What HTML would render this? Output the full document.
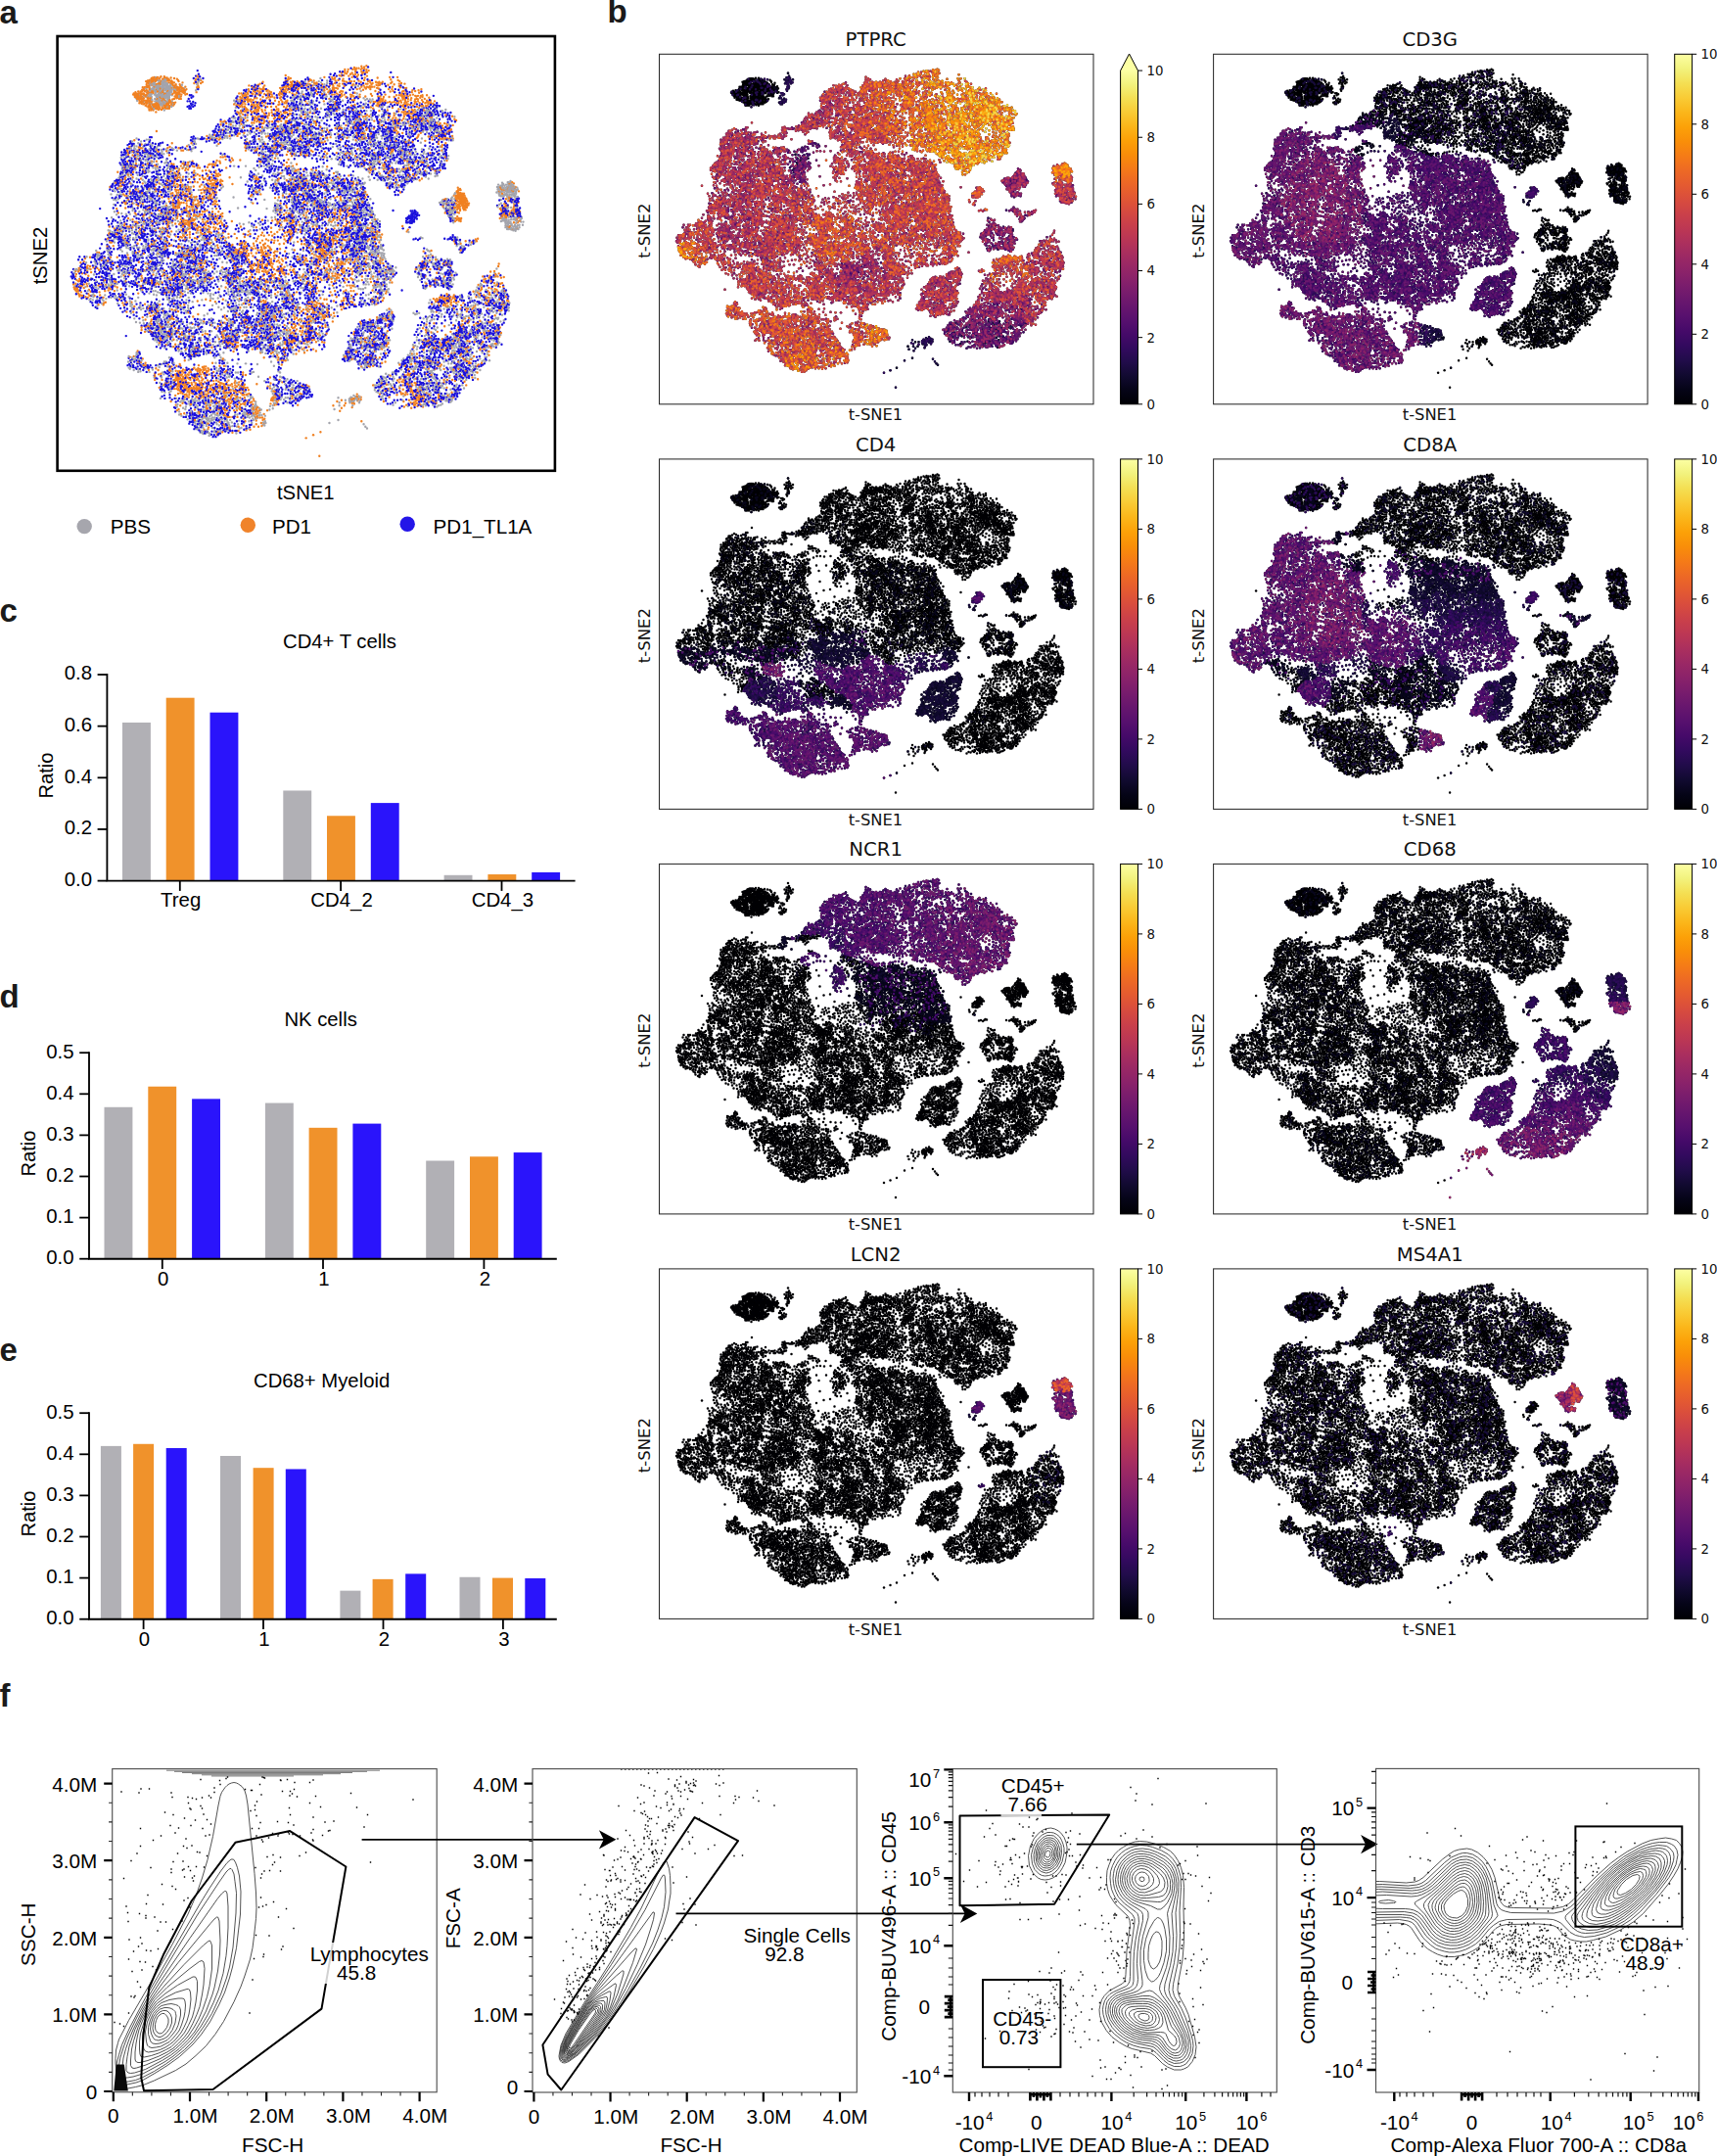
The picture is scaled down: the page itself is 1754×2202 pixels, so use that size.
<!DOCTYPE html><html><head><meta charset="utf-8"><title>Figure</title><style>html,body{margin:0;padding:0;background:#fff}svg{display:block}#all path{vector-effect:non-scaling-stroke}</style></head><body>
<svg width="1754" height="2202" viewBox="0 0 1754 2202" font-family="Liberation Sans,Arial,sans-serif" fill="#000">
<defs><linearGradient id="inf" x1="0" y1="0" x2="0" y2="1"><stop offset="0" stop-color="#fcffa4"/><stop offset="0.04167" stop-color="#f2f27d"/><stop offset="0.08333" stop-color="#f4df53"/><stop offset="0.125" stop-color="#f9cb35"/><stop offset="0.1667" stop-color="#fbb61a"/><stop offset="0.2083" stop-color="#fca108"/><stop offset="0.25" stop-color="#f98e09"/><stop offset="0.2917" stop-color="#f57b17"/><stop offset="0.3333" stop-color="#ed6925"/><stop offset="0.375" stop-color="#e45a31"/><stop offset="0.4167" stop-color="#d84c3e"/><stop offset="0.4583" stop-color="#ca404a"/><stop offset="0.5" stop-color="#bc3754"/><stop offset="0.5417" stop-color="#ab2f5e"/><stop offset="0.5833" stop-color="#9a2865"/><stop offset="0.625" stop-color="#8a226a"/><stop offset="0.6667" stop-color="#781c6d"/><stop offset="0.7083" stop-color="#67166e"/><stop offset="0.75" stop-color="#57106e"/><stop offset="0.7917" stop-color="#450a69"/><stop offset="0.8333" stop-color="#320a5e"/><stop offset="0.875" stop-color="#210c4a"/><stop offset="0.9167" stop-color="#110a30"/><stop offset="0.9583" stop-color="#050417"/><stop offset="1" stop-color="#000004"/></linearGradient><linearGradient id="inf2" x1="0" y1="0" x2="0" y2="1"><stop offset="0" stop-color="#fcffa4"/><stop offset="0.04779" stop-color="#fcffa4"/><stop offset="0.04779" stop-color="#fcffa4"/><stop offset="0.08747" stop-color="#f2f27d"/><stop offset="0.1271" stop-color="#f4df53"/><stop offset="0.1668" stop-color="#f9cb35"/><stop offset="0.2065" stop-color="#fbb61a"/><stop offset="0.2462" stop-color="#fca108"/><stop offset="0.2858" stop-color="#f98e09"/><stop offset="0.3255" stop-color="#f57b17"/><stop offset="0.3652" stop-color="#ed6925"/><stop offset="0.4049" stop-color="#e45a31"/><stop offset="0.4445" stop-color="#d84c3e"/><stop offset="0.4842" stop-color="#ca404a"/><stop offset="0.5239" stop-color="#bc3754"/><stop offset="0.5636" stop-color="#ab2f5e"/><stop offset="0.6032" stop-color="#9a2865"/><stop offset="0.6429" stop-color="#8a226a"/><stop offset="0.6826" stop-color="#781c6d"/><stop offset="0.7223" stop-color="#67166e"/><stop offset="0.7619" stop-color="#57106e"/><stop offset="0.8016" stop-color="#450a69"/><stop offset="0.8413" stop-color="#320a5e"/><stop offset="0.881" stop-color="#210c4a"/><stop offset="0.9206" stop-color="#110a30"/><stop offset="0.9603" stop-color="#050417"/><stop offset="1" stop-color="#000004"/></linearGradient><g id="all">
<path id="a0" d="M209 377h0m0 7h0m4 5h0m-4 7h0m-3-1h0m3 5h0m5-2h0m2 6h0m-1 2h0m0 3h0m-7-1h0m-3 0h0m-6 0h0m2-7h0m-1-6h0m-2-1h0m23 11h0m2-5h0m1-5h0m-2 18h0"/>
<path id="b0" d="M196 386h0m8 4h0m3 2h0m7 1h0m6 0h0m0 4h0m1-9h0m-3 0h0m0-2h0m-15-6h0m-10 19h0m-5 0h0m8 5h0m6 4h0m-1 4h0m-3-1h0m9-1h0m-3-6h0m7-2h0m7 12h0m-6 4h0"/>
<path id="c0" d="M190 393h0m3 2h0m6-3h0m7 9h0m5 7h0m7-1h0m4-5h0m-7-6h0m1-9h0m-4-1h0m-4-5h0m10 2h0m6 7h0m-20 20h0"/>
<path id="d0" d="M193 391h0m3-1h0m8-5h0m4 3h0m5-5h0m-6 21h0m2 1h0m4 0h0m-5 11h0m1 4h0m8-1h0m3-1h0m-22-17h0m-7 7h0"/>
<path id="e0" d="M206 378h0m4 14h0m8 4h0m-2 15h0m-4 10h0m-17-12h0m-6 4h0m-2-7h0m9-12h0"/>
<path id="f0" d="M201 405h0m6 8h0m5 0h0m8-2h0m1-3h0m2-3h0m2-3h0m-6 1h0m-2-3h0m-3 3h0"/>
<path id="a1" d="M155 268h0m6-2h0m1-3h0m7 2h0m3 0h0m4-1h0m4 4h0m2 4h0m5 7h0m-14-2h0m-8 3h0m-2-2h0m-3 2h0m-7 5h0m11 3h0m6 5h0m4 4h0m5-6h0"/>
<path id="b1" d="M149 282h0m19 7h0m6 0h0m4-2h0m6 1h0m2-4h0m-3-2h0m2-5h0m-8-2h0m-7 4h0m4 16h0m-3 2h0m9-33h0"/>
<path id="c1" d="M156 264h0m8-3h0m6 10h0m4-2h0m2-2h0m4 10h0m-4 7h0m5 6h0m-15 1h0m-1-9h0m2-3h0m-15 0h0m-2-3h0"/>
<path id="d1" d="M151 281h0m15 4h0m6 6h0m-4 3h0m-3 0h0m12 4h0m0-16h0m-1-5h0m-2-4h0m-2 1h0m-7-3h0"/>
<path id="e1" d="M165 264h0m3 10h0m0 2h0m-10-2h0m2 14h0m1 4h0m16 1h0m6-15h0m6 3h0m-6-13h0"/>
<path id="f1" d="M151 273h0m5 5h0m1 8h0m6-1h0m9 1h0m8-6h0m-3-10h0m-4 1h0m-4-3h0m-3-1h0m16-1h0m-1-5h0"/>
<path id="a2" d="M447 59h0m6 4h0m9-2h0m4 1h0m5 2h0m-3 3h0m6-7h0m-1-4h0m-7-2h0m-2 3h0m-19 12h0m-1 2h0m-5-2h0m-5 8h0m20 2h0"/>
<path id="b2" d="M433 69h0m2 2h0m4 1h0m-3-5h0m1-2h0m14-3h0m3-4h0m4 3h0m0-7h0m5 12h0m-8 2h0m4 10h0m4-2h0"/>
<path id="c2" d="M451 59h0m6-1h0m6 5h0m3 6h0m4-11h0m-18 16h0m-1 3h0"/>
<path id="d2" d="M443 60h0m4 4h0m8 0h0m-1-4h0m9-6h0m5 10h0m-5 14h0m-27-5h0"/>
<path id="e2" d="M443 57h0m-3 3h0m0 2h0m1 4h0m8 0h0m3-1h0m-4-3h0m12 2h0m2 6h0m6-15h0m-26 21h0"/>
<path id="f2" d="M438 58h0m0 5h0m4 0h0m3-1h0m0 3h0m-4 3h0m3 6h0m2 3h0m5-9h0m7 0h0m2 4h0m-9-15h0m11-6h0"/>
<path id="a3" d="M649 171h0m-3 3h0m-4 7h0m-1 4h0m6-2h0m3 4h0m-5 3h0m0 2h0m11-3h0m1-3h0m6-2h0m2 1h0m3 10h0m-2 2h0m-4 3h0m8 3h0m2-4h0m3-1h0m-1-6h0m3-9h0"/>
<path id="b3" d="M644 171h0m8-4h0m-1 11h0m4 5h0m-4 8h0m2 1h0m-1 2h0m-4-2h0m13 2h0m11-5h0m-1-6h0m-3-9h0"/>
<path id="c3" d="M646 177h0m-4 13h0m15 1h0m3-2h0m6 2h0m4 1h0m7-6h0"/>
<path id="d3" d="M643 174h0m6 5h0m6 0h0m2-5h0m-4-6h0m15 2h0m4 4h0m4 4h0m-2 7h0m-5 3h0m-4 1h0m3-6h0m8 9h0m-23-5h0m-5 2h0m-4-3h0m-3 1h0m1 6h0m5 1h0"/>
<path id="e3" d="M644 180h0m6-6h0m16 5h0m5-2h0m-10 20h0m-2 2h0m-5-2h0"/>
<path id="f3" d="M656 170h0m-4 6h0m8 2h0m-2 5h0m4 8h0m9 5h0m5-6h0m-7-9h0m2-10h0m-24 15h0"/>
<path id="a4" d="M469 424h0m0 6h0m2 1h0m2 2h0m-1 5h0m6 3h0m2-4h0m3 5h0m4 2h0m2 3h0m0 2h0m2 0h0m0 3h0m-10-4h0m-4 2h0m7-18h0m7-1h0m6-3h0m-5-8h0m-7-2h0m-18 14h0m-3-1h0m40 15h0m5-3h0m1 5h0m-3 9h0"/>
<path id="b4" d="M462 418h0m2 2h0m-1 2h0m2 5h0m4 1h0m6 10h0m7 12h0m-1 3h0m-5 0h0m16 2h0m9-6h0m-1-7h0m0-11h0m-7 2h0m-4-2h0"/>
<path id="c4" d="M472 423h0m1 6h0m4 8h0m2 2h0m2 5h0m2 3h0m3 3h0m2-9h0m0-2h0m-2 0h0m0-3h0m3 0h0m1 2h0m5-4h0m3 0h0m7 0h0m-8 10h0m10 7h0m-26-29h0"/>
<path id="d4" d="M471 425h0m5 7h0m-2 10h0m-3 0h0m13 2h0m9 2h0m4-9h0"/>
<path id="e4" d="M461 424h0m1 3h0m4-6h0m8 1h0m4 11h0m-4 2h0m-4-2h0m3 12h0m4 1h0m2 5h0m-7-2h0m9-8h0m3-4h0m-1-2h0m3-7h0m7 13h0m-3 2h0m5 5h0m5-2h0m0-10h0"/>
<path id="f4" d="M464 425h0m11 4h0m3 1h0m1-4h0m-3-2h0m7 3h0m6 0h0m7-7h0m2 19h0m-1 3h0m1 7h0m-5 1h0m-6 4h0m-18-18h0"/>
<path id="a5" d="M335 612h0m9-1h0m4 1h0m0 2h0m3-3h0m2 3h0m0 2h0m2-3h0m6 2h0m0 11h0m-14 0h0m-11 2h0m-2 4h0m5 3h0m8-27h0m-1-5h0"/>
<path id="b5" d="M343 601h0m6 2h0m3 3h0m3-1h0m3 3h0m2-12h0m-21 14h0m-11 6h0m15 11h0m8 4h0m9-9h0m-20 20h0"/>
<path id="c5" d="M341 604h0m-6 12h0m11 3h0m3 4h0m-3 7h0m-9 2h0m0 7h0m14-1h0m7-1h0m0-26h0m-5-1h0"/>
<path id="d5" d="M329 618h0m13-1h0m3-3h0m4 3h0m-6 6h0m4 14h0m10-4h0m0-4h0m3 0h0m-5-20h0m3-4h0m-1-7h0"/>
<path id="e5" d="M350 598h0m10 4h0m1-3h0m0 8h0m-4 10h0m-1 6h0m-2 12h0m-12-1h0m-4-12h0m12-13h0"/>
<path id="f5" d="M353 595h0m-10 11h0m17 4h0m-14 14h0m-12-1h0m17 12h0"/>
<path id="a6" d="M447 275h0m5 1h0m2-3h0m11 4h0m1-7h0m9 9h0m-5 11h0m3 2h0m-1 11h0m-9 3h0m-3 3h0m0-11h0m1-4h0m-1-4h0m-4 3h0m-2 3h0m3-11h0m-11-3h0"/>
<path id="b6" d="M440 281h0m1 3h0m5-7h0m8 1h0m4 11h0m-7 8h0m4 3h0m5 6h0m-3 6h0m15-16h0m4 0h0m0-5h0m-7-15h0"/>
<path id="c6" d="M455 280h0m4 3h0m0-7h0m3-3h0m10 4h0m4 10h0m-12 5h0m-5 1h0m12 6h0"/>
<path id="d6" d="M468 274h0m1 10h0m-6 5h0m3 13h0m-13 0h0m-1-2h0"/>
<path id="e6" d="M456 272h0m-2 4h0m-5 3h0m4 5h0m-1 7h0m8-4h0m3-3h0m-3-4h0m10 8h0m-1 6h0m-5 4h0m-2 3h0m-5 2h0m-1 3h0m17-24h0"/>
<path id="f6" d="M444 288h0m5-2h0m18 2h0m3-8h0m-3 25h0m-15 1h0"/>
<path id="a7" d="M305 121h0m-5 8h0m-3 3h0m-1 4h0m6-3h0m4 5h0m-1 4h0m5 1h0m4-6h0m5-4h0m-5-8h0m-5 6h0m-10 12h0m-6-1h0"/>
<path id="b7" d="M285 146h0"/>
<path id="c7" d="M305 124h0m4 1h0m3-2h0m3 4h0m-10 2h0m4 9h0m-7 2h0"/>
<path id="d7" d="M291 140h0m3-1h0m7-1h0m9-9h0m5 3h0m-1 11h0"/>
<path id="e7" d="M308 127h0m3 6h0m3 7h0m4-2h0m0 5h0m-10 0h0m-5-6h0"/>
<path id="f7" d="M296 141h0m15-1h0"/>
<path id="a8" d="M357 491h0m3 1h0m-2 3h0m1 3h0m2-1h0m3-6h0m-3-3h0m7 6h0m4 2h0m2-2h0m2 2h0m-6 3h0m8 5h0m5-4h0m11 1h0m0 5h0m-4 4h0m-10-24h0m-26 10h0m-3 5h0"/>
<path id="b8" d="M355 506h0m25-2h0m1-2h0m5 0h0m5 0h0m-5 8h0m-3-13h0m-4-2h0m-1-5h0m-4-2h0m4-4h0"/>
<path id="c8" d="M361 479h0m8 3h0m3-1h0m3 4h0m-2 6h0m-2 3h0m0 8h0m-9 1h0m15 6h0m6 8h0"/>
<path id="d8" d="M361 483h0m7 5h0m2-2h0m0 5h0m-4 5h0m1 7h0m7-4h0m3 3h0m9-6h0m4 8h0m-38 4h0"/>
<path id="e8" d="M364 499h0m13 8h0m3 1h0m10-10h0m-8-10h0"/>
<path id="f8" d="M366 483h0m-1 5h0m-1 7h0m3 5h0m9-7h0m4-1h0m-4-10h0m12 23h0m4 2h0m-37-7h0m-1 3h0"/>
<path id="a9" d="M139 518h0m3 4h0m1 3h0m2-5h0m11-2h0m3-7h0m-5 16h0m-3 7h0m2 2h0m6 0h0m6 2h0m4-5h0m4 0h0m1 2h0m2-2h0m-5 8h0m-6-13h0m-18 5h0m-10-3h0"/>
<path id="b9" d="M153 509h0m2 1h0m-2 2h0m-2 7h0m-7 4h0m-1 10h0m-4 1h0m9 4h0m12 2h0m9-5h0m-6-6h0"/>
<path id="c9" d="M141 516h0m7-1h0m7-9h0m9 13h0m-3 6h0m-5-1h0m10 6h0m4 0h0m-1-4h0m6 12h0"/>
<path id="d9" d="M158 508h0m-2 6h0m-3 8h0m5 1h0m0 4h0m-3 5h0m-8-2h0"/>
<path id="e9" d="M139 515h0m6 2h0m3 3h0m3-5h0m6 5h0m5 2h0m-6 15h0m0 4h0m-15-5h0m4-8h0m-7-4h0m38 17h0"/>
<path id="f9" d="M140 528h0m2 3h0m7-7h0m5-8h0m7 2h0m-1 12h0m2 2h0m4 2h0m7-4h0m5 0h0"/>
<path id="a10" d="M335 393h0m5 4h0m0 2h0m5-1h0m1 3h0m4 5h0m0 7h0m2 9h0m5 2h0m1-3h0m-18-8h0m-5 0h0m-5-6h0m-2 2h0m-3 3h0m-1-5h0m4-6h0m5 2h0m2 0h0m12-12h0m5 1h0"/>
<path id="b10" d="M324 403h0m4 2h0m6 3h0m2-2h0m3 2h0m3-3h0m-5-6h0m-1-2h0m3-6h0m6 4h0m3-2h0m-2-8h0m13 8h0m-6 14h0m5 4h0m-8 8h0m-12-5h0m-6 2h0"/>
<path id="c10" d="M329 398h0m8 5h0m7-13h0m7-2h0m-12 31h0m16 3h0"/>
<path id="d10" d="M332 398h0m-1 3h0m2 5h0m9-8h0m14-1h0m-1-6h0m-12 26h0"/>
<path id="e10" d="M319 407h0m7 2h0m3 3h0m7-2h0m7-2h0m1-4h0m-3-2h0m-2-1h0m1-7h0m12 2h0m0 3h0m1 6h0m-3 3h0m-3-1h0m6 5h0m3-3h0m2-4h0m-4 12h0m-6 4h0"/>
<path id="f10" d="M339 406h0m9 5h0m3-8h0m-2-6h0m5-2h0m3 5h0m0-11h0"/>
<path id="a11" d="M75 346h0m3 2h0m0 5h0m2 5h0m2 3h0m6 1h0m7-4h0m3-3h0m2 4h0m5 0h0m2 0h0m2-2h0m-5-3h0m3-8h0m-2-3h0m-3-6h0m1-5h0m-8 9h0m-4 7h0m-5 6h0m-2-1h0"/>
<path id="b11" d="M90 328h0m-3 7h0m2 9h0m4-1h0m2 6h0m-8 2h0m-7 5h0m-7-6h0m6-5h0m24-5h0m5 1h0m-2-6h0m6 1h0m-12-7h0"/>
<path id="c11" d="M82 342h0m3 0h0m10 9h0m-5 4h0m11 1h0m5-6h0m4 10h0m-10-28h0"/>
<path id="d11" d="M83 344h0m10 9h0m11-5h0m-3-8h0m-1-2h0m4 0h0m-27 19h0"/>
<path id="e11" d="M80 339h0m2 8h0m0 3h0m3-3h0m2-1h0m-1 13h0m-7 1h0m19 1h0m0-3h0m9-3h0m-5-10h0"/>
<path id="f11" d="M76 350h0m13-1h0m1 2h0m3 5h0m0 4h0m9-9h0m-2-16h0"/>
<path id="a12" d="M571 96h0m8 1h0m2 8h0m1 3h0m3 1h0m-6 2h0m0 3h0m-4 13h0m20-4h0m1-7h0m3-1h0m2-4h0m-1-3h0m1-3h0m-5-2h0"/>
<path id="b12" d="M563 95h0m9-5h0m9 4h0m4 22h0m3 0h0m-1 4h0m3 5h0m9-13h0m4-4h0"/>
<path id="c12" d="M575 92h0m1 8h0m4 2h0m11 4h0m1 15h0m-1 7h0m-9-5h0m-9-8h0m-4-2h0"/>
<path id="d12" d="M566 88h0m1 6h0m1 12h0m8 0h0m1 11h0m1 4h0m-9-3h0m28 0h0m3-1h0m3-5h0m-5-6h0m-19-19h0"/>
<path id="e12" d="M569 86h0m5 1h0m3 3h0m-12 8h0m11 14h0m14 2h0m6-2h0m-2-12h0m3-1h0m-3 26h0"/>
<path id="f12" d="M568 100h0m4 0h0m8 9h0m3 3h0m5 11h0m1 4h0m-16-6h0"/>
<path id="a13" d="M580 386h0m1 15h0m3 6h0m4-8h0m6 4h0m-1 4h0m4-1h0m-1-8h0m8-3h0m4 8h0m-3 1h0"/>
<path id="b13" d="M582 390h0m2 6h0m5-5h0m6 4h0m0 14h0m-3 1h0m2 2h0m0 4h0m-5-8h0m43-3h0"/>
<path id="c13" d="M576 391h0m4 6h0m3-4h0m5 2h0m0-8h0m11 9h0m5 11h0m-1 3h0m-4 8h0m-2 4h0m-9-12h0m-9-5h0"/>
<path id="d13" d="M592 395h0m-1 2h0m2 3h0m5 12h0m-2 3h0m-4-1h0"/>
<path id="e13" d="M572 395h0m10 3h0m3 2h0m1-6h0m5-8h0m6 5h0m4 4h0m3 4h0m-6 5h0m2 2h0m7 2h0"/>
<path id="f13" d="M586 391h0m8 2h0m6-1h0m1 6h0m0 5h0m-10 2h0m-6-1h0m25 8h0"/>
<path id="a14" d="M285 479h0m-3 7h0m-1 2h0m1 7h0m1 1h0m3 0h0m-5 3h0m-1 6h0m5 0h0m-2 4h0m-9-2h0m0-4h0m0 8h0m2-18h0m15-3h0m0-4h0m4-3h0m3 24h0m-4 4h0m-2 3h0"/>
<path id="b14" d="M276 486h0m9 2h0m10 3h0m2 7h0m6-4h0m-2 16h0m2 3h0m-12-8h0m-13 3h0m-8-4h0"/>
<path id="c14" d="M281 478h0m-2 14h0m6 1h0m4 7h0m-2 9h0m-17-12h0"/>
<path id="d14" d="M276 496h0m18 3h0m1 4h0m9 0h0m-4 9h0m-3 2h0"/>
<path id="e14" d="M268 491h0m9 10h0m7-2h0m7-3h0m11-5h0m2 7h0m-10 19h0m-15-6h0m5-29h0"/>
<path id="f14" d="M276 482h0m3 3h0m-1 13h0m4 8h0m8 3h0m10-12h0"/>
<path id="a15" d="M505 309h0m6 4h0m-4 3h0m0 3h0m-2 2h0m4 1h0m3-1h0m3 2h0m0 3h0m9 1h0m1-7h0m6 2h0m5-1h0m2-6h0m-3-5h0m-4 1h0m-5 1h0m-3 1h0m-5-1h0m-1-6h0m6 1h0m4 0h0m-3-5h0m-25 15h0m1 9h0m6 6h0m17 4h0m3 7h0"/>
<path id="b15" d="M504 313h0m4 0h0m2 5h0m-7 5h0m-1 2h0m-1-4h0m13-11h0m5-5h0m4-1h0m7 4h0m4-2h0m-8 11h0m-3-2h0m0 7h0m-2 7h0m-7 4h0m11 5h0m4 1h0m0-3h0m1-3h0"/>
<path id="c15" d="M502 315h0m8 1h0m3 3h0m7-1h0m1 6h0m4 6h0m0 2h0m4-2h0m3 6h0m-13-4h0m-8 4h0m-12-13h0m19-21h0m15 5h0m3 6h0m0 5h0m-2 2h0"/>
<path id="d15" d="M502 311h0m5-1h0m4-1h0m10 0h0m-2 12h0m-7 7h0m-11 2h0m13 10h0m9 1h0m11-7h0m-1-5h0m4-5h0"/>
<path id="e15" d="M510 302h0m3 13h0m3 1h0m-8 8h0m0 4h0m14 5h0m-5 8h0m11-20h0m10-1h0"/>
<path id="f15" d="M508 305h0m6 1h0m0 2h0m14 1h0m1-5h0m3 1h0m1 10h0m-3 1h0m3 9h0m4 3h0m2-6h0m-7 10h0m-14-6h0m-14 1h0m0 2h0m-1 4h0m-1-15h0"/>
<path id="a16" d="M279 327h0m1 2h0m7 5h0m-10 4h0m-5-1h0m-6 4h0m1 10h0m4 2h0m3 0h0m1-3h0m0-3h0m4 12h0m2 3h0m3 2h0m10 0h0m2-4h0m-3-1h0m8-13h0m-3-22h0"/>
<path id="b16" d="M266 323h0m8 7h0m-1 4h0m5-2h0m4-8h0m10 4h0m6 10h0m4 0h0m-9 4h0m-4-2h0m-1 8h0m3 5h0m-7 4h0m-12-2h0m-2 3h0m-3-2h0m-2-10h0m6 0h0m-3-8h0m32 27h0"/>
<path id="c16" d="M277 328h0m5-2h0m2 2h0m3-2h0m12 4h0m1 4h0m-4 5h0m-16 3h0m-4 1h0m1 13h0m-1 4h0m-5 0h0m-3 0h0m-3 1h0m5-6h0m18 7h0"/>
<path id="d16" d="M268 329h0m-1 2h0m1 3h0m13 5h0m14-8h0m-22 27h0m-10-2h0m1-3h0"/>
<path id="e16" d="M290 325h0m-2 6h0m-3 5h0m9-1h0m5 7h0m-1 5h0m-4 0h0m9 5h0m-23 3h0"/>
<path id="f16" d="M271 330h0m5-4h0m4 9h0m5 4h0m5-3h0m13 7h0m-5 11h0m-10 4h0m-8-8h0m-8-1h0m0-7h0m-7-3h0m-1 10h0m5 14h0m34-38h0"/>
<path id="a17" d="M132 201h0m-3 4h0m7 3h0m1-3h0m9 7h0m-8 8h0m2 4h0m-3 3h0m-5-2h0m-5-1h0m-4 1h0m-1-4h0m-3 1h0m-2-1h0m-3 2h0m3 4h0m-2 8h0m-5 4h0m-5-2h0m4-7h0m14-13h0m3-1h0m2 4h0m5 13h0m13-3h0"/>
<path id="b17" d="M128 201h0m-3 7h0m4 8h0m3-2h0m2 8h0m1 7h0m-4 1h0m0 4h0m-2 3h0m-3 2h0m-8-2h0m3-6h0m-1-4h0m-1-2h0m-2-2h0m0 6h0m-3 2h0m-5 2h0m28 0h0m6-1h0m-1-13h0m2-13h0"/>
<path id="c17" d="M119 208h0m13-4h0m-2-5h0m7 12h0m1 2h0m5 0h0m3 4h0m1-9h0m-14 9h0m-1 3h0m-3 6h0m-5 1h0m2 4h0m-3 1h0m-4 3h0m-4-9h0m10-4h0m17 5h0m-37 6h0"/>
<path id="d17" d="M127 203h0m4 4h0m-10 11h0"/>
<path id="e17" d="M128 198h0m8 4h0m3 8h0m-5 2h0m-6 0h0m-5 2h0m16 2h0m6 5h0m-1 7h0m-3 8h0m-15 0h0m-4 0h0m-8 4h0m-3-3h0m1-11h0"/>
<path id="f17" d="M124 211h0m4-2h0m6 0h0m0-4h0m6 1h0m3 3h0m5 15h0m-14 12h0m-6-7h0m-18-1h0m-3 4h0"/>
<path id="a18" d="M442 566h0m4 1h0m2-2h0m2 1h0m-4 6h0m9 3h0m2 1h0m-2 2h0m5 0h0m0 6h0m4-1h0m2-9h0m-1-4h0m-7-4h0m-9 20h0"/>
<path id="b18" d="M449 569h0m6-4h0m5 9h0"/>
<path id="c18" d="M452 564h0m4 6h0m4-7h0m4 2h0m-13 13h0m-3-1h0m2 6h0"/>
<path id="d18" d="M453 567h0m5-4h0m1 8h0m7 8h0m4 0h0m-1 3h0m-14 0h0m-4-1h0"/>
<path id="e18" d="M443 556h0m2 5h0m-1 7h0m4 12h0m16-12h0"/>
<path id="f18" d="M448 560h0m-3 4h0m9-2h0m2 6h0m-1 5h0m7 3h0m1-3h0m-2-6h0m-17 7h0m3 9h0m5 1h0"/>
<path id="a19" d="M690 96h0m-2 3h0m8-2h0m0 11h0m9 5h0m5-4h0m4 4h0m4 4h0m2-8h0"/>
<path id="b19" d="M689 81h0m6 12h0m5 5h0m-8 4h0m-4 4h0m-4-4h0m3 11h0m3 8h0m10-1h0m-2-6h0m-1-3h0m5-4h0m4 9h0m6-1h0m3 5h0"/>
<path id="c19" d="M691 90h0m-3 4h0m-3 15h0m26 4h0m12 2h0"/>
<path id="d19" d="M691 99h0m10 13h0m-6 6h0m3 6h0"/>
<path id="e19" d="M687 109h0m2 2h0m0 3h0m5-11h0m11 3h0m6-2h0m16 12h0"/>
<path id="f19" d="M693 97h0m2 3h0m0 6h0m-4 2h0m-1-4h0m3 8h0m13-2h0m9 0h0m3 4h0"/>
<path id="a20" d="M568 172h0m1 6h0m4 0h0m-1 3h0m7-1h0m0 7h0m-5 1h0m-3 7h0m-3-2h0m-4-2h0m-3-3h0m-3 4h0m3-10h0m17-10h0m10 4h0m-1 3h0m4 1h0m0-3h0m4-1h0m3 3h0m-1 2h0m2-7h0m-9-7h0m-1 16h0m0 3h0m0 7h0m3 2h0m-10 4h0m-3 2h0m1 5h0m-1 2h0m6 5h0m2-3h0m-5 8h0"/>
<path id="b20" d="M562 176h0m3 1h0m2 2h0m2 8h0m7 3h0m8-4h0m0-4h0m5-4h0m6-6h0m3 15h0m3 5h0m2 3h0m-25 17h0m-5-10h0m-12-9h0"/>
<path id="c20" d="M564 181h0m1 8h0m-6 6h0m4 3h0m8 5h0m4 2h0m2-1h0m-2-4h0m-1-8h0m10 11h0m-10 6h0m17-18h0m1-8h0m-10-7h0m21 13h0m-3 6h0m-2 2h0m2 2h0"/>
<path id="d20" d="M566 183h0m7 14h0m6 1h0m3-3h0m4 0h0m2-6h0m-1-5h0m-5 0h0m-1 5h0m12-1h0m-8-11h0m-3-6h0m9 0h0m-11 32h0m-8 13h0m-16-20h0"/>
<path id="e20" d="M571 172h0m5 8h0m1 3h0m3-1h0m5-3h0m7-4h0m0-10h0m-8 25h0m-3 3h0m-3 2h0m-1-3h0m-12 10h0m-8-3h0m3-13h0m12 21h0m9 3h0m9-2h0m6-7h0m0-8h0"/>
<path id="f20" d="M568 175h0m6 0h0m5 2h0m3 3h0m0 6h0m-4-1h0m-2 10h0m-12 1h0m0-2h0m-4 4h0m8 6h0m23-3h0m10-16h0m-7-6h0m-4-5h0m3-6h0m-8 0h0"/>
<path id="a21" d="M439 120h0m3-2h0m6 0h0m1 9h0m-2 4h0m-5-3h0m-2 3h0m-7 0h0m6 7h0m8 7h0m6-2h0m3-1h0m2-6h0m3 1h0m-5-4h0m-3 16h0m1 3h0m4 1h0m-6 6h0m-3-3h0m-2 1h0m-4 1h0"/>
<path id="b21" d="M437 121h0m2 2h0m0 5h0m4 4h0m2 1h0m0 4h0m0 3h0m5 2h0m8-3h0m3-5h0m2 2h0m-3-7h0m-4 0h0m-6-4h0m-5-5h0m-6 15h0m-5-1h0m-5 3h0m-3-1h0m2-3h0m29 16h0m4 0h0m0-5h0"/>
<path id="c21" d="M432 129h0m2 9h0m-1 2h0m0 3h0m10-8h0m9-8h0m2 13h0m6 2h0m2 5h0m-11 7h0m-2-2h0m0-4h0m-4 7h0"/>
<path id="d21" d="M426 127h0m-1 5h0m12-2h0m7 0h0m1-4h0m-3-1h0m-6-8h0m-2 2h0m16 0h0m9 6h0m1 15h0m-7 7h0m-8 1h0m12 10h0"/>
<path id="e21" d="M434 122h0m-3 16h0m-2 2h0m7 6h0m5 6h0m5-2h0m9 7h0m7-5h0m1-10h0m-14-5h0"/>
<path id="f21" d="M429 126h0m3-1h0m5 8h0m-5 2h0m5 7h0m5 0h0m0-4h0m5-10h0m6 4h0m1 4h0m4 9h0m6 0h0m-7-24h0m-3 1h0"/>
<path id="a22" d="M529 37h0m0 6h0m5-2h0m5 4h0m3-2h0m1-6h0m4 0h0m2 1h0m-3 19h0m-2 5h0"/>
<path id="b22" d="M527 47h0m5-3h0m12 2h0m7 3h0m-1-14h0"/>
<path id="c22" d="M520 41h0m4 6h0m13 6h0m11-3h0m2 10h0m-10-25h0"/>
<path id="d22" d="M522 48h0m14 0h0m5 9h0m-9 1h0m16-13h0m5 1h0m1-11h0m-19 2h0"/>
<path id="e22" d="M523 43h0m6-3h0m-3 13h0m12 4h0m4-7h0m6-9h0m-2-7h0"/>
<path id="f22" d="M525 41h0m10 19h0m4 0h0m7-11h0m6 4h0m-1-11h0"/>
<path id="a23" d="M297 555h0m4 8h0m-6 4h0m1 3h0m-3 2h0m-3-1h0m15 13h0m5-8h0m0-8h0m2-6h0m-2-1h0m6-3h0m6 5h0"/>
<path id="b23" d="M295 547h0m2 14h0m-1 4h0m-3 4h0m-2-2h0m9 8h0m8-6h0m0-3h0m4 7h0m3-2h0m5 0h0m-1-4h0m-6-12h0m-5 27h0m-5 3h0m-15-5h0"/>
<path id="c23" d="M289 576h0m6 3h0m2 9h0m14-9h0m6-2h0m-12-4h0m-6-4h0"/>
<path id="d23" d="M292 556h0m1 5h0m8-4h0m3 2h0m-2 8h0m9-3h0m5 4h0m2-5h0m2 12h0m-7 1h0m1 4h0m-4 4h0m-18-9h0m-6 8h0"/>
<path id="e23" d="M299 566h0m5 0h0m-7 7h0m3 5h0m6-1h0m2 9h0m-10-2h0m-5-2h0m-2-3h0m24-18h0"/>
<path id="f23" d="M289 563h0m-1 7h0m10 7h0m4-4h0m2-5h0m0-5h0m3-3h0m6 6h0m0 3h0m-3 4h0m6 2h0m-4 7h0m-17 4h0"/>
<path id="a24" d="M222 219h0m4 0h0m-5 8h0m-1 4h0m3 6h0m6 1h0m-3 5h0m0 3h0m3 1h0m3 4h0m8-1h0m6-1h0m-9-8h0m5-8h0m8 3h0m-21-6h0"/>
<path id="b24" d="M222 221h0m1 12h0m9-3h0m1 3h0m3 4h0m6-1h0m1 4h0m-5 6h0m-5-3h0m-1 3h0m-3 4h0m-5-2h0m10 4h0m20-27h0"/>
<path id="c24" d="M223 231h0m10 8h0m7-1h0m-1-4h0m0-3h0m6-1h0m6 3h0m-1 6h0m-1 3h0m-21 2h0m-2 6h0"/>
<path id="d24" d="M222 224h0m5 9h0m-1 5h0m-8 5h0m18-14h0m-3-4h0m14 15h0m-2 5h0m-3 7h0"/>
<path id="e24" d="M226 223h0m3-1h0m7 0h0m5 7h0m5-4h0m-1 11h0m4 8h0m-5 4h0m-3 0h0m-7 0h0m-2-12h0"/>
<path id="f24" d="M226 228h0m9 4h0m9 5h0m3 0h0m0-4h0m3-8h0m-17-4h0m-9 19h0m5 2h0m7 3h0m5-1h0m-20 3h0"/>
<path id="a25" d="M390 360h0m4 3h0m4 4h0m-5 4h0m-4 7h0m9 3h0m10 4h0m9-8h0m3-1h0m-3-3h0m-3 1h0m-1-3h0m4-2h0m-21-12h0"/>
<path id="b25" d="M388 362h0m-1 3h0m7-7h0m5 3h0m-2 4h0m11 1h0m3-7h0m-2-4h0m-3 2h0m-4-5h0m15 4h0m3 10h0m-9 14h0m-8-2h0m-6 0h0m-3 7h0m8-1h0m-15-9h0m34-35h0"/>
<path id="c25" d="M388 368h0m13-12h0m12 9h0m-3 4h0m1 5h0m8-3h0m-14 14h0"/>
<path id="d25" d="M390 374h0m10 6h0m1-10h0m8 3h0m6-2h0m-1-3h0m6 11h0m-5-26h0m7-1h0"/>
<path id="e25" d="M389 364h0m7-4h0m10 12h0m9-10h0m-5-12h0m1 36h0m-15-1h0"/>
<path id="f25" d="M392 361h0m4 10h0m2 4h0m-6 1h0m3 5h0m-3 1h0m16-11h0m4 6h0m2 5h0m8-34h0m2-4h0m-7 3h0"/>
<path id="a26" d="M43 394h0m5-4h0m2-1h0m8 6h0m5-1h0m1 4h0m-6 3h0m-5 7h0m-5 2h0m0-4h0m-1-2h0m-1-3h0m-3 0h0m-2 2h0m9 12h0m15 2h0m1-6h0m4-4h0m-3-3h0"/>
<path id="b26" d="M53 390h0m-1 4h0m3 2h0m-6 3h0m2 6h0m6 9h0m-3 4h0m9-8h0m9-14h0m5-8h0"/>
<path id="c26" d="M42 398h0m19 1h0m6-5h0m4-9h0m-6 21h0"/>
<path id="d26" d="M39 392h0m8 3h0m7-8h0m8 1h0m1 31h0"/>
<path id="e26" d="M45 388h0m5-2h0m1 12h0m3 0h0m-9 5h0m-2 2h0m2 2h0m4 5h0m3 1h0m3 1h0m6 2h0m7-2h0m0-27h0m-29 8h0m1 5h0"/>
<path id="f26" d="M42 386h0m3 12h0m7 3h0m8 5h0m-3 11h0m-13-6h0m11-19h0m2-3h0m2-3h0m-4-2h0m5 7h0m5-2h0m0-4h0m6 2h0m2-1h0m-4 12h0m3 3h0m2-2h0m-1 5h0"/>
<path id="a27" d="M588 214h0m3 3h0m3 0h0m1 4h0m4-2h0m2 3h0m2-5h0m2-9h0m4-6h0m5-1h0m3 5h0m6-3h0m2 11h0m3 8h0m-5 12h0m3 5h0m-7 2h0m1 5h0m-5-13h0m-4-2h0m1-2h0m-3 3h0m1 3h0m-4-8h0m10-11h0m-9-19h0m28 40h0"/>
<path id="b27" d="M593 219h0m4-3h0m11-3h0m3 1h0m-3 5h0m7 8h0m6-2h0m0-7h0m6-1h0m5 16h0m0 8h0m-7 5h0m-3-8h0m-9-31h0m3-4h0"/>
<path id="c27" d="M599 203h0m5 0h0m6 4h0m-3 3h0m-1 6h0m3 11h0m-3 7h0m12-7h0m4-6h0m-4-7h0m3-5h0m-1-2h0m-1-3h0m-6 0h0m-3-6h0m-18 13h0m34 19h0m3 12h0"/>
<path id="d27" d="M602 202h0m10 8h0m-2 7h0m3 3h0m-2 5h0m0 2h0m-3 2h0m13 2h0m1-3h0m5 5h0m4-9h0m-30-8h0m-5-2h0m-3 0h0"/>
<path id="e27" d="M588 221h0m10 1h0m7-3h0m1 2h0m12 13h0m6-9h0m4-12h0m0-5h0m-1-5h0"/>
<path id="f27" d="M604 199h0m3 1h0m0 4h0m-4 6h0m-3-3h0m9-12h0m7 14h0m7-2h0m-6 14h0m-2 8h0m-11 1h0m0-3h0m26 4h0m2-3h0"/>
<path id="a28" d="M484 279h0m2 0h0m6-4h0m2-2h0m0 10h0m-5 4h0m-10-2h0m21 4h0m2 1h0m0-4h0m9-7h0m1-3h0m-4 0h0"/>
<path id="b28" d="M478 282h0m4 3h0m2 3h0m3-1h0m-8 1h0m5-12h0m4-1h0m7 2h0m5-1h0m0 3h0m-2 4h0m9 0h0m-14 14h0m-5 5h0m8 3h0m-1 2h0m4-3h0"/>
<path id="c28" d="M491 278h0m12 5h0m0 5h0m-3 4h0m-2 4h0m6 0h0m4 2h0m4-1h0m-1-5h0m1-7h0m-24 12h0m-8 0h0m-1-3h0m17 16h0"/>
<path id="d28" d="M480 277h0m2 4h0m6-3h0m0 6h0m1 9h0m6 1h0m-12 4h0m-3-7h0m17-18h0m7 1h0m1 29h0m-2 4h0"/>
<path id="e28" d="M489 281h0m14-5h0m6 9h0m-1 3h0m-3 3h0m-10 11h0m5 6h0m-22-9h0"/>
<path id="f28" d="M492 282h0m5-2h0m9-1h0m4 3h0m-4-11h0m-13 20h0m-10 10h0"/>
<path id="a29" d="M359 132h0m3 4h0m2-1h0m-5 4h0m-6 0h0m9 11h0m-4 7h0m-3 5h0m0 5h0m-4 1h0m-3-8h0m1-5h0m15 3h0m-2 9h0m5 0h0m-2 9h0m4-31h0m1-6h0m0-7h0m9 9h0"/>
<path id="b29" d="M358 144h0m10 4h0m0 6h0m-6 2h0m-5 8h0m-2 1h0m-3 0h0m3 5h0m6 0h0m3 0h0m4 1h0m4-6h0m4-8h0"/>
<path id="c29" d="M347 143h0m12-7h0m10 0h0m4-1h0m3 4h0m-2 14h0m-3 16h0m-4 4h0m-17-1h0m-1-5h0m1-4h0m1-5h0m5 1h0"/>
<path id="d29" d="M342 151h0m7-2h0m2 12h0m6 6h0m8-6h0m2-4h0m4 4h0m-5-10h0m-1-3h0m11-15h0"/>
<path id="e29" d="M362 130h0m-6 11h0m-3 5h0m-7 1h0m6 6h0m14-11h0m13 2h0m0 6h0m1 4h0m-4 1h0"/>
<path id="f29" d="M361 141h0m13 2h0m0 5h0m-9 6h0m-5 7h0m-7-1h0m7 12h0m9 3h0m6-46h0"/>
<path id="a30" d="M539 92h0m5 6h0m-2 7h0m2 3h0m0 3h0m3 2h0m0 3h0m-4 0h0m-5 4h0m-2 4h0m2 3h0m11 1h0m1 3h0m2 1h0m-1 4h0m-3 3h0m6-13h0m-1-1h0m5-4h0m-4-6h0m-1-3h0m-2-2h0m-2-1h0m2 8h0m9-9h0m-2-2h0m0-14h0m-21 15h0m-4-6h0m-1 15h0m4 0h0m25 13h0m2-2h0m3 0h0m3-1h0"/>
<path id="b30" d="M540 101h0m-3 10h0m-7 3h0m1 6h0m9 3h0m4-3h0m3-1h0m2-5h0m7-2h0m0 7h0m4 7h0m-9 0h0m-6 10h0m21-25h0"/>
<path id="c30" d="M541 97h0m6-1h0m-3 8h0m-8-1h0m20 6h0m-1 7h0m7 0h0m4-1h0m1 5h0m-3 10h0m-7 3h0m-4-3h0m-4 5h0m-2-2h0m-1-8h0m3-5h0m8 4h0m5-23h0"/>
<path id="d30" d="M548 106h0m10-5h0m1 12h0m-5 10h0m-9 6h0m-3-1h0m-7-1h0m-3-3h0m2-3h0m6-6h0m29 7h0"/>
<path id="e30" d="M550 102h0m1 5h0m8-9h0m-5 22h0m-3 1h0m-3 2h0m-7 2h0m23-5h0"/>
<path id="f30" d="M544 91h0m8 3h0m1 5h0m3-1h0m-9 2h0m-4 2h0m-4 6h0m-3-8h0m17 7h0m11-1h0m0 18h0m-6 6h0m-2-2h0m-1 3h0m-2 4h0m-6-5h0m-3 3h0"/>
<path id="a31" d="M178 464h0m5 4h0m-4 6h0m-4 0h0m7 5h0m-1 2h0m3 0h0m-1 5h0m7-1h0m1 2h0m3 2h0m-2-7h0m-3-3h0m5-1h0m6 4h0m6-8h0m-8-9h0m-6 5h0m-6-9h0m2-7h0m9 0h0m2 3h0"/>
<path id="b31" d="M191 453h0m2 3h0m2-2h0m-5 3h0m1 3h0m3 7h0m1 3h0m2 1h0m4 0h0m4 0h0m-3 7h0m-6 4h0m-2 2h0m-5 3h0m-3 1h0m0-3h0m0-7h0m0-4h0m0-2h0m3-4h0m-7-3h0m-7 5h0m27-8h0"/>
<path id="c31" d="M180 461h0m-4 5h0m1 6h0m4 3h0m12-2h0m5-6h0m3-1h0m-6-2h0m0-3h0m1 24h0"/>
<path id="d31" d="M184 458h0m0 3h0m1 2h0m-6 5h0m4 8h0m4 0h0m11 5h0m2-12h0m4-1h0m-5-7h0m-2-2h0"/>
<path id="e31" d="M188 457h0m1 7h0m3 0h0m5-2h0m7 3h0m-5 7h0m-1 3h0m1 3h0m-4-4h0m-4 5h0m-4-11h0m-15 5h0m18 18h0"/>
<path id="f31" d="M174 468h0m7 1h0m8 2h0m3-4h0m-2-2h0m2 11h0m-4 6h0m-9-4h0m24-4h0"/>
<path id="a32" d="M553 254h0m3 6h0m-6 2h0m-2-3h0m0 7h0m-1 2h0m3-1h0m5 0h0m4 1h0m1-3h0m4-2h0m2-2h0m-3-2h0m1-7h0m-3-1h0m8 3h0m-1 15h0m3 3h0m4 2h0m5 4h0m-2 5h0m-12 3h0m-5-1h0m-1 3h0m-4-4h0m-3-2h0m-1-6h0m12 4h0m14-12h0"/>
<path id="b32" d="M550 258h0m-3 5h0m-4 7h0m5 1h0m6 2h0m6-1h0m4-3h0m2 2h0m1 5h0m2 0h0m3 2h0m0 3h0m3-1h0m1-3h0m1-5h0m-3-2h0m0-3h0m-4-1h0m1-7h0m4-6h0m-13 3h0m-3 0h0m-4-2h0m-5 25h0m-1 2h0m10 4h0m24-5h0"/>
<path id="c32" d="M550 254h0m7-2h0m4 6h0m-8 4h0m-1 3h0m0 4h0m2 11h0m23 0h0m-11-30h0"/>
<path id="d32" d="M553 257h0m1 2h0m6 3h0m2 3h0m-5 2h0m0 4h0m2 5h0m-3 1h0m3 3h0m-9 4h0m1-13h0m-6-6h0m21-8h0m3 6h0m4 0h0m-2 24h0"/>
<path id="e32" d="M544 262h0m14 1h0m-1 11h0m-4 4h0m0 7h0m9-3h0m4 0h0m-3-6h0m0-3h0m15 3h0m1-2h0"/>
<path id="f32" d="M559 253h0m-4 10h0m-10 5h0m4 7h0m9 7h0m10-3h0m1-8h0m-2-4h0m8 16h0m-7 5h0m3-39h0"/>
<path id="a33" d="M398 289h0m9 1h0m3 2h0m-3 2h0m5-6h0m5 16h0m4 5h0m-2 6h0m4 8h0m-15-1h0m-6-11h0m-4 3h0m-2-6h0m11 0h0m-27 1h0"/>
<path id="b33" d="M396 293h0m8 3h0m6 2h0m9 8h0m-3 6h0m-8 4h0m-6 1h0m21 17h0"/>
<path id="c33" d="M415 291h0m1 9h0m-4 0h0"/>
<path id="d33" d="M411 328h0m8-1h0"/>
<path id="e33" d="M408 287h0m4 7h0m9 7h0m-8 16h0m-24-8h0"/>
<path id="f33" d="M404 287h0m10 9h0m-3 8h0m-15-3h0m-4 12h0m10 9h0m18-2h0m0-31h0"/>
<path id="a34" d="M361 209h0m1 5h0m0 3h0m-2 5h0m9 0h0m3 4h0m2-2h0m1-7h0m-7 13h0m2 2h0m2 2h0m1-2h0m3 3h0m-9 0h0m-8-3h0m-4-1h0m1 9h0m-1 3h0m1 9h0m8-7h0m6-1h0m2 1h0m-4 8h0m3 7h0"/>
<path id="b34" d="M357 211h0m12 3h0m-16 10h0m14 18h0m5-2h0m-9 9h0m-3 9h0m24-4h0"/>
<path id="c34" d="M365 215h0m2 4h0m3 1h0m3 0h0m-3-3h0m-1 10h0m6 11h0m-5 4h0m-2-2h0m-7 6h0m-2 2h0m4 12h0m14-15h0"/>
<path id="d34" d="M359 207h0m0 9h0m8 8h0m13 8h0m-16 7h0m-3 3h0m-4-6h0"/>
<path id="e34" d="M341 217h0m22 3h0m-1 13h0m0 3h0m7 0h0m6 5h0m2-8h0m2-5h0m-6-17h0"/>
<path id="f34" d="M357 214h0m0 6h0m4 10h0m-11-1h0m15-17h0m11 11h0m-1 7h0m6 7h0m-21 17h0"/>
<path id="a35" d="M221 260h0m-2 8h0m3 6h0m5-6h0m4-6h0m-2-6h0m-1-2h0m10 5h0m6 5h0m-1 4h0m-1 2h0m-3 2h0m-4 2h0m-2 8h0m-7 3h0m22-19h0"/>
<path id="b35" d="M221 253h0m-2 6h0m4 6h0m2 7h0m-1 3h0m2 2h0m-6 3h0m14-10h0"/>
<path id="c35" d="M226 261h0m4 3h0m6 8h0m-9 2h0m-4 4h0m1 5h0m13-29h0"/>
<path id="d35" d="M219 255h0m0 9h0m2 2h0m5-1h0m4 2h0m4-8h0m9 13h0m-16 10h0"/>
<path id="e35" d="M222 250h0m2 6h0m2 2h0m-3 2h0m-3 11h0m5 9h0m6-1h0m5-1h0m3-3h0m3 0h0m-3-7h0m2-13h0"/>
<path id="f35" d="M220 262h0m3 6h0m5-3h0m1-2h0m-1-4h0m3 0h0m12 1h0m1-4h0m-16 22h0m-8-2h0"/>
<path id="a36" d="M514 127h0m1 9h0m3 4h0m5-2h0m7 7h0m3 1h0m11-3h0m-1-3h0m-22 10h0m-4-1h0m-6-4h0m-9-6h0m11 17h0m4 1h0m3 1h0"/>
<path id="b36" d="M511 130h0m6 2h0m3 5h0m6 5h0m1 3h0m-2 4h0m0 4h0m7 3h0m3-10h0m4 0h0m3-3h0m-8-2h0m-3-1h0m-2-1h0m4-3h0m-6-9h0m-22 11h0m-4 7h0m7 16h0m7 4h0"/>
<path id="c36" d="M512 135h0m6 0h0m2-2h0m3 2h0m8-5h0m9 4h0m-7 17h0m-8-5h0m-8-1h0m5 9h0m-19-4h0"/>
<path id="d36" d="M516 130h0m7 14h0m4 4h0m4-5h0m13 11h0m-31-3h0m-9-5h0"/>
<path id="e36" d="M503 143h0m12 0h0m-1-11h0m8-1h0m6 4h0m8 4h0m4-2h0m6 9h0m-2 3h0m-8 1h0m-8 0h0m-15 11h0"/>
<path id="f36" d="M518 126h0m0 4h0m17 1h0m6 10h0m-5 16h0m-6 2h0m0 2h0m-11 2h0m-1-11h0m2-5h0"/>
<path id="a37" d="M667 139h0m7 6h0m11 2h0m9 4h0m5-8h0m3-10h0m-9 1h0m-2-2h0m0-3h0m1-4h0m-4 7h0m-11 2h0m-2-2h0"/>
<path id="b37" d="M674 134h0m1 3h0m3 0h0m3 7h0m5-2h0m4-4h0m5 4h0m0-8h0m3-2h0m3-1h0m-7-1h0m-10-2h0m-1 3h0m0 18h0m8 5h0m-9 5h0m1 6h0"/>
<path id="c37" d="M670 139h0m13-5h0m12-8h0m4 3h0m2-2h0m-3 19h0m-2 2h0m-3 0h0m-7 2h0m1 4h0m-7-5h0"/>
<path id="d37" d="M682 127h0m5 1h0m0 7h0m-4 1h0m1 3h0m-3-6h0m-11 8h0m19 7h0m2 2h0m6-10h0m-2-3h0"/>
<path id="e37" d="M671 135h0m1 2h0m5 5h0m3-13h0m10 5h0m3 6h0m-2 1h0m9 0h0m-10-18h0"/>
<path id="f37" d="M669 137h0m17-6h0m-1-6h0m2-1h0m5 12h0m5 0h0m-8 8h0m10 4h0m-1 6h0m-3 4h0m-7 3h0m-6-8h0"/>
<path id="a38" d="M479 374h0m2 8h0m-5 2h0m0 3h0m11 1h0m11-4h0m3 1h0m6 12h0m-25 9h0m-4 4h0m-11 1h0m-3 0h0m5-12h0m3 0h0m-5-3h0m-1-4h0"/>
<path id="b38" d="M469 379h0m6-1h0m2-3h0m4 4h0m2 0h0m-2 7h0m-8 11h0m3 6h0m0 4h0m-3 4h0m1 4h0m-2 3h0m-3-6h0m-4 5h0m-3-3h0m-2-5h0m2-5h0m3 2h0m5-2h0m-12-1h0m-3 2h0m35 2h0m3-7h0m8 2h0m-5-20h0"/>
<path id="c38" d="M464 389h0m2 13h0m7 3h0m2-7h0m3-7h0m0-12h0m5-8h0m6 8h0m3 0h0m1-4h0m5 3h0m-6 10h0m9 8h0m-15 10h0m3 6h0m-21 6h0m-1-2h0"/>
<path id="d38" d="M470 373h0m0 2h0m2 2h0m0 12h0m5 8h0m-5 5h0m-3 13h0m14-2h0m1-22h0m9-9h0m3-3h0m-9-4h0"/>
<path id="e38" d="M476 369h0m-2 5h0m11 11h0m11 2h0m4-6h0m-3-6h0m8 16h0m-27 3h0m1 7h0m-7 6h0m-4 1h0m-4-12h0m-4-2h0"/>
<path id="f38" d="M463 393h0m-2 3h0m0 4h0m-3-1h0m12-6h0m2-9h0m11-7h0m3 2h0m0-7h0m5 12h0m8 3h0m-2 4h0m-22 10h0m-5 7h0m8 10h0"/>
<path id="a39" d="M315 325h0m4 6h0m3-1h0m8 4h0m-6 8h0m-2-1h0m-2-2h0m6 11h0m2 1h0m3-2h0m2 0h0m8-1h0m2 3h0m0 5h0m4-1h0m0 4h0m-4 2h0m-8-2h0m-1 2h0m-11-6h0m-10-3h0m-2-3h0m-6-3h0"/>
<path id="b39" d="M305 332h0m3 7h0m6-12h0m8 10h0m8 2h0m-2 5h0m1 4h0m6 2h0m2 3h0m3-3h0m-2-2h0m-21 3h0"/>
<path id="c39" d="M317 329h0m8 2h0m1-2h0m2 12h0m3 1h0m-10 2h0m-2 4h0m-5-4h0m11 9h0m3 3h0"/>
<path id="d39" d="M311 326h0m0 5h0m-3 4h0m3 6h0m-3 4h0m9 0h0m-1-7h0m8-1h0m4 1h0m-1 9h0m3 6h0m0 7h0m7-5h0m7-1h0m0-5h0m-9-2h0m-14 8h0m-1-28h0"/>
<path id="e39" d="M305 341h0m10 7h0m7 1h0m2-1h0m7-3h0m-6-5h0m1-5h0m-2-1h0m-5 2h0m6 20h0m8 0h0m16 5h0m-33-2h0m-8-1h0"/>
<path id="f39" d="M307 326h0m7 7h0m2-1h0m5 2h0m6-1h0m-2 12h0m-6-2h0m4 15h0m11-5h0m4 6h0m9-11h0"/>
<path id="a40" d="M519 212h0m4 9h0m-1 2h0m-2 2h0m-4 0h0m-1 7h0m-4 1h0m-3-2h0m12 9h0m7-5h0m2 1h0m-4-7h0m3-3h0m6 0h0m1-2h0m-1-3h0m-2-2h0m-6 1h0"/>
<path id="b40" d="M513 208h0m3 0h0m0 4h0m5 3h0m-5 7h0m6 3h0m2 9h0m4 4h0m-12-3h0m-1 2h0m-2-4h0m-5 2h0m2 3h0m-6-1h0m6-9h0m-6-2h0m5-10h0"/>
<path id="c40" d="M509 210h0m7 7h0m3 2h0m9 4h0m1-2h0m7-7h0m-18 16h0m2 6h0m-13 1h0m-2-15h0"/>
<path id="d40" d="M505 202h0m5 19h0m3 5h0m5 1h0m3 0h0m4-1h0m5 7h0m2 2h0m-14 2h0m-12-2h0"/>
<path id="e40" d="M508 224h0m-1 4h0m6-8h0m3 0h0m9 4h0m9 6h0"/>
<path id="f40" d="M507 218h0m6-3h0m3 13h0m7 3h0m4 1h0m2-1h0m-1-17h0"/>
<path id="a41" d="M351 356h0m4-2h0m4 9h0m-2 2h0m2 5h0m3 1h0m0-3h0m10-1h0m1-2h0m7 0h0m3 4h0m3-6h0m-12 12h0m3 11h0m6 0h0m-17-2h0m-14-7h0m17-24h0"/>
<path id="b41" d="M360 366h0m-1 9h0m-3 11h0m14-16h0m4 1h0m9 3h0m-2 7h0m1-21h0m-2-3h0m-8 1h0"/>
<path id="c41" d="M353 358h0m3 4h0m-2 4h0m-4 7h0m11 1h0m2 0h0m4 4h0m-5 5h0m21-4h0m-7-16h0m-5-8h0m-10 2h0m0 3h0"/>
<path id="d41" d="M365 364h0m7-2h0m2 0h0m1-7h0m5 13h0m-22 15h0"/>
<path id="e41" d="M357 358h0m6 5h0m3-2h0m13 1h0m1 11h0m6-1h0m-16 2h0m-9 5h0m-2 8h0m13-1h0m-17-13h0"/>
<path id="f41" d="M367 350h0m10 8h0m6 0h0m2 9h0m-8 0h0m-8-4h0m-4 9h0m-6 0h0m-8 11h0m24 3h0m2-3h0"/>
<path id="a42" d="M400 500h0m-2 2h0m9 0h0m4-3h0m5 5h0m6 0h0m-1 5h0m-3 4h0m2 2h0m5-1h0m3-9h0m-1-3h0m-1-3h0m-2-3h0m1-5h0m-1-3h0m-5 0h0m-4 30h0m-6 19h0m-14-22h0m-2 1h0"/>
<path id="b42" d="M406 498h0m6-1h0m0-4h0m4 3h0m2-3h0m-1-3h0m11 0h0m2 6h0m1 4h0m6 5h0m-13 13h0m2 3h0m-15 0h0m-1-12h0m-4 1h0m0-4h0m-3 0h0m-3 9h0m1 16h0"/>
<path id="c42" d="M409 496h0m-7 7h0m-3 5h0m-3 2h0m11 3h0m2 4h0m-1 4h0m7 1h0m3 0h0m4 0h0m-7 7h0m6-17h0m-2-5h0m0-6h0m5 0h0m-3-7h0m0-3h0m7 2h0m13 18h0"/>
<path id="d42" d="M399 504h0m4 11h0m13-5h0m-4-8h0m13-9h0m2 4h0m3 6h0m0 3h0m2 2h0m-6 3h0m-10 14h0m-3 10h0"/>
<path id="e42" d="M396 506h0m5 6h0m4 5h0m-9 7h0m14 4h0m7-13h0m12-14h0m4 3h0m3 7h0"/>
<path id="f42" d="M396 498h0m13 1h0m5 7h0m4-2h0m1 15h0m-6 0h0m-4 6h0m1 8h0m11-46h0"/>
<path id="a43" d="M339 460h0m-2 4h0m5 0h0m-4 6h0m-2 5h0m-2 1h0m-2-5h0m-3 2h0m-2 0h0m-1 4h0m2 2h0m-2 1h0m5 3h0m4 1h0m3-2h0m9-6h0m5-4h0m3 11h0"/>
<path id="b43" d="M324 482h0m3 3h0m6-4h0m3-3h0m-3-4h0m12-3h0m11 5h0"/>
<path id="c43" d="M327 482h0m7-3h0m10 2h0m5-2h0m3 1h0m-3 6h0m6-13h0"/>
<path id="d43" d="M330 481h0m2 5h0m17 3h0m3 0h0"/>
<path id="e43" d="M332 468h0m8 6h0m4 1h0m1-9h0m-14 12h0m6 7h0m15-1h0m4 3h0"/>
<path id="f43" d="M337 467h0m-2 4h0m5 0h0m9 4h0m4 1h0m-11 13h0m-7-1h0m12 8h0m4 2h0"/>
<path id="a44" d="M539 331h0m4-3h0m1 4h0m5 1h0m0 3h0m4 3h0m2 3h0m1-5h0m1-6h0m3-2h0m4-2h0m-5-3h0m-5 5h0m-3 1h0m-3-7h0m21 11h0m-7 16h0m-22 1h0m0-3h0"/>
<path id="b44" d="M541 322h0m10 5h0m2-2h0m2 0h0m7 0h0m-2 6h0m5 0h0m0 3h0m2 6h0m-11-1h0m0 10h0m-12 0h0m-1 5h0m3-13h0m-1-3h0m-5-2h0"/>
<path id="c44" d="M535 337h0m2 3h0m-4 2h0m14-7h0m7 0h0m5 5h0m4-1h0m2 9h0m-12 2h0m-5 3h0m3-11h0"/>
<path id="d44" d="M546 324h0m2 2h0m8 1h0m2-1h0m-3 7h0m2 1h0m3 3h0m-10 2h0m2 5h0m-4 4h0m-6-3h0m-4 1h0m2-7h0m3-1h0m0-3h0m13 18h0m12-26h0"/>
<path id="e44" d="M551 324h0m2-2h0m11 1h0m3 1h0m3 7h0m-5 11h0m-5 5h0m0 3h0m-6-4h0m-5 4h0m2 3h0m-4-7h0m1-3h0m-1-4h0m-4 3h0m-3 1h0m11-8h0"/>
<path id="f44" d="M536 332h0m10 0h0m0-2h0m-1 13h0m-1 3h0m6 1h0m9-3h0m5-7h0m-3-2h0"/>
<path id="a45" d="M549 287h0m5 10h0m5 4h0m1 2h0m5 9h0m2 1h0m-2 2h0m0 5h0m2 1h0m-5 1h0m-12-2h0m0-3h0m-1-3h0m1-4h0m-4-1h0m-1 2h0m-2-1h0m-4-4h0m4-3h0m-1 15h0m4 2h0m22-27h0m-2-3h0"/>
<path id="b45" d="M543 296h0m2 3h0m8-5h0m1-2h0m4 2h0m-1 5h0m5 2h0m2-4h0m3 2h0m0 4h0m-11 9h0m-2 5h0m5 4h0m-20-8h0m-1-4h0"/>
<path id="c45" d="M548 290h0m-2 2h0m1 3h0m6 5h0m3-8h0m10 14h0m-5 5h0m-5 5h0m-12 0h0m-4-15h0"/>
<path id="d45" d="M542 298h0m9-3h0m0-4h0m14 18h0m-2 4h0m3 4h0m-7 0h0m-6-3h0m-9 4h0m-3-3h0"/>
<path id="e45" d="M549 292h0m-1 6h0m3 4h0m-2 4h0m3 1h0m5 2h0m4-2h0m2 2h0m-2-12h0m-16 9h0m2 7h0m8 6h0m1 2h0"/>
<path id="f45" d="M536 304h0m0 4h0m5 4h0m10 0h0m2-3h0m2-2h0m-2-2h0m4-1h0m2 1h0m-4-4h0m1-5h0m2 0h0m5-2h0m3 1h0m-13-6h0m6 26h0m3 1h0m-1 3h0m-8 0h0"/>
<path id="a46" d="M232 322h0m9 1h0m12-2h0m6 12h0m0 3h0m-6 8h0m-2-1h0m-2-4h0m-3-4h0m-11-1h0m-5 5h0m-1 7h0m1 3h0m4 0h0m4-4h0m3 8h0m6 2h0m4 1h0m5 1h0m2 3h0m3 1h0m-1-4h0m1-6h0m-2-3h0m-10 0h0"/>
<path id="b46" d="M229 328h0m-4 4h0m8 13h0m3 1h0m2 4h0m6-1h0m0 3h0m-5-11h0m1-6h0m3 1h0m9-3h0m4 4h0m2 2h0m-1 3h0m1 3h0m2 9h0m3-26h0m-20-7h0m-6 1h0m-10 27h0"/>
<path id="c46" d="M229 331h0m-1 3h0m4-1h0m6 0h0m8 5h0m-2 3h0m0 5h0m-2 1h0m-3 0h0m-3-4h0m11 5h0m4-3h0m1-4h0m4 5h0m1 4h0m0 2h0m5-14h0m1-3h0"/>
<path id="d46" d="M226 345h0m3-2h0m6-4h0m5 4h0m3 1h0m9 5h0m0-14h0m-3 0h0m9-5h0"/>
<path id="e46" d="M234 328h0m7 9h0m7 5h0m1-9h0m2-7h0m4-2h0m7 1h0m-15-2h0m13 19h0m-6 9h0m0 3h0m-13-4h0m-4 2h0m-5-10h0"/>
<path id="f46" d="M240 330h0m5 1h0m8-2h0m5-5h0m-5 15h0m-6 6h0m1 5h0m5 6h0m-17-20h0"/>
<path id="a47" d="M183 259h0m5 4h0m6-1h0m1 5h0m6 2h0m6 2h0m-2 4h0m0 2h0m11-7h0m-1-12h0m3-11h0m-8-2h0m-3 3h0m-2-2h0m-13 9h0m-5 17h0"/>
<path id="b47" d="M198 246h0m5 3h0m-2 11h0m5 8h0m6 3h0m-2 4h0m5 2h0m3-4h0m-11 9h0m-7-7h0m-2-1h0m-7-3h0m1-3h0m-5-3h0"/>
<path id="c47" d="M194 248h0m5 2h0m12 2h0m1 5h0m6 3h0m-2-10h0m-1-6h0m-8 20h0m6 10h0m0 2h0m-5 0h0m-2 4h0m4 3h0m-13-6h0m-3-5h0m-7-4h0"/>
<path id="d47" d="M186 256h0m0 4h0m3-1h0m2 3h0m-6 4h0m9 14h0m4 0h0m4-1h0m12 0h0m2-16h0m-14-19h0"/>
<path id="e47" d="M199 257h0m7 3h0m-3 5h0m-4 1h0m3 8h0m6-1h0m2-4h0m-1-3h0m4 0h0m-5 13h0m4 3h0m-19-4h0m22-30h0"/>
<path id="f47" d="M189 256h0m6 2h0m-1-6h0m9 5h0m8-8h0m3 11h0m-10 10h0m-6 1h0m3 10h0m10-3h0m4 5h0"/>
<path id="a48" d="M109 251h0m11-10h0m5 7h0m6-8h0m16-2h0m1 4h0m-2 5h0m3 3h0m2-1h0m-8 3h0m1 5h0m0 5h0m-6 4h0m-11-7h0m-3 5h0m-13 4h0m17 14h0m4 2h0m21-26h0"/>
<path id="b48" d="M116 250h0m-2 2h0m8-1h0m5-10h0m10-1h0m9 1h0m5 4h0m-5 8h0m-9-2h0m-2 0h0m1 9h0m3 15h0m10-6h0m-31 4h0"/>
<path id="c48" d="M129 245h0m3 2h0m4 1h0m2 6h0m-4 4h0m-1 3h0m-3-3h0m3 10h0m13-8h0m5-5h0m2 7h0m-8-18h0m-4 0h0m0-4h0m-24 29h0m3 7h0"/>
<path id="d48" d="M123 241h0m3 5h0m-8 0h0m-2 9h0m19 1h0m6 6h0m7-2h0m-7 18h0m-7 0h0m-21-4h0"/>
<path id="e48" d="M107 245h0m5 9h0m0 8h0m8-9h0m3-8h0m15 3h0m6-2h0m2 22h0m0 4h0m-29 7h0"/>
<path id="f48" d="M122 248h0m-3 11h0m-4 4h0m16-7h0m9 1h0m2-8h0m1-6h0m5 1h0m3 9h0m3 1h0m2 7h0m-12 4h0m-2 1h0m-7 15h0m0-37h0"/>
<path id="a49" d="M263 225h0m7 4h0m-1 9h0m1 5h0m12-4h0m3 2h0m3 4h0m-1 3h0m6 0h0m0-4h0m4-2h0m1-9h0m-2-2h0m-7 0h0m-5 4h0m-4 0h0m4 19h0m8 4h0m7 4h0"/>
<path id="b49" d="M281 230h0m2 2h0m5 3h0m4-1h0m2 7h0m-14-3h0m-4 1h0m3 6h0m8 9h0m2 3h0m-2 4h0"/>
<path id="c49" d="M275 230h0m3 11h0m2 7h0m3 1h0m13 4h0m2-2h0m8-16h0m3-3h0m-23 1h0m42 17h0"/>
<path id="d49" d="M267 232h0m6 5h0m3-4h0m-1 9h0m0 10h0m7-1h0m3-4h0m6-5h0m-5-5h0"/>
<path id="e49" d="M273 225h0m6 3h0m2 14h0m4 2h0m6-5h0m5-4h0m7 3h0m-7 8h0m-3 4h0m9 6h0m-20-1h0m-3-4h0"/>
<path id="f49" d="M278 237h0m11 0h0m6 0h0m4-6h0m-9 21h0m-4-1h0m8 5h0m3 1h0m-2 4h0m-4 1h0m-16-14h0"/>
<path id="a50" d="M542 218h0m6 1h0m6 2h0m7 6h0m-3 7h0m7 1h0m-1 7h0m-5 3h0m1 2h0m4 1h0m-10-2h0m-1-3h0m-2 4h0m0-11h0m-2-2h0m-5 3h0m-7 0h0m0-3h0m1-8h0"/>
<path id="b50" d="M544 214h0m1 9h0m9 2h0m-1 4h0m-2 2h0m-6 3h0m-4 1h0m0 3h0m-3 1h0m-3 0h0m-1-6h0m9 8h0m-4 3h0m11 6h0m3-1h0m3-10h0m8 0h0m2 5h0m-3-16h0m11-7h0"/>
<path id="c50" d="M540 223h0m4 2h0m1 3h0m-3 3h0m9-5h0m9 10h0m6 5h0m-4 3h0m7 2h0m-17-6h0m-1 3h0"/>
<path id="d50" d="M540 213h0m1 8h0m1 6h0m-4 2h0m9 13h0m1 6h0m-4 0h0m13 0h0m0-3h0m3-3h0m3 4h0m-1-9h0m0-4h0m-5-10h0"/>
<path id="e50" d="M553 217h0m-3 5h0m8 7h0m1 3h0m6-6h0m-4-7h0m-14 18h0m1 8h0m-6 3h0"/>
<path id="f50" d="M539 233h0m11-4h0m6-2h0"/>
<path id="a51" d="M85 394h0m6 4h0m2 1h0m-12 9h0m-3-4h0m-7 10h0m-1 10h0m9 1h0m1-2h0m6-1h0m-7 11h0"/>
<path id="b51" d="M81 391h0m6 8h0m4 3h0m4 1h0m-3-7h0m-11 9h0m-2 2h0m-6 0h0m2-6h0m7 15h0m1 7h0m-1 3h0m5-1h0m3-8h0m-8 18h0m-8-5h0"/>
<path id="c51" d="M84 397h0m5-2h0m7 11h0m-10 2h0m1 5h0m6 4h0m4 8h0m-3 1h0m-1 3h0m-9 0h0m-7-15h0"/>
<path id="d51" d="M76 398h0m8 4h0m-9 9h0m-2 2h0m-3 6h0m-2 2h0m14 10h0m11-9h0m5-3h0"/>
<path id="e51" d="M80 400h0m-5 16h0m-1 5h0m8-2h0m9 1h0m-1 7h0m6-14h0"/>
<path id="f51" d="M78 393h0m1 3h0m-3 11h0m11 11h0m-14 8h0"/>
<path id="a52" d="M328 362h0m1 10h0m4 0h0m3-1h0m-6 5h0m-3 1h0m-4 0h0m1 3h0m1 4h0m-2 1h0m0 2h0m1 4h0m-5 4h0m9-10h0m4-2h0m5-4h0m4 1h0m-21-1h0m-4 2h0m-6 2h0m9-11h0"/>
<path id="b52" d="M304 373h0m5 2h0m-2 4h0m5 1h0m1 5h0m1 4h0m8 2h0m4-1h0m-1-4h0m6-6h0m8-6h0m7-4h0m-8-8h0m-8 2h0m2 5h0m-11 4h0m-5 0h0m-14 9h0m16 21h0m14-12h0"/>
<path id="c52" d="M308 367h0m7 3h0m3 10h0m-2 4h0m0 9h0m6 1h0m-8 6h0m-9-15h0m21-3h0m4 4h0m5-3h0m1 2h0m0-10h0m-6-5h0m2-4h0m-3-1h0m8 1h0m5-1h0"/>
<path id="d52" d="M304 377h0m17-9h0m6 0h0m5-5h0m3 4h0m4 4h0m3-1h0m1 7h0m-4 4h0m-6-2h0m0 10h0m-7 6h0"/>
<path id="e52" d="M306 372h0m4-3h0m3 6h0m2 3h0m6 2h0m-3 7h0m7 6h0m2 0h0m6-7h0m6 1h0m1-2h0m-1-8h0m3-2h0"/>
<path id="f52" d="M312 370h0m3-2h0m4 8h0m6 1h0m2-2h0m6 1h0m-4 5h0m0 9h0m-9 2h0m-2-2h0m2-3h0m-2-3h0m-5-2h0m-4 6h0m12 11h0m2-2h0m23-21h0m0-3h0m-20-9h0"/>
<path id="a53" d="M239 495h0m1 5h0m-6 2h0m-1 9h0m9-1h0m6 1h0m2 2h0m6-2h0m2 2h0m4 0h0m3 1h0m2-1h0m-2-7h0m-7-3h0m3-5h0m4-2h0m-11 0h0m-1 3h0m-5-2h0m0 7h0m-8 13h0m5-28h0m13-2h0"/>
<path id="b53" d="M249 489h0m5-3h0m6 7h0m-5 5h0m2 2h0m-2 2h0m-2 2h0m-2 1h0m0 4h0m-2 8h0m-2 4h0m-3-7h0m-3-8h0m-7 1h0m29 2h0m3-7h0"/>
<path id="c53" d="M250 487h0m10 14h0m3 0h0m-3 9h0m-7 3h0m-11-10h0"/>
<path id="d53" d="M241 488h0m6-3h0m4 7h0m3 1h0m-12 2h0m4 17h0m5 3h0m0 4h0m6-10h0m-2-2h0m8-4h0m-26 10h0"/>
<path id="e53" d="M244 486h0m5 5h0m-5 10h0m13 5h0m2 9h0m-5 0h0m12-5h0m-36-6h0m-1 2h0"/>
<path id="f53" d="M239 493h0m2 5h0m8 2h0m1-2h0m1-3h0m3-7h0m9 4h0m3 7h0m3 8h0m-7 0h0m-3 0h0m-2 8h0m-9 0h0m0-8h0m-12 3h0"/>
<path id="a54" d="M258 624h0m4-1h0m2-4h0m8 8h0m1 3h0m6-2h0m1-3h0m-3-1h0m4-3h0m-2-2h0m2-1h0m3 1h0m-7-2h0m-12 17h0m-4-3h0m7 11h0m5 2h0m1-4h0m16-6h0"/>
<path id="b54" d="M255 625h0m-1 4h0m4 2h0m1 3h0m-2 2h0m6-8h0m5-1h0m-3-4h0m2-2h0m4-5h0m1-3h0m2 11h0m2 2h0m8 3h0m4 2h0m3-3h0m-3-2h0m1 14h0m-8 1h0m-13-1h0"/>
<path id="c54" d="M258 621h0m13 4h0m4-10h0m7 12h0m1 6h0m-1 3h0m-7 1h0"/>
<path id="d54" d="M275 612h0m-2 6h0m-5 7h0m-1 5h0m3 9h0m1 3h0m14 2h0m-1-21h0m3 0h0m3-2h0"/>
<path id="e54" d="M267 616h0m4 4h0m-2 2h0m2 10h0m2 2h0m6-3h0m1 7h0m3 4h0m1 5h0m-6-4h0m-14-6h0m-3-1h0m-2-9h0m20-10h0m9 2h0"/>
<path id="f54" d="M279 614h0m-9 16h0m-1 3h0m-3 5h0m-4-5h0m4-6h0m11 13h0m-1 3h0m12 2h0"/>
<path id="a55" d="M252 150h0m4-1h0m-1 4h0m-1 4h0m3 4h0m2 6h0m11 7h0m9-17h0"/>
<path id="b55" d="M247 163h0m8 0h0m1 5h0m-3 1h0m-1 4h0m8-12h0m-2-3h0m5-6h0m3 1h0"/>
<path id="c55" d="M244 165h0m3 6h0m5-11h0m28-12h0"/>
<path id="d55" d="M271 150h0m1 3h0m3-1h0"/>
<path id="e55" d="M257 155h0"/>
<path id="f55" d="M251 155h0m8-3h0m10 1h0m-20 13h0m1 4h0"/>
<path id="a56" d="M238 287h0m-3 6h0m1 4h0m3-1h0m1-2h0m2-1h0m4 3h0m2 2h0m-2 5h0m-3 3h0m-3 2h0m-1-4h0m-5 1h0m1 12h0m9-4h0m5-1h0m0-4h0"/>
<path id="b56" d="M225 299h0m8-2h0m4-3h0m-2-4h0m5 9h0m-3 4h0m-6 5h0m-3 8h0m27-5h0"/>
<path id="c56" d="M223 288h0m5 2h0m4 4h0m2 6h0m-5 4h0m-4 3h0m11 3h0m4 1h0m4 7h0m-1-15h0m2-2h0m6-2h0"/>
<path id="d56" d="M223 294h0m9-2h0m5-2h0m1 2h0m-1 7h0m9-6h0m3 9h0m0 15h0m-9 3h0m-1-5h0m-2-2h0m-5 3h0m-2 4h0m-6-5h0"/>
<path id="e56" d="M236 285h0m1 21h0m5 3h0m-1 8h0m-13-6h0m-6 1h0m31-11h0m2 2h0"/>
<path id="f56" d="M233 287h0m8 2h0m1 6h0m-12 0h0"/>
<path id="a57" d="M257 534h0m-2 2h0m8 4h0m4 2h0m5-1h0m2 2h0m1 2h0m2 1h0m2-4h0m0-3h0m3 1h0m2-3h0m-2-2h0m-8-1h0m-1 3h0m-3 13h0m1 5h0m-9-5h0m-4 1h0m34-10h0"/>
<path id="b57" d="M263 538h0m6 7h0m8 3h0m0-12h0m-2-4h0m-3 1h0m-8 20h0m-3 1h0m-5-2h0m30 4h0m6-8h0"/>
<path id="c57" d="M254 547h0m3-2h0m3 0h0m-1 3h0m7 0h0m10-5h0m7 15h0m5-3h0m6-19h0m-1-4h0"/>
<path id="d57" d="M267 539h0m2-1h0m6 0h0m3-6h0m-5 21h0m8 2h0m-19-8h0"/>
<path id="e57" d="M265 530h0m-1 5h0m3 1h0m-7 1h0m6 8h0m18 0h0m6-19h0"/>
<path id="f57" d="M257 529h0m6 15h0m-6 4h0m21 3h0m2-5h0m9 1h0m0-4h0m-1-6h0m2 14h0"/>
<path id="a58" d="M635 207h0m6-2h0m3 0h0m-1-3h0m9 4h0m3-2h0m4-2h0m-2 6h0m-4 6h0m-1 5h0m-7-3h0m1-3h0m-6 2h0m-3 7h0m-2 6h0m2 2h0m-3 1h0m9-7h0m19-7h0m2-7h0m1-3h0"/>
<path id="b58" d="M639 206h0m2 2h0m-3 1h0m1 3h0m5-2h0m6 8h0m-5 5h0m-5 1h0m-2 1h0m0-6h0m-5 0h0m22-8h0m-4-10h0m-3-1h0m22 12h0m2 2h0"/>
<path id="c58" d="M633 203h0m4 0h0m3-1h0m5-1h0m2 3h0m4-6h0m-7-2h0m-1 17h0m4 3h0m5-4h0m3 5h0m3-4h0m6-9h0m10 2h0m-6 13h0m-4 3h0m-24-2h0"/>
<path id="d58" d="M642 217h0m11 4h0m22-5h0"/>
<path id="e58" d="M637 197h0m4 0h0m-5 8h0m-5 1h0m3 7h0m1 6h0m-1 3h0m5-4h0m4 3h0m4-2h0m-5 8h0m-6 6h0m23-13h0m1-9h0m0-4h0m3 1h0m5 1h0m-1 3h0m10-1h0m3 8h0"/>
<path id="f58" d="M635 200h0m-4 16h0m4 1h0m13 4h0m2 3h0m6-5h0m17-8h0m2 2h0m-3-5h0"/>
<path id="a59" d="M196 323h0m2 4h0m-4 2h0m-5 3h0m5 3h0m3 2h0m-2 5h0m3 4h0m1 5h0m5-3h0m0-4h0m-3-3h0m8 3h0m2-2h0m1 3h0m2-2h0m5-2h0m-10-4h0m-8-5h0m5-4h0m18-5h0m-8 31h0m-8 7h0m-20-22h0"/>
<path id="b59" d="M191 326h0m1 7h0m3 1h0m4 2h0m-1 7h0m6-2h0m4-1h0m0-9h0m4-4h0m-4-5h0m-8 3h0m20 6h0m-1 13h0"/>
<path id="c59" d="M191 335h0m0 9h0m12-7h0m3-3h0m-2-3h0m5-6h0m-4-2h0m7 8h0m4-1h0m8 13h0m-14 8h0"/>
<path id="d59" d="M205 320h0m-11 18h0m4 2h0m-4 4h0m3 4h0m0 7h0m5 0h0m-13-10h0"/>
<path id="e59" d="M202 321h0m2 5h0m-2 8h0m-4 0h0m-7 6h0m0 9h0m9 0h0m1-3h0m22 0h0m-2-24h0"/>
<path id="f59" d="M207 319h0m-5 9h0m4 11h0m0 3h0m3 4h0m1 3h0m-9-6h0m-6 6h0m5 6h0m-10-18h0"/>
<path id="a60" d="M552 139h0m3-2h0m5-3h0m7-1h0m7 4h0m0 3h0m3 1h0m4 1h0m1 2h0m-3 2h0m-1 3h0m-2 0h0m1 5h0m-1 8h0m5 3h0m-14 0h0m-1-4h0m-6 2h0m0-5h0m-6-4h0m-3-3h0m-4-1h0m10 0h0m14-5h0m14-3h0m-8-11h0m-12 40h0"/>
<path id="b60" d="M549 148h0m4-3h0m2-2h0m4 3h0m3 0h0m-1-5h0m3 11h0m5 4h0m2 6h0m9-5h0m3-2h0m5 9h0m-15-14h0m-2-2h0m14-8h0m-3-7h0m-8-2h0m-6 0h0m-13 30h0m-3 3h0m-3-3h0m8 7h0"/>
<path id="c60" d="M550 143h0m1 4h0m4 5h0m5-2h0m1 3h0m6-2h0m7 1h0m1 6h0m-1 11h0m2-25h0m5-8h0m-12-1h0m-1 3h0m-3 6h0m-3-1h0m-3 0h0m-1-7h0m-9 19h0"/>
<path id="d60" d="M564 140h0m-2 8h0m9 11h0m4-3h0m5-2h0m7-3h0m-2-4h0m-8-11h0m2 27h0m-19 8h0m-5-2h0m-4-11h0"/>
<path id="e60" d="M558 141h0m7 7h0m1 6h0m-8 0h0m-1 3h0m0 15h0m12-3h0m8-4h0m-4-4h0m9-1h0m3 0h0m-1 3h0m5-6h0m-6-6h0m-9-4h0"/>
<path id="f60" d="M558 138h0m-2 2h0m-3 3h0m1 5h0m6 12h0m3-2h0m0 9h0m2 0h0m7 1h0m9-6h0m9-3h0m-9-9h0m-2 2h0m3-5h0m-10 5h0m0-18h0m-10 2h0m-6 28h0"/>
<path id="a61" d="M459 158h0m7-3h0m1-2h0m4-1h0m6 2h0m1-2h0m3-1h0m1 4h0m3 10h0m-5 6h0m-4-1h0m1 6h0m1 10h0m-8-1h0m12 14h0m9-6h0m-1-6h0m-1-5h0m6-14h0m0-7h0m8-1h0m0 9h0m-30-7h0m-1 3h0"/>
<path id="b61" d="M469 150h0m2 5h0m4 3h0m0-7h0m12 5h0m7-5h0m4 4h0m9 11h0m-12 14h0m2 4h0m-15-3h0m-14-2h0m-5-14h0m26 34h0"/>
<path id="c61" d="M459 163h0m3-1h0m3-1h0m4-6h0m9 8h0m8-4h0m3 0h0m4-2h0m4-6h0m-12 1h0m8 22h0m4 3h0m-5 6h0m5 16h0m-26-25h0m-3-2h0"/>
<path id="d61" d="M462 156h0m7 2h0m-1 6h0m10-4h0m4-1h0m0 5h0m-2 2h0m10-4h0m0-9h0m-17 27h0m-8-3h0m-1-2h0m15 15h0m6-3h0m-8 14h0"/>
<path id="e61" d="M465 168h0m18-11h0m5 11h0m-2 16h0"/>
<path id="f61" d="M460 161h0m4-2h0m2-1h0m8-5h0m6 5h0m4 3h0m7 8h0m-4 4h0m-4 3h0m-7 3h0m15-1h0m9-6h0m-1-3h0m8 8h0m-10 12h0m-25 12h0m-9-30h0"/>
<path id="a62" d="M258 375h0m7 2h0m4 1h0m6-2h0m5 5h0m-2 2h0m3 3h0m3-6h0m-2-2h0m4-1h0m1 4h0m3-7h0m4-5h0m4 14h0m2 4h0m-11 5h0m-3 3h0m1 4h0m5 2h0m-17 0h0m-2-1h0m-4-6h0m4-2h0m-10-5h0m4-16h0m12-5h0"/>
<path id="b62" d="M260 373h0m4-1h0m4 2h0m1-6h0m4 1h0m2 15h0m6 8h0m4-5h0m11 8h0m-16 8h0m-1 3h0m-6-9h0m-2 1h0m-3-1h0m-4 4h0"/>
<path id="c62" d="M261 370h0m6-4h0m4 1h0m2-2h0m5 6h0m-4 2h0m3 7h0m0 6h0m-1 4h0m8-6h0m4 2h0m3-2h0m0-17h0m-27 14h0m-3-3h0m2 12h0m0 3h0"/>
<path id="d62" d="M263 364h0m-3 18h0m8 7h0m-2 2h0m4-4h0m4 1h0m5 1h0m5 2h0m-5 6h0m-4-4h0m6-10h0m-2-7h0m14 1h0"/>
<path id="e62" d="M263 368h0m4 1h0m5 6h0m4-1h0m-1 6h0m-4 4h0m-6 5h0m-5 0h0m5 6h0m0 4h0m6-3h0m0 9h0m12-31h0m15 0h0m3 16h0"/>
<path id="f62" d="M271 371h0m-2 12h0m-2 1h0m3 6h0m-2 10h0m6 6h0m2-2h0m4-4h0m3-4h0m11-7h0"/>
<path id="a63" d="M373 549h0m11 7h0m17-3h0m2 1h0m0 9h0m-5 6h0m-1 4h0m6-2h0m3 4h0m5 2h0m4 6h0m-14-3h0m11-31h0m0-7h0m-3-2h0"/>
<path id="b63" d="M390 553h0m-3 5h0m19 5h0m2 3h0m2 4h0m-1 4h0m-4-1h0m11-3h0m-10-23h0"/>
<path id="c63" d="M394 550h0m1 10h0m-5 5h0m4 3h0m6 5h0m3 1h0m0 5h0m1 4h0m5 5h0m2-8h0m5-22h0m-5-4h0"/>
<path id="d63" d="M391 558h0m9 4h0m10-5h0m-6-6h0m-3-2h0m19 3h0m-6 15h0m7 10h0m-6 3h0m-4 3h0m-1 2h0m-4-6h0"/>
<path id="e63" d="M394 564h0m7 2h0m7 2h0m5 10h0m0 9h0m6 0h0m-20-10h0m14-21h0m2-6h0m6 11h0"/>
<path id="f63" d="M389 568h0m17 3h0m-2 6h0m4 4h0m-1 5h0m2 9h0m9-2h0m-2-15h0m-1-4h0m-6-14h0m-3-6h0m12-4h0m1 7h0"/>
<path id="a64" d="M514 355h0m3 4h0m-2 1h0m0 3h0m7 0h0m3-5h0m6-1h0m5-4h0m-1 15h0m-7 1h0m-3 0h0m-2 3h0m-5 12h0m-3-1h0m-9-6h0m-4-8h0m34 9h0m6 0h0m-2 7h0m3 2h0m1-20h0"/>
<path id="b64" d="M515 351h0m11 3h0m3-1h0m3-4h0m7 12h0m-2 12h0m-1 8h0m-11 5h0m-6 3h0m-6 4h0m3-17h0m7 2h0m1-13h0m-13 4h0m-8 2h0"/>
<path id="c64" d="M500 371h0m2 3h0m6 0h0m6-1h0m4-9h0m-7-1h0m11-10h0m7 3h0m5-1h0m3-4h0m3 6h0m-8-11h0m2 30h0m-4 1h0m-8 15h0m-8-4h0m-3-2h0m-3-2h0m-4-1h0"/>
<path id="d64" d="M509 360h0m-4 6h0m10 2h0m2-1h0m8 7h0m-10 5h0m-4 2h0m-6 5h0m6 4h0m22-3h0m10-13h0m-3-4h0m4-11h0m-5-5h0m-3 5h0m-10 2h0m-4-4h0"/>
<path id="e64" d="M517 355h0m8-4h0m0-3h0m-3 20h0m-4 3h0m-4-5h0m18 6h0m6 7h0m-10 2h0m-1 8h0m9 2h0m-16 6h0m-11-3h0"/>
<path id="f64" d="M518 353h0m2 8h0m3-1h0m6 1h0m3-7h0m-3-10h0m-1 30h0m-2 2h0m-5 4h0m-3-1h0m-6-2h0m-5 4h0m-7-4h0m9-8h0m5 16h0m15 0h0m0 7h0"/>
<path id="a65" d="M253 586h0m3 2h0m3-3h0m7 3h0m-6 8h0m-5-2h0m-5 3h0m-2-3h0m15 8h0m-11 13h0m1 4h0m-8 1h0m-2-7h0"/>
<path id="b65" d="M251 592h0m7 0h0m6 1h0m4-1h0m-1 4h0m-1-11h0m3 22h0m-2 6h0m-4 1h0m-3-1h0m-2 5h0m-3-1h0m0 2h0m0 3h0m-3 2h0m-3 0h0m-1-9h0m6-3h0m-1-5h0m-5-2h0m-4 4h0"/>
<path id="c65" d="M251 595h0m7 9h0m7 3h0m1 3h0m-14-1h0"/>
<path id="d65" d="M251 589h0m8 11h0m6 4h0m4 0h0m-11 6h0m-1 3h0m4 4h0m-12 1h0m-7-2h0m-4 0h0m11-6h0m-1 17h0"/>
<path id="e65" d="M255 590h0m4-1h0m3 0h0m1 9h0m-1 11h0m-11-2h0"/>
<path id="f65" d="M256 596h0m-5 6h0m3 8h0m-4 3h0m15 2h0"/>
<path id="a66" d="M99 285h0m3 5h0m1 6h0m5-2h0m3-7h0m8 5h0m4 11h0m5-3h0m3 1h0m3 0h0m0 5h0m-1 13h0m-4 3h0m-3-2h0m-3 0h0m-1-2h0m-2 2h0m2 4h0m4 2h0m1 4h0m3 0h0m7 0h0m-16 0h0m-11-7h0m-6-1h0m-1-5h0m3 0h0m5-3h0m1-2h0m6-3h0m-4-4h0m8 10h0m8-28h0"/>
<path id="b66" d="M110 290h0m5-1h0m6-6h0m10 8h0m-11 7h0m-2 3h0m2 2h0m-4 1h0m-2 5h0m-1 4h0m0 4h0m3-1h0m4 1h0m0 9h0m2 8h0m7-7h0m5 1h0m-6-21h0m-19 4h0m0 3h0m-8-1h0m9-14h0"/>
<path id="c66" d="M104 299h0m9 3h0m6 3h0m6 1h0m-7 6h0m-2-1h0m-12-2h0m-1 2h0m-2 8h0m4 6h0m3 0h0m3 6h0m17-14h0m3 3h0m3 5h0m2 1h0m-4-12h0m-1-17h0m1-3h0"/>
<path id="d66" d="M108 284h0m16 5h0m3 7h0m-3 3h0m6 5h0m-3 5h0m-5-2h0m12 4h0m-3 13h0m3 7h0m-30-17h0m1-8h0m-3-1h0m-3 18h0"/>
<path id="e66" d="M117 298h0m4 3h0m5 1h0m-3-8h0m-11 15h0m-3-1h0m3 12h0m1 5h0m4-6h0m11 5h0m4 3h0m1-6h0"/>
<path id="f66" d="M106 311h0m2 11h0m-11-2h0m23-10h0m2 0h0m4 2h0m-1 5h0m0 6h0m0 10h0m-6 3h0m7-43h0"/>
<path id="a67" d="M269 410h0m16-5h0m11 4h0m5-1h0m-2-9h0m16 11h0m-7 17h0m-23 11h0"/>
<path id="b67" d="M273 409h0m-2 12h0m16-3h0m4 1h0m-5-5h0m1-3h0m13 7h0m3-5h0m11 9h0m-3 12h0m-5 3h0m-5-4h0m-20 11h0m7 8h0"/>
<path id="c67" d="M263 423h0m15-3h0m8 2h0m9 2h0m14-4h0m-7-17h0"/>
<path id="d67" d="M312 406h0m-23 31h0m4 6h0"/>
<path id="e67" d="M282 410h0m10 2h0m5 15h0m-7 3h0m16-32h0"/>
<path id="f67" d="M266 430h0m36-6h0m3-9h0m6-2h0"/>
<path id="a68" d="M274 587h0m2 3h0m3 0h0m3-5h0m0 11h0m-3 0h0m-3 4h0m0 5h0m5 6h0m10-1h0m4 2h0m8 1h0m3-4h0m-2-5h0m-3-4h0m-5 0h0m-2 2h0m-2-4h0m4-2h0m-12 3h0"/>
<path id="b68" d="M277 584h0m-5 5h0m1 3h0m2 2h0m5 11h0m10 2h0m9-9h0m6 9h0m-1 3h0"/>
<path id="c68" d="M278 593h0m1 5h0m0 4h0m2 0h0m5 2h0m0-8h0m2-5h0m0-3h0m9 5h0m1 10h0m4 0h0m-3 7h0"/>
<path id="d68" d="M283 588h0m0 3h0m-4 17h0m-5 0h0m23-3h0m1-4h0"/>
<path id="e68" d="M281 594h0m4-1h0m5 0h0m2 12h0m2 4h0m4 4h0m2 1h0m-6 3h0m-4 0h0m-2-4h0m-3 2h0m-12-11h0m28 3h0"/>
<path id="f68" d="M278 588h0m-5 11h0m10 7h0m3 2h0m0-7h0m7 6h0m1-15h0m2-2h0m-5-1h0m-13 22h0"/>
<path id="a69" d="M408 213h0m2-2h0m-5 5h0m3 4h0m5-2h0m-1 11h0m5 1h0m0 3h0m6-1h0m3-1h0m4 3h0m3 6h0m-1-14h0m2-6h0m-3-10h0m-3 0h0m-3 1h0m6-5h0m-15-1h0m-16 23h0m1 4h0m-2 3h0m-3-5h0m12 5h0m-2 6h0m-3 3h0m6 1h0m10-3h0"/>
<path id="b69" d="M420 205h0m4-3h0m3 3h0m-11 4h0m3 6h0m1 4h0m9 1h0m1 3h0m6 2h0m0-5h0m-1-4h0m-3 0h0m-2 15h0m1 5h0m-5 1h0m-2-2h0m-1 4h0m0 5h0m-6 0h0m-10-17h0m2-4h0m-15 11h0"/>
<path id="c69" d="M413 210h0m-3 9h0m-3 3h0m-3 6h0m0 10h0m13 9h0m12-2h0m4-10h0m3-7h0m-8 0h0m-4-6h0m7-1h0m-2-8h0"/>
<path id="d69" d="M425 208h0m2 16h0m5 4h0m4 5h0m-14 4h0m-2-1h0m0-8h0m-6 2h0m-4-3h0m0 13h0"/>
<path id="e69" d="M404 222h0m-1 3h0m3 6h0m-4 4h0m11-1h0m11-4h0m9 1h0m-18-16h0"/>
<path id="f69" d="M422 202h0m3 3h0m10 8h0m-15 13h0m-5 1h0m6 6h0m-4 4h0m3 2h0m8-1h0m0-3h0m5 2h0m3 0h0m-5 3h0m-25-3h0m-1-3h0m-6 5h0"/>
<path id="a70" d="M160 371h0m-4 8h0m2 1h0m-6 7h0m-6 7h0m3 2h0m-4 3h0m-3-6h0m18 9h0m5-1h0m-1-4h0m7 10h0m9-5h0m2-6h0m-4-3h0m-1 2h0m6-7h0"/>
<path id="b70" d="M152 377h0m5-1h0m-2 6h0m-5 0h0m-2 8h0m3 3h0m4 4h0m-1 2h0m0 5h0m8-3h0m8 2h0m4 0h0m5 4h0m6-11h0m1-4h0m-3-1h0m-7 1h0m-3 2h0m0-4h0m2-2h0m-1-3h0m-8 4h0m-2-16h0"/>
<path id="c70" d="M162 381h0m1 4h0m-1 4h0m8 3h0m10-3h0m1 4h0m6 2h0m-24 9h0m-2-6h0m-7-5h0m2 17h0"/>
<path id="d70" d="M161 374h0m-5 11h0m9 9h0m12 8h0m6 4h0m-43-8h0"/>
<path id="e70" d="M151 389h0m9-3h0m10 4h0m1-3h0m-3 7h0m-10 3h0m3 8h0m15 5h0m10-11h0"/>
<path id="f70" d="M144 390h0m8 6h0m5-5h0m-4-7h0m7-6h0m9 7h0m-1 3h0m-2 3h0m2 10h0m-4 7h0m3 3h0m14-13h0m3-4h0m-7-10h0"/>
<path id="a71" d="M384 165h0m7 8h0m7 7h0m3-5h0m2 0h0m4 1h0m2 0h0m2-2h0m-4-6h0m-4 23h0m-16-5h0m-2-1h0m-3-1h0m0-6h0m-4-1h0"/>
<path id="b71" d="M383 158h0m6 7h0m4 1h0m8 5h0m2-1h0m1 8h0m1 3h0m-7 2h0m-5 2h0m1-7h0m-13-3h0m-2-2h0m-6 5h0m7 3h0m-1 3h0"/>
<path id="c71" d="M370 172h0m4 8h0m9 2h0m-2-15h0m4-6h0m12 6h0m4 1h0m4-2h0m-3-5h0m-6 11h0m3 5h0m8 1h0m-4 7h0"/>
<path id="d71" d="M377 165h0m9 4h0m7 4h0m-2 10h0m-8 3h0m7-25h0m8 3h0m6-1h0m6 27h0m4 3h0"/>
<path id="e71" d="M380 159h0m0 4h0m6 11h0m4 6h0m-2 3h0m-2-1h0m4 5h0m9 2h0m9-4h0m-10-16h0m3-5h0m-25 14h0"/>
<path id="f71" d="M382 161h0m5 5h0m3 3h0m4 0h0m4 4h0m-3 2h0m-1 6h0m1 6h0m-9-7h0m-5-10h0m-6-1h0m0 7h0m31-4h0m6 8h0"/>
<path id="a72" d="M181 534h0m7-4h0m14-3h0m4-1h0m-1 5h0m4 8h0m3 3h0m-3 2h0m-3-1h0m-9 5h0m-10 3h0m-2-4h0m27-22h0m6 1h0m0-3h0m2 6h0"/>
<path id="b72" d="M182 537h0m9-7h0m7-2h0m8-4h0m-4 21h0m8 4h0m-25 1h0"/>
<path id="c72" d="M188 535h0m4 3h0m1 7h0m4-1h0m-11 0h0m0 4h0m26-10h0m1-3h0m3-3h0m-6-3h0m5 10h0m1 9h0m2 1h0"/>
<path id="d72" d="M187 542h0m3 10h0m29-6h0m-11-20h0"/>
<path id="e72" d="M203 524h0m6 8h0m9 8h0m-3 4h0m-15-2h0m-2 8h0m-4-17h0m18-16h0m8 9h0"/>
<path id="f72" d="M195 528h0m9 13h0m8 6h0m6-11h0m-5-4h0m1-11h0m2-3h0m2 2h0"/>
<path id="a73" d="M246 274h0m-2 7h0m0 8h0m2 1h0m5 1h0m2-2h0m3 0h0m2-2h0m-2-6h0m1-3h0m6 4h0m3-1h0m1-3h0m4 1h0m2 12h0m-8 8h0m-2 3h0m-7-2h0m-7-5h0m5-25h0"/>
<path id="b73" d="M249 273h0m2 5h0m-1 6h0m2 9h0m2 0h0m-1 4h0m0 2h0m4 3h0m2 2h0m3-7h0m0-22h0m-5 0h0m0-3h0"/>
<path id="c73" d="M250 270h0m8-1h0m5 9h0m-3 5h0m2 3h0m6-2h0m1-13h0m-21 8h0m-3-2h0m2 6h0m4 4h0"/>
<path id="d73" d="M252 266h0m-4 10h0m7 11h0m-5 2h0m-2 3h0m11 5h0m13-23h0"/>
<path id="e73" d="M248 287h0m17 4h0m4 3h0m-2-20h0"/>
<path id="f73" d="M254 272h0m7-1h0m-1 9h0m-7 5h0m-4-4h0m7 14h0m3-1h0m2 8h0m11-15h0"/>
<path id="a74" d="M303 526h0m5 1h0m3-1h0m7 6h0m0 5h0m4-1h0m5 2h0m0-6h0m13 1h0m1 12h0m-7 5h0m-13-6h0m-9 8h0m-4-10h0m3-6h0"/>
<path id="b74" d="M296 526h0m10-5h0m11 5h0m-3 5h0m8 8h0m0 8h0m-8-3h0m-6 1h0m24-3h0m4 0h0m-1-15h0"/>
<path id="c74" d="M309 519h0m0 2h0m2 10h0m-8 0h0m9 10h0m3-2h0m-14 8h0m18 8h0m26-9h0m0-4h0"/>
<path id="d74" d="M303 522h0m2 18h0m-1 4h0m8 3h0m-3 4h0m-4 3h0m-8-3h0m44-10h0"/>
<path id="e74" d="M305 517h0m7 4h0m-10 15h0m-1 3h0m-3 0h0m-1-5h0m4 18h0m15-2h0m4-1h0m-2-4h0m12 7h0"/>
<path id="f74" d="M308 523h0m-3 11h0m2 2h0m2 2h0m8 4h0m8 0h0m2 4h0m-2 3h0m12 3h0m7-3h0m-7-29h0m-11 1h0m-21 28h0m-7-6h0"/>
<path id="a75" d="M218 424h0m-1 4h0m-3 3h0m13 0h0m6-4h0m5-2h0m4 1h0m6-4h0m7 11h0m-6 7h0m1 3h0m-5-3h0m-6 3h0m-2-9h0m3-1h0m-5-12h0"/>
<path id="b75" d="M231 417h0m16 0h0m0 8h0m-1 5h0m0 4h0m1 3h0m-5 2h0m-7-6h0m-3 1h0m-6 2h0m-2-3h0m-4 6h0m-7-3h0m41-12h0"/>
<path id="c75" d="M221 427h0m-4 10h0m6 1h0m5 2h0m4-10h0m7-1h0m7 13h0"/>
<path id="d75" d="M222 422h0m5 1h0m1 11h0m-4 7h0m-4-9h0"/>
<path id="e75" d="M212 425h0m14-8h0m3 12h0m9 8h0m5 5h0m0-21h0"/>
<path id="f75" d="M218 421h0m-3 3h0m8 4h0m3-1h0m5-2h0m2 12h0m1 5h0m17-7h0"/>
<path id="a76" d="M705 131h0m-2 7h0m2 5h0m3 1h0m-1 5h0m4 2h0m-1 2h0m5-1h0m4 0h0m5 0h0m-1-4h0m-8-7h0m2-2h0m4-2h0m3-7h0m6-8h0m-17 6h0m-10 25h0m-5 4h0m0 4h0"/>
<path id="b76" d="M703 135h0m8 4h0m2 5h0m4 1h0m1-3h0m1 7h0m2 6h0m-7 8h0m0 4h0m-5-4h0m-4-13h0m-3-5h0m13-20h0"/>
<path id="c76" d="M702 143h0m8 0h0m-3 11h0m-7 0h0m2 11h0m15-10h0m5-4h0m2 4h0m-7-26h0"/>
<path id="d76" d="M719 120h0m-1 14h0m-4 2h0m-5 2h0m-4 2h0m2 7h0m-4 1h0m1 10h0m9-4h0m9-13h0"/>
<path id="e76" d="M709 127h0m5 4h0m-7 4h0m3 10h0m-4 7h0m-6-1h0m5 12h0m6-3h0m8-21h0m8-19h0"/>
<path id="f76" d="M711 133h0m6 2h0m3-4h0m2-8h0m6 1h0m-21 18h0m-2 4h0m5 2h0m1 17h0m-2 4h0"/>
<path id="a77" d="M348 450h0m3 2h0m2-2h0m3-1h0m-1 6h0m-3 6h0m-4-3h0m-1 5h0m13-2h0m2 4h0m8 0h0m5-3h0m0-3h0m4-2h0m-5-4h0m-4-1h0m4 19h0m3 1h0m-5 3h0m-2 2h0m0-46h0"/>
<path id="b77" d="M363 433h0m7 13h0m6 6h0m2-2h0m-1 6h0m-3 1h0m-6 1h0m-3 6h0m-2 3h0m-1 2h0m-8-6h0m-4 5h0m-3-16h0m26 11h0m4 7h0m-5 8h0m12-16h0m-2-3h0"/>
<path id="c77" d="M353 446h0m-4 8h0m-2 2h0m2 4h0m3-5h0m0 11h0m4 2h0m4-2h0m8-1h0m8 0h0m4-1h0m1-1h0m-3-9h0m-6 4h0m3 19h0m-33-17h0"/>
<path id="d77" d="M351 448h0m4 4h0m3 2h0m1-3h0m-2 6h0m3 2h0m5-5h0m4 15h0m-4 1h0m2 3h0m11-5h0m4 1h0m-3-8h0m-25 8h0m-6-2h0m-4-8h0m28-24h0"/>
<path id="e77" d="M371 443h0m-13 20h0m2 12h0"/>
<path id="f77" d="M366 429h0m-2 10h0m-2 9h0m1 10h0m4 4h0m2 0h0m-3 5h0m-4 4h0m2 5h0m-9-17h0m-5-2h0m-6 0h0m26-2h0m3-7h0m2-4h0m9 15h0"/>
<path id="a78" d="M373 315h0m10-1h0m4 6h0m4 2h0m-6 5h0m-6 9h0m-2 2h0m3 1h0m2 3h0m-1 3h0m-2 2h0m1 5h0m1 2h0m9-5h0m0-3h0m-18-8h0m-3 5h0m32-17h0"/>
<path id="b78" d="M371 319h0m7-6h0m2 9h0m2 7h0m-4 4h0m6 2h0m9-2h0m8 9h0m2-2h0m4 0h0m-10-19h0m-10 27h0"/>
<path id="c78" d="M371 330h0m3 12h0m13 2h0m8-2h0m-8 12h0m9-29h0"/>
<path id="d78" d="M376 326h0m7 6h0m3 8h0m-2 6h0m10 0h0m2 7h0m5-5h0"/>
<path id="e78" d="M386 334h0m4-3h0m4 4h0m2 2h0m-2 1h0m-4 5h0m-12-1h0m14 13h0m11-9h0m9-10h0"/>
<path id="f78" d="M372 334h0m10 15h0m2 1h0m0 4h0m6 3h0m2-6h0m-1-12h0m16-3h0m5 7h0m-6 5h0"/>
<path id="a79" d="M441 210h0m2 5h0m-2 2h0m3 1h0m0 4h0m-2 9h0m2 4h0m4-3h0m6-2h0m2 2h0m-3-5h0m1-7h0m2-1h0m3 0h0m5 8h0m-1 4h0"/>
<path id="b79" d="M437 208h0m1 9h0m4 3h0m3-3h0m1-5h0m6 4h0m-1 4h0m-2 3h0m9-7h0m2-7h0m7 0h0m-1 13h0m-4 2h0m5 3h0m-25 7h0"/>
<path id="c79" d="M438 221h0m4 6h0m3 4h0m2 4h0m6-3h0m5 4h0m7 1h0m-4-9h0m-1-6h0m-5 1h0m-6 2h0m-2-6h0m3-4h0m1-3h0m-13 19h0"/>
<path id="d79" d="M448 216h0m-3 12h0m-2 2h0m1 3h0m-5 1h0m23 0h0m3 5h0m4-20h0m-1-5h0"/>
<path id="e79" d="M444 225h0m2-1h0m2 5h0m2-1h0m3-3h0m2-8h0m7-3h0m9-3h0m0-5h0m-5 26h0m2 2h0m-8 5h0m-1-8h0"/>
<path id="f79" d="M438 210h0m11 0h0m6 3h0m-6 5h0m3 5h0m3 4h0m3-1h0m0 4h0m-4 5h0m-3 0h0m-11-6h0m0-6h0m28-12h0m0 27h0"/>
<path id="a80" d="M435 80h0m7 11h0m-1 4h0m2 2h0m-4 3h0m0 2h0m1 4h0m5-1h0m0-3h0m8-6h0m10 0h0m6-7h0m6 7h0m1 4h0m0 4h0m-5-2h0m-9 10h0m-8 0h0m-19-2h0m-3-15h0m1-2h0m20-11h0m3 2h0m3 2h0m2-2h0"/>
<path id="b80" d="M437 83h0m4-3h0m9 3h0m1 6h0m0 3h0m-4 4h0m0 6h0m8 3h0m7 3h0m-2 3h0m6-9h0m0-6h0m-2-6h0m8 0h0m1 15h0m-17-8h0m-18 7h0m-3-4h0m2-9h0m-5-2h0"/>
<path id="c80" d="M438 79h0m20 11h0m3 4h0m5 15h0m-9 3h0m0 5h0m-7-2h0m-8-13h0m-9 3h0"/>
<path id="d80" d="M436 94h0m0 10h0m-2 10h0m17-12h0m3 6h0m2-20h0"/>
<path id="e80" d="M434 84h0m1 5h0m9-3h0m3-3h0m2-2h0m9 1h0m7 1h0m1 10h0m5 1h0m-4 12h0m-9 2h0m-1-6h0m-6 2h0m-3 0h0m2 3h0m1 3h0m-4 3h0m-9-1h0m3-13h0m-9 1h0m18-2h0m-2-7h0m12 24h0m4 0h0"/>
<path id="f80" d="M438 87h0m3-3h0m3-2h0m5 5h0m-1 7h0m-4 6h0m-5-3h0m-3 0h0m6 15h0m20-8h0m-3-8h0m10 3h0m0-7h0m-6-6h0m2-6h0m-4-1h0"/>
<path id="a81" d="M263 305h0m-2 4h0m5 6h0m-4 4h0m-4-1h0m19 1h0m4 0h0m14-1h0m1 3h0m5-12h0m-7-5h0m2-3h0m-10-1h0m-3-2h0m-9 7h0"/>
<path id="b81" d="M272 297h0m1 6h0m-3 1h0m6 5h0m1 5h0m2 3h0m2-3h0m3 6h0m-4 2h0m12-9h0m1-6h0m-12-3h0m-18 12h0m39 5h0"/>
<path id="c81" d="M264 309h0m5 4h0m3 4h0m2-1h0m0 3h0m1 3h0m-5-1h0m15-6h0m3 6h0m9-10h0m4 2h0m0 3h0m-18-14h0m-5 4h0m-2-2h0"/>
<path id="d81" d="M274 300h0m4 2h0m4 6h0m3 0h0m3 1h0m-11 2h0"/>
<path id="e81" d="M275 295h0m-3 11h0m2 7h0m11-2h0m3 3h0m-3 3h0m11-2h0m3 5h0m-1-13h0"/>
<path id="f81" d="M268 300h0m0 5h0m1 4h0m3 2h0m12-7h0m8-4h0m-14-3h0"/>
<path id="a82" d="M656 87h0m5 3h0m3 3h0m6-2h0m7 1h0m7 1h0m0-4h0m-7-9h0m-8 0h0m-4 4h0m-6 15h0"/>
<path id="b82" d="M663 76h0m-2 5h0m-3 1h0m1 4h0m7-5h0m3 2h0m4 3h0m4 3h0m-2 9h0m-5 0h0"/>
<path id="c82" d="M654 69h0m13 5h0m1 21h0m-4 2h0m-15-4h0"/>
<path id="d82" d="M656 73h0m-4 6h0m4 2h0m-1 9h0m0 4h0m13-6h0m6 5h0m4 4h0m2-6h0m-13-21h0"/>
<path id="e82" d="M662 72h0m-1 15h0m-4 4h0m10 7h0m13-4h0m1-10h0"/>
<path id="f82" d="M659 95h0m22 4h0m3-3h0m-2-8h0"/>
<path id="a83" d="M328 415h0m2 7h0m-2 9h0m-3 1h0m-4 2h0m-3-2h0m6 8h0m4-1h0m3 2h0m-3 9h0m5-19h0m17-4h0m10 1h0m-1 5h0m-5 7h0m-2 3h0m-2-1h0"/>
<path id="b83" d="M319 412h0m5 14h0m-7 3h0m8 7h0m7-3h0m0-7h0m7 12h0m4 3h0m2-2h0m0 5h0m2-11h0m2-9h0m-21 19h0m-10-3h0"/>
<path id="c83" d="M320 429h0m13 14h0m4 3h0m-6 3h0m9-15h0m6-7h0m10 2h0"/>
<path id="d83" d="M321 419h0m-3 6h0m9 2h0m7 12h0m-3 7h0m3 9h0m8-8h0"/>
<path id="e83" d="M328 418h0m7 2h0m3 3h0m0 6h0m5 0h0m8 4h0m2-7h0m-19 10h0m-3 1h0m-2-1h0m-6 1h0m19 14h0"/>
<path id="f83" d="M322 415h0m2 7h0m12 12h0m3 10h0m-1 6h0m-5 0h0m-6-4h0m15 8h0m3-4h0m3-5h0m4-6h0m-10-18h0"/>
<path id="a84" d="M136 289h0m6 8h0m2 4h0m-4 6h0m-3 8h0m10 5h0m7 1h0m5-3h0m3-1h0m1-3h0m-2-2h0m3-2h0m3 4h0m-2 2h0m8-5h0m-1-9h0m-6 2h0m-3-2h0m-2 3h0m-10-8h0m1-3h0m-6-3h0m-5 38h0"/>
<path id="b84" d="M139 302h0m2 11h0m-3 6h0m13 6h0m1-13h0m2-2h0m8-2h0m7 4h0m-5 6h0m5-17h0m-7-4h0m-5 4h0m0-9h0"/>
<path id="c84" d="M138 285h0m8 2h0m4 4h0m3 0h0m2 2h0m-3 6h0m-6 1h0m-6-1h0m-4 0h0m21 8h0m2 3h0m0-7h0m5-4h0m2 8h0m-7 14h0"/>
<path id="d84" d="M142 288h0m11 9h0m0 4h0m-1 5h0m-4 5h0m-1 7h0m3 3h0m-9 0h0m0-4h0m-4-15h0"/>
<path id="e84" d="M147 296h0m-2 9h0m-5 0h0m5 5h0m7 7h0m3-4h0m4-6h0m7-6h0m-9-3h0m-18 30h0"/>
<path id="f84" d="M135 295h0m17 9h0m-2 4h0m7 8h0m10-5h0m1-6h0m-29 19h0m-3-2h0"/>
<path id="a85" d="M466 310h0m8-7h0m5 6h0m4-4h0m1 7h0m2 2h0m5 0h0m2-2h0m3 6h0m2 3h0m-3 6h0m0 3h0m-8-2h0m-1 3h0m-5 4h0m-4 1h0m-6-3h0m-6 1h0m-3-5h0m-2 2h0m-6 6h0m-3-9h0m5-6h0m1-3h0m15 6h0m2-5h0m8-1h0m-14 20h0"/>
<path id="b85" d="M464 311h0m-1 5h0m4 2h0m3 0h0m1-3h0m2-3h0m3 1h0m3-1h0m-4-3h0m1-2h0m-1 11h0m5 1h0m-1 4h0m-2 2h0m2 2h0m-8 9h0m-10-2h0m2-12h0m-4-1h0m-10 16h0m42-5h0m7-4h0m0-3h0m-3-2h0m-3-4h0"/>
<path id="c85" d="M466 322h0m1 4h0m2 5h0m-1 5h0m-2 9h0m-12-6h0m5-10h0m17-1h0m6-4h0m3 1h0m5-2h0m-1-3h0m1-2h0m-4-1h0m1-5h0m-5 1h0m13 7h0m-8 14h0"/>
<path id="d85" d="M455 317h0m23 2h0m5 7h0m2 3h0m-3 4h0m10-12h0m1-5h0m-5-1h0m3-4h0m-12-8h0"/>
<path id="e85" d="M456 328h0m23 2h0m2-8h0m4 0h0m4 4h0m2 3h0m-7-13h0m-1-6h0m13 3h0"/>
<path id="f85" d="M465 314h0m6 7h0m4 2h0m6 4h0m2 4h0m2 3h0m-6 0h0m8-10h0m-1-4h0m3-7h0m-2-4h0m7 16h0m-28 3h0m-2 2h0m-1-5h0m-3 0h0m-6 9h0m6 4h0m3 2h0m2 2h0"/>
<path id="a86" d="M431 357h0m-1 5h0m5 1h0m2-2h0m3 4h0m2-8h0m5-1h0m2 1h0m3 5h0m11 0h0m-4-15h0m-7 3h0m-12 26h0m-1 7h0m1 8h0m-2 3h0m6-4h0m4 3h0m6-6h0m4-6h0m-26-6h0m-9-3h0"/>
<path id="b86" d="M428 344h0m12 5h0m8 1h0m2 4h0m0 6h0m7-1h0m8 6h0m0 3h0m2-16h0m-19-7h0m-9 29h0m10 9h0m3 1h0m3-2h0m2 3h0m-4 5h0m1 4h0m-4 7h0"/>
<path id="c86" d="M444 349h0m3 4h0m-3 1h0m10 4h0m3-3h0m2-3h0m2 4h0m-4 6h0m-2-12h0m11 21h0m1 4h0m-8 8h0m-5-4h0m-2 3h0m-6 2h0m3 4h0m12 3h0m-22-13h0m-2-3h0m-2-3h0m2-2h0m-5-4h0m-2 5h0m-3 7h0"/>
<path id="d86" d="M426 350h0m10-8h0m17 5h0m-9 12h0m5 4h0m-2 7h0m-4 5h0m-1 9h0m4 8h0m-2 2h0m1 5h0m4-2h0m2-3h0m10-8h0m2-1h0m-1-15h0m-1-5h0m7 1h0m-2-9h0"/>
<path id="e86" d="M434 350h0m13 10h0m8 10h0m2 5h0m2 2h0m3 1h0m3 3h0m-9 8h0m2 7h0m-4 5h0m-14-12h0m-4 1h0m7-12h0m4 2h0m-22-16h0m43-3h0"/>
<path id="f86" d="M423 359h0m14 6h0m3-12h0m-3-1h0m1-4h0m5-4h0m10 10h0m7 8h0m8 6h0m-7 4h0m2 3h0m-22 5h0m-6 5h0m-2-5h0m7 17h0"/>
<path id="a87" d="M396 99h0m1 6h0m7 1h0m5-3h0m-4-4h0m10 13h0m4-3h0m2-2h0m8 4h0m-5 6h0m0 6h0m1 3h0m-3 0h0m8-5h0m-13-3h0m-4 0h0m-10-1h0m22-19h0m5 4h0m-6-11h0"/>
<path id="b87" d="M410 91h0m1 4h0m-2 1h0m-3 7h0m7 5h0m6-9h0m-3-8h0m15 20h0m-4 3h0m-13 9h0m-5 1h0m-3-1h0m-5-4h0m-4-10h0"/>
<path id="c87" d="M400 94h0m7 15h0m1 5h0m-6 0h0m9 6h0m6-6h0m5-10h0m4 0h0m3-6h0m-2-4h0m1 29h0m-26 3h0"/>
<path id="d87" d="M398 114h0m12 3h0m1-3h0m-2-8h0m15 3h0m-1-16h0"/>
<path id="e87" d="M420 93h0m3 8h0m6 5h0m-8 4h0m1 13h0m-19-12h0m-5 13h0"/>
<path id="f87" d="M401 104h0m-1 8h0m6 1h0m4-2h0m5 4h0m4 4h0m2-3h0m5-4h0m-8-6h0m-2-11h0m-8 24h0m-2 2h0m-3 2h0"/>
<path id="a88" d="M272 206h0m2 14h0m11 8h0m3-1h0m2-6h0m4 1h0m3 2h0m8-3h0m3 2h0m-3 4h0m-5-12h0m-4 0h0m5-4h0m20 6h0"/>
<path id="b88" d="M264 197h0m-1 4h0m4 19h0m10-1h0m4-4h0m4 7h0m6 5h0m3-1h0m-1 4h0m11-6h0m3 5h0m-9-17h0m-9 0h0m-5-6h0m-1-10h0"/>
<path id="c88" d="M261 195h0m0 2h0m11 17h0m7-3h0m6 6h0m-1 2h0m9-1h0m7 8h0m4 4h0m-17-22h0"/>
<path id="d88" d="M278 205h0m4 8h0m6 4h0m-7 5h0m1 5h0m22-14h0"/>
<path id="e88" d="M267 201h0m-4 11h0m4 2h0m5 3h0m15 6h0m3 6h0m9-8h0m-3-11h0m-15-10h0m4-5h0m41 33h0"/>
<path id="f88" d="M276 199h0m17 9h0m-1 6h0m4 5h0m1 9h0m2 0h0"/>
<path id="a89" d="M591 134h0m6 2h0m3 1h0m4 1h0m2-2h0m1-3h0m3 2h0m2 3h0m4-4h0m2 3h0m4-6h0m-15-4h0m-4 0h0m-1-2h0m0 16h0m-3 0h0m-3-1h0m9 5h0m-1 6h0m-2 6h0m-9 1h0m-1 4h0"/>
<path id="b89" d="M592 136h0m4-4h0m3-2h0m10-2h0m3 1h0m0 5h0m-3 5h0m5 1h0m1 1h0m4 1h0m-4 9h0m-3-1h0m3 8h0m-10-1h0m-4-4h0m1-8h0m-13-3h0m36-11h0"/>
<path id="c89" d="M596 130h0m7 3h0m6 8h0m9-2h0m4 0h0m3 3h0m-2 2h0m-3-9h0m0-3h0m-3-4h0m7-1h0m1 7h0m-14 21h0"/>
<path id="d89" d="M601 121h0m-3 3h0m8 15h0m-5 10h0m-5 3h0m-1 8h0m14-7h0m14-5h0m0-15h0m-3-3h0"/>
<path id="e89" d="M591 131h0m1 8h0m-3 0h0m1 6h0m5 3h0m9 0h0m5 2h0m-1-6h0m-2-3h0m9-9h0m1-6h0m3 24h0m-1 3h0m-14 1h0m0 6h0m-4 0h0m-4 4h0"/>
<path id="f89" d="M589 132h0m-1 5h0m10 6h0m0 4h0m8 5h0m1-2h0m2-2h0m3-2h0m-1-2h0m1-3h0m3 5h0m-3 6h0m2 3h0m-3 4h0m-4-4h0m-6 7h0m21-9h0m-2-26h0m-10-1h0"/>
<path id="a90" d="M465 125h0m2 7h0m4 0h0m6 4h0m6-5h0m5 5h0m8-7h0m5 2h0m-4-9h0m-7-4h0m-9-6h0m-15 26h0m1 5h0m3 5h0m3-2h0m25-1h0"/>
<path id="b90" d="M470 119h0m2 3h0m15 0h0m5 13h0m0 5h0m-2 1h0m-4 2h0m-3 4h0m-3-2h0m-4 1h0m-2 2h0m1-6h0m-6-4h0m28-3h0"/>
<path id="c90" d="M479 103h0m-5 7h0m0 14h0m2 0h0m1 3h0m0 3h0m8 3h0m3 6h0m1 9h0m11-6h0m-3-4h0m-29-9h0m0 18h0"/>
<path id="d90" d="M462 119h0m5 2h0m-3 8h0m1 6h0m5 7h0m7 2h0m10 2h0m-13-12h0m5-10h0m4 2h0m0-18h0m-4-1h0"/>
<path id="e90" d="M466 116h0m10 0h0m4 1h0m-1 4h0m-6 6h0m-3 8h0m-5-4h0m6 19h0m6-2h0m5-6h0m3-4h0m-9-31h0"/>
<path id="f90" d="M471 110h0m6-1h0m-7 7h0m-2 9h0m-1 15h0m14-4h0m2 8h0m12 3h0m0-6h0m-3-14h0m-8-10h0"/>
<path id="a91" d="M371 190h0m7 8h0m5-5h0m5-4h0m8 9h0m2 4h0m5 1h0m2-4h0m4 5h0m-14 3h0m-6 1h0m0-3h0m-3-2h0m-3 4h0m1 12h0m14-5h0"/>
<path id="b91" d="M350 198h0m15 4h0m11-7h0m13 0h0m0 4h0m4-1h0m-1-7h0m15 11h0m-7 9h0m-20 3h0m3 8h0"/>
<path id="c91" d="M378 191h0m-3-1h0"/>
<path id="d91" d="M374 186h0m7 5h0m6 5h0m5-2h0m4 10h0m-3 12h0m-6 11h0m-16-30h0m39 3h0m4 0h0"/>
<path id="e91" d="M380 188h0m3 10h0m-9 2h0m-6 5h0m22-14h0m8 4h0m10 14h0m-4 3h0m-6 9h0"/>
<path id="f91" d="M377 187h0m8 3h0m8 11h0m0 4h0m0 4h0m9-3h0m-1-8h0m1 17h0m-16 9h0m0 6h0m-8-13h0"/>
<path id="a92" d="M228 589h0m-7 11h0m23-14h0"/>
<path id="b92" d="M232 591h0m5-3h0m3-1h0m-2 4h0m4 8h0m-1 4h0m-4-2h0m-3 13h0m13-24h0"/>
<path id="c92" d="M215 590h0m9 6h0m8 1h0m4-4h0m-7 10h0m-3 2h0m7 6h0m6-1h0"/>
<path id="d92" d="M217 587h0m13-2h0m11 7h0m2 2h0m-20 7h0m0 6h0"/>
<path id="e92" d="M225 585h0m9 4h0m-7 6h0m-1 4h0m4 8h0m0 5h0"/>
<path id="f92" d="M222 585h0m2 6h0m12-6h0"/>
<path id="a93" d="M470 344h0m4 2h0m-1 5h0m7 6h0m4-3h0m7 0h0m7 3h0m-2 3h0m4 2h0m2-7h0m-1-4h0m3-1h0m-6-5h0m3-3h0m3-1h0m-7-9h0m-7 10h0m0 4h0m-5-4h0m1-3h0m-6 2h0m-3-2h0m-1 23h0m6 3h0m5 5h0m4-5h0m3 7h0"/>
<path id="b93" d="M483 344h0m2 1h0m0 4h0m5 0h0m3 5h0m3 1h0m1-4h0m-5 8h0m0 9h0m-12 0h0m-7-6h0m0-4h0m3-2h0m1-3h0m2 1h0m-1 5h0m18-21h0m4-2h0m-7-2h0m14 12h0m0 10h0"/>
<path id="c93" d="M473 341h0m3 4h0m-2 8h0m-3 8h0m18-8h0m-1-2h0m6 1h0m4 8h0m-1 12h0m11-22h0m-1-9h0m-1-4h0m-4 2h0m-4 4h0m-2-9h0m4-2h0m-17 8h0"/>
<path id="d93" d="M485 336h0m6 3h0m2 1h0m2 2h0m-3 4h0m-14 2h0m0 16h0m18 5h0m4-4h0m10-21h0m0-3h0"/>
<path id="e93" d="M477 341h0m10 6h0m6-4h0m1 1h0m5-5h0m6 5h0m7 0h0m-28 13h0m0 5h0m-6 0h0m-9-11h0"/>
<path id="f93" d="M480 337h0m9 0h0m0-2h0m0 5h0m-1 4h0m-4 4h0m-3 1h0m1 4h0m3-1h0m1 5h0m-5 2h0m-12-3h0m23-6h0m3-3h0m7 0h0m-8-15h0"/>
<path id="a94" d="M416 411h0m4 2h0m5 3h0m4-3h0m5 0h0m1 2h0m2 4h0m-1 3h0m8 3h0m1 9h0m-10 1h0m-5 3h0m-2-3h0m-2-3h0m-4 3h0m-6-6h0m3-2h0m2-1h0m3-1h0m-1-3h0m-7-3h0m-6 1h0m19-19h0m3 3h0m4-1h0m1 6h0m7-6h0m13 10h0m1 5h0m-30 28h0m1 3h0m-6-5h0"/>
<path id="b94" d="M426 404h0m0 4h0m-4 3h0m-3 5h0m-3-1h0m0 8h0m7 6h0m4 0h0m7-2h0m4-4h0m5 6h0m0 3h0m0 3h0m3-7h0m-14 9h0m-14-2h0m12-23h0"/>
<path id="c94" d="M423 407h0m2 3h0m1 4h0m5 1h0m2 5h0m-6 1h0m-8 3h0m16 5h0m5 4h0m-3-21h0m5-4h0"/>
<path id="d94" d="M423 418h0m2 1h0m-2 12h0m1 3h0m-5-3h0m15 0h0m-1 13h0m-7 10h0m27-28h0"/>
<path id="e94" d="M427 406h0m1 3h0m1 7h0m0 3h0m-6-5h0m-3 7h0m17 4h0m13-16h0m-24 34h0"/>
<path id="f94" d="M413 412h0m8 7h0m6 5h0m3 2h0m4-3h0m6 3h0m-3 5h0m-6 2h0m3 7h0m8-20h0m6-2h0m0-7h0m-1-2h0"/>
<path id="a95" d="M464 468h0m-1 2h0m5 1h0m3 2h0m6 3h0m7 4h0m4 11h0m-11 0h0m-3-4h0m-4 1h0m-2-3h0m4 18h0m5 3h0m4-41h0m-5-9h0m18 7h0m0 3h0"/>
<path id="b95" d="M476 459h0m4 0h0m2-1h0m-12 8h0m0 3h0m-4 1h0m-4 5h0m2 4h0m0 3h0m3-2h0m3 4h0m-1 8h0m11-7h0m-6-11h0m13-1h0m9 1h0m2-2h0m2-2h0m-2-7h0m-4 16h0m-3 17h0"/>
<path id="c95" d="M473 458h0m0 13h0m3 0h0m7 0h0m0 5h0m0 6h0m-2 7h0m11-8h0m-3-4h0m10-11h0m-6-7h0m-26 34h0"/>
<path id="d95" d="M465 465h0m3 3h0m-5 5h0m4 5h0m-2 7h0m24-3h0m3 6h0m0 11h0"/>
<path id="e95" d="M467 464h0m-1 9h0m6 8h0m8-3h0m8-13h0m8 12h0m-4 15h0"/>
<path id="f95" d="M465 475h0m4 0h0m6 3h0m2 3h0m-4 3h0m-7 3h0m19-1h0m2 1h0m0-3h0m-4 12h0m5 7h0m1-35h0m-5-1h0m-7 2h0m8-10h0m4 2h0m8-2h0"/>
<path id="a96" d="M289 195h0m1 4h0m5-2h0m1-4h0m2-4h0m5 1h0m1 3h0m5-10h0m4-1h0m1 5h0m9 4h0m4-3h0"/>
<path id="b96" d="M292 195h0m4 11h0m29-21h0"/>
<path id="c96" d="M321 188h0m-22 9h0"/>
<path id="e96" d="M305 183h0"/>
<path id="f96" d="M292 191h0m0 9h0m10 4h0m2 3h0m3-2h0m10-23h0m3 1h0"/>
<path id="a97" d="M391 126h0m-1 6h0m7 6h0m3-2h0m2 7h0m2 4h0m-2 1h0m3 4h0m-1 3h0m-5 2h0m-5-9h0m0-3h0m15 0h0m2 5h0m-2 1h0m8-13h0m-2-2h0m4-2h0m4 1h0m-19-7h0"/>
<path id="b97" d="M380 136h0m5-2h0m4 1h0m3-1h0m4 0h0m-7-6h0m16 3h0m8 2h0m4 0h0m1 3h0m-5 2h0m-3 1h0m0 4h0m0 4h0m-5 2h0m-8 3h0m-4 4h0m10 2h0m11-29h0"/>
<path id="c97" d="M380 133h0m7 16h0m4-1h0m9 2h0m2 3h0m6-6h0m8-5h0m3-3h0m-11-7h0m-4 3h0"/>
<path id="d97" d="M398 129h0m5 3h0m0 8h0m9 5h0m3 0h0m6-12h0m0-3h0m-2 0h0m-22 19h0m-3 4h0m-2-2h0"/>
<path id="e97" d="M383 136h0m-2 5h0m4 3h0m5 0h0m7 2h0m9-1h0m4-9h0m2-5h0m7-3h0m-1 15h0m-18-11h0m-7-3h0"/>
<path id="f97" d="M377 128h0m11 2h0m-5 9h0m16 4h0m1 3h0m4-1h0m2-3h0m3-1h0m4 0h0m-6-5h0m-5-8h0m21 9h0"/>
<path id="a98" d="M577 327h0m4 3h0m5 6h0m7-1h0m0-3h0m3 0h0m0 4h0m3 2h0m-4 8h0m4 1h0m1 3h0m-6 3h0m1 4h0m-5 1h0m-3 0h0m1-3h0m0-6h0m-8-5h0m-3-2h0m-3 0h0m-2 2h0m-4-2h0m8-4h0m-4 15h0m12 7h0m-1 6h0"/>
<path id="b98" d="M575 330h0m4 6h0m3-4h0m3-5h0m4 5h0m-1 3h0m-4 3h0m0 3h0m5 3h0m-8 6h0m-4-1h0m-3-4h0m10 12h0m2 4h0"/>
<path id="c98" d="M584 331h0m2 2h0m3 14h0m4 4h0m4 3h0m-5 2h0m1 4h0m-15-4h0m0-10h0m-9 2h0m-1 5h0"/>
<path id="d98" d="M573 333h0m14 9h0m3-4h0m4 5h0m1 6h0m2 2h0m3-7h0m-14 3h0m-5 9h0m-1 3h0m14-30h0"/>
<path id="e98" d="M572 336h0m8 4h0m4 3h0m-2 3h0m4-7h0m-2-5h0m7 8h0m6 1h0m5 10h0m-17 1h0m-4 8h0m-9-13h0"/>
<path id="f98" d="M579 332h0m19-2h0m-13 21h0m-8 3h0m12 7h0"/>
<path id="a99" d="M472 255h0m3 0h0m5 1h0m4 3h0m1 3h0m-5 1h0m-6 4h0m-1 3h0m0 3h0m17-7h0m0-8h0m6-4h0m4-3h0m-6-2h0m-6-6h0m-4 1h0m-2 3h0"/>
<path id="b99" d="M471 245h0m6 1h0m4 5h0m6 4h0m6 0h0m-4 9h0m1 4h0m2 2h0m0 3h0m3-6h0m-9 2h0m-7 2h0m-3-6h0m-5 1h0m33-3h0"/>
<path id="c99" d="M475 257h0m-1 4h0m8 3h0m0 4h0m7 3h0m4-4h0m6-1h0m-6-15h0"/>
<path id="d99" d="M474 246h0m-3 5h0m3 1h0m6-4h0m8-2h0m0 4h0m10-4h0m5 3h0m-9 16h0m-3-2h0m4 6h0m-1 2h0m-12 1h0m-4 1h0m1-8h0m1-7h0"/>
<path id="e99" d="M472 257h0m-2 3h0m1 3h0m6-1h0m2 6h0m2 6h0m5-2h0m1-10h0m0-3h0m-3-2h0m0-3h0m-6-1h0m14 5h0m7 1h0m3 1h0m-2 4h0m3-11h0m-11-9h0"/>
<path id="f99" d="M469 251h0m0 5h0m-1 7h0m10-4h0m5 3h0m3 2h0m-2 2h0m4 2h0m8-6h0m-1-4h0m6 13h0m1-27h0m-26 7h0"/>
<path id="a100" d="M376 435h0m-1 3h0m5 1h0m4 0h0m9 0h0m2 5h0m10 6h0m2 5h0m3 1h0m1-7h0m1-2h0m1-3h0m-1-4h0m-3-2h0m0-3h0m-3-4h0m-2-4h0m4-2h0m-8 8h0m-8-3h0m-2-4h0m-4 26h0m-3 3h0m-3-3h0m9 3h0m26-5h0"/>
<path id="b100" d="M379 429h0m7 5h0m-2 2h0m3 2h0m6-2h0m3 1h0m5 4h0m4 1h0m1-4h0m0-2h0m-4 10h0m-3 4h0m1 4h0m-6 5h0m-1-13h0m-13-3h0m-1 4h0m-2-9h0m42 7h0m1 5h0"/>
<path id="c100" d="M383 426h0m3 0h0m0-3h0m2 9h0m1 4h0m-1 5h0m-2 0h0m1 3h0m-4 1h0m3 4h0m9 3h0m-1 3h0m8-5h0m1-2h0m-3-1h0m4 5h0m1 3h0m5-14h0m5-2h0m-11-6h0m-25 8h0m44 11h0"/>
<path id="d100" d="M373 428h0m8 4h0m2 2h0m13 5h0m1 3h0m-4 7h0m-2 3h0m-4 2h0m2-7h0m18-2h0m6-11h0"/>
<path id="e100" d="M378 433h0m5 9h0m10 0h0m4 6h0m3-3h0m-1-8h0m-5-10h0m4-3h0m13 7h0m4 11h0m1 5h0m-3 6h0m-11 2h0m-16 1h0"/>
<path id="f100" d="M375 432h0m5 4h0m2-7h0m3 0h0m3-1h0m2 5h0m5 1h0m2-3h0m6 0h0m-1 5h0m1 4h0m-5-1h0m-8 4h0m-3 3h0m-5 2h0m7 4h0m1 7h0m6-2h0m1-4h0m4 4h0m17-1h0"/>
<path id="a101" d="M469 72h0m3 0h0m4-1h0m-3-3h0m5-4h0m3 11h0m-6 1h0m4 9h0m4 7h0m-4 5h0m10-12h0m15-3h0m0-9h0m-8-9h0m6-3h0m1-7h0"/>
<path id="b101" d="M485 52h0m-3 5h0m4 2h0m-2 9h0m7 1h0m-1 4h0m2 3h0m1 8h0m8-6h0m1-8h0m-5-10h0m0-4h0m-23 7h0m-6 12h0"/>
<path id="c101" d="M476 61h0m2-2h0m1 2h0m0 7h0m-2 5h0m2 5h0m9 0h0m7 1h0m4-4h0m2-2h0m-4-3h0m-3-3h0m-2 5h0m-4-5h0m0-5h0m4-12h0m10 14h0m-11 26h0"/>
<path id="d101" d="M469 69h0m12-3h0m1 4h0m4-6h0m14 2h0m3 10h0m-8 10h0m-22-4h0m30-37h0"/>
<path id="e101" d="M467 78h0m4 0h0m-1 3h0m26 1h0m-4-20h0"/>
<path id="f101" d="M488 55h0m-6 7h0m9 4h0m-4 5h0m-2 4h0m-1 5h0m2 4h0m3-3h0m3-2h0m-14 10h0m-5-10h0m29-22h0m-1-7h0"/>
<path id="a102" d="M230 203h0m-2 10h0m-1 4h0m4 0h0m-7-5h0m-2 4h0m19-11h0m1-3h0m-3-5h0m4-1h0m5 4h0m6-2h0m0-8h0m5 24h0m-1 10h0"/>
<path id="b102" d="M221 199h0m0 3h0m5 5h0m4 3h0m13-1h0m10 0h0m3 4h0m-4 3h0m0-21h0m-11-3h0m-1 3h0"/>
<path id="c102" d="M238 191h0m0 9h0m6-1h0m5-8h0m-2 20h0m-2 5h0m-9 3h0m-4-6h0m-11-2h0m7-9h0m31 8h0"/>
<path id="d102" d="M236 194h0m2 0h0m-5 4h0m-5 11h0m18-5h0m10 5h0m0 8h0m-10-25h0"/>
<path id="e102" d="M233 191h0m-7 8h0m-2 15h0m18 2h0m0 5h0m15-1h0m-8-22h0m4-6h0m3 2h0"/>
<path id="f102" d="M224 202h0m5 4h0m-7 3h0m14-7h0m10-6h0m11 3h0m0 7h0m-9 14h0m-11-4h0"/>
<path id="a103" d="M159 164h0m8-8h0m10-1h0m3-5h0m2 10h0m11 11h0m-3 6h0m2 2h0m2 1h0m-14-3h0m-10-2h0m-6 1h0m-1 5h0"/>
<path id="b103" d="M164 173h0m3 2h0m6-1h0m4 2h0m2 3h0m1 5h0m4-11h0m0-2h0m1-3h0m1-2h0m1-5h0m0 13h0m8 3h0m-17-5h0m-10 10h0m32-23h0"/>
<path id="c103" d="M162 162h0m1 6h0m-3 0h0m7 4h0m11 9h0m11 9h0m3-16h0m-3-3h0m0-31h0"/>
<path id="d103" d="M161 157h0m10-3h0m4 0h0m6 10h0m-5 6h0m-4 8h0m2 2h0m1 2h0m8 1h0m4-12h0m2-3h0"/>
<path id="e103" d="M169 161h0m-4 5h0m3 12h0m4 5h0m-8 0h0m17-3h0m7-1h0m1 4h0m2-18h0m4-1h0m-17-2h0"/>
<path id="f103" d="M157 154h0m2 8h0m8 2h0m4-1h0m3-1h0m2-4h0m2 7h0m1 3h0m3 2h0m1 8h0m3 3h0m-1 5h0m8-1h0m-17 0h0m-1-8h0m-3-5h0m-3-1h0m0-2h0m8-19h0m16 11h0m0 2h0m3-3h0"/>
<path id="a104" d="M110 415h0m7 5h0m5-5h0m2 2h0m5-1h0m0-4h0m3-4h0m9 10h0m4 1h0m2-8h0m-14 12h0m3 4h0m-1 2h0m-3-1h0m-1 6h0m1 5h0m-4 2h0m-4-6h0m-3-5h0m5-8h0m16 18h0m-6 8h0"/>
<path id="b104" d="M107 417h0m11 0h0m10 1h0m11-2h0m12 7h0m5-6h0m-11 12h0m-3 2h0m3 3h0"/>
<path id="c104" d="M124 413h0m-2 7h0m6 6h0m2 4h0m5-5h0m9 0h0m5 7h0m-14 9h0"/>
<path id="d104" d="M113 411h0m6 11h0m12-2h0m1-2h0m4 18h0m12 0h0"/>
<path id="e104" d="M115 414h0m-1 4h0m5 9h0m15-15h0m7 11h0m1 4h0m2 10h0"/>
<path id="f104" d="M110 411h0m11 0h0m6-1h0m0 5h0m26 13h0"/>
<path id="a105" d="M335 87h0m5 3h0m-5 5h0m-2 2h0m5 0h0m6 2h0m3 8h0m4 1h0m2 5h0m-4 5h0m-4-6h0m-5 3h0m1 4h0m-1 5h0m-2-13h0"/>
<path id="b105" d="M333 85h0m3 8h0m-2 6h0m10 7h0m3-3h0m2 10h0m-12 4h0m-3-5h0"/>
<path id="c105" d="M329 89h0m2 4h0m6-3h0m-5 11h0m12 2h0m-4 8h0m2 6h0m3 1h0m-6 3h0m11 3h0m3-7h0"/>
<path id="d105" d="M329 95h0m13 2h0m6 2h0m2 2h0m0 4h0m4 0h0m-12 4h0m-5 0h0"/>
<path id="e105" d="M335 82h0m-2 8h0m7 4h0m2-1h0m-5 8h0m-6 5h0m15 15h0m-2 3h0m10-15h0"/>
<path id="f105" d="M344 95h0m-4 4h0m1 7h0m-6 2h0m7 14h0m11 0h0m-1-19h0"/>
<path id="a106" d="M361 394h0m1 3h0m-3 1h0m5-7h0m5 1h0m4 0h0m-2 4h0m2 2h0m-2 11h0m0 3h0m-4-3h0m-7-1h0m14 12h0m1 4h0m6-8h0m3-2h0m2 3h0m6-3h0m-7-7h0m3-4h0m-9 9h0m5-23h0m-4-1h0m9-1h0"/>
<path id="b106" d="M363 400h0m2-2h0m1 6h0m6-1h0m2 5h0m-6 5h0m-5-2h0m14 10h0m9-10h0m6-7h0m-1-4h0m1-2h0m-7 1h0m-8-4h0m1-5h0m-3 0h0"/>
<path id="c106" d="M361 396h0m10 4h0m2 1h0m-5 5h0m-6 11h0m0 4h0m16 3h0m4-2h0m6-15h0m-3-3h0m-4-2h0m4-5h0m1-5h0m1-3h0m3 2h0m3 15h0"/>
<path id="d106" d="M367 400h0m3 2h0m7 0h0m-4 9h0m-7 1h0m-3-3h0m27-12h0"/>
<path id="e106" d="M361 390h0m0 14h0m11 2h0m3 8h0m1 3h0m12 2h0m-6-13h0m-6-8h0m4-5h0m6 2h0"/>
<path id="f106" d="M367 389h0m-2 5h0m8 2h0m5 3h0m5-4h0m9 14h0m-18 8h0m-4-3h0m-5 4h0m7 5h0m-6-16h0m-3-2h0"/>
<path id="a107" d="M288 456h0m3-2h0m-1 5h0m12-3h0m7 3h0m8 1h0m-1 6h0m1 2h0m5 4h0m-8 8h0m0 5h0m-7-3h0m-2-5h0m-1-3h0m-3-1h0m2-2h0m4 18h0m16-35h0m4-1h0m-11-5h0m-7 1h0"/>
<path id="b107" d="M288 459h0m6 0h0m12-3h0m1 10h0m4 12h0m6-3h0m7 0h0m-2 7h0m5-18h0m0-2h0m-5-2h0m1-3h0m-4-1h0"/>
<path id="c107" d="M288 463h0m9 6h0m3-4h0m6-2h0m-1-4h0m7 0h0m4-5h0m-3-3h0m-1-4h0m15 11h0m-7 6h0m4 6h0m-11 2h0m-3 1h0m-3 2h0m1 4h0m1 2h0m2 3h0m-2 1h0m-7 1h0m14-4h0m3-1h0"/>
<path id="d107" d="M304 462h0m-1 6h0m6 2h0m7-7h0m8 0h0m6-7h0m-14 22h0m-11 12h0"/>
<path id="e107" d="M290 464h0m8 16h0m2 3h0m10-7h0m6 8h0m-2-23h0m6-9h0m5 8h0"/>
<path id="f107" d="M300 461h0m-6 6h0m17 1h0m3-1h0m1 3h0m3 0h0m5-3h0m-2 10h0m9-18h0"/>
<path id="a108" d="M291 146h0m7 0h0m7 0h0m-10 7h0m3 4h0m-4 2h0m10 0h0m1 18h0m20-30h0"/>
<path id="b108" d="M286 150h0m2 1h0m3 0h0m1 4h0m7-7h0m3 2h0m2-2h0m4 5h0m4-2h0m1-3h0m4 3h0m5 1h0m0-8h0m-24 20h0"/>
<path id="c108" d="M280 153h0m6 0h0m8-7h0m4 6h0m4 2h0m2-2h0m-3 9h0m20-13h0"/>
<path id="d108" d="M310 146h0m-27 5h0"/>
<path id="e108" d="M289 148h0m5 3h0m22-3h0m13-1h0m-21 32h0"/>
<path id="f108" d="M284 156h0m5-2h0m6 1h0m2-7h0m4-1h0m7 3h0m4 28h0"/>
<path id="a109" d="M542 64h0m7-2h0m7 7h0m0 10h0m-14 1h0m-2 3h0"/>
<path id="b109" d="M541 67h0m3 3h0m4-3h0m-4 9h0m3 9h0m6 0h0m-14 1h0"/>
<path id="c109" d="M547 64h0m6 1h0m5 8h0m-7 4h0m2 5h0m10 3h0"/>
<path id="d109" d="M531 83h0m8-4h0m6 3h0m1 6h0m-4 0h0m5-12h0m4-6h0m5 13h0m10-1h0"/>
<path id="e109" d="M538 71h0m-5 13h0m17-1h0"/>
<path id="f109" d="M562 71h0"/>
<path id="a110" d="M193 206h0m2-1h0m1 7h0m-4 0h0m-3-1h0m0 6h0m-2 0h0m3 8h0m4 8h0m-1 4h0m9-1h0m4 6h0m5-8h0m5 3h0m0-14h0m-5-3h0m-2-2h0m0-3h0m3 1h0m5-1h0m-3-12h0m-11-3h0m0 7h0"/>
<path id="b110" d="M195 200h0m15 10h0m2-2h0m6 2h0m1 8h0m-6 9h0m-3 3h0m-4 0h0m3-5h0m-3-2h0m-9-2h0m-14 1h0m10 18h0m7-2h0m4 1h0m6-3h0"/>
<path id="c110" d="M189 221h0m5 6h0m-6 2h0m8 12h0m7-8h0m6 0h0m-2-6h0m2-5h0m5 1h0m-2-12h0m3-4h0"/>
<path id="d110" d="M219 205h0m-4 7h0m-15 18h0m14 6h0"/>
<path id="e110" d="M192 208h0m-1 7h0m2 3h0m0 4h0m4 6h0m9 7h0m4 5h0m3 0h0m1-7h0m1-2h0m2-12h0m-2-1h0m4-5h0m-3-10h0m-7-1h0m-2 3h0m1 7h0m-6 3h0m4 4h0m-20 5h0"/>
<path id="f110" d="M185 219h0m13-2h0m3 5h0m0 3h0m3 3h0m9 1h0m4-2h0m2-3h0m0-9h0m-10-8h0m-6 4h0m-2-7h0m16 29h0m-16 8h0m-3-3h0"/>
<path id="a111" d="M419 189h0m-2 7h0m21-10h0m2-6h0m4-6h0m5 2h0m6 5h0m5-7h0m1-3h0m-5-5h0m-1-2h0m-3 4h0m-5-3h0m-8 5h0m25 11h0m-15 22h0m6 4h0"/>
<path id="b111" d="M438 166h0m-4 8h0m-2 1h0m6 5h0m3-4h0m10 3h0m4-2h0m-2-5h0m-2-1h0m-1-6h0m1-2h0m-3 0h0m-3-3h0m14 9h0m-27 24h0m5 9h0m2 2h0m-5 2h0m9 2h0"/>
<path id="c111" d="M431 177h0m2 4h0m4-3h0m12 1h0m1-4h0m8 5h0m3 0h0m-15-18h0m-19 25h0m-3 5h0m-5 4h0m5 3h0m4-1h0m7 0h0m7-3h0m3 9h0m-4 1h0m-2 2h0m16-3h0m14 0h0"/>
<path id="d111" d="M435 171h0m10-2h0m3 1h0m0 3h0m1-6h0m9 9h0m-1 7h0m1 19h0"/>
<path id="e111" d="M432 171h0m8-4h0m6 1h0m-3 13h0m18-5h0m-14 32h0m-13-5h0m-2-4h0"/>
<path id="f111" d="M436 168h0m1 5h0m-3 5h0m12 3h0m8-6h0m2-1h0m1-4h0m2-4h0m-16-2h0m-15 38h0m32 2h0"/>
<path id="a112" d="M334 318h0m10 7h0m-1 2h0m5 1h0m2-3h0m2 6h0m1 7h0m2 6h0m-6 2h0m-9-1h0m-4 1h0m3-10h0m21-2h0m3 2h0m2-5h0m-1-4h0m-6-16h0m-3-4h0m-9 4h0m2 5h0"/>
<path id="b112" d="M339 329h0m-7 8h0m1 4h0m5 1h0m8-2h0m0 6h0m6 5h0m3-4h0m13-12h0"/>
<path id="c112" d="M349 312h0m-8 11h0m1 7h0m4 5h0m1 2h0m-1 6h0m4 0h0m-1 7h0m1 3h0m-14-10h0m24-5h0m7-27h0"/>
<path id="d112" d="M340 327h0m6 5h0m2 1h0m2-1h0m-7 10h0m-8-4h0m17 10h0m2-35h0"/>
<path id="e112" d="M334 344h0m7-3h0m3-5h0m5 1h0m2 4h0m9 2h0m3 5h0m6-25h0"/>
<path id="f112" d="M335 328h0m7 6h0m-5 5h0m7 6h0m8-10h0m4-4h0m-2-3h0m-7-5h0m11-8h0m7 3h0"/>
<path id="a113" d="M633 98h0m3 2h0m3 2h0m-1 5h0m-2 4h0m0 4h0m-1 4h0m8 5h0m5-8h0m4 1h0m0-7h0m0-4h0m-2-2h0m5 0h0m-3-7h0m-5-1h0m-6 1h0m4 9h0m1 4h0"/>
<path id="b113" d="M635 104h0m7 4h0m0 6h0m3 2h0m1 3h0m-4 2h0m9 2h0m2-3h0m0-6h0m2-2h0m3 0h0"/>
<path id="c113" d="M639 120h0m20-2h0m-2-12h0"/>
<path id="d113" d="M632 108h0m3 0h0m5 2h0m-1 2h0m4-2h0m6 1h0m1 8h0"/>
<path id="e113" d="M638 98h0m6 2h0m5 0h0m6-1h0m-6 9h0m-5 5h0m13 7h0"/>
<path id="f113" d="M643 95h0m13 13h0m1 8h0"/>
<path id="a114" d="M437 245h0m6 5h0m2 4h0m-1 5h0m-3 5h0m-3-3h0m-2-3h0m0 7h0m11 6h0m3-5h0m6-4h0m3 1h0m0-7h0m5 0h0m3-3h0m-2-3h0m-1-2h0m-2-1h0m-4-4h0m-1-4h0m-3 9h0m15 0h0m-8 22h0"/>
<path id="b114" d="M439 240h0m4 0h0m-3 8h0m3 9h0m6 5h0m3-1h0m1 9h0m-10 4h0m-4-7h0m-4-6h0m26-4h0m4 1h0m1-3h0m-5-4h0m3-6h0m0-3h0"/>
<path id="c114" d="M436 242h0m-2 8h0m7 5h0m2-8h0m6 2h0m5-5h0m5 4h0m-3 9h0m-2 2h0m7 1h0m-6 7h0m-3 0h0m-6-29h0"/>
<path id="d114" d="M440 244h0m-2 8h0m8 5h0m3 2h0m-2 2h0m-5 0h0m3 5h0m6 5h0m1-17h0m-1-8h0m12 4h0"/>
<path id="e114" d="M433 254h0m2-2h0m1 2h0m4 3h0m-7 1h0m15-4h0m10-8h0m-2-4h0m-3-2h0m9 1h0m2 12h0m-2 12h0m-14 3h0"/>
<path id="f114" d="M436 239h0m4-2h0m-7 7h0m-3 4h0m8 1h0m1 6h0m6-6h0m2-4h0m3-7h0m11 6h0m5 1h0m0 3h0m-5 5h0m-5 0h0m-2-2h0m-1 14h0m3 4h0m-14-2h0m-1 3h0"/>
<path id="a115" d="M231 528h0m0 12h0m-2 3h0m5 4h0m-2 4h0m3 4h0m4-2h0m3-5h0m3-3h0m2 1h0m3 8h0m-12-12h0"/>
<path id="b115" d="M225 531h0m7 0h0m-4 9h0m-4 7h0m5 4h0m2 2h0m-5 1h0m-3 2h0m18-10h0m4 4h0m-4-12h0m9 0h0"/>
<path id="c115" d="M222 534h0m4 10h0m1 4h0m3-1h0m2-5h0m9 0h0m0 9h0m8 0h0"/>
<path id="d115" d="M223 545h0m1 5h0m0 2h0m2-2h0m2 6h0m-7-2h0m16-5h0m10 3h0m6-2h0"/>
<path id="e115" d="M240 522h0m-3 15h0m-2 3h0m0 5h0m-3 1h0m5 5h0m-2 2h0m-7 0h0m14 2h0m6-13h0m3-1h0m-27-2h0"/>
<path id="f115" d="M229 532h0m4 2h0m10 0h0m1 4h0m3-2h0m6 1h0m-1 8h0m-24 1h0"/>
<path id="a116" d="M52 359h0m6-2h0m2-5h0m5 12h0m-1 9h0m-3 5h0m-6-1h0m-7-3h0m-5-1h0m1 5h0m-1 4h0m28-7h0"/>
<path id="b116" d="M50 349h0m5 5h0m2 6h0m-5 5h0m0 6h0m1 4h0m-3 2h0m-11 3h0m-4 2h0m2 3h0m-1-10h0m3-5h0m22-2h0m10-10h0m-12-9h0"/>
<path id="c116" d="M41 371h0m3-1h0m2 1h0m5-3h0m12 2h0m4-1h0m-5-10h0m1-10h0m-22 27h0"/>
<path id="d116" d="M48 354h0m12 8h0m-2 6h0m-3-1h0m-17 11h0"/>
<path id="e116" d="M49 368h0m0 4h0m14-6h0m1 2h0m5-3h0m1 5h0m5-3h0m-9 14h0m3-31h0"/>
<path id="f116" d="M54 362h0m6 4h0m0 6h0m-1 4h0m5-1h0m-12 7h0m-12 1h0m-2-1h0m36-18h0"/>
<path id="a117" d="M503 90h0m4 9h0m1 4h0m3 0h0m-1 3h0m-2 0h0m-4 3h0m0 3h0m-3-5h0m1-3h0m-3-5h0m-4 12h0m16 6h0m0 5h0m5-2h0m3 1h0m0-4h0m2-3h0m-2-3h0m-3 3h0m3-12h0m-3-4h0m-4-2h0m5-4h0m4-1h0m-2-4h0m6 11h0m10-9h0"/>
<path id="b117" d="M498 94h0m-2 9h0m-3 1h0m1 11h0m10-13h0m3 0h0m5-1h0m-3-5h0m8-1h0m-3-6h0m16 7h0m0 14h0m-7 4h0"/>
<path id="c117" d="M501 86h0m11 5h0m-1 3h0m4 6h0m-1 6h0m-11-7h0m25 12h0"/>
<path id="d117" d="M486 102h0m11 6h0m1 2h0m3 2h0m2-6h0m2-1h0m3 5h0m2 2h0m8-8h0m8 0h0m-18-20h0"/>
<path id="e117" d="M492 95h0m9-4h0m2-4h0m3 1h0m2 3h0m3 7h0m-2 2h0m15 9h0m4 6h0m-3-26h0m-24 27h0m-5 1h0"/>
<path id="f117" d="M510 86h0m6 0h0m-2 7h0m6 2h0m-2 5h0m-4 3h0m0 8h0m-1 6h0m-9 3h0m-6-7h0m1-9h0m1-2h0m2-6h0m3 0h0m21 12h0m0 4h0m5-7h0m3-13h0"/>
<path id="a118" d="M559 32h0m1 3h0m4-2h0m4-2h0m0 6h0m1 5h0m-3 1h0m3 5h0m-4 3h0m-1 4h0m3 6h0m3 0h0m-1 5h0m-2 3h0m12-9h0m6-2h0m3-7h0m-28-6h0m-1-4h0"/>
<path id="b118" d="M572 39h0m2 17h0m1 3h0m2 3h0m1 4h0m-3 4h0m-10-3h0"/>
<path id="c118" d="M559 47h0m3 13h0m-3 3h0m-4-2h0m23-6h0"/>
<path id="d118" d="M558 37h0m4 5h0m6-2h0m6 25h0m-15 1h0"/>
<path id="e118" d="M564 36h0m7 21h0m1 10h0m3 0h0m-12-3h0m-5-6h0m-4-2h0"/>
<path id="f118" d="M563 39h0m2 6h0m-5 7h0m10 2h0m1-21h0"/>
<path id="a119" d="M508 248h0m4 7h0m0 8h0m-5-1h0m10 5h0m1 2h0m2-4h0m-1-2h0m4 6h0m6-1h0m4 1h0m7-17h0m-8-6h0m-3 1h0m-4 0h0m-4-2h0m-3 1h0m14-8h0"/>
<path id="b119" d="M524 242h0m4 1h0m3-3h0m4 6h0m-1 8h0m3 3h0m5-6h0m-14 4h0m0 3h0m-4 1h0m-5 1h0m-9 1h0m1 7h0m4 1h0m11-2h0m6-4h0m-5-13h0"/>
<path id="c119" d="M511 251h0m4-2h0m6 0h0m0 3h0m1 3h0m7 9h0m8 4h0m2-13h0m-18 15h0m-10 1h0"/>
<path id="d119" d="M515 259h0m11 4h0m4-2h0m3-3h0m4-7h0m-8 0h0m5-9h0"/>
<path id="e119" d="M529 241h0m5 10h0m7 6h0m2 2h0m3-4h0m-4 10h0m-4-1h0m-4 0h0m-2 3h0m-6-11h0m-8 1h0m-9 7h0m-2 4h0"/>
<path id="f119" d="M515 242h0m5 0h0m4-3h0m16 7h0m-9 10h0m-5 4h0m2 2h0m-5 3h0m-6-3h0"/>
<path id="a120" d="M325 290h0m-13 14h0m-3 5h0m-4 9h0m8 4h0m17-11h0"/>
<path id="b120" d="M312 289h0m-1 7h0m6 3h0m-2 3h0m-6 4h0m-2 8h0m25-11h0m5-1h0m0 5h0m-3-10h0"/>
<path id="c120" d="M304 312h0m3-1h0m7 7h0m-7 4h0"/>
<path id="d120" d="M310 316h0m-3-23h0"/>
<path id="e120" d="M321 274h0m-6 19h0m-4 6h0m-6 3h0m-1-4h0m9 9h0m-4 12h0m15-4h0"/>
<path id="f120" d="M301 303h0m7-7h0m7 2h0m4 13h0m0 6h0"/>
<path id="a121" d="M203 482h0m5-2h0m6 6h0m-4 10h0m-11 2h0m-3-7h0m-7 8h0m35 6h0m1-6h0m4-14h0m-4-3h0m-3-4h0m-6-3h0"/>
<path id="b121" d="M208 477h0m2 1h0m-5 5h0m-1 3h0m-3 2h0m8 4h0m0 2h0m3-3h0m5-2h0m1-6h0m-1-2h0m2-3h0m7 10h0m3 8h0m6-2h0m2-6h0m-3-4h0m-17 15h0m-13 2h0"/>
<path id="c121" d="M209 474h0m1 7h0m3 1h0m3-4h0m4 9h0m3 8h0m-3 4h0m8 3h0m4-11h0m-2-9h0m-24 14h0m-9-8h0m-3 5h0"/>
<path id="d121" d="M213 477h0m2 6h0m-7 5h0m-3 2h0m-2 2h0m11 6h0m9 4h0m6-3h0m4-12h0m5-2h0"/>
<path id="e121" d="M205 478h0m2 4h0m2 2h0m-16 12h0"/>
<path id="f121" d="M200 485h0m-1 6h0m0 4h0m5 3h0m3 5h0m-11-2h0m18-7h0m-1-15h0m-3-3h0m22 18h0"/>
<path id="a122" d="M421 142h0m2-2h0m3-1h0m-4 11h0m-1 3h0m-2 2h0m-5 0h0m2-7h0m12 3h0m1 4h0m-4 3h0m-3 8h0m-4 0h0m-3 5h0m-3-5h0m4 14h0m20-20h0m4 0h0"/>
<path id="b122" d="M414 150h0m-3 4h0m10 4h0m2-2h0m7 2h0m-1 4h0m4-13h0m-7-2h0m-2-3h0m-5 2h0m-1 24h0"/>
<path id="c122" d="M408 157h0m6 5h0m3 2h0m-3 4h0m12 6h0m-2 5h0"/>
<path id="d122" d="M406 160h0m6 4h0m9 5h0m8 3h0m10-8h0m-1-10h0m-10-10h0m-2-2h0m-6 8h0m-6 3h0"/>
<path id="e122" d="M416 153h0m1 6h0m-3 0h0m-3 1h0m-1 5h0m4 0h0m6-3h0m4-1h0m3 2h0m2 5h0m3 0h0m-6 2h0m-2-2h0m8-8h0m-7-4h0m0-5h0m5-3h0"/>
<path id="f122" d="M407 163h0m2 0h0m-1 2h0m24-2h0m3 2h0m-2-7h0m1-2h0m4 1h0m-8-5h0m-3-3h0m3-5h0"/>
<path id="a123" d="M315 489h0m3 3h0m0 2h0m-1 2h0m0 4h0m4-9h0m5 3h0m4 8h0m-2 5h0m6-9h0m2-6h0m-15-7h0"/>
<path id="b123" d="M312 489h0m4-2h0m2 2h0m1-4h0m5 1h0m4 4h0m-6 6h0m-3 2h0m-5 3h0m-3-1h0m19-1h0m6 12h0m8-12h0"/>
<path id="c123" d="M308 494h0m4 4h0m9 3h0m7 0h0m-18 8h0"/>
<path id="d123" d="M312 492h0m4 6h0m7 7h0m8-10h0m-6-5h0m-3-2h0m22 8h0"/>
<path id="e123" d="M310 491h0m5 1h0m8 1h0m4 3h0m4-5h0m2 1h0m-3-4h0m6 10h0m-3 2h0m8-4h0"/>
<path id="f123" d="M315 495h0m11 4h0m8 5h0m14-4h0m-16-12h0"/>
<path id="a124" d="M503 408h0m3 5h0m8 3h0m-5 7h0m14 0h0m4 5h0m-5 4h0m1 5h0m11-8h0m9-4h0m4 4h0m-3-10h0m-3-5h0m-1-8h0m5 0h0m-5-5h0m2-4h0m3 1h0m-12-1h0m-6 10h0m0 11h0"/>
<path id="b124" d="M501 414h0m9 23h0m6 11h0m12-13h0m-3-6h0m0-3h0m-4 3h0m11-2h0m5 6h0m6-4h0m-8-14h0m1-4h0m-6-2h0"/>
<path id="c124" d="M509 401h0m17-2h0m0 11h0m9-2h0m2 11h0m3-1h0m-25 13h0m0 11h0"/>
<path id="d124" d="M514 400h0m2 8h0m-12 15h0m27 12h0m6-9h0m-3-6h0m12 1h0m2-9h0"/>
<path id="e124" d="M511 406h0m20-1h0m7-8h0m-7 21h0m2 4h0m-6 0h0m0 11h0m13-9h0"/>
<path id="f124" d="M512 412h0m6 1h0m3-8h0m11 6h0m-1 4h0m3 3h0m1 5h0m5 6h0m6 3h0m-1-16h0m-32 9h0"/>
<path id="a125" d="M379 476h0m7-3h0m1-3h0m2 5h0m3 3h0m-4 3h0m3 5h0m5 1h0m0 2h0m-5 3h0m2 6h0m7-3h0m3-6h0m-2-3h0m4-1h0m-7-4h0m-3 1h0m7-6h0m2-6h0m2-3h0m-6-2h0m-6 2h0m0 2h0m25 8h0m7-17h0"/>
<path id="b125" d="M384 465h0m3 2h0m0-5h0m8 1h0m7-1h0m5 0h0m3 10h0m-2 3h0m3 1h0m2 3h0m-2 2h0m-5-2h0m1 8h0m-8 1h0m-12-1h0m-4-14h0m1-2h0m-4 1h0m18 3h0m19 0h0m5 2h0m2-2h0m2 2h0m1-4h0m-4 7h0m1 4h0m-7-3h0m7-16h0"/>
<path id="c125" d="M392 463h0m5 3h0m1 4h0m-4 2h0m1 7h0m4-1h0m-9 6h0m-7-3h0m11 15h0m3-1h0m16-10h0m6-15h0m5 1h0m-4-8h0"/>
<path id="d125" d="M394 475h0m11 0h0m5-7h0m6-9h0m5 9h0m-2 16h0m-9 2h0"/>
<path id="e125" d="M390 467h0m2-1h0m-1 6h0m1 9h0m7 2h0m4-1h0m-1-2h0m-9 9h0m6 4h0m-14-5h0m-1-4h0m1-5h0m24-14h0m3-2h0m3 10h0m5 0h0m7-5h0"/>
<path id="f125" d="M389 465h0m1 5h0m-1 8h0m-5-2h0m-6 5h0m3 3h0m5 0h0m4 4h0m3-3h0m1 7h0m14-10h0m5-10h0m4-6h0m-16 1h0m-3-5h0"/>
<path id="a126" d="M127 350h0m5-3h0m2 8h0m0 2h0m-3 0h0m-10 2h0m2 7h0m6 3h0m9-1h0m5-1h0m4 1h0m5-5h0m1-8h0m3 0h0m-5-5h0m0-3h0m-4 0h0m2-4h0m-7-6h0m0 14h0m6 5h0m8 15h0m-5 4h0m-5 2h0"/>
<path id="b126" d="M114 359h0m5-1h0m4-3h0m5-1h0m2 6h0m-2 2h0m-3-1h0m-8 6h0m15 3h0m-1 5h0m6 1h0m1 6h0m-5 0h0m7-20h0m3-2h0m-2-2h0m-3 0h0m-2 3h0m9 3h0m3-11h0m1-4h0m-15 1h0m8-16h0"/>
<path id="c126" d="M118 350h0m1 15h0m11 15h0m10-1h0m11-9h0m6-12h0m-18-5h0m-1-2h0m-1-5h0"/>
<path id="d126" d="M135 334h0m4 1h0m-3 8h0m0 11h0m8 2h0m-2 7h0m0 9h0m4 3h0m-11-1h0m-5-2h0m-2 3h0m-1 3h0m-4-6h0m-4 0h0m36-22h0"/>
<path id="e126" d="M124 337h0m3 3h0m19 1h0m0 3h0m-10 22h0m-4-1h0m-5-1h0m-5 6h0m10 7h0m3 0h0"/>
<path id="f126" d="M122 347h0m5 0h0m3 3h0m-5 8h0m-3 5h0m4 9h0m11 0h0m3 4h0m6-4h0m3 1h0m-1-8h0m-7-10h0m-8 6h0m21-8h0"/>
<path id="a127" d="M606 105h0m2 9h0m2 1h0m-3 6h0m7 0h0m7 1h0m2 3h0m2-4h0m-4-3h0m-3-4h0m0-4h0m8-3h0m6 15h0"/>
<path id="b127" d="M612 95h0m-3 4h0m-2 11h0m6 13h0m7 1h0"/>
<path id="c127" d="M606 100h0m15 11h0m7 5h0m2-13h0m-19 18h0"/>
<path id="d127" d="M615 98h0m8 9h0m3 6h0m4 0h0m-22 4h0"/>
<path id="e127" d="M615 101h0m11 2h0m-10 15h0m1 6h0m10 3h0"/>
<path id="f127" d="M610 111h0m9 11h0m7 2h0m2-3h0m1-22h0"/>
<path id="a128" d="M172 433h0m6 4h0m2 5h0m7-3h0m2 3h0m4 1h0m-1 4h0m3 0h0m-1 3h0m-7 1h0m-2-17h0m5-2h0m1-2h0m-3-1h0m-2-3h0m-6-1h0m21-5h0m6 21h0m-3 2h0"/>
<path id="b128" d="M184 412h0m10 11h0m-3 4h0m-7 2h0m-2 2h0m-8-1h0m17 6h0m4 2h0m6 4h0m2 4h0m3 1h0m5-1h0m-21-1h0"/>
<path id="c128" d="M168 428h0m6 7h0m3-3h0m3 6h0m2 2h0m5 4h0m-4 3h0m8-7h0m-3-4h0m7-7h0m6 10h0"/>
<path id="d128" d="M179 429h0m-2 6h0m4 2h0m8-4h0m10 3h0m-1 6h0m6-2h0m-14 10h0m-4-2h0m-2 3h0m0 2h0m5-33h0"/>
<path id="e128" d="M183 433h0m4-1h0m6 1h0m9 2h0m7 9h0m-7 6h0m-17-8h0"/>
<path id="f128" d="M173 424h0m7 10h0m-3 5h0m9-2h0m14-9h0m10 1h0m3 11h0"/>
<path id="a129" d="M597 167h0m11 3h0m3 1h0m3-4h0m2 1h0m3 2h0m2 3h0m5 1h0m3-1h0m1 5h0m-5-1h0m-2 3h0m0 3h0m-4 1h0m-1 4h0m8 3h0m0 2h0m2-7h0m5 3h0m3-3h0m3 1h0m-1-15h0m2 0h0m-4-2h0m3-5h0m-12-4h0m0-2h0m-1 6h0m-2 1h0m-2 1h0m-2-2h0m-1-7h0m-8 24h0m-5-2h0m1 11h0"/>
<path id="b129" d="M598 170h0m4 7h0m6-1h0m-1-8h0m2-3h0m2-2h0m-6 1h0m13-2h0m5-3h0m3-4h0m8 10h0m-1 4h0m6 0h0m-2 6h0m-6 12h0m-1 2h0m-1 2h0m5 2h0m-17-13h0m-6 7h0m0 4h0"/>
<path id="c129" d="M604 169h0m9 1h0m3 1h0m-1 3h0m-2 0h0m-1 3h0m19 6h0m6 6h0m-5-17h0m-11-16h0"/>
<path id="d129" d="M600 166h0m13-2h0m9 1h0m4 6h0m3 10h0m4 5h0m-10 4h0m-9-7h0m29-17h0"/>
<path id="e129" d="M615 163h0m7-1h0m6 5h0m2-1h0m0 4h0m-2 5h0m6 1h0m1-2h0m-2 5h0m2 4h0m5-4h0m0-2h0m1-3h0m-11-15h0m-15 18h0m-2 2h0m-3-5h0m-2 10h0m-4 0h0m-2-3h0m12 12h0m7 0h0"/>
<path id="f129" d="M612 168h0m6-2h0m6-2h0m9-4h0m-2-3h0m-1 18h0m-3 4h0m10 0h0m0 2h0m-7 13h0m-15-8h0m1-2h0m-10-10h0"/>
<path id="a130" d="M519 47h0m9 10h0m-12 7h0m0 5h0m-4 4h0m-2-5h0m-3 0h0m0 3h0m0-9h0m4-2h0m10 23h0"/>
<path id="b130" d="M510 53h0m-2 12h0m5 3h0m-4 3h0m1 8h0m-4 0h0m11 0h0m3-4h0m8 4h0m0-14h0m-3-4h0m0-5h0m-6 9h0"/>
<path id="c130" d="M509 47h0m5 1h0m-9 10h0m1 17h0m8 7h0m3 1h0m3-3h0m6-12h0"/>
<path id="d130" d="M507 53h0m4-2h0m1 5h0m5-1h0m8 19h0m-2 4h0m1 3h0"/>
<path id="e130" d="M506 50h0m13 11h0m3 12h0m-8 4h0m-5-4h0"/>
<path id="f130" d="M511 44h0m8 9h0m-5 6h0m-9 2h0m6 14h0m0 8h0m20-7h0m0-13h0m-3-2h0"/>
<path id="a131" d="M202 170h0m-4 10h0m12 13h0m-2 4h0m6 2h0m3-2h0m2 2h0m-2 2h0m-3-11h0m3-12h0m-3-7h0m10-4h0m8 1h0m4-1h0m5 2h0"/>
<path id="b131" d="M196 184h0m4-1h0m-2 8h0m10-5h0m4-10h0m6-5h0"/>
<path id="c131" d="M209 168h0m4-2h0m4-6h0m12 8h0m5 4h0m3 0h0m-25 8h0m-5-7h0m9 21h0m4 1h0"/>
<path id="d131" d="M198 171h0m4 7h0m7-2h0m2-4h0m-5-2h0m14 0h0m-13 22h0m-3 1h0m7 6h0"/>
<path id="e131" d="M199 174h0m-1 3h0m9 11h0m4 7h0m15-23h0m-9-4h0m27 3h0"/>
<path id="f131" d="M209 163h0m14 23h0"/>
<path id="a132" d="M588 59h0m3-1h0m-1 11h0m0 6h0m-1 7h0m4 0h0m1 4h0m3 2h0m1-2h0m4-7h0m7 4h0m2-9h0m-5 18h0m-9 3h0m-8 0h0m1-4h0m-6 0h0m-8-13h0m34-28h0"/>
<path id="b132" d="M582 66h0m5 2h0m2-4h0m3-1h0m5-5h0m10 5h0m5-3h0m2-2h0m-2-4h0m-13 29h0m3 6h0m-2 2h0m-8 4h0m-6 2h0m-8-16h0m32 10h0"/>
<path id="c132" d="M596 61h0m5 0h0m2 4h0m-15 13h0m2 10h0m-3 1h0m4 9h0m6-5h0m3 3h0"/>
<path id="d132" d="M586 63h0m8-3h0m-10 13h0m-3 18h0m8 7h0m4-7h0m15-21h0"/>
<path id="e132" d="M590 61h0m24 9h0m-18 20h0m-3-1h0m-5 4h0"/>
<path id="f132" d="M612 42h0m4 8h0m-6 17h0m-10 8h0m-5 4h0m-2-3h0m0-5h0m-3 14h0m5 11h0m7-3h0"/>
<path id="a133" d="M308 612h0m4 3h0m4 2h0m0 4h0m1 3h0m0 3h0m3 2h0m2 3h0m4-1h0m-1-6h0m-12 5h0m-1-7h0m-4-4h0m-5-1h0m-5 10h0m4 2h0m3 7h0m-8 5h0m-4-1h0m1-3h0m25 0h0m14 5h0"/>
<path id="b133" d="M306 617h0m-4 4h0m5 3h0m1 6h0m-3 4h0m5 4h0m2-2h0m2-8h0m-1-9h0m8 18h0m5 2h0m8 0h0m-4-8h0m-26 12h0m-7-3h0m-3-6h0"/>
<path id="c133" d="M303 624h0m7 4h0m2 4h0m7 1h0m2 2h0m5 7h0m-18-1h0m-8 0h0m-2 4h0"/>
<path id="d133" d="M300 622h0m6 5h0m2 7h0m-5 2h0m-4 0h0m14 4h0m3-4h0m0-6h0m6 9h0m8-12h0m-18-9h0"/>
<path id="e133" d="M293 620h0m4 5h0m8-5h0m14 6h0m3-5h0m-7 18h0m-10 1h0m-4-2h0"/>
<path id="f133" d="M298 618h0m-1 3h0m-4 4h0m15 1h0m9 8h0m2 8h0m12-3h0m-30 5h0m-1 2h0m-4 3h0m-3-3h0m-2 3h0"/>
<path id="a134" d="M660 109h0m5-2h0m1 5h0m1 2h0m-4 0h0m-2 2h0m-2 5h0m-3 2h0m-2 2h0m10-3h0m2-1h0m2-1h0m4-5h0m4-1h0m3-1h0m3 2h0m-7 4h0m0 4h0m-1 6h0m-5 2h0m-3 0h0m0-2h0m2-2h0m-1 8h0m7-26h0m5-6h0m-3-2h0m-5 0h0"/>
<path id="b134" d="M669 103h0m0 3h0m-5 4h0m-4 3h0m-3 13h0m24-15h0m0-4h0"/>
<path id="c134" d="M663 101h0m9 4h0m11 7h0m3 5h0m-3 1h0m-5 4h0m2 3h0m-8 1h0m-4-3h0m3-2h0m-1-3h0m-5 0h0m-3 3h0m-1 3h0"/>
<path id="d134" d="M661 104h0m13 9h0m4-4h0m0 9h0m8 5h0m-16 2h0m-7 3h0"/>
<path id="e134" d="M669 101h0m6 5h0m2-2h0m2 2h0m3-1h0m-6 7h0m-7 1h0m0 3h0m4 5h0m-1 3h0m0 5h0m-8 2h0m18-8h0m2-3h0m3 0h0"/>
<path id="f134" d="M666 104h0m2 6h0m-6 9h0m2 6h0m-3 4h0m10 3h0m7-5h0m7-13h0m0-3h0m-2-2h0"/>
<path id="a135" d="M413 256h0m6 5h0m-7 3h0m0 7h0m0 4h0m2 5h0m-2 3h0m4 2h0m3-1h0m2 2h0m3-3h0m4-1h0m3-1h0m1-3h0m5 5h0m-1-15h0m-2-4h0m-4 5h0m-10 3h0m-12 7h0m-3-7h0m-1-4h0m16-18h0m8 4h0m0 3h0"/>
<path id="b135" d="M403 260h0m3 1h0m3 1h0m-1 3h0m-2 1h0m-4 1h0m7 2h0m1 3h0m6-4h0m14 4h0m4-2h0m4 3h0m-4 2h0m-8 5h0m1 6h0m-24-3h0m-6 1h0m11-29h0m9-5h0m8 4h0"/>
<path id="c135" d="M403 251h0m7-1h0m3 10h0m10 4h0m1 3h0m-1 9h0m-4 3h0m4 7h0m5-9h0m6 2h0m0 3h0m-20-11h0m-7 0h0m4 7h0m13-28h0"/>
<path id="d135" d="M427 249h0m-6 8h0m3 3h0m12 16h0m-8 4h0m3 4h0m3 1h0"/>
<path id="e135" d="M388 269h0m12 4h0m2-2h0m2 5h0m3-2h0m8 1h0m-1-10h0m11 7h0m7 3h0"/>
<path id="f135" d="M403 264h0m10 4h0m21 5h0"/>
<path id="a136" d="M439 437h0m8 6h0m4-3h0m11-5h0m3 2h0m-5-7h0m2 21h0m3 6h0m0 5h0m-3 0h0m-2 5h0m-6-3h0m2-7h0m-5-1h0m-3-3h0m-3 2h0m-3-4h0m-4-2h0m0 4h0m0 8h0m8 1h0m23-12h0"/>
<path id="b136" d="M444 442h0m-1 5h0m8 0h0m6 5h0m3 3h0m4-2h0m0 6h0m-6 1h0m-9 8h0m-6-8h0m-10 2h0m28-17h0"/>
<path id="c136" d="M437 441h0m2 3h0m-7 5h0m1 8h0m16 1h0m2-5h0m5 12h0m3 6h0m10-12h0m3-4h0m-5-2h0m-1-3h0m-1-9h0m-3-4h0m-3-4h0m-12 4h0"/>
<path id="d136" d="M454 437h0m4 7h0m4 5h0m4-1h0m-5 10h0"/>
<path id="e136" d="M442 438h0m12 5h0m15 2h0m-12-17h0m-3 32h0m6 5h0m-23-7h0m-4-4h0"/>
<path id="f136" d="M448 434h0m11 3h0m3 3h0m10 12h0m-4 4h0m-15 11h0m-3-2h0m-10-1h0m-2 3h0m-2-6h0m-7-2h0m7-13h0"/>
<path id="a137" d="M422 47h0m5 3h0m1 3h0m-6 3h0m4 9h0m5 1h0m1-3h0m3-6h0m-5 13h0m-7 5h0m-2-4h0m-4 5h0m-6 4h0m3 8h0m8 2h0"/>
<path id="b137" d="M431 52h0m2 8h0m2 3h0m-6 0h0m-1 5h0m-5 0h0m0-3h0m-5 2h0m-4 4h0m-4 7h0m4 5h0m4-3h0m7 9h0m0-30h0"/>
<path id="c137" d="M422 61h0m4 1h0m1 8h0m-5 8h0m-7-4h0m2-4h0m3 16h0"/>
<path id="d137" d="M426 54h0m-10 14h0m2 5h0m-5 4h0m16-2h0"/>
<path id="e137" d="M412 68h0m0 7h0m3 3h0m5-4h0m5-3h0m-5-5h0m13-1h0m-2-7h0m-19 27h0"/>
<path id="f137" d="M422 52h0m3 4h0m-3 2h0m-3 1h0m0 4h0m-3 1h0m3 13h0m1 4h0m-2 3h0m7-2h0m6 2h0m2-12h0m-27 8h0m1 4h0"/>
<path id="a138" d="M583 370h0m5-4h0m3 3h0m3 5h0m-1 5h0m-5 4h0m12 6h0m3-5h0m6-1h0m2 1h0m2 1h0m-3 7h0m6-17h0m2-2h0m-2-1h0m-1-2h0m-1-2h0m-4-1h0m-5-7h0m-5 14h0"/>
<path id="b138" d="M592 363h0m1 4h0m-6 2h0m-2 4h0m3 1h0m3 4h0m2-1h0m-5 2h0m9-6h0m6-2h0m3-5h0m6 3h0m3-4h0m7 11h0m-3 3h0"/>
<path id="c138" d="M598 360h0m5 6h0m4 5h0m4 0h0m5 7h0m-5 10h0m3 4h0m-13-6h0m1-10h0m-11-2h0"/>
<path id="d138" d="M595 370h0m2 7h0m5-4h0m3 0h0m4 4h0m-4 8h0m-8 1h0m-13-4h0m37-15h0"/>
<path id="e138" d="M599 369h0m7 7h0m4-3h0m4 0h0m-1 3h0m-1-10h0m-1-2h0m-10 17h0m3 7h0"/>
<path id="f138" d="M589 363h0m-4 4h0m14-3h0m4-7h0m4 4h0m2 8h0m3 9h0m4 4h0m-9 4h0m-2-3h0m-1-4h0m-6 1h0m-4 2h0m5 4h0"/>
<path id="a139" d="M330 559h0m-4 6h0m5 2h0m3-2h0m3-3h0m4 2h0m2-3h0m3 4h0m1 3h0m2-1h0m4 0h0m-5-5h0m-6-6h0m-3 12h0m3 3h0m9 8h0m5-2h0m-4 12h0m6 3h0m3-1h0m-28-7h0m-2-4h0m-3-8h0m-5 3h0m47-14h0"/>
<path id="b139" d="M323 577h0m6-1h0m6-4h0m4-1h0m5-3h0m1 3h0m5 0h0m-6-9h0m1-3h0m3-4h0m11 24h0m-10 9h0m-5-2h0m-7 3h0"/>
<path id="c139" d="M334 559h0m5 6h0m-12 4h0m6 10h0m3 4h0m-1 3h0m-2 2h0m8 1h0m13-8h0m5 1h0m0 3h0m3-2h0m-13-9h0"/>
<path id="d139" d="M325 561h0m6 2h0m7-5h0m6 8h0m-6 8h0m-5 1h0m-2-2h0m-5 6h0m8 3h0m14 2h0m5-6h0m2-7h0m-5-25h0m-9 49h0"/>
<path id="e139" d="M342 553h0m0 15h0m3 8h0m-10 2h0m-3-7h0m15 19h0m7 2h0m2-4h0"/>
<path id="f139" d="M331 556h0m-8 15h0m18 5h0m3 3h0m3 0h0m0-6h0m-7 11h0m-2 8h0m7 2h0m3 1h0m1-3h0"/>
<path id="a140" d="M562 403h0m5 10h0m5-1h0m0 7h0m9-3h0m1-8h0m-4 20h0m5 1h0m-16 1h0m-8-8h0"/>
<path id="b140" d="M561 418h0m-2 10h0m0 4h0m-4-3h0m21-5h0m0-3h0m7 2h0m-1 3h0m12-2h0m-18-15h0"/>
<path id="c140" d="M551 411h0m27 8h0m1 5h0m7 4h0m2-6h0m0-4h0"/>
<path id="d140" d="M558 412h0m-2 13h0m6 3h0m8-1h0m3 2h0m12-13h0m6 2h0"/>
<path id="e140" d="M554 402h0m4 1h0m8-2h0m-2 24h0m2 1h0m17-6h0m3 3h0"/>
<path id="f140" d="M562 409h0m-5 9h0m8 4h0m15-1h0m9 5h0m-40 6h0"/>
<path id="a141" d="M204 454h0m1 4h0m11 4h0m0 6h0m0 2h0m-1 3h0m9 3h0m5-2h0m3 4h0m6-5h0m-2-12h0m-2-7h0m-14-6h0m-1-6h0"/>
<path id="b141" d="M217 446h0m-3 8h0m-2 1h0m-4 4h0m2 4h0m-1 3h0m9 5h0m0 3h0m11 2h0m2-7h0m2-1h0m-1-6h0m5-4h0m2 21h0"/>
<path id="c141" d="M213 452h0m4 0h0m0-3h0m3 4h0m6 4h0m-6 6h0m-4 2h0m7 3h0m5 3h0m-2 5h0m9-1h0m0 4h0m-23-6h0m-2-15h0"/>
<path id="d141" d="M213 449h0m6-4h0m0 15h0m7 0h0m4 5h0m-1 3h0m-16 2h0"/>
<path id="e141" d="M206 453h0m3 2h0m4 6h0m4-2h0m6 4h0m2-8h0m3 0h0m-2-8h0m-12 0h0m-1 19h0m9 7h0m14-4h0m3 13h0"/>
<path id="f141" d="M208 451h0m3-3h0m10 10h0m0 7h0m4 8h0m13 4h0m1-12h0m-6-8h0m-3 0h0m-2-5h0m-3-2h0m-19 12h0"/>
<path id="a142" d="M686 171h0m4 6h0m5-3h0m-5 12h0m3 2h0m2 4h0m-6 2h0m2 3h0m-2 6h0m4 1h0m1 3h0m1 4h0m5-10h0m5-2h0m1 3h0m4 0h0m-4-7h0m1-10h0m-3-1h0m8 1h0m0-3h0m0-3h0m-2-1h0m-25 7h0m-1 20h0m-3 5h0"/>
<path id="b142" d="M679 177h0m5 3h0m-2 7h0m3 11h0m2 2h0m1-3h0m-6 3h0m0 2h0m-3-2h0m17 2h0m3 6h0m2-11h0m1-3h0m-4-7h0m-5-3h0m6-12h0m-3-6h0m-4 4h0m18 3h0m2-2h0m0 5h0"/>
<path id="c142" d="M683 176h0m14 1h0m7-5h0m0-6h0m6 17h0m3 6h0m-12 16h0m-9 1h0m-6-3h0m-7-6h0"/>
<path id="d142" d="M681 169h0m9 13h0m13-1h0m3-6h0m10 6h0m-15 10h0m3 5h0m-12 14h0m0 5h0m4-1h0m-19-6h0"/>
<path id="e142" d="M700 166h0m6 4h0m2 10h0m-8 3h0m9 6h0m6-3h0m-18 19h0m-12-4h0m-8 0h0m1-6h0m6 16h0"/>
<path id="f142" d="M688 167h0m-1 9h0m0 4h0m-7 0h0m7 10h0m-4 2h0m14-13h0m2-1h0m8 0h0m-4 12h0m6 5h0m-1 3h0"/>
<path id="a143" d="M159 225h0m9 6h0m3-1h0m0 3h0m3 0h0m-2 3h0m-7 1h0m-1 3h0m-3 2h0m-2-2h0m-1 2h0m8 3h0m2 1h0m3 1h0m2 2h0m6-4h0m-3-3h0m6-7h0m1-4h0m2-2h0m-4-3h0m2-2h0m-6 1h0m-3-1h0m3 6h0m9 7h0m-10 20h0m-9-3h0m-3 4h0m-5-3h0"/>
<path id="b143" d="M154 225h0m1 7h0m-4 3h0m-1 5h0m7 12h0m7-4h0m4 9h0m4 1h0m9-2h0m1-6h0m-1-3h0m-2 1h0m6-1h0m1 5h0m4-4h0m1-4h0m-1-7h0m-5-5h0m-2-4h0m-4 0h0m-6 0h0m-9 7h0"/>
<path id="c143" d="M152 237h0m4 3h0m7 3h0m13-7h0m11-1h0m1 5h0m-9 12h0m-20 7h0m5-32h0"/>
<path id="d143" d="M156 236h0m11-2h0m2-8h0m16 16h0m-10 6h0m1 3h0m2 3h0m-14 1h0m-3-3h0m-3-5h0"/>
<path id="e143" d="M167 224h0m13-1h0m1 11h0m-3 1h0m-2 4h0m-3 1h0m-3 1h0m2 2h0m-6 4h0m1 3h0m-6-4h0m-6 4h0m5 7h0m21-4h0m1-12h0"/>
<path id="f143" d="M151 232h0m2 10h0m0 3h0m2 3h0m2 1h0m3 0h0m7-6h0m2 1h0m-7-5h0m0-7h0m13-1h0m4 1h0m3 12h0m-10 9h0"/>
<path id="a144" d="M394 392h0m7-1h0m0 5h0m6 1h0m1 4h0m4 1h0m13-1h0m-7-11h0m10-2h0m-5-11h0m-17 10h0"/>
<path id="b144" d="M403 392h0m11-1h0m7 0h0m1-2h0m4 3h0m-7 4h0m-3 3h0m2 3h0m-11 12h0m-3 1h0m-8 2h0m0-4h0m26-30h0"/>
<path id="c144" d="M397 392h0m5 8h0m6 8h0m-5 3h0m12-9h0m-4-9h0m-1-5h0m14 6h0"/>
<path id="d144" d="M405 390h0m7-1h0m5 4h0m4 9h0m6-3h0m-22 18h0m-9-9h0m0-3h0"/>
<path id="e144" d="M393 389h0m6 1h0m4-2h0m6 2h0m3 7h0m3-1h0m5 3h0m2-2h0m5-1h0m-11 12h0m-2 1h0m-1-2h0m-8-7h0"/>
<path id="f144" d="M395 387h0m4 11h0m5 6h0m16 1h0m10-8h0m-14-10h0"/>
<path id="a145" d="M214 360h0m12-3h0m2 1h0m-3-5h0m10 10h0m-3 6h0m-3 7h0m-3 2h0m1 5h0m-3 0h0m-1 2h0m-3-7h0m1-4h0m3-6h0m21 5h0m3 0h0m-2 4h0m6-6h0m-3-6h0m5-5h0"/>
<path id="b145" d="M222 354h0m1 8h0m4 3h0m3-2h0m3-5h0m6 9h0m6-2h0m6 4h0m-1 2h0m4 0h0m-3 4h0m5 2h0m-22-1h0m0-3h0m-3 1h0m-3-1h0m-2-1h0m-4 4h0m11 3h0m2 5h0m-19-18h0"/>
<path id="c145" d="M233 353h0m2 2h0m-4 1h0m1 9h0m4 4h0m-5 8h0m-1 4h0m2 2h0m-9-2h0m1-3h0m3-3h0m-11-3h0m26-15h0m14 5h0m-2 11h0m-6 6h0"/>
<path id="d145" d="M219 361h0m5 4h0m6 2h0m11 4h0m0-8h0m11 3h0m4-1h0m-13 14h0m-4 1h0m-2-2h0m-2 3h0m-21-12h0"/>
<path id="e145" d="M219 357h0m6 3h0m7 0h0m5 1h0m1 3h0m-2 10h0m5 3h0m3-2h0m3-5h0m2-8h0m10 5h0m-3 6h0m-8 10h0m-10-1h0m-13-8h0m-5-7h0m-2-2h0"/>
<path id="f145" d="M211 366h0m6 3h0m3 2h0m-2 3h0m-4 2h0m3 4h0m9 7h0m15-4h0m1-9h0m2-6h0m4-1h0m-3-7h0m2-2h0m4 1h0m7 5h0m-1 6h0m-22-3h0m-14-4h0"/>
<path id="a146" d="M228 388h0m1-1h0m8 4h0m3-2h0m5-4h0m3 8h0m-3 3h0m4 4h0m1 6h0m4-2h0m1 6h0m8-6h0m-28-2h0m0-3h0m-1-4h0m-7 4h0m5 11h0m5 5h0"/>
<path id="b146" d="M231 388h0m-4 8h0m2 3h0m3 1h0m4 6h0m5 7h0m12-5h0m-1-9h0m2-1h0m3-1h0m-2-6h0m-4-7h0m-3 1h0m-2 8h0m-18 19h0"/>
<path id="c146" d="M231 393h0m5-4h0m7 3h0m2-2h0m2-3h0m7-5h0m-3 14h0m-5 7h0m-10 8h0m-3-3h0m0 7h0"/>
<path id="d146" d="M232 390h0m-2 6h0m2 1h0m-1 8h0m0 7h0m11-10h0m9 8h0m2-18h0m1-4h0m2 0h0m-9 3h0m-4-3h0"/>
<path id="e146" d="M237 394h0m2 2h0m4 2h0m2 3h0m-5 6h0m6 2h0m8-7h0m3 1h0m-7-16h0m-16 17h0m-7 5h0m-1 6h0"/>
<path id="f146" d="M226 390h0m2 4h0m0 8h0m3 0h0m-3 3h0m1 3h0m19-12h0m6-1h0m4-2h0m-7-3h0m8 11h0m1 6h0m-3 9h0m-19-30h0"/>
<path id="a147" d="M374 95h0m-4 4h0m1 4h0m2 3h0m-3 3h0m-3-5h0m-6 5h0m14 6h0m3 5h0m2-2h0m3-1h0m0-2h0m0-5h0m2-5h0m4 10h0m-6 6h0m1 3h0m-2 3h0m-10-5h0"/>
<path id="b147" d="M370 95h0m5 6h0m-5 5h0m-4 2h0m-2-1h0m-5-1h0m3 9h0m4 4h0m4 5h0m9 3h0m14-3h0m-1-14h0"/>
<path id="c147" d="M360 103h0m0 9h0m3 6h0m10-7h0m8 4h0m4 2h0m1-17h0m-7-2h0m-2-1h0"/>
<path id="d147" d="M366 98h0m-3 3h0m8-4h0m2 2h0m7 8h0m5 5h0m5 6h0m-1-19h0m-23 23h0m-1 4h0m-4 0h0"/>
<path id="e147" d="M373 103h0m6 1h0m4-7h0m9 16h0m-20 3h0m-2 3h0m-3-3h0m8 9h0"/>
<path id="f147" d="M361 99h0m6 2h0m-1 9h0m4 2h0m8 3h0m-4 5h0m1 1h0m4 1h0m9 1h0m-2-8h0m1-5h0m-25 11h0"/>
<path id="a148" d="M141 450h0m7-4h0m5-4h0m5-8h0m6-4h0m8 6h0m0 9h0m-4 1h0m4 14h0m-10 4h0m-1 12h0"/>
<path id="b148" d="M159 430h0m2 7h0m4-2h0m-11 1h0m-5 16h0m3 6h0m7 1h0m7 1h0m8 2h0m3-2h0"/>
<path id="c148" d="M147 441h0m17 9h0m5 4h0m10 3h0m1-3h0m-2-6h0m-2-5h0m-3 22h0m-4 1h0m-7 1h0m0 4h0m6 3h0"/>
<path id="d148" d="M153 448h0"/>
<path id="e148" d="M143 443h0m17-10h0m14 6h0m-2 10h0m-7 6h0"/>
<path id="f148" d="M160 426h0m9 14h0m-11 12h0m9 12h0m3-1h0m-1 7h0m-35 11h0"/>
<path id="a149" d="M248 449h0m-4 9h0m1 9h0m-3 4h0m1 3h0m10 3h0m5 6h0m5-8h0m6-1h0m-3-13h0m-2-2h0m-4-2h0m-2-4h0m5 0h0m17 5h0m-1 3h0m7 2h0m-2-9h0m-16 34h0"/>
<path id="b149" d="M249 460h0m1 7h0m3 1h0m-1 13h0m-11-1h0m-1-3h0m25 1h0m0 10h0m12-15h0m-1-14h0m-7 0h0m15 0h0"/>
<path id="c149" d="M255 449h0m9-4h0m10 12h0m-10 8h0m-10-4h0m-6 10h0m0 6h0m7 5h0m-14 1h0m31-4h0m5-2h0"/>
<path id="d149" d="M266 485h0m-7-23h0"/>
<path id="e149" d="M244 463h0m1 10h0m0 9h0m11-6h0m1-9h0m8 1h0m6 3h0m1 3h0m-3 10h0m-6-23h0m4-7h0m3 1h0m3 5h0m2-13h0"/>
<path id="f149" d="M244 454h0m8 5h0m12 4h0m5 4h0m2-1h0m-5 4h0m-5 1h0m-2 2h0m1 3h0m-3 2h0m-6-6h0m-3 2h0m0 8h0m-6-14h0m33-15h0"/>
<path id="a150" d="M162 358h0m13 1h0m5 2h0m6 2h0m3 0h0m-1 3h0m0-6h0m-2-2h0m4-3h0m-4-4h0m-6 1h0m-5 16h0m-4 3h0m4 3h0m-2 5h0m7 6h0m1-14h0m14 0h0m2-3h0m1-4h0m3-4h0m6 13h0m-4 3h0m-9 2h0"/>
<path id="b150" d="M165 357h0m0 5h0m-2 3h0m12-1h0m6 2h0m-3 4h0m-1 7h0m3 4h0m7 3h0m4 0h0m-5 4h0m6-14h0m-1-15h0m-7 1h0m-2-2h0m-8-3h0m15-4h0"/>
<path id="c150" d="M169 360h0m4 1h0m5-4h0m-6 11h0m-5 4h0m16 7h0m2-7h0m14 9h0m3-3h0m1-6h0"/>
<path id="d150" d="M182 355h0m-6 8h0m5 5h0m3-2h0m-9 5h0m-6 2h0m28-1h0"/>
<path id="e150" d="M171 359h0m-1 7h0m9 6h0m4 3h0m3-5h0m6 0h0m-2-5h0m4-2h0m2 0h0m3-5h0m1 17h0m-11 2h0m-1 4h0m1 8h0"/>
<path id="f150" d="M161 367h0m3 3h0m14-4h0m5-4h0m5 7h0m12 0h0m-5-10h0m-12-8h0m13 31h0m-12 4h0"/>
<path id="a151" d="M172 316h0m-2 5h0m-8 7h0m2 11h0m-2 11h0m2 1h0m14-6h0m5-2h0m-1-12h0m4 0h0m-7-17h0"/>
<path id="b151" d="M148 335h0m5-5h0m2 13h0m6 3h0m3-3h0m4-1h0m-1-4h0m5-2h0m3 5h0m8 4h0m-6 5h0m-6 1h0m-13 1h0m16-22h0m0-3h0m5 5h0m1-12h0"/>
<path id="c151" d="M155 327h0m3 13h0m-6 2h0m14 2h0m10-10h0m0-3h0m4-3h0m4 0h0m1-4h0m-3-2h0m6 0h0"/>
<path id="d151" d="M145 333h0m4-2h0m4 14h0m4 1h0m8-11h0m5-7h0m4-8h0m9 16h0m1 2h0m2-3h0m-6 3h0"/>
<path id="e151" d="M154 334h0m4 0h0m7-3h0m3 4h0m2-3h0m4-10h0m8 4h0m5 2h0m-6 16h0m-7 4h0m-11 0h0m-3 1h0m17-37h0"/>
<path id="f151" d="M167 320h0m0 3h0m3 1h0m10 0h0m2-5h0m3 3h0m-11 12h0m2 3h0m-3 2h0m7 9h0m-24-11h0m-6 2h0"/>
<path id="a152" d="M635 126h0m4 1h0m-1 5h0m0 3h0m-3 2h0m-6-1h0m-2 9h0m3 3h0m6 10h0m4 3h0m-1 2h0m5-6h0m4-8h0m-2-7h0m-6-1h0m2-6h0m10-5h0m6 3h0m-2 4h0m8 3h0m-8 13h0m-4 9h0m-2 3h0m-3 1h0"/>
<path id="b152" d="M648 124h0m0 5h0m5 4h0m7 6h0m-2 2h0m-2 3h0m-4 4h0m-6 3h0m6 4h0m-8 5h0m-3 4h0m-3-4h0m-5-9h0m-6-1h0m13-5h0"/>
<path id="c152" d="M633 143h0m6 15h0m6-3h0m6 3h0m-7 5h0m15-12h0m2-2h0m1-3h0m4-3h0m-5-7h0m-6 3h0m-4-7h0m-5-1h0m12-1h0"/>
<path id="d152" d="M630 127h0m4 3h0m10-3h0m6 8h0m2 1h0m-7 2h0m1 9h0m-4 10h0"/>
<path id="e152" d="M637 125h0m0 4h0m7 15h0m-10 11h0m32 4h0m2-7h0m-6-18h0m-7-5h0"/>
<path id="f152" d="M630 132h0m10 5h0m7-2h0m3 5h0m0 4h0m4 1h0m-11 4h0m-5 5h0m-4-6h0m14 11h0m6 5h0m7-8h0"/>
<path id="a153" d="M526 165h0m8-2h0m3 2h0m5-3h0m0 6h0m-5 13h0m2 6h0m-3 1h0m8-1h0m1 5h0m3 6h0m3-2h0m4-2h0m-4-11h0m-15 17h0m-9-5h0m0-3h0m-3-2h0m1-6h0m3-5h0m-12 8h0m6 9h0"/>
<path id="b153" d="M521 171h0m5 3h0m5 6h0m2 4h0m-8-2h0m-8-5h0m7 16h0m3 5h0m24-5h0m-1-16h0m7 1h0m-18-9h0m-5 0h0m0 4h0m3 2h0"/>
<path id="c153" d="M514 176h0m7 11h0m9-9h0m4-2h0m5 1h0m-3 7h0m12-3h0m4 7h0m0-18h0m-21-6h0"/>
<path id="d153" d="M521 167h0m-1 12h0m-7 7h0m16-2h0m7-6h0m6-2h0m1 3h0m4 5h0m7-4h0m-8-12h0m-13 30h0"/>
<path id="e153" d="M517 169h0m5 6h0m3 1h0m2 6h0m4-8h0m10-1h0m0-8h0m8 22h0m6-3h0m-9 11h0m-26-4h0m-2 4h0m-3-13h0"/>
<path id="f153" d="M510 179h0m9 5h0m9 3h0m12 2h0m0-5h0m-1 13h0m5 10h0m9-8h0m4-13h0m2-10h0m-11-3h0m-1-10h0m-17 5h0"/>
<path id="a154" d="M349 266h0m9 15h0m3 13h0m9 11h0m10-4h0m3 3h0m-2-9h0m4-2h0m0-4h0m-8 2h0m-3-5h0m-31 18h0"/>
<path id="b154" d="M339 294h0m7 1h0m10-3h0m2 13h0m15-12h0m3 3h0m14-7h0"/>
<path id="c154" d="M341 299h0m28 1h0m11-12h0"/>
<path id="d154" d="M365 305h0m21-5h0m2 3h0m3-4h0"/>
<path id="e154" d="M361 298h0m3 2h0m12 3h0"/>
<path id="f154" d="M347 302h0m18-6h0m3-6h0m18-7h0"/>
<path id="a155" d="M192 282h0m4 0h0m4 2h0m2 0h0m1 3h0m4 3h0m0 4h0m4 4h0m-3 6h0m-3-2h0m-2 8h0m-15-2h0m-4-1h0m-3-2h0m4-7h0m6-12h0m6 2h0m12-3h0m2 2h0m3 0h0m-32 26h0"/>
<path id="b155" d="M188 285h0m4 16h0m8 10h0m-3 6h0m-6 1h0m-9-9h0m-2-1h0m-2-2h0m-1-4h0m29-17h0"/>
<path id="c155" d="M181 297h0m7-4h0m7 9h0m5-1h0m3 2h0m-4 5h0m-5 7h0m3 4h0m12-5h0m3 2h0m-3-7h0m0-3h0m0-6h0m0-3h0m2-3h0m-1-2h0m2-1h0m-4-3h0m-5 3h0m14 1h0m2-6h0m-3 21h0m-29-2h0"/>
<path id="d155" d="M195 293h0m4 10h0m-3 2h0m6 0h0m-5 6h0m-6 3h0m-3-12h0m26 10h0m4-15h0"/>
<path id="e155" d="M189 290h0m3 2h0m2-7h0m6 5h0m13 3h0m2-3h0m-12 17h0m-4 7h0m-13-3h0m-1-8h0m-4-1h0"/>
<path id="f155" d="M185 291h0m-3 3h0m8 2h0m4-1h0m1-6h0m5-2h0m1 7h0m5 13h0m5 2h0m2-7h0m5-13h0m-5-4h0m-18 22h0m-7 7h0m6 5h0m10-2h0"/>
<path id="a156" d="M520 272h0m0 3h0m-2 7h0m-3 6h0m1 9h0m15 1h0m7 0h0m-6-8h0m-1-7h0m4-2h0m-1-6h0m6 2h0m2 2h0m5-1h0"/>
<path id="b156" d="M515 278h0m0 6h0m7 13h0m8 4h0m7 0h0m-3-9h0m-3-6h0m8-3h0m2-1h0m2 9h0m3-17h0m-4-2h0m-2-1h0m-3 1h0m-7 0h0"/>
<path id="c156" d="M521 280h0m4 9h0m-5 6h0m24-9h0"/>
<path id="d156" d="M516 273h0m13 2h0m14 1h0m3 6h0m-6 6h0m1 5h0m-8 8h0m-2 2h0m-10-14h0m-4 4h0"/>
<path id="e156" d="M523 272h0m3 1h0m2-2h0m6 0h0m3 7h0m8 1h0m-8 13h0m-5 3h0m-5 3h0m0-12h0m-8 0h0m2-8h0"/>
<path id="f156" d="M525 271h0m1 9h0m-2 4h0m7-3h0m1-3h0m11 6h0m2 4h0m3-4h0m-24 9h0"/>
<path id="a157" d="M475 209h0m5 5h0m5 0h0m-4 5h0m-4-1h0m-3 0h0m-4-1h0m9 6h0m6-2h0m1 3h0m4-2h0m3 6h0m-2 4h0m1 2h0m4 4h0m1 2h0m0-15h0m4-6h0m-2-2h0m-17-10h0m0 23h0m-1 11h0m-11-13h0"/>
<path id="b157" d="M471 214h0m7-3h0m6 5h0m3-5h0m1-4h0m8-3h0m0 10h0m-2 3h0m7 9h0m-3 9h0m-24 7h0"/>
<path id="c157" d="M477 205h0m-3 7h0m5 4h0m10-3h0m4 13h0m5 3h0m-9 2h0m-3-2h0m-3-2h0m-8 1h0m-2 2h0m-2-5h0m-1 14h0m24-1h0"/>
<path id="d157" d="M473 215h0m-1 6h0m4 9h0m0 3h0m-4 1h0m-1 7h0m13-1h0m2-7h0m3-6h0m-5-4h0m11-3h0m1 2h0m1-4h0m4-12h0m-2 32h0m1 2h0"/>
<path id="e157" d="M481 209h0m2 4h0m-7 2h0m-1 6h0m-1 11h0m-1 5h0m4 1h0m6-3h0m12-6h0m3 3h0m3 0h0m-5 10h0m-4-24h0m0-5h0"/>
<path id="f157" d="M484 209h0m-1 2h0m3 6h0m4-6h0m11 2h0m-6 19h0m1 3h0m-18-4h0m-8 0h0"/>
<path id="a158" d="M548 364h0m6-2h0m4 1h0m1 3h0m-1 2h0m-6 2h0m-2 2h0m5 8h0m-8 7h0m4 3h0m-5 5h0m2 4h0m15-4h0m4-6h0m-1-3h0m2-5h0m9-2h0m0 4h0m-1-9h0m-3-7h0m-2-2h0m10 2h0m-19-12h0"/>
<path id="b158" d="M547 361h0m-2 4h0m1 8h0m3 2h0m1 8h0m7-5h0m3-2h0m6 0h0m7 0h0m-2 5h0m8-13h0m1-3h0m-9-5h0m-6-1h0m-4 3h0m-2-2h0m-6 0h0m2 6h0"/>
<path id="c158" d="M547 357h0m6-2h0m-1 9h0m2 4h0m9 4h0m5 0h0m6-2h0m-10-5h0m4-5h0m-2-3h0m-6 25h0m0 6h0m15-2h0m5-4h0"/>
<path id="d158" d="M551 357h0m-4 10h0m6 8h0m3 0h0m1-2h0m2-2h0m12-8h0m2-2h0m-10-4h0m19 19h0m-12 10h0m0 5h0m-3 4h0m-13-6h0"/>
<path id="e158" d="M555 359h0m2 11h0m-5 7h0m-4 4h0m19-14h0m8-2h0"/>
<path id="f158" d="M564 352h0m-4 5h0m4 4h0m3 1h0m-5 8h0m-10 3h0m-4-4h0m3-2h0m-7 25h0m8 6h0m11-6h0"/>
<path id="a159" d="M368 608h0m4 2h0m4 7h0m4 0h0m1 4h0m3-2h0m-1 8h0m-10 5h0m-4-4h0m27-40h0m2-1h0m2-1h0m1-2h0m4 5h0m2 3h0m-1 3h0"/>
<path id="b159" d="M368 591h0m0 4h0m7 7h0m3 2h0m-13 1h0m1 10h0m33-13h0m5-9h0m-2-5h0m2-2h0"/>
<path id="c159" d="M363 613h0m3-1h0m6 2h0m3-1h0m4 0h0m6 1h0m-3 11h0m-1 4h0m5-3h0m-18-7h0m26-21h0m7-5h0"/>
<path id="d159" d="M364 586h0m-1 9h0m0 8h0m5 1h0m2 0h0m0-3h0m2-1h0m0 7h0m-2 8h0m-1 7h0m-5-12h0m15 21h0m16-37h0m4-5h0m-2-4h0"/>
<path id="e159" d="M365 589h0m-1 11h0m11 5h0m-6 6h0m-1 6h0m4 0h0m6 9h0m-13 6h0m18-21h0m6-6h0m13-9h0m-3-13h0"/>
<path id="f159" d="M366 598h0m2 2h0m2-2h0m-5 5h0m-2 4h0m0 12h0m1 2h0m6-3h0m6-9h0m9 14h0m-1 7h0m9-26h0m6-7h0"/>
<path id="a160" d="M423 563h0m4 8h0m4 2h0m0 4h0m3 0h0m2 2h0m2-7h0m2-4h0m-15 9h0m5 8h0m-1 7h0m3 1h0m3 4h0m8-8h0m-21 1h0"/>
<path id="b160" d="M423 568h0m-1 2h0m9 0h0m1-9h0m-1 20h0m7 2h0m5-4h0m-21 5h0"/>
<path id="c160" d="M434 570h0m0 11h0m0 4h0m6 2h0m4 9h0"/>
<path id="d160" d="M427 559h0m2 5h0m8-8h0m0 33h0m3 4h0m6-4h0"/>
<path id="e160" d="M425 553h0m-3 3h0m5 10h0m7 1h0m2 1h0m0-5h0m-2 12h0m7 7h0m-11 6h0m-4-4h0m-1 8h0"/>
<path id="f160" d="M429 557h0m1 3h0m4-2h0m-2-4h0m8 5h0m0 16h0m0 10h0m4 1h0m-10 5h0m-10-25h0"/>
<path id="a161" d="M313 584h0m4 4h0m2-2h0m3 1h0m1 6h0m-1 5h0m-6 7h0m-3 0h0m-2-2h0m-2-1h0m3-1h0m-10-3h0m8-8h0m14-9h0m15 17h0m1 2h0m-14 16h0m-8 0h0m-3-2h0"/>
<path id="b161" d="M299 592h0m8 2h0m3 0h0m2 5h0m-7 0h0m2 6h0m9 6h0m3-2h0m2-4h0m-2-6h0m11-1h0m5-3h0m-4-3h0m3-2h0m-6 0h0m-2-3h0m2-2h0m-8-5h0m-9 7h0m20 21h0m-1 7h0"/>
<path id="c161" d="M304 589h0m-2 6h0m4 2h0m10-6h0m0-9h0m17 20h0m4-1h0m-6 11h0"/>
<path id="d161" d="M302 591h0m12-2h0m6 6h0m5-5h0m-2-6h0m9 12h0m2 3h0m0 6h0m-5 0h0m10-2h0m-18 13h0"/>
<path id="e161" d="M311 591h0m3 3h0m0 2h0m2 6h0m-8 5h0m2 3h0m8 3h0m8-12h0m2-7h0m-22 7h0m-3 0h0"/>
<path id="f161" d="M320 591h0m1 10h0m-8 8h0m-2 4h0m19-27h0"/>
<path id="a162" d="M221 561h0m4 2h0m0 6h0m-4 0h0m10 3h0m3 2h0m4-4h0m0-3h0m3 1h0m5 4h0m-1 2h0m5-2h0m-2 7h0m-4 2h0m-4 2h0m-9-21h0m3-2h0m0-2h0m4-1h0m14 2h0"/>
<path id="b162" d="M228 561h0m3-2h0m-4 7h0m2 3h0m-1 8h0m8 0h0m4 2h0m3-1h0m-1-7h0m-2-7h0m3-2h0m-3-2h0m13 2h0m-1 5h0"/>
<path id="c162" d="M221 558h0m12 6h0m0 5h0m3 3h0m4-1h0m7-5h0m2-2h0m-4-3h0"/>
<path id="d162" d="M228 559h0m9 3h0m6 3h0m4 4h0m3-1h0m-22 3h0m-5 9h0"/>
<path id="e162" d="M229 564h0m2 1h0m1 11h0m12-8h0m4 7h0m-1 8h0m0-24h0m-2 0h0"/>
<path id="f162" d="M222 563h0m2-2h0m8-4h0m5 2h0m5-1h0m-7 7h0m-2 1h0m5 8h0m-1 8h0"/>
<path id="a163" d="M631 60h0m-2 7h0m6 6h0m2 8h0m-3 1h0m-3-1h0m-4-1h0m-5 8h0m8 9h0m5-1h0m5-4h0m3-2h0m-5-1h0m5-7h0"/>
<path id="b163" d="M615 66h0m1 7h0m6 7h0m-4 3h0m12-4h0m2-2h0m7-4h0m-3-5h0m-9-3h0m11 21h0m-8 3h0m1 3h0m9 3h0m8-7h0m-1-8h0m4-8h0"/>
<path id="c163" d="M620 70h0m6 1h0m2 5h0m7 2h0m6-4h0m5 1h0m-26 11h0m0 2h0m4 8h0"/>
<path id="d163" d="M625 55h0m3 2h0m9 4h0m-4 13h0m5 3h0m-5 7h0m-7 1h0m1 5h0m-1 3h0m-4 0h0m-4-2h0m-4 1h0m35-7h0"/>
<path id="e163" d="M624 50h0m3 11h0m-9 1h0m22 6h0m1 12h0m2 6h0m-7-2h0m-2 3h0m3 5h0m0 2h0m-4-14h0m17-5h0"/>
<path id="f163" d="M630 64h0m4 3h0m5 4h0m3 7h0m-2 6h0m-16 6h0m-5 6h0m0-21h0"/>
<path id="a164" d="M198 561h0m0 7h0m-2 2h0m5 0h0m4-5h0m6-3h0m4-2h0m2 5h0m-7-13h0m-11 30h0m5 3h0"/>
<path id="b164" d="M195 559h0m5 5h0m5-5h0m14 0h0m-4 14h0m-3 2h0m-13-1h0m-3 11h0"/>
<path id="c164" d="M186 554h0m13 0h0m4 8h0m4-3h0m3-1h0m5 7h0m-21 2h0"/>
<path id="d164" d="M189 559h0m17 3h0m3 5h0m-6 5h0m0 8h0m10-1h0m0 5h0m5-17h0m2-2h0m-5-8h0m0-5h0m-8 0h0"/>
<path id="e164" d="M210 556h0m9-1h0m-7 11h0m3 3h0m-11 6h0"/>
<path id="f164" d="M206 555h0m2 2h0m0 7h0m3 6h0m6-1h0m-19 2h0m-1-6h0"/>
<path id="a165" d="M99 392h0m10-1h0m0-4h0m-1-3h0m4 2h0m2 8h0m7-3h0m7 0h0m0 3h0m6-2h0m5-1h0m-30 9h0m-3 13h0"/>
<path id="b165" d="M104 387h0m3 0h0m8 0h0m10 2h0m6 5h0m-2 3h0m4 1h0m1 5h0m-25 0h0m-2-4h0m-8 1h0m4 16h0m18-40h0"/>
<path id="c165" d="M97 396h0m6 5h0m3 2h0m-4 2h0m6-9h0m6 2h0m4 2h0m7 3h0m-12 3h0m3-15h0m-3-1h0m20 0h0"/>
<path id="d165" d="M96 398h0m6 0h0m0-3h0m3 2h0m4-3h0m-4-5h0m13 5h0m13-9h0"/>
<path id="e165" d="M105 385h0m1 7h0m7 4h0m5 9h0m17-10h0m-4-5h0m-6-8h0m-13-4h0"/>
<path id="f165" d="M121 383h0m13 3h0m-24 12h0m-5 11h0"/>
<path id="a166" d="M356 64h0m0 9h0m-3 3h0m-9 4h0m-1 5h0m-3 2h0m17 2h0m2-2h0m4 1h0m3-3h0m2-6h0m-1-4h0m-3-2h0m0-3h0m1 25h0m-2 2h0m-3 0h0"/>
<path id="b166" d="M340 83h0m5 8h0m4 4h0m4-7h0m2-1h0m-1-9h0m7-1h0m7 14h0"/>
<path id="c166" d="M347 72h0m3 2h0m-4 3h0m5 6h0m-3 7h0m13-9h0m6 1h0m-8-7h0m8-4h0m-6-6h0"/>
<path id="d166" d="M338 77h0m9 3h0m2-3h0m2 3h0m2 5h0m-6 2h0m14 8h0m2-17h0"/>
<path id="e166" d="M342 77h0m3 5h0m4-1h0m5 2h0m-4 4h0m4 4h0m6 0h0m-13 1h0m8-22h0m7-3h0"/>
<path id="f166" d="M351 71h0m10-1h0m4-4h0m-7 15h0m-10 4h0m-5 4h0m12 6h0m9-3h0"/>
<path id="a167" d="M321 119h0m-1 5h0m12-1h0m2 4h0m4-1h0m9 7h0m5-2h0m4 0h0m-12 10h0m-3-1h0m-5-1h0m-6 3h0m2 3h0m-8-8h0m8-27h0"/>
<path id="b167" d="M325 117h0m3 1h0m3 0h0m-5 5h0m2 2h0m-6 2h0m4 6h0m-5 2h0m5 6h0m5-3h0m1-7h0m7 0h0m6 0h0m3-1h0m-12-6h0"/>
<path id="c167" d="M323 129h0m19-1h0m3 6h0m-6 10h0m-3 0h0m-1 4h0"/>
<path id="d167" d="M319 122h0m9-7h0m8 5h0m-3 5h0m2 11h0m-3 4h0m-10 1h0m1-7h0m25 5h0"/>
<path id="e167" d="M320 129h0m5-4h0m2 6h0m11 4h0m4 2h0"/>
<path id="f167" d="M323 123h0m6 12h0m3 1h0m2 6h0m9-3h0m3-13h0"/>
<path id="a168" d="M424 289h0m5 4h0m3 1h0m3-2h0m-1-4h0m2 0h0m5 9h0m6-1h0m-7 11h0m-6 3h0m-4 0h0m-5-2h0m4-4h0m-5 10h0m25 6h0"/>
<path id="b168" d="M425 294h0m-2 5h0m5 0h0m4 1h0m1-3h0m5 3h0m-1 3h0m-1 2h0m1 3h0m-3 7h0m-6-3h0m-2-7h0m0 17h0m17-5h0m8-7h0m-10-16h0"/>
<path id="c168" d="M428 289h0m2-1h0m-1 8h0m10-9h0m9 12h0m-5 10h0m-6 16h0m-3 12h0"/>
<path id="d168" d="M431 290h0m3 13h0m-4 13h0m6 14h0m15-7h0"/>
<path id="e168" d="M437 291h0m8 0h0m-4 12h0m-6-4h0m-3 7h0m-4 1h0m3 5h0m2 5h0m-2 2h0m-1 3h0m14 2h0m-6 14h0m11-30h0m0-4h0"/>
<path id="f168" d="M431 298h0m5-1h0m5-6h0m4 13h0m-9 8h0m-8 7h0m-2 6h0m5 2h0"/>
<path id="a169" d="M142 157h0m1 3h0m-3 1h0m-3 2h0m-1 6h0m-5 2h0m0 4h0m2 4h0m-4 0h0m-3 1h0m4 8h0m-1 5h0m3 2h0m2 1h0m3 0h0m2 2h0m5-2h0m3-6h0m-3-1h0m5-7h0m2-3h0m-3-7h0m-4 0h0m0-7h0m4-4h0m11 15h0m0 9h0m-8 12h0m-5 7h0m-16-7h0m5-14h0"/>
<path id="b169" d="M145 161h0m1 2h0m-6 6h0m0 7h0m-2 6h0m-6 4h0m1 5h0m3 3h0m-3 4h0m-5-8h0m-2-3h0m7-14h0m15 2h0m5-1h0m3 0h0m2-3h0m-16 20h0"/>
<path id="c169" d="M149 155h0m-9 11h0m-4 6h0m1 3h0m1 4h0m8 1h0m5 3h0m1 4h0m4-1h0m-1-8h0m0-6h0m2-5h0m-11 7h0m-9 16h0m5 8h0m4 1h0m6-5h0"/>
<path id="d169" d="M143 168h0m6 0h0m0-4h0m7-4h0m-4 17h0m2 8h0m-13-1h0m2-9h0m-16 20h0m11 6h0"/>
<path id="e169" d="M145 157h0m8-5h0m0 13h0m-2 5h0m-11 1h0m-5 9h0m-5 3h0m-5 1h0m11 14h0m4-2h0m7 0h0m0-2h0m5-4h0m3-9h0m3 0h0"/>
<path id="f169" d="M126 175h0m8 1h0m7-2h0m3 11h0m-4 4h0m2 5h0m2 7h0m-2 1h0m8-16h0m8 2h0m2-9h0m-35 17h0m-2-3h0"/>
<path id="a170" d="M252 246h0m-2 3h0m5 9h0m8-3h0m3 3h0m0 5h0m-5-14h0"/>
<path id="b170" d="M252 257h0m1 6h0m7 2h0m2 3h0m7-11h0m0-4h0m3-4h0m6 9h0m-3 5h0m7 2h0"/>
<path id="c170" d="M252 242h0m4 7h0m-3 3h0m2 2h0m6-1h0m2 10h0m6-1h0m4-7h0m-8-17h0m-9 25h0"/>
<path id="d170" d="M248 255h0m7 6h0m0 5h0m5-4h0m3 3h0m1-5h0m8-8h0"/>
<path id="e170" d="M256 238h0m11 10h0m0 4h0m3 13h0m0 3h0m3-1h0m-22-6h0m1-7h0m-3-2h0"/>
<path id="f170" d="M256 232h0m2 18h0m0 5h0m-6-5h0m20 9h0"/>
<path id="a171" d="M78 369h0m9 5h0m-2 3h0m6-1h0m3 0h0m-2-3h0m-3-4h0m9 1h0m0 5h0m3 2h0m3 0h0m4 4h0m-10 0h0m-5 3h0m-4 4h0m12-23h0m6 1h0m0-4h0m4 1h0"/>
<path id="b171" d="M80 383h0m19-5h0m1 3h0m0 5h0m-1 3h0m7-17h0m4-3h0"/>
<path id="c171" d="M82 368h0m3 3h0m3 12h0m6 6h0m2-1h0m8-19h0m3 1h0"/>
<path id="d171" d="M91 365h0m-15 14h0"/>
<path id="e171" d="M78 364h0m16-1h0m2 3h0m4 6h0m3 9h0m-9 11h0m-14-3h0"/>
<path id="f171" d="M80 366h0m-2 8h0m3 4h0m4 5h0m5-1h0m2 6h0m-2 5h0m7-8h0m-1-6h0m0-10h0m-2-2h0m-5-2h0m9-2h0m3 4h0m1 3h0"/>
<path id="a172" d="M582 287h0m2 4h0m-4 0h0m6 4h0m3 2h0m3-7h0m-5 20h0m3 4h0m2-1h0m0 3h0m-4 0h0m-6-1h0m-5 0h0m0-4h0m-7-2h0m0 10h0m7 3h0m15 0h0m2-1h0"/>
<path id="b172" d="M578 294h0m3 4h0m3 2h0m1 8h0m-6 2h0m-5-1h0m-3-5h0m-3 11h0m10 4h0m2 7h0m12-31h0m-6-5h0m30-18h0"/>
<path id="c172" d="M575 293h0m2 6h0m-3 3h0m-4-1h0m7 6h0m5 1h0m5-1h0m4 1h0m-4 4h0m-3 4h0m-2 2h0m-2-2h0m6 3h0m-3 5h0m8 1h0m3-8h0m2-5h0m-16-10h0m4-15h0m-11 33h0m-3 3h0"/>
<path id="d172" d="M582 284h0m3 9h0m-2 3h0m-7 6h0m3 3h0m-10 2h0"/>
<path id="e172" d="M578 288h0m10-1h0m0 14h0m-4 11h0m4 9h0m-8 1h0m-4 2h0m-2-13h0m1-6h0m-4-9h0"/>
<path id="f172" d="M569 305h0m5 9h0m-2 1h0m-2 1h0m9-3h0m3 0h0m1 7h0m1-16h0m7 1h0m1-6h0m-4-6h0m-9 5h0"/>
<path id="a173" d="M257 558h0m5 6h0m-1 2h0m5 0h0m2 3h0m4-3h0m-3-5h0m-2-1h0m14 3h0m5 5h0m-5 5h0m-1 5h0m-5 4h0m-4-2h0m-3-3h0m-2 2h0m3 5h0m-16-15h0"/>
<path id="b173" d="M260 560h0m-4 6h0m4 3h0m3-1h0m0 3h0m7 3h0m7-1h0m-1-15h0m-6 1h0m-4-3h0m-14 20h0m12 8h0"/>
<path id="c173" d="M257 555h0m9 8h0m4 4h0m3-6h0m6-1h0m4 1h0m-3 4h0m0 3h0m-7 7h0m1 3h0m-6 3h0m-7-4h0m5-4h0m-13-1h0"/>
<path id="d173" d="M256 569h0m5 3h0m12 11h0m4-5h0m6-7h0"/>
<path id="e173" d="M259 563h0m-1 5h0m7 1h0m6 0h0m0-6h0m6 4h0m9-3h0m-3 12h0m-3 5h0m-9-5h0m-10 6h0m-6-5h0"/>
<path id="f173" d="M263 562h0m6 10h0m-3 3h0m-6 0h0m-2 3h0m-1-5h0m-3 1h0m0 8h0m25-11h0m7 3h0m-3 7h0"/>
<path id="a174" d="M149 201h0m5-3h0m7-4h0m2 6h0m6-5h0m8-2h0m2 4h0m-4 4h0m-6 5h0m1 3h0m-2 1h0m-6 2h0m8 6h0m14-3h0m0-7h0m5-12h0"/>
<path id="b174" d="M165 186h0m-4 5h0m3 2h0m-5 8h0m-1 8h0m1 4h0m-2 8h0m11-5h0m7 5h0m-4-19h0m4-4h0m0-3h0m7 3h0"/>
<path id="c174" d="M151 200h0m14-3h0m0 7h0m2 4h0m-6 11h0m12-25h0m7-4h0m6 7h0m4 2h0"/>
<path id="d174" d="M157 196h0m10 5h0m7 4h0m2 2h0m12-3h0m-1-3h0m4-6h0m-7-4h0m-4 3h0m-2-4h0m-9-1h0m-14 24h0m9 8h0"/>
<path id="e174" d="M161 188h0m9-1h0m3 4h0m-1 7h0m2 10h0m9-7h0m9 1h0m-13 18h0m-15-5h0m-11 4h0m-2-15h0"/>
<path id="f174" d="M160 197h0m-1 8h0m5 2h0m0 3h0m8 5h0m9 1h0m0-7h0m8-2h0m-15-20h0m-21 22h0"/>
<path id="a175" d="M435 468h0m4 5h0m3-3h0m6 3h0m4 2h0m7-2h0m2 10h0m-3 5h0m3 3h0m3-1h0m0 9h0m-8 2h0m-4 2h0m3-10h0m-5-2h0m-2-1h0m-8-1h0m-3 0h0m-2 2h0m-2 1h0m-2-2h0m2-1h0m3-3h0m1-5h0m0-4h0m-6 0h0m-3 4h0m0 6h0m13 10h0"/>
<path id="b175" d="M429 484h0m2-1h0m2 3h0m-2 8h0m13 5h0m3 2h0m-6 3h0m18-4h0m9 4h0m-14-15h0m-2-7h0m7-1h0m-15 1h0m-4-5h0"/>
<path id="c175" d="M430 474h0m5 6h0m9-2h0m11 0h0m1 8h0m2 8h0m4 1h0m-7 10h0m-5-5h0m-2-7h0m-2-2h0m-3 4h0"/>
<path id="d175" d="M433 481h0m2 3h0m5 2h0m-2 7h0m-5 3h0m29-8h0m1-2h0"/>
<path id="e175" d="M433 466h0m-3 5h0m4 4h0m7 7h0m9-3h0m3-7h0m5 4h0m2 2h0m-2 7h0m3 20h0m-5 4h0m-10-3h0m-11-6h0"/>
<path id="f175" d="M437 472h0m-7 8h0m8 4h0m4 4h0m2 0h0m0-3h0m9 1h0m3 3h0m4-3h0m-9 7h0m6-19h0"/>
<path id="a176" d="M369 64h0m4-1h0m-5 5h0m10 2h0m3 0h0m3 0h0m-2-3h0m-4 9h0m-3 0h0m-5 9h0m4 7h0m19-5h0m4-8h0m-1-4h0m-3-1h0m-3 3h0m13 12h0"/>
<path id="b176" d="M369 72h0m6-3h0m1 5h0m-3 5h0m8 4h0m3-5h0m4 7h0m-2 8h0m11 0h0m-13-29h0"/>
<path id="c176" d="M367 63h0m4 6h0m10 4h0m6-3h0m-2 19h0m-2 2h0m-2-2h0m-2 2h0m-2 2h0m13 1h0m4 0h0m0-5h0"/>
<path id="d176" d="M381 58h0m7 15h0m2 6h0m1 4h0m7-1h0m-18 11h0m-8-20h0"/>
<path id="e176" d="M376 61h0m14 11h0m4 6h0m1 5h0m7 1h0m-25 3h0"/>
<path id="f176" d="M372 65h0m8-5h0m-10 17h0m6 3h0m11 0h0m5 1h0m0-2h0m9-2h0m-30 15h0"/>
<path id="a177" d="M276 274h0m8 5h0m0 4h0m4-3h0m2 1h0m2 1h0m3-4h0m-6 14h0m-10-1h0"/>
<path id="b177" d="M276 270h0m0 9h0m2 3h0m-4 1h0m7 2h0m2 1h0m6-3h0m3 2h0m4-3h0m6 3h0m-8 6h0m-7 3h0m-5-1h0m8-15h0m12-13h0"/>
<path id="c177" d="M290 269h0m-3 8h0m-2 5h0m4 3h0m-13 2h0m30-1h0"/>
<path id="d177" d="M280 272h0m10 2h0m5 12h0m4 3h0m0 6h0m-6 0h0m-7-8h0m-5 3h0m24-11h0m3 3h0"/>
<path id="e177" d="M284 275h0m7 12h0m-5 4h0m10 2h0m8-11h0m0-13h0m-9-4h0"/>
<path id="f177" d="M297 269h0m4 5h0m-1 7h0m-2 4h0m7 5h0m-3 3h0m6-16h0m-31 16h0"/>
<path id="d178" d="M263 39h0"/>
<path id="a179" d="M260 53h0m-1 3h0m-2 4h0m6 0h0m1 4h0m1 3h0m4-7h0m0-5h0m-8 20h0"/>
<path id="b179" d="M256 52h0m4-4h0m5-3h0m8 7h0m-13 6h0"/>
<path id="c179" d="M268 53h0m-2 3h0m-2 2h0m-2 4h0m0 8h0m-2 2h0"/>
<path id="d179" d="M264 70h0m0-16h0"/>
<path id="e179" d="M263 48h0m1 2h0m8 8h0m-10 9h0"/>
<path id="f179" d="M267 49h0"/>
<path id="a180" d="M151 75h0m2 2h0m-1 3h0m-3-1h0m7-1h0m1 2h0m0 6h0m4 5h0m1 3h0m-4-1h0m9 1h0m2-2h0m-5-9h0m2-6h0m5 2h0m1-6h0m-5-6h0m-3 5h0"/>
<path id="b180" d="M147 79h0m7 3h0m2-1h0m1 2h0m-2 2h0m7 4h0m5 0h0m4-8h0m2 1h0m-5-2h0m3-5h0m3-1h0m-11-3h0m-7 3h0"/>
<path id="c180" d="M152 85h0m2 4h0m9-4h0m3-4h0m5 2h0m3-4h0m2 3h0m-6-9h0m0-4h0m-11 10h0m6 12h0"/>
<path id="d180" d="M148 77h0m2 6h0m9 1h0m2-1h0m4 5h0m-8-11h0m3-3h0m6-3h0"/>
<path id="e180" d="M150 78h0m0 3h0m2 2h0m2-4h0m6 2h0m1-2h0m2-1h0m3 1h0m3 3h0m4 3h0m-3 4h0m-6-3h0m-4 0h0m-2 3h0m7 6h0m8-18h0m-5-4h0"/>
<path id="f180" d="M164 67h0m2 3h0m-3 4h0m-3 2h0m2 6h0m0 4h0m4-1h0m-2 6h0m-1 1h0m-9-6h0m17-14h0m-1-6h0"/>
<path id="a181" d="M184 62h0m2 2h0m1-2h0m4 6h0m2 0h0m1 1h0m1 3h0m5-2h0m1-3h0m1-3h0m3-1h0m2-3h0m2 0h0m0 3h0m2 2h0m0 2h0m3 0h0m0 2h0m-2 1h0m-2 1h0m1 5h0m2 0h0m1-1h0m-1 3h0m-1 5h0m-4-7h0m-3 1h0m-3-2h0m0-2h0m-7-7h0m-1-2h0m4-5h0m-1-2h0m3 0h0m1 2h0m14 4h0m0 2h0"/>
<path id="b181" d="M183 65h0m5 0h0m5-5h0m5 2h0m4 0h0m1 6h0m-1 1h0m3 1h0m2 5h0m1 5h0m7-1h0m2 1h0m-1-6h0m-3-1h0"/>
<path id="c181" d="M189 62h0m2 1h0m0-2h0m3 1h0m2-1h0m-1-2h0m1-3h0m7 2h0m1-2h0m3 0h0m0 10h0m-5 5h0m-3 2h0m1 3h0m5 2h0m4-5h0m9 5h0m-22-8h0m0-2h0"/>
<path id="d181" d="M184 60h0m6 4h0m-2 4h0m9 4h0m11-3h0m2 0h0m7 2h0m-1 4h0m-4 5h0m-2 2h0m0-4h0m-3-16h0m-2-3h0m-3-2h0m-2-1h0m-6 0h0m-2 0h0m22 5h0"/>
<path id="e181" d="M193 64h0m-3 3h0m7-1h0m2-2h0m2-1h0m-1 3h0m-1 2h0m4 3h0m4-1h0m-1-2h0m0-1h0m3 0h0m4-3h0m-7-9h0m-7 5h0m9 18h0"/>
<path id="f181" d="M186 58h0m6 8h0m11-1h0m2-1h0m2 0h0m2 1h0m-3 7h0m5 3h0m3-4h0m-4 9h0m-7-20h0m0-5h0m1-1h0"/>
<path id="a182" d="M177 69h0m1 2h0m2 1h0m1-3h0m2 1h0m5 2h0m5 2h0m2-1h0m-8 5h0m-2 1h0m3 2h0m4 1h0m3 3h0m4 2h0m3-1h0m-1-4h0m4 0h0m5 3h0m2 1h0m-3 1h0m-16 8h0m-4-3h0m2-4h0m-5-2h0m-6-8h0m-4-1h0m1 4h0"/>
<path id="b182" d="M178 77h0m2 6h0m0 3h0m1 2h0m8 6h0m7 2h0m2-1h0m-2-7h0m-3-3h0m-1-7h0m4 0h0m0-3h0m2 0h0m-6-3h0m-3 2h0m-2 2h0m16 4h0m3 4h0m-1 5h0m6-1h0"/>
<path id="c182" d="M176 75h0m3 0h0m1-1h0m3-1h0m0 3h0m8-2h0m-2-4h0m-4-3h0m10 10h0m3 1h0m4 0h0m-1 7h0m2 3h0m-1 1h0m-3 0h0m-1 1h0m3 3h0m6-2h0m-10-7h0m-1-2h0m-2 1h0m-4-1h0m0 4h0m-1 2h0m-1 5h0m3 0h0m-13-8h0"/>
<path id="d182" d="M185 72h0m4 11h0m8-4h0m3-1h0m-1 5h0m-1 10h0m-1 1h0m3 0h0"/>
<path id="e182" d="M185 70h0m1 3h0m5-3h0m-1 10h0m3 0h0m3 0h0m2 2h0m5 1h0m2 2h0m4 5h0m-8 0h0m-5 0h0m-2-3h0m-2-4h0m-6 7h0m9 4h0"/>
<path id="f182" d="M177 73h0m0 6h0m2 2h0m10 8h0m1 1h0m3-1h0m1 3h0m9-1h0m2 1h0m-1 2h0m5-10h0m-2-2h0m-2-2h0m-5 0h0m-6-2h0m-1-1h0m-10-9h0"/>
<path id="a183" d="M199 99h0m9-2h0m1-2h0m2-1h0m5 1h0m3 2h0m1-4h0m1-7h0"/>
<path id="b183" d="M202 97h0m4 0h0m1 1h0m-2 2h0m1 2h0m6 0h0m1-4h0m4-2h0m1-3h0m-2-1h0m-3 0h0m-3 0h0m-3 1h0m6-5h0m5-1h0m-20 17h0"/>
<path id="c183" d="M199 97h0m4 8h0m6-5h0m7-1h0m3-4h0m-2-5h0"/>
<path id="d183" d="M204 98h0m3-3h0m14 0h0"/>
<path id="e183" d="M203 95h0m0 6h0m-3 1h0m9 0h0m3-12h0"/>
<path id="f183" d="M214 90h0m-3 7h0m1 2h0m11-7h0"/>
<path id="a184" d="M185 50h0m2 1h0m4 3h0m-7 3h0m-3-1h0m-2 4h0m-1 1h0m-4 5h0m23-17h0m6 0h0m2 2h0m3 2h0"/>
<path id="b184" d="M180 52h0m-1 2h0m3 0h0m-4 4h0m2 5h0m-8 4h0m-1-5h0m32-10h0"/>
<path id="c184" d="M177 56h0m-1 4h0m0 2h0m2 2h0m3-3h0m7-11h0"/>
<path id="d184" d="M182 51h0m5 6h0m13-4h0m8-2h0m-32 16h0m0 3h0"/>
<path id="e184" d="M172 59h0m2 1h0m1-3h0m8 2h0m4-5h0m2 1h0m0-3h0m2-2h0m-8 2h0m-11 13h0"/>
<path id="f184" d="M170 57h0m3-1h0m1 2h0m2-3h0m4 2h0m2 0h0m3-3h0m9-1h0m1-2h0m-20 13h0"/>
<path id="a185" d="M211 53h0m4 4h0m1-1h0m1 12h0m6 0h0m0 5h0m0 2h0m2 2h0m1 1h0m2 1h0m5-6h0m-1-1h0m0-6h0m0-2h0"/>
<path id="b185" d="M212 59h0m6 3h0m1 2h0m2-5h0m5-6h0m2 2h0m3 7h0m5-3h0m5 7h0m2 4h0m1 8h0m-8-3h0m-6-4h0m-2-2h0m-3 0h0m6-1h0m-4 8h0m-3-1h0m-3 1h0m6 4h0m0 1h0m0 3h0"/>
<path id="c185" d="M219 67h0m1 3h0m4 1h0m0-6h0m11-2h0m4 5h0m0 4h0m1 2h0m-6-3h0m-4 10h0m0 2h0"/>
<path id="d185" d="M215 51h0m6 1h0m-5 8h0m6 4h0m-1 3h0m5-1h0m1 6h0m3 4h0m-1 1h0m2 1h0m-7 1h0m14-3h0"/>
<path id="e185" d="M210 56h0m2-1h0m6 3h0m6 4h0m10 5h0m2 1h0m-1 1h0m3 1h0m0 3h0m3-1h0m0 7h0m-7 0h0m-3-5h0m-6 7h0"/>
<path id="f185" d="M210 54h0m19 3h0m-1 10h0m-2 0h0m1 4h0m4-1h0m4 3h0m5 3h0m-7 6h0m0 4h0m-3 0h0m-5-1h0m-1-2h0m-2-1h0m-1-9h0m8 2h0"/>
<path id="a186" d="M178 88h0m3 2h0m-3 4h0m1 1h0m-2 2h0m2 3h0m1 0h0m-2 1h0m2 2h0m2-2h0m1 4h0m1-10h0m10 2h0m0 3h0m1 2h0m-24-4h0"/>
<path id="b186" d="M175 85h0m-1 2h0m0 3h0m-1 3h0m5-2h0m2 2h0m-5 5h0m1 7h0m11-3h0m1-2h0m-1-1h0m1-1h0m2 5h0"/>
<path id="c186" d="M176 93h0m5 2h0m1 4h0m2 2h0m0 2h0"/>
<path id="d186" d="M173 89h0m-2 2h0m5-2h0m0 6h0m-7 2h0m7 6h0m12 5h0m5-4h0m-2-3h0m1-2h0m-2-2h0"/>
<path id="e186" d="M176 91h0m1 8h0m-3 1h0m7 3h0m3-6h0m1 0h0m1-2h0m4 5h0"/>
<path id="f186" d="M171 94h0m11 2h0m2 3h0m4-3h0m4 0h0m-13 9h0"/>
<path id="a187" d="M247 86h0m2 4h0m5 5h0m4 2h0m-10 5h0m7-20h0"/>
<path id="b187" d="M252 97h0m3-6h0"/>
<path id="c187" d="M252 84h0m-1 10h0"/>
<path id="d187" d="M245 90h0m5 10h0"/>
<path id="e187" d="M249 80h0m3 0h0m7 13h0m-4 6h0m-7-1h0"/>
<path id="f187" d="M245 99h0m6 3h0"/>
<path id="c188" d="M674 156h0"/>
<path id="a189" d="M674 164h0"/>
<path id="a190" d="M502 182h0"/>
<path id="e190" d="M505 186h0"/>
<path id="a191" d="M340 188h0m-25 13h0"/>
<path id="c191" d="M329 198h0"/>
<path id="e191" d="M337 199h0m-15-1h0"/>
<path id="a192" d="M804 233h0m5-1h0m1-1h0m3-1h0m0 2h0m-2 2h0m1 7h0m-6-1h0m-3 2h0m13 4h0m3-7h0m4-1h0m4 0h0m-2-7h0m0-3h0m-1 0h0m-4 1h0m8-6h0m8 13h0m3 2h0m1-4h0m-5 12h0m-5 4h0"/>
<path id="b192" d="M823 225h0m4 3h0m1-2h0m2 4h0m-1 3h0m2 5h0m-2 3h0m4 1h0m5-1h0m3-4h0m-16 1h0m-2 2h0m-1-5h0m-3-1h0m-7 2h0m-2 6h0m-2 0h0m9 0h0m3 4h0m-4 2h0m10-1h0"/>
<path id="c192" d="M809 234h0m1 2h0m3 2h0m3 0h0m5 0h0m3-4h0m7 2h0m-1 3h0m1 2h0m2-2h0m1-5h0m-1-2h0m4 1h0m-3-6h0m-3-2h0m-5 2h0m17 13h0m-18 10h0m-12-6h0m-5-4h0"/>
<path id="d192" d="M806 229h0m7-3h0m1 9h0m-9 2h0m2 7h0m1 3h0m6 1h0m8 1h0m1-3h0m10 1h0m2-3h0m-3-7h0m-7-1h0m1-3h0m-1-8h0m16 24h0"/>
<path id="e192" d="M806 233h0m2 4h0m2 3h0m-1 6h0m1 2h0m2 0h0m7-11h0m4 4h0m4-1h0m0 5h0m3 1h0m3-2h0m3-4h0m2 4h0m-1 4h0m-10 2h0m-5-18h0m6-1h0m2-3h0m3 2h0"/>
<path id="f192" d="M806 235h0m8 5h0m2-5h0m1-4h0m-2-3h0m6 11h0m0 4h0m-3 2h0m7-3h0m5 0h0m-2-5h0m-1-3h0m4 0h0m1 1h0m3-2h0m0 5h0m0 9h0m0 2h0"/>
<path id="a193" d="M813 267h0m-2 2h0m1 4h0m2 3h0m4-1h0m2 4h0m2-1h0m-4 4h0m-6-2h0m-2-1h0m6-9h0m1-4h0m3-1h0m3 0h0m7 7h0m0 2h0m2 2h0m-2 2h0m2 2h0m3-3h0m-1-6h0m2-1h0m-3-1h0m1-3h0m11 8h0"/>
<path id="b193" d="M804 264h0m11 4h0m-1 3h0m4-2h0m4 7h0m1 4h0m5 2h0m5-5h0m1-2h0m8-1h0m1-3h0m-3-2h0m5 10h0m-2 2h0m-31 1h0m0-5h0"/>
<path id="c193" d="M808 262h0m-3 4h0m6 2h0m5 9h0m5-2h0m1-6h0m0-1h0m2-1h0m5 0h0m3 7h0m5 1h0m4 1h0m1 3h0m-4-11h0m2-2h0m-10 14h0"/>
<path id="d193" d="M815 274h0m3-1h0m12 3h0m3 5h0m5-7h0m2-2h0m4 3h0m-1 2h0m2-9h0m-8-4h0"/>
<path id="e193" d="M809 269h0m2 2h0m6 0h0m1 6h0m-1 2h0m-3 1h0m6 1h0m6-2h0m1-3h0m8-2h0m3 4h0m2-3h0m-5-12h0m-15 0h0"/>
<path id="f193" d="M813 264h0m6 7h0m1 2h0m0 4h0m4-4h0m-1-10h0m15 8h0m2 7h0m1 3h0m5 1h0m-1-5h0m-5-13h0m-31 14h0"/>
<path id="a194" d="M817 289h0m2 2h0m2-2h0m0 9h0m3 4h0m2-1h0m4 3h0m5 0h0m2 2h0m0-6h0m1-11h0m-3-2h0m2-2h0m-2-1h0m5 1h0m1-2h0"/>
<path id="b194" d="M817 284h0m3 5h0m-1 4h0m4-1h0m0 4h0m6-2h0m7 2h0m3 7h0m5-7h0m3-5h0m1-8h0m-18 0h0m-8 20h0"/>
<path id="c194" d="M809 285h0m4-2h0m6 1h0m2-1h0m13 9h0m7 0h0m1-2h0m3-1h0m-2-5h0m-4 3h0m1 14h0m-8 2h0m-5-3h0m-2 0h0m-2-1h0m4-1h0"/>
<path id="d194" d="M813 286h0m-2 4h0m10-3h0m5 6h0m4 4h0m3 2h0m6 0h0m3 4h0m-4-10h0m-10 10h0m-6-2h0m-3-1h0"/>
<path id="e194" d="M825 283h0m0 5h0m4-1h0m1 8h0m-6-1h0m-4 0h0m-1 3h0m10 4h0m4 1h0m4 1h0m-1-5h0m8 2h0m-4-10h0m-2-6h0m10 1h0m3 6h0"/>
<path id="f194" d="M816 286h0m3 1h0m-5 2h0m10 2h0m4 0h0m5-4h0m4 1h0m9-1h0m4 9h0m-9 1h0m-2 3h0m-6 5h0m-8-2h0m-1-6h0"/>
<path id="a195" d="M820 253h0m4 3h0m2 0h0m-1-2h0m7 2h0m3-1h0m-1 5h0m8-1h0m-25 2h0"/>
<path id="b195" d="M815 252h0m5 8h0m10-2h0m2-4h0m6 0h0m3 1h0m-2 6h0"/>
<path id="c195" d="M811 254h0m0 6h0m13-8h0m10 5h0m1 2h0m1 2h0m1-9h0"/>
<path id="d195" d="M808 255h0m10 2h0m10-1h0m1-3h0m13 4h0m1-5h0"/>
<path id="e195" d="M827 251h0"/>
<path id="f195" d="M840 252h0m-1 6h0m-3-1h0"/>
<path id="a196" d="M734 262h0m1 1h0m-2 4h0m-2-1h0m10-2h0m5-4h0m3 3h0m-10 22h0m-1 2h0m-7 1h0m1-6h0"/>
<path id="b196" d="M741 262h0m6-3h0m3 2h0m3-1h0m-4 5h0m-4 4h0m-2 0h0m-8 16h0m0 4h0m3 1h0m-9-5h0"/>
<path id="c196" d="M737 261h0m3-1h0m4-1h0m0 12h0m-8-2h0m-4 1h0m0 5h0"/>
<path id="d196" d="M740 261h0m3 0h0m2 2h0m2 0h0m-12 4h0"/>
<path id="e196" d="M732 263h0m2 1h0m3 1h0m0 5h0m-2 6h0m-3 10h0m15-19h0m-2-2h0m-3-6h0m10 4h0"/>
<path id="f196" d="M742 264h0m2 2h0m-2 1h0m5-2h0m2 2h0m-2 4h0m-10 1h0m-1 15h0m12-26h0"/>
<path id="a197" d="M711 257h0m2-1h0m0 3h0m-2 2h0m2 2h0m-1 3h0m4-2h0m6 3h0m4 3h0m3 2h0m-6 1h0m1 4h0m3 1h0m-1 7h0m-6-5h0m-4-4h0m-5-3h0m-4-6h0m0-5h0m15-8h0m1-4h0"/>
<path id="b197" d="M709 254h0m0 1h0m6 3h0m1-4h0m9 9h0m-5 5h0m-5 2h0m1 2h0m-2 3h0m7 3h0m-3 5h0m2 4h0m0 3h0m8-15h0m1-20h0m-23 8h0m-4-1h0"/>
<path id="c197" d="M707 254h0m4-1h0m2 8h0m-7 4h0m4 11h0m5-2h0m5-4h0m2-1h0m2-2h0m2 0h0m2 0h0m-1 2h0m0-10h0m-5 0h0m4-12h0m-2 40h0m4 3h0"/>
<path id="d197" d="M705 255h0m2 4h0m-1 2h0m3 8h0m5 0h0m4 0h0m1 2h0m-1 3h0m1 3h0m1 5h0m3 0h0m3 5h0m-1 5h0m-5-26h0m-2-1h0m-3-5h0m2-1h0m5-2h0m3 1h0m3 5h0m0-20h0"/>
<path id="e197" d="M700 259h0m3-1h0m6 2h0m5-7h0m7-1h0m6 1h0m0-8h0m-1 26h0m-1 1h0m-4 0h0m0 4h0m-5 2h0m0 3h0m7 4h0"/>
<path id="f197" d="M707 257h0m8 5h0m2 1h0m5-1h0m5-1h0m-4 7h0m-9 3h0m-1 2h0m1 4h0m5 2h0m1 6h0m4 4h0m-12-20h0m8-13h0"/>
<path id="a198" d="M737 236h0m1 2h0m-2 0h0m-3 3h0m3 5h0m-2 6h0m2 1h0m4 2h0m0 2h0m2 0h0m3-3h0m2 0h0m-9 5h0m-2 0h0m-2-1h0"/>
<path id="b198" d="M731 242h0m2 3h0m0 2h0m2 1h0m0 2h0m-3 1h0m-1 5h0m4-11h0m5 2h0m3 8h0m2 1h0"/>
<path id="c198" d="M731 240h0m10 4h0m4 3h0m1 5h0m-2 0h0m-5 4h0"/>
<path id="d198" d="M734 237h0m3 11h0m2 1h0m1 4h0m7 3h0m2-1h0m1 2h0m-18-2h0m-2 5h0m2-11h0"/>
<path id="e198" d="M733 239h0m2 4h0m1 7h0m1 3h0m0 4h0m-7-4h0m12-5h0m1-2h0m1-2h0"/>
<path id="f198" d="M733 234h0m4 9h0m1 0h0m1 2h0m2 5h0m-2 1h0m3 1h0m2-2h0m2 0h0m2 2h0m-11 3h0m-2 2h0m-6-7h0m1-3h0"/>
<path id="a199" d="M580 260h0"/>
<path id="a200" d="M651 273h0m4 2h0m3 4h0m2 0h0m-5 6h0m-6 0h0m-4-4h0m-2 2h0m0 2h0m7 8h0m4-2h0"/>
<path id="b200" d="M649 279h0m2 3h0m6 1h0m2-2h0m-7 8h0m-5 4h0"/>
<path id="c200" d="M655 272h0m-2 4h0m7 0h0m-1 10h0m-5 2h0m-3-2h0m-2-2h0m3-1h0m-3 5h0m-3 2h0"/>
<path id="d200" d="M648 273h0m5 5h0m-11 9h0m-2 2h0"/>
<path id="e200" d="M640 285h0m5-1h0m9-2h0"/>
<path id="f200" d="M650 276h0m1 3h0m-3 3h0m-1 4h0m2 5h0m2 0h0m-8 1h0m-3 0h0m16-13h0m0-3h0m1-2h0m6 6h0"/>
<path id="e201" d="M126 277h0"/>
<path id="a202" d="M87 269h0"/>
<path id="b203" d="M336 268h0"/>
<path id="b204" d="M646 300h0"/>
<path id="c204" d="M633 298h0m10 6h0m-2 3h0"/>
<path id="d204" d="M644 308h0"/>
<path id="f204" d="M634 302h0"/>
<path id="a205" d="M732 317h0m-1 3h0m4 2h0m-4 9h0m9 5h0m1 2h0m-4 4h0m7-10h0m19-7h0m2-2h0"/>
<path id="b205" d="M715 320h0m6-1h0m3-3h0m0-3h0m4 8h0m3 7h0m7 5h0m0 2h0m-2 2h0m4 5h0m2-2h0m3-3h0m7-7h0m9-3h0m-1-3h0m-23-3h0"/>
<path id="c205" d="M726 323h0m2 4h0m10 0h0m9-4h0m11 2h0m7-5h0m2 3h0m2-4h0m-31 19h0"/>
<path id="d205" d="M709 319h0m14 2h0m6-1h0m0 4h0m14 13h0m3-2h0m2-6h0"/>
<path id="e205" d="M726 319h0m11 5h0m-2 4h0m5 3h0m2 4h0m14-6h0m-2-4h0"/>
<path id="f205" d="M720 317h0m-2 2h0m10-2h0m3 4h0m-1 5h0m24-4h0m7 0h0"/>
<path id="a206" d="M653 320h0m4-1h0"/>
<path id="d206" d="M664 319h0"/>
<path id="e206" d="M666 317h0m3 1h0"/>
<path id="f206" d="M661 321h0"/>
<path id="f207" d="M216 321h0"/>
<path id="a208" d="M678 386h0m-4 6h0m-2 6h0m2 4h0m2-2h0m10-4h0m6-5h0m2-2h0m4 5h0m11-5h0m-2-5h0m9 4h0m1 2h0m4 0h0m0 7h0m-4 2h0m-5 0h0m-2-3h0"/>
<path id="b208" d="M681 389h0m3 3h0m-1 4h0m8-3h0m-1-4h0m7 7h0m7-3h0m3 3h0m0 3h0m7 2h0m3 2h0m2-5h0m3 1h0m-6-2h0m-3-9h0m-11-3h0m-31 16h0"/>
<path id="c208" d="M676 394h0m7 4h0m9-5h0m0-6h0m6 0h0m9 6h0m-12-17h0"/>
<path id="d208" d="M670 397h0m5 1h0m2-1h0m5-4h0m6-3h0m2 6h0m2 3h0m5-14h0m4 2h0m3 3h0m11 5h0"/>
<path id="e208" d="M673 400h0m14-13h0m7 9h0m6 1h0m6-6h0m0-3h0m1-2h0m4 5h0m-1 2h0m2 3h0m1 1h0m6-4h0m5 2h0m-5 8h0"/>
<path id="f208" d="M694 384h0m6-2h0m-5 10h0m9 5h0m9-3h0m2-1h0"/>
<path id="a209" d="M677 337h0m5 3h0m2 5h0m-4 2h0m-6 7h0m-1 2h0m4 0h0m-7-7h0m-2 12h0m3 5h0m-4 2h0m-3 1h0m0 3h0m-1 1h0m-3 4h0m2 2h0m6 1h0m1 4h0m-4 4h0m-6-18h0m20 5h0m9-11h0m2-4h0m4-2h0m-1 7h0m0-15h0"/>
<path id="b209" d="M674 343h0m4 17h0m-1 3h0m-2 3h0m5 0h0m2 9h0m1 5h0m-9 0h0m-6-2h0m-4 0h0m-8-4h0m2-7h0m8-1h0m1-3h0m2-3h0m1 1h0m15-3h0m6 11h0m-23 17h0m0 5h0"/>
<path id="c209" d="M671 340h0m5 8h0m6 7h0m5-7h0m6 6h0m-8-15h0m-11 21h0m-1 2h0m1 1h0m0 5h0m-4 1h0m-7-5h0m-6 6h0m12-13h0m14 13h0m-9 12h0"/>
<path id="d209" d="M672 335h0m1 17h0m-1 6h0m-3 6h0m0 3h0m-2 5h0m5 9h0m17-15h0m4-5h0m-5-11h0"/>
<path id="e209" d="M679 339h0m4 11h0m4 4h0m0 6h0m2 2h0m-9-4h0m-7 7h0m-12 1h0m5 12h0m1 4h0m-6 1h0"/>
<path id="f209" d="M665 360h0m7 4h0m5 7h0m-6 8h0m-1 2h0m2 3h0m-10-8h0m17-25h0"/>
<path id="a210" d="M696 354h0m5 2h0m-3 7h0m1 3h0m-3 1h0m8 3h0m2-4h0m6-2h0m2-4h0m5-3h0m-5-4h0m7 16h0m1 8h0m3 7h0m1 3h0m-10-2h0m-14-8h0"/>
<path id="b210" d="M697 359h0m-1 5h0m1 5h0m-2 1h0m6 1h0m3-4h0m-2-1h0m6-8h0m2-2h0m5 3h0m3 3h0m1 5h0m0 6h0m0 5h0m-4-1h0m-2-2h0m5 9h0m2 1h0m4-11h0m7 5h0m-33-3h0m5-21h0"/>
<path id="c210" d="M706 361h0m4 2h0m2-4h0m3 4h0m5 1h0m-1 11h0m3 5h0m-13 2h0m-10-13h0"/>
<path id="d210" d="M703 353h0m13 3h0m6 2h0m0 3h0m-9 1h0m2 10h0m3 4h0m3-4h0m-9 5h0m2 8h0"/>
<path id="e210" d="M707 355h0m7 2h0m4 2h0m-1 5h0m1 7h0m-2 4h0m3 6h0m-1 5h0m3 1h0m8-11h0m-23 2h0m-6-14h0m19-10h0"/>
<path id="f210" d="M698 357h0m2 4h0m8 2h0m8 3h0m-6 10h0m1 3h0m5 1h0m1-2h0m10 2h0m-8 8h0"/>
<path id="a211" d="M693 570h0m3 2h0m4 9h0m3 1h0m3 1h0m7 0h0m6 4h0m-2 4h0m12-5h0m-6-8h0m-16-18h0m-17 26h0m-7-2h0"/>
<path id="b211" d="M691 572h0m3 1h0m6 3h0m5 4h0m4 1h0m7 2h0m4 2h0m3 1h0m-1 3h0m-2 2h0m-2-13h0m-10-10h0m-3-4h0m-3 0h0m1 3h0m-19 13h0m-1 9h0m5 7h0m7-7h0"/>
<path id="c211" d="M699 565h0m-1 14h0m0 4h0m1 2h0m5 2h0m-10 6h0m-4-2h0m-3-3h0m28-8h0m10 3h0m-12-16h0"/>
<path id="d211" d="M699 559h0m-5 7h0m4 4h0m-1 5h0m-3 1h0m-5 3h0m4 5h0m10 1h0m5-1h0m-5-7h0m14 10h0m-26 12h0"/>
<path id="e211" d="M697 564h0m0 3h0m2 6h0m-9 0h0m13-13h0m10 17h0m6 5h0m-7 4h0m-1 3h0m3 0h0m-9 5h0m-3 2h0m-4 1h0m-3 2h0"/>
<path id="f211" d="M698 561h0m2 6h0m-8 8h0m-4 10h0m5 4h0m-1 5h0m-4-1h0m-3-2h0m14-4h0m3 3h0m5-4h0m3-9h0m2-6h0m10 10h0"/>
<path id="a212" d="M722 469h0m8 7h0m-1 3h0m5-5h0m1-3h0m2-2h0m1 5h0m4 2h0m5 2h0m1 3h0m5-1h0m8-1h0m-1-3h0m4 4h0m1 6h0m-2-17h0m0-2h0m-5 3h0m-9-3h0m-4 0h0m-2-2h0m-7-3h0m-1 2h0m13 8h0m-10 8h0m-1 4h0m15-29h0m9 3h0"/>
<path id="b212" d="M740 461h0m-2 17h0m6 0h0m-12 5h0m-2 3h0m26-15h0m2 2h0m7-6h0m2 12h0m-5 3h0"/>
<path id="c212" d="M725 463h0m9 4h0m5-3h0m3-2h0m-1-6h0m6 1h0m4 2h0m2-2h0m9 6h0m4-3h0m1 11h0m-1 12h0m-3 8h0m-9-1h0m-4-1h0m-6-6h0m-8-3h0m-4-1h0m-3 4h0m4 5h0m2-2h0m-4-14h0m12-3h0m9 8h0"/>
<path id="d212" d="M728 464h0m9 7h0m-1 3h0m-2 3h0m11-3h0m0 7h0m-6 7h0m17-6h0m-1-4h0m9-3h0m5 1h0m-19-19h0"/>
<path id="e212" d="M726 480h0m6 6h0m5 1h0m8-2h0m-3-5h0m1-6h0m2-3h0m9 3h0m3 3h0m-7 3h0m13 7h0m3-10h0m1-14h0m-6-9h0m-5 0h0m-3 10h0"/>
<path id="f212" d="M727 468h0m-1 9h0m5 4h0m2 0h0m8 3h0m6-1h0m2 0h0m-1 3h0m4-1h0m2-2h0m-5-8h0m-2-5h0m-7-1h0m0 3h0m0 3h0m-3-9h0m-3-5h0m12-1h0m13 6h0m2 6h0m7 1h0m-9 18h0"/>
<path id="a213" d="M651 503h0m13 6h0m-5 8h0m0 7h0m-4 0h0m9-1h0m0 6h0m-1 3h0m-2 9h0m-14-8h0m-5-1h0m-1-2h0m-9 0h0m0-3h0m7-6h0m2-1h0m6-2h0"/>
<path id="b213" d="M626 526h0m6-4h0m3-3h0m3 9h0m-3 3h0m12-2h0m2-5h0m1-2h0m-3-1h0m2-2h0m-2-5h0m9 1h0m1 4h0m0 12h0m2 2h0m-4 1h0m1 2h0m-3 1h0m-4-1h0m10-33h0"/>
<path id="c213" d="M653 500h0m-3 11h0m2 7h0m4 9h0m-7 1h0m-5 8h0m-6-5h0m-10-2h0m31-18h0m5 7h0"/>
<path id="d213" d="M645 516h0m9 1h0m8 8h0m3 1h0m-4 11h0m-23-1h0m-7-3h0"/>
<path id="e213" d="M648 506h0m-1 4h0m-4 3h0m8 1h0m3-3h0m-1-5h0m-7 17h0m-1 3h0m15 2h0m3 9h0"/>
<path id="f213" d="M634 524h0m2-2h0m1 4h0m2 0h0m4-1h0m0-3h0m-1-5h0m-7 11h0m5 5h0m11-1h0m4-11h0m9-7h0"/>
<path id="a214" d="M806 365h0m1 12h0m-16 4h0m8 12h0m3 4h0m-2 6h0m5 4h0m4-8h0m4-6h0"/>
<path id="b214" d="M786 381h0m8 2h0m1 8h0m-2 2h0m2 6h0m11-1h0m9-1h0m-5-17h0"/>
<path id="c214" d="M803 369h0m-4 7h0m4 4h0m-5 3h0m-8 4h0m9 10h0m5-5h0m-3 15h0m-2 2h0"/>
<path id="d214" d="M792 374h0m7-1h0m2 9h0m-12 2h0m15 11h0m11 4h0"/>
<path id="e214" d="M792 384h0m2 3h0m3 1h0m1-8h0m-10 9h0m19 5h0m0 15h0"/>
<path id="f214" d="M807 361h0m-6 17h0m4 4h0m6 2h0m5-1h0m-6 11h0m-7 10h0m-4 3h0m-6-17h0"/>
<path id="a215" d="M791 423h0m7 7h0m5 1h0m11-4h0m3-1h0m-1-3h0m6 4h0m-1 3h0m0 3h0m-3 0h0m-1 2h0m8-6h0m-2-10h0m-1-7h0m-5-2h0m-1-4h0m0-4h0m-5 14h0m-3 1h0m-14 22h0"/>
<path id="b215" d="M793 413h0m8 4h0m0 8h0m5 0h0m-4 8h0m-7 1h0m0 3h0m2 4h0m-4-11h0m17 8h0m0 3h0m3 5h0m10-10h0m2-2h0m1-8h0m-6 0h0m-1 2h0m-5-8h0m4-6h0m-4-6h0m-2-2h0"/>
<path id="c215" d="M804 412h0m4 8h0m6 4h0m-2 5h0m4 0h0m-2 5h0m-2 4h0m-5 0h0m-9-12h0m22-10h0m2 6h0m2 1h0m-6-17h0"/>
<path id="d215" d="M796 420h0m2 3h0m-6 2h0m10 3h0m6 4h0m1-6h0m4-5h0m3-4h0m-1-3h0m-4-4h0m9-5h0m-1 36h0m-1 3h0m1 9h0m-10-8h0m-11-10h0"/>
<path id="e215" d="M791 418h0m4-1h0m4-4h0m9 2h0m-3 6h0m-2 4h0m9 1h0m3 5h0m10 8h0m-22 4h0m-2-4h0m-9-2h0m24-24h0m3-4h0m-5-5h0"/>
<path id="f215" d="M793 422h0m2 5h0m5 4h0m5 2h0m3 2h0m2 0h0m1-3h0m-3-4h0m3-9h0m-1-6h0m2-1h0m-10 2h0m22 1h0m-3 23h0m-3 0h0m-14 1h0"/>
<path id="a216" d="M733 416h0m4 4h0m3-7h0m1 21h0m5 3h0m7 4h0m-12 5h0m-10 1h0m0-10h0m-2-5h0m-6 4h0m0 3h0m-5 10h0m3 10h0"/>
<path id="b216" d="M713 433h0m2 1h0m11 5h0m-1 8h0m7 3h0m2-4h0m4-1h0m0 4h0m-8 6h0m2-26h0m13 3h0m-4-13h0"/>
<path id="c216" d="M734 424h0m5 6h0m4-4h0m5 9h0m3 1h0m-2 4h0m4 11h0m-7 1h0m-14-8h0m6-8h0m-12-1h0"/>
<path id="d216" d="M714 438h0m6 4h0m5-11h0m19-9h0m2 7h0m5 1h0m0-4h0m-11 25h0m-5 7h0"/>
<path id="e216" d="M718 433h0m14 8h0m8 0h0m4 9h0m-1 3h0m5-5h0m4 0h0m-2-15h0m-12-15h0m-1-4h0m-20 49h0"/>
<path id="f216" d="M717 437h0m-3 5h0m4 3h0m4 4h0m-2 4h0m7-11h0m13-4h0m0-16h0m1-6h0"/>
<path id="a217" d="M749 526h0m-2 7h0m1 4h0m2 3h0m4-3h0m5 3h0m-1 6h0m2 8h0m5-22h0m-6-5h0m8-11h0m8 12h0m3 1h0"/>
<path id="b217" d="M754 520h0m5-2h0m14 1h0m4 4h0m3-2h0m-7 17h0m-8 3h0m-5 1h0m-4-2h0m2-2h0m2-2h0m5-2h0m-9-2h0m-5 12h0m12 2h0"/>
<path id="c217" d="M749 523h0m4 1h0m0 3h0m3-1h0m1-6h0m5-5h0m8 14h0m-2 2h0m8-5h0m-8 16h0m1 11h0m-10-3h0m-8-3h0m-4-7h0"/>
<path id="d217" d="M754 530h0m-5 12h0m20-21h0m12 6h0"/>
<path id="e217" d="M751 530h0m10 1h0m1 3h0m6 2h0m-3-9h0m17-3h0m-18 27h0m-9-6h0m-3-3h0"/>
<path id="f217" d="M761 523h0m4 0h0m7-8h0m3 16h0m-4 1h0m-7 4h0m-2 2h0m-10-3h0m-3 0h0m4 13h0m0 3h0"/>
<path id="a218" d="M704 551h0m24 2h0m2 1h0m6-6h0m1-3h0m5 14h0m-6 5h0m-2 3h0m-2 3h0m-2 4h0m-3-4h0m0-6h0m11 6h0m-2 6h0m-5 4h0m-5-1h0"/>
<path id="b218" d="M732 547h0m3 6h0m2-1h0m2-1h0m3 2h0m3-3h0m-1 18h0m-12 5h0m-5 1h0m-1-7h0"/>
<path id="c218" d="M708 554h0m0 4h0m6-4h0m4-7h0m5 7h0m5 2h0m1-8h0m12-1h0m4 10h0m3 6h0m-26 12h0"/>
<path id="d218" d="M709 548h0m4 10h0m5 2h0m3-2h0m-3-2h0m21 0h0m7-9h0m3 3h0"/>
<path id="e218" d="M711 551h0m0 5h0m0 5h0m7-10h0m13 11h0m-1 4h0m-10 4h0m21-7h0m7-9h0m0-8h0"/>
<path id="f218" d="M713 549h0m14 0h0m4 1h0m-1-5h0m9 4h0m3 2h0m2-6h0m2-1h0m-23 17h0m1 8h0m5 3h0m-1 5h0m4 0h0m0 5h0m-5-1h0m8-10h0"/>
<path id="a219" d="M603 544h0m5 2h0m-5 5h0m8 10h0m2 3h0m4-3h0m-1-12h0m6-3h0m-7-4h0m16-5h0"/>
<path id="b219" d="M622 538h0m4 2h0m2-5h0m-13 10h0m-5 7h0m12 7h0"/>
<path id="c219" d="M611 547h0m13 8h0"/>
<path id="d219" d="M606 549h0m14-9h0m-1 23h0"/>
<path id="e219" d="M618 542h0m0 10h0m-2 4h0"/>
<path id="f219" d="M623 540h0m-2 4h0m-7 9h0m-6 5h0"/>
<path id="a220" d="M686 425h0m4 6h0m-2 3h0m-3 2h0m-4-2h0m11 1h0m4-4h0m2 3h0m-3 13h0m3 2h0m-2 4h0m8 7h0m5-11h0m-27 11h0"/>
<path id="b220" d="M683 421h0m2 17h0m2 1h0m2 2h0m2 7h0m-5 6h0m-4-6h0m-5 9h0m-6-5h0m25 15h0m8-22h0m-5-2h0m2-7h0m7 0h0m3 6h0"/>
<path id="c220" d="M689 419h0m-3 9h0m8 13h0m-4 19h0m-14 2h0m33 3h0"/>
<path id="d220" d="M665 451h0m3 7h0m4 2h0m3-11h0m11 1h0m8 10h0m4-22h0m-4-4h0"/>
<path id="e220" d="M681 426h0m9 2h0m-5 13h0m-6 9h0m-2 3h0m6 3h0m7-3h0m13-4h0m-21 16h0"/>
<path id="f220" d="M683 432h0m12 6h0m7 1h0m-15 7h0m3 19h0m20-10h0"/>
<path id="a221" d="M668 514h0m2 1h0m-1 8h0m8 6h0m1 4h0m4-2h0m5 2h0m8 2h0m5-9h0m-2-4h0m8-3h0m-11-10h0m-10-2h0m-5 12h0m8 3h0m-6 21h0m-16-9h0"/>
<path id="b221" d="M672 509h0m1 7h0m1 4h0m1 4h0m0 5h0m4 0h0m3 4h0m4 6h0m4-1h0m-2 5h0m3-14h0m3 0h0m1-3h0m-2-7h0m-9-2h0m-1 4h0m-2 3h0m6-14h0m0-4h0m3 1h0m-8 0h0m20 31h0"/>
<path id="c221" d="M672 523h0m6-1h0m3 0h0m4 2h0m4 1h0m8 0h0m0 6h0m4 1h0m2-3h0m-11 7h0m-12 0h0m-8-2h0"/>
<path id="d221" d="M684 511h0m7-1h0m0 3h0m1 13h0m-9 0h0m-3 1h0m-2-3h0m-6 1h0m-6 5h0m0 8h0m7 4h0m5-1h0m12-6h0"/>
<path id="e221" d="M671 518h0m-2 13h0m6 5h0m3 2h0m3 3h0m2-1h0m2 2h0m-2-13h0m3-1h0m1-3h0m7-8h0m6 18h0"/>
<path id="f221" d="M677 512h0m4 3h0m1 4h0m5 1h0m2-3h0m3-1h0m6 1h0m3-1h0m-8 6h0m4 7h0m-6 3h0m-7-1h0m-13-2h0m-2-3h0m0 8h0m8-17h0m14 28h0"/>
<path id="a222" d="M590 554h0m1 3h0m-4 2h0m8 3h0m2-6h0m3 0h0m-5 20h0"/>
<path id="b222" d="M592 553h0m2 5h0m-1 2h0m-3 2h0m-7 1h0m0 4h0m0 4h0m11 3h0m4 2h0m1-6h0m8-8h0m-4-4h0m-5-4h0m-1-5h0"/>
<path id="c222" d="M580 563h0m15 3h0m1-6h0m8 2h0m-2 10h0m-10 6h0"/>
<path id="d222" d="M596 552h0m-7 14h0m0 6h0m13-3h0m2 0h0"/>
<path id="e222" d="M586 563h0m5 7h0m-2 5h0m-3-1h0m14-9h0m-5-9h0m5-6h0m4 4h0"/>
<path id="f222" d="M594 549h0m4 12h0m3-1h0m-7 4h0m-2 2h0m-7 1h0m12 5h0m-6 10h0"/>
<path id="a223" d="M643 538h0m0 5h0m-1 3h0m4 2h0m2-4h0m4 1h0m5 7h0m-2 7h0m3 1h0m-1 3h0m-8-3h0m-5 2h0m-3-1h0m1-2h0m3-6h0m-8-7h0m-7 6h0m-2 1h0m7 5h0m-1 5h0m0 7h0m10-4h0m6 6h0m-8 6h0"/>
<path id="b223" d="M639 541h0m-2 10h0m9 4h0m1-3h0m5-2h0m2-2h0m-8 11h0m3 6h0m-3 4h0m-2 1h0m1 2h0m-4 0h0m1-7h0m-4-2h0m-8 0h0"/>
<path id="c223" d="M636 541h0m-4 7h0m7 4h0m3 0h0m3-2h0m-1 7h0m3 5h0m0 9h0m11-5h0m-4-13h0m-27 12h0m8 16h0"/>
<path id="d223" d="M627 558h0m8-4h0m10-9h0m8-5h0m-5 34h0m-10 5h0m-7-1h0"/>
<path id="e223" d="M628 550h0m6-5h0m2 4h0m3 0h0m-1 6h0m2 2h0m-2 3h0m3 7h0m6-2h0m3-8h0m-1-11h0m2-2h0m4 0h0m0-2h0m4 2h0m-14-4h0m-5-2h0m1 36h0m-13-1h0m26-1h0"/>
<path id="f223" d="M632 557h0m-4 11h0m2 7h0m4 2h0m5-2h0m10-5h0m-1-2h0m3-5h0"/>
<path id="a224" d="M704 472h0m10 10h0m1 4h0m3-1h0m2-2h0m3 4h0m3 6h0m-2 3h0m-5 0h0m-2-2h0m-3 0h0m2 4h0m-2 2h0m-5-5h0m-2 0h0m-1 2h0m1 2h0m-2-7h0m4 0h0m1-3h0m-4-1h0m-8 4h0m-3 0h0m-1 10h0m6 11h0m5 4h0m10-7h0"/>
<path id="b224" d="M701 488h0m-2 7h0m-8 10h0m18 2h0m3 1h0m6 5h0m5-7h0m-6-5h0m5-3h0m-3-7h0m-2 0h0m5-1h0m4-6h0m-3-6h0m-12 5h0m1 12h0m-5 20h0"/>
<path id="c224" d="M711 479h0m-6 7h0m-5 6h0m3 3h0m-1 3h0m1 5h0m3 1h0m6-2h0m0-10h0m3-2h0m1-2h0m9 1h0m-4 7h0m1 5h0m0 9h0m-12 4h0m-14-14h0m-5 2h0m29-28h0"/>
<path id="d224" d="M711 487h0m3 0h0m5 1h0m-8 9h0m-4-6h0m5 14h0m-11 2h0m-4-2h0"/>
<path id="e224" d="M698 502h0m3 3h0m1-5h0m6 1h0m6-4h0m6-4h0m5 5h0m0 7h0m1-19h0"/>
<path id="f224" d="M698 486h0m-2 4h0m-1 7h0m3 2h0m6 2h0m3-8h0m1-6h0m11 11h0m0 4h0m-3 4h0m-2-3h0m-8 8h0m-4-1h0m-9-4h0m29-12h0m6-5h0"/>
<path id="a225" d="M661 463h0m5 0h0m1 10h0m9-6h0m4 12h0m6 2h0m-1 4h0m5 1h0m0-3h0m3-2h0m-3-3h0m4 8h0m-8 6h0m-2-1h0m-2-1h0m3 4h0m1 2h0m-4 1h0m-2 3h0m-6-2h0m-5 3h0m-2-3h0m-2 3h0m3 6h0m1-16h0m-6-3h0m-8 4h0m21-5h0"/>
<path id="b225" d="M672 464h0m7 6h0m2 3h0m-4 0h0m3 9h0m5 6h0m4 4h0m-2 7h0m2 2h0m-4 1h0m-2 3h0m-8-15h0m-12 3h0m-4-5h0m0-5h0m5-6h0m-4 22h0m-6-1h0m-2-2h0"/>
<path id="c225" d="M670 468h0m5 3h0m1 4h0m9 0h0m-1 8h0m-4 5h0m-2 2h0m4 5h0m-5 3h0m-7-4h0m1-6h0m0 16h0m19-5h0m2-9h0m4-16h0"/>
<path id="d225" d="M660 470h0m1 9h0m7 2h0m6 5h0m7-1h0m7 3h0m-1 7h0m3 2h0m-10-4h0m-5 2h0"/>
<path id="e225" d="M664 468h0m9 13h0m3-2h0m12-3h0m5-5h0m-3-2h0m-11 27h0m1 9h0m-14-17h0m-10 9h0"/>
<path id="f225" d="M658 474h0m-3 5h0m17 13h0m0 4h0m0 4h0m5 6h0m11-2h0m5-11h0m-16 0h0m2-17h0m7-8h0"/>
<path id="a226" d="M595 583h0m3 3h0m5-6h0m17 12h0"/>
<path id="b226" d="M603 574h0m3-2h0m6 2h0m3 0h0m-5 5h0m-7 6h0m3 9h0m12-6h0m6 0h0m-1-13h0m-4-9h0m9 35h0"/>
<path id="c226" d="M607 569h0m8-2h0m3 3h0m5 9h0m-14 4h0m-10 7h0"/>
<path id="d226" d="M600 578h0m-6 9h0m21 5h0m15-5h0m-12-11h0"/>
<path id="e226" d="M597 581h0m12-9h0m1-4h0m11 5h0m-5 23h0"/>
<path id="f226" d="M613 569h0m9 1h0m-17 7h0m1 3h0m-3 9h0m8 5h0"/>
<path id="a227" d="M769 458h0m8 5h0m0 5h0m5-14h0m6 1h0m5-5h0m2-2h0m0 4h0m5 14h0m-2 2h0m-3-1h0m-3 4h0m-1 7h0m-2 1h0m-3 1h0m14-4h0m3-2h0m4 1h0m2-1h0m-2 6h0m-5 3h0m4-17h0m1-3h0m6-1h0"/>
<path id="b227" d="M776 458h0m6 2h0m1 8h0m-2 2h0m2 3h0m3-1h0m6-11h0m10-1h0m-3-7h0m7-2h0m4 6h0m-7 12h0m4 3h0m-2 7h0m-3 1h0m-2 1h0m10-2h0m-22-30h0m-14 16h0m0 2h0m-3-1h0m-2 3h0"/>
<path id="c227" d="M773 456h0m-3 5h0m4 15h0m6-1h0m1 3h0m8-5h0m12 0h0m4-2h0m4-4h0m2 9h0m-3 6h0m-15-24h0m3-2h0m-7 2h0m11-11h0"/>
<path id="d227" d="M769 464h0m3-1h0m5 3h0m2 2h0m-8 3h0m14 5h0m7-1h0m3 2h0m2 0h0m-6-13h0m-5-4h0"/>
<path id="e227" d="M779 450h0m6 7h0m2 6h0m8 0h0m8 4h0m-1 10h0m-8 5h0m-4-1h0m-11-9h0m-2-12h0m25-9h0m3 2h0m11 2h0"/>
<path id="f227" d="M774 461h0m8 4h0m5 3h0m2 8h0m8-3h0m3-4h0m7 0h0m-3-6h0m-6-1h0m8 15h0m-2 8h0m-7-6h0m-21-1h0m-4-5h0m44-14h0"/>
<path id="a228" d="M781 481h0m7 5h0m2 4h0m-6 1h0m1 6h0m-4 2h0m-2-1h0m4 7h0m2 0h0m-8 1h0m-6-5h0m3-10h0m19 7h0m9 2h0m3-8h0m-1-5h0m-9-2h0m17 10h0m-28 26h0"/>
<path id="b228" d="M774 496h0m8 7h0m4 4h0m-1 9h0m13-17h0m-2-2h0m0-3h0m-3 1h0m5-6h0m8 1h0m2 2h0m-3 3h0m1-9h0m-18-3h0"/>
<path id="c228" d="M785 484h0m-7 7h0m-2 3h0m-1 7h0m-2 3h0m7-1h0m9 4h0m0 6h0m4-12h0m-2-2h0m-2-1h0m11-4h0m2 0h0"/>
<path id="d228" d="M767 490h0m14-5h0m18 0h0m4 5h0m-22 21h0m2 8h0"/>
<path id="e228" d="M770 480h0m-2 4h0m1 9h0m0 5h0m-2 9h0m10 2h0m5 7h0m4-5h0m2-11h0m-4 0h0m-6-6h0m-1-11h0m17 4h0m8 10h0"/>
<path id="f228" d="M770 489h0m2 4h0m3-5h0m6 8h0m-4 4h0m15-15h0m9 1h0"/>
<path id="a229" d="M660 550h0m0 3h0m4 4h0m3 2h0m-2 2h0m-2 2h0m5 4h0m2-4h0m2-2h0m6 5h0m2 3h0m2 4h0m2-9h0m-3-4h0m5-1h0m4 0h0m6-7h0m-11-4h0m-10 4h0m-4 1h0m-3-5h0m-1-3h0m6 25h0m-1 8h0m-7-6h0"/>
<path id="b229" d="M666 553h0m2-1h0m6-3h0m5 2h0m-5 5h0m1 5h0m1 5h0m1 5h0m-5 1h0m-1-5h0m-8 3h0m-1-3h0m17 9h0m3-9h0m7 2h0m3-3h0m2-3h0m0-7h0m-4-4h0m-3-2h0m4-2h0m-8 11h0"/>
<path id="c229" d="M676 544h0m9 2h0m-4 10h0m14 4h0m-14 19h0m-5-3h0m-9-5h0m-2-5h0"/>
<path id="d229" d="M673 545h0m9 4h0m2 5h0m-7 6h0m-10 1h0m-7 1h0m28 1h0m6-13h0m1-4h0"/>
<path id="e229" d="M662 548h0m5 16h0m-1 5h0m3 5h0m3 2h0m5 3h0m7-3h0m-7-8h0m2-6h0m7-6h0m7-2h0m0 7h0m-5 5h0m12-11h0"/>
<path id="f229" d="M665 543h0m14 3h0m-9 13h0m-10-2h0m10 13h0m4 9h0m5 2h0m8-10h0"/>
<path id="a230" d="M770 396h0m6 4h0m0 3h0m-8 5h0m19-2h0m3 3h0m-1-8h0m5 1h0m-10-10h0m-1-6h0"/>
<path id="b230" d="M781 382h0m3 8h0m2 7h0m-6 1h0m3 9h0m2 1h0m-11 2h0"/>
<path id="c230" d="M774 394h0m2 2h0m-3 2h0m-5 2h0m-2 5h0m-1 2h0m5-1h0m-1 6h0m15-8h0m3 7h0m8-6h0"/>
<path id="d230" d="M778 382h0m2 9h0m-19 16h0"/>
<path id="e230" d="M776 389h0m11 3h0m-16 10h0m25 7h0"/>
<path id="f230" d="M780 387h0m-6 18h0m-3 5h0m2 3h0m7 0h0m10-1h0"/>
<path id="a231" d="M699 420h0m5-3h0m2-2h0m7 2h0m1 3h0m3 1h0m4 0h0m3-3h0m2-5h0m-13-2h0m-2 17h0m9 0h0m10-2h0m-31 4h0"/>
<path id="b231" d="M692 421h0m1 3h0m2-5h0m3 7h0m9 4h0m7-4h0m3-2h0m-2 7h0m7-1h0m4-6h0m1-7h0m-10-1h0m-8 2h0m-1 3h0m-6-5h0"/>
<path id="c231" d="M697 424h0m3 0h0m4 3h0m5-1h0m4-4h0m5-4h0m-1-5h0m12 2h0m2 3h0"/>
<path id="d231" d="M715 418h0m6 7h0m-10 6h0m-3-3h0"/>
<path id="e231" d="M700 417h0m6 2h0m5 0h0m-1 4h0m4-10h0m6 3h0m5 0h0m3 4h0m-32 2h0"/>
<path id="f231" d="M703 413h0m6 1h0m6 2h0m1 7h0m-9 1h0m-3-2h0m-1 2h0m-2-3h0m1 10h0m28-9h0"/>
<path id="a232" d="M635 590h0m5 6h0m-4 3h0m13 2h0m6-4h0m1-2h0m3-2h0m0-5h0m-2 0h0m1-2h0m-2-4h0m1-4h0m3 2h0m2 3h0m0-9h0m-2-4h0m-8 5h0m-1 3h0m1 2h0m1 7h0m11 7h0m2 2h0m4 3h0m1-9h0m1-5h0m8 6h0"/>
<path id="b232" d="M632 598h0m12-4h0m7 0h0m4 6h0m12-2h0m10-5h0m3 4h0m0-11h0m-15-1h0m-7-5h0m-2 5h0m-7-2h0m16-7h0"/>
<path id="c232" d="M633 588h0m10 10h0m6-11h0m1-7h0m13-3h0m14 6h0m1 6h0m-4 5h0m-3 1h0m-2 2h0m6 0h0"/>
<path id="d232" d="M656 574h0m-5 12h0m12 5h0m4-1h0m-1-3h0m9 0h0m3 8h0m-16 1h0"/>
<path id="e232" d="M658 573h0m6 7h0m2 2h0m2 0h0m4-1h0m-3 7h0m-6 0h0m0-3h0m-4-1h0m-3 7h0m-3 1h0m1 4h0m6 2h0m-12-6h0m-3-4h0"/>
<path id="f232" d="M648 578h0m6 5h0m6-7h0m-3-5h0m10 8h0m2 6h0m4 5h0m-28 6h0m-5-9h0"/>
<path id="a233" d="M756 412h0m-3 6h0m10 4h0m8 2h0m0 3h0m10-6h0m1-2h0m2 2h0m2 1h0m-4-6h0m-3 0h0m-12-3h0m17 17h0m3 0h0m3 8h0m-8 8h0m-9-3h0m-3 2h0m1 5h0m0-11h0m-15-2h0m0 9h0m2 2h0"/>
<path id="b233" d="M752 415h0m11-4h0m-1 14h0m3 3h0m4 1h0m2 7h0m-5 0h0m-1 3h0m2 2h0m2 2h0m3 4h0m4-3h0m-9 4h0m0 3h0m-5-5h0m-5-15h0m19-5h0m1-5h0m6 2h0m1-8h0m-4 18h0"/>
<path id="c233" d="M766 416h0m-2 15h0m-3 3h0m-2 2h0m2 6h0m3 2h0m23-8h0m-1-8h0m-3-2h0m5-2h0m1-3h0m-1-4h0m-4 1h0"/>
<path id="d233" d="M759 423h0m9 1h0m6 2h0m2-12h0m13 13h0m-4 12h0m1 3h0m3 2h0m-18-2h0m-13-1h0"/>
<path id="e233" d="M757 418h0m-2 4h0m6 8h0m3 5h0m-10-2h0m16-17h0m3 1h0m18 24h0"/>
<path id="f233" d="M755 408h0m-2 2h0m2 15h0m7 14h0m-3 5h0m2 7h0m8-14h0m5 0h0m0 3h0m5-12h0m11 2h0"/>
<path id="a234" d="M717 520h0m3 0h0m3 4h0m7 5h0m3-2h0m2 3h0m2 0h0m-1 4h0m3 3h0m4-4h0m1-3h0m-1 12h0m-9-1h0m-4-2h0m-1-3h0m-4-2h0m-10 3h0m-2-3h0m-3 7h0m24-19h0m-3-6h0m-3 0h0"/>
<path id="b234" d="M708 524h0m7-1h0m1 4h0m10-4h0m4-4h0m13 3h0m-5 11h0m-6 1h0m-5 5h0m-4 1h0m-2-3h0m5 6h0m5-1h0m4 2h0m5-3h0m4-3h0"/>
<path id="c234" d="M716 515h0m11 3h0m7 6h0m-5 7h0m5 5h0m-9 1h0m-17-1h0"/>
<path id="d234" d="M712 522h0m8-5h0m3-2h0m16 7h0m1 9h0m5 11h0m-18-9h0m-7 8h0"/>
<path id="e234" d="M711 519h0m-3 12h0m6 9h0m-3 5h0m8-11h0m3 0h0m-1-7h0m3-2h0m2-9h0m11 8h0m-1 3h0m-1 5h0m7-2h0m1 6h0"/>
<path id="f234" d="M721 513h0m3 5h0m3-5h0m0 13h0m4 5h0m-2 3h0m8 5h0m5 0h0m-2-11h0m3-2h0m-28 17h0m-8 2h0"/>
<path id="a235" d="M733 491h0m3 7h0m2 4h0m0 6h0m-6-1h0m-4 4h0m19 2h0m2-1h0m2-2h0m8-1h0m-10-9h0m2-2h0m-5 2h0m8-7h0m8 2h0m-20-5h0m5 30h0"/>
<path id="b235" d="M730 494h0m1 6h0m7-6h0m11-1h0m7 6h0m4 2h0m-4 5h0m1 6h0m-2 4h0m-7 1h0m-2 6h0m-6-8h0m4-3h0m2-2h0m2-1h0m-1-3h0m3-2h0"/>
<path id="c235" d="M727 509h0m10 5h0m2-3h0m3 6h0m3 3h0m5-13h0m-3-5h0m5-2h0m-12-1h0"/>
<path id="d235" d="M735 505h0m0 2h0m4-3h0m2 3h0m1 2h0m10 4h0m4-10h0"/>
<path id="e235" d="M729 497h0m-2 4h0m1 5h0m-4 5h0m8 0h0m5 6h0m13 2h0m3-11h0m-11-5h0m1-3h0m-7 1h0m1-5h0m-2-1h0m0-3h0m3-2h0m7 1h0"/>
<path id="f235" d="M740 494h0m0 3h0m4 1h0m2-3h0m-2-2h0m0 13h0m9-1h0m-10 10h0m-8-5h0m-1-7h0"/>
<path id="f236" d="M275 430h0"/>
<path id="a237" d="M562 514h0m4 7h0m2 3h0m-2 2h0m-3 1h0m7 1h0m2-1h0m2-3h0m0-5h0m2-1h0m2-2h0m3 4h0m0 4h0m5 3h0m1 4h0m0-10h0m-17-3h0"/>
<path id="b237" d="M574 506h0m3 3h0m3 1h0m-6 2h0m0 4h0m-4 0h0m-2 0h0m1 4h0m-4-1h0m-4 6h0m8 8h0m-5 4h0m11-10h0m1-6h0m3-2h0m4 10h0m10-2h0m0 5h0"/>
<path id="c237" d="M566 512h0m5 1h0m6 1h0m2 7h0m6-4h0m7 0h0m4 9h0m6-2h0m-22 7h0m-6 1h0m-3-1h0m-1-6h0m-11 7h0m24-25h0"/>
<path id="d237" d="M570 500h0m5 3h0m4 4h0m2 10h0m8 3h0m-6 7h0m7 5h0m-18-11h0m-7 3h0m0 5h0m-4 5h0m0-15h0m7-9h0"/>
<path id="e237" d="M570 505h0m8 19h0m2 3h0m-6 2h0m-5 1h0m-2-2h0m-1 3h0m-1 3h0"/>
<path id="f237" d="M563 522h0m13 7h0m7-10h0m1-5h0m-5-1h0m9 12h0m8-5h0"/>
<path id="a238" d="M560 456h0m2 3h0m3 4h0m-4 6h0m5 3h0m4 2h0m0-4h0m5 3h0m1-5h0m2-3h0m4 0h0m2 2h0m-3 3h0m-1-11h0m0-4h0m-6 4h0m2 22h0"/>
<path id="b238" d="M564 455h0m5 4h0m2 2h0m2 4h0m2-1h0m-6 1h0m1 3h0m3 3h0m10 4h0m3-2h0m-10-17h0m-14 7h0m0 4h0m-6-2h0"/>
<path id="c238" d="M557 458h0m1 3h0m16-7h0m6 8h0m-1 10h0m-4 5h0m14-9h0"/>
<path id="d238" d="M557 468h0m8-1h0m3 2h0m5-1h0m0-5h0m3-1h0m-8 1h0m15 7h0m-4 10h0m6-22h0"/>
<path id="e238" d="M558 464h0m9-7h0m7 4h0m4 8h0m5-8h0m4 4h0m-16 17h0"/>
<path id="f238" d="M554 461h0m11-2h0m6-1h0m5 1h0m2 15h0"/>
<path id="a239" d="M537 495h0m-2 7h0m3 5h0m4 2h0m4 3h0m7 3h0m4 2h0m1-6h0m-3 13h0m3 4h0m-18-10h0m-4-1h0m-2 1h0m0-3h0m-1-2h0m-2-6h0m-3 11h0m-3 2h0m9 2h0"/>
<path id="b239" d="M537 500h0m4 4h0m0 2h0m-4 4h0m-3-4h0m8 6h0m-3 3h0m-3 5h0m-7 3h0m-1-2h0m20-5h0m4 8h0m2 4h0m-2-20h0m3-1h0m-7-2h0"/>
<path id="c239" d="M534 509h0m2-1h0m-6 7h0m-2 0h0m3 2h0m10 3h0m3-1h0m5-11h0m1-2h0"/>
<path id="d239" d="M539 496h0m-2 2h0m3 1h0m0 2h0m-5 3h0m1 9h0m3 8h0m6-4h0m6-13h0m11 4h0"/>
<path id="e239" d="M527 513h0m4 6h0m6 4h0m5-9h0m3-7h0m2-3h0m2 17h0m7 5h0m0 3h0"/>
<path id="f239" d="M531 510h0m3 1h0m4-8h0m6 1h0m6 10h0m3-2h0m-6 7h0m9 3h0m-2 13h0"/>
<path id="a240" d="M591 478h0m3 7h0m-2 2h0m5 0h0m-1 5h0m3 4h0m7 8h0m2 5h0m-6 8h0m-12-14h0m-7 1h0m3-7h0m-2-2h0m-3 0h0m-2-1h0m-5 3h0m-1 2h0m14-5h0"/>
<path id="b240" d="M574 485h0m-2 4h0m0 6h0m7-5h0m4 3h0m2 5h0m-3 1h0m-2 1h0m6 3h0m6-4h0m8-1h0m-1 12h0m2 3h0m-3 3h0m8-2h0m4-8h0m-2-22h0m-9 0h0m-1-4h0m-1-2h0m3-1h0m-4-2h0m-1 6h0m-5 4h0m-4-2h0m-2 2h0m5-10h0"/>
<path id="c240" d="M581 482h0m-3 5h0m4 4h0m-3 6h0m-5-5h0m22 3h0m-1 6h0m1 2h0m8-5h0m0-2h0m3-2h0m0-2h0m-3-7h0m0-4h0m-5-2h0m4 31h0"/>
<path id="d240" d="M571 492h0m22 0h0m1 6h0m-2 5h0m10-15h0"/>
<path id="e240" d="M585 479h0m-1 3h0m5 6h0m-4 2h0m-9 0h0m0 4h0m6 8h0m5-2h0m2 0h0m8 0h0m3 0h0m-3-3h0m5-6h0m2-2h0m3-1h0m3 0h0m-2 12h0m-7 6h0m-7 5h0m-9-4h0m19-31h0"/>
<path id="f240" d="M582 479h0m7 2h0m-8 6h0m8 9h0m4-1h0m7-2h0m3 0h0m-4-3h0m1-8h0m2-3h0m-18 22h0m-8-1h0"/>
<path id="a241" d="M536 481h0m6 8h0m5 2h0m3 5h0m2 6h0m7-3h0m5 6h0m-2-19h0m-1-6h0m-1-3h0m-6-1h0m-3 0h0m1-3h0m-5 7h0m5 7h0"/>
<path id="b241" d="M549 470h0m0 3h0m5-3h0m1 10h0m2 1h0m-2 10h0m3 5h0m-2 5h0m10 2h0m2-3h0m-2-12h0m-19 0h0m0-4h0"/>
<path id="c241" d="M546 474h0m-1 4h0m-1 13h0m13 2h0m2-2h0m6-1h0m3 2h0m-3-7h0m4-1h0m-11 0h0m2 17h0"/>
<path id="d241" d="M538 489h0m6-3h0m6 3h0m1-5h0m10 7h0m0 7h0m1-20h0m1-3h0"/>
<path id="e241" d="M552 466h0m3 20h0m4 1h0m-4 7h0m-4-2h0m-2-6h0m-9-1h0m25 9h0m5 3h0m-7 4h0m8-14h0"/>
<path id="f241" d="M541 476h0m7 0h0m3 4h0m-2 4h0m-5 4h0m0 5h0m0 3h0m8-6h0m12 8h0m4-1h0m1-2h0m-11-23h0m-23 19h0"/>
<path id="a242" d="M600 444h0m-3 4h0m-1 3h0m7-3h0m4 7h0m3 2h0m3 0h0m1 3h0m-3 1h0m0 3h0m-3 3h0m-6-6h0m-6-2h0m-5-2h0m5 12h0m-2 4h0m21-23h0"/>
<path id="b242" d="M592 447h0m4-2h0m7 5h0m2-3h0m1-3h0m3-3h0m7 12h0m-5 2h0m3 7h0m-4 9h0m-14 0h0m-8-11h0m6-3h0m2-3h0"/>
<path id="c242" d="M587 450h0m0 4h0m11-2h0m4 0h0m1 3h0m5-2h0m0-5h0m6-4h0m0-3h0m-5-5h0m-2 26h0m-2 2h0m1 9h0m-14-5h0"/>
<path id="d242" d="M590 451h0m2-2h0m3 0h0m6 0h0m9-5h0m3 3h0m0 5h0m-1-14h0m2 31h0m-20-3h0m-5-2h0"/>
<path id="e242" d="M605 438h0m3 7h0m1 5h0m4 4h0m3 2h0m-16 0h0m0 11h0"/>
<path id="f242" d="M588 456h0m2-1h0m3 0h0m-1-3h0m0 7h0m10 6h0m7-2h0m-3-12h0m10-5h0m2 3h0"/>
<path id="a243" d="M659 440h0"/>
<path id="b243" d="M659 444h0m-6-1h0"/>
<path id="e243" d="M656 445h0m7-2h0"/>
<path id="d244" d="M241 450h0"/>
<path id="a245" d="M285 473h0"/>
<path id="b245" d="M288 473h0"/>
<path id="b246" d="M350 527h0"/>
<path id="b247" d="M790 522h0"/>
<path id="b248" d="M371 528h0"/>
<path id="a249" d="M360 528h0m-2 11h0m0 5h0"/>
<path id="b249" d="M364 541h0m-3 1h0"/>
<path id="d249" d="M361 536h0"/>
<path id="a250" d="M539 585h0m2 3h0m1 3h0m0 2h0m3-1h0m1 2h0m-4 6h0m10-11h0m6-2h0m0-4h0m-7-5h0m-28 23h0m-3 5h0m39 17h0m-76 58h0"/>
<path id="b250" d="M510 603h0m9-6h0m11-9h0m8 2h0m0 2h0m2-2h0m4-2h0m-2-4h0m6-2h0m4 2h0m-2 2h0m1 2h0m3-7h0m12 51h0m3 3h0m-52-14h0"/>
<path id="c250" d="M519 592h0m18-3h0m0-3h0m3-3h0m6 5h0m-2 2h0m11 2h0m1-3h0m0-6h0"/>
<path id="d250" d="M508 597h0m15-9h0m5 9h0m15-11h0m11 0h0m-69 55h0"/>
<path id="e250" d="M515 590h0m15 3h0m16-8h0m5-3h0"/>
<path id="f250" d="M517 584h0m28-4h0m4 5h0m-6 12h0m20 31h0m-62-2h0"/>
<path id="a251" d="M459 651h0"/>
<path id="b251" d="M472 646h0"/>
</g></defs>
<rect width="1754" height="2202" fill="#fff"/>
<g fill="none" stroke-linecap="round">
<g transform="translate(52.95,48.17) scale(.5659,.6132)" stroke-width="2.4"><g stroke="#a3a4ac"><use href="#a5"/><use href="#a13"/><use href="#a44"/><use href="#a54"/><use href="#a63"/><use href="#a65"/><use href="#a68"/><use href="#a98"/><use href="#a133"/><use href="#a138"/><use href="#a140"/><use href="#a158"/><use href="#a172"/><use href="#a181"/><use href="#a182"/><use href="#a192"/><use href="#a194"/><use href="#a197"/><use href="#a205"/><use href="#a208"/><use href="#a209"/><use href="#a210"/><use href="#a219"/><use href="#a226"/></g><g stroke="#f08122"><use href="#a2"/><use href="#a4"/><use href="#a15"/><use href="#a22"/><use href="#a23"/><use href="#a24"/><use href="#a25"/><use href="#a26"/><use href="#a28"/><use href="#a33"/><use href="#a35"/><use href="#a38"/><use href="#a41"/><use href="#a49"/><use href="#a56"/><use href="#a57"/><use href="#a64"/><use href="#a73"/><use href="#a76"/><use href="#a78"/><use href="#a81"/><use href="#a82"/><use href="#a85"/><use href="#a87"/><use href="#a88"/><use href="#a93"/><use href="#a95"/><use href="#a96"/><use href="#a102"/><use href="#a105"/><use href="#a109"/><use href="#a112"/><use href="#a113"/><use href="#a115"/><use href="#a116"/><use href="#a118"/><use href="#a120"/><use href="#a123"/><use href="#a124"/><use href="#a127"/><use href="#a130"/><use href="#a132"/><use href="#a136"/><use href="#a137"/><use href="#a139"/><use href="#a147"/><use href="#a156"/><use href="#a159"/><use href="#a161"/><use href="#a162"/><use href="#a163"/><use href="#a166"/><use href="#a168"/><use href="#a170"/><use href="#a173"/><use href="#a175"/><use href="#a176"/><use href="#a177"/><use href="#a179"/><use href="#a180"/><use href="#a183"/><use href="#a184"/><use href="#a185"/><use href="#a186"/><use href="#a191"/><use href="#a193"/><use href="#a195"/><use href="#a196"/><use href="#a198"/><use href="#a214"/><use href="#a223"/><use href="#a230"/><use href="#a231"/><use href="#a232"/><use href="#a250"/><use href="#a251"/></g><g stroke="#1a10dc"><use href="#a0"/><use href="#a1"/><use href="#a3"/><use href="#a6"/><use href="#a7"/><use href="#a8"/><use href="#a9"/><use href="#a10"/><use href="#a11"/><use href="#a12"/><use href="#a14"/><use href="#a16"/><use href="#a17"/><use href="#a18"/><use href="#a19"/><use href="#a20"/><use href="#a21"/><use href="#a27"/><use href="#a29"/><use href="#a30"/><use href="#a31"/><use href="#a32"/><use href="#a34"/><use href="#a36"/><use href="#a37"/><use href="#a39"/><use href="#a40"/><use href="#a42"/><use href="#a43"/><use href="#a45"/><use href="#a46"/><use href="#a47"/><use href="#a48"/><use href="#a50"/><use href="#a51"/><use href="#a52"/><use href="#a53"/><use href="#a55"/><use href="#a58"/><use href="#a59"/><use href="#a60"/><use href="#a61"/><use href="#a62"/><use href="#a66"/><use href="#a67"/><use href="#a69"/><use href="#a70"/><use href="#a71"/><use href="#a72"/><use href="#a74"/><use href="#a75"/><use href="#a77"/><use href="#a79"/><use href="#a80"/><use href="#a83"/><use href="#a84"/><use href="#a86"/><use href="#a89"/><use href="#a90"/><use href="#a91"/><use href="#a92"/><use href="#a94"/><use href="#a97"/><use href="#a99"/><use href="#a100"/><use href="#a101"/><use href="#a103"/><use href="#a104"/><use href="#a106"/><use href="#a107"/><use href="#a108"/><use href="#a110"/><use href="#a111"/><use href="#a114"/><use href="#a117"/><use href="#a119"/><use href="#a121"/><use href="#a122"/><use href="#a125"/><use href="#a126"/><use href="#a128"/><use href="#a129"/><use href="#a131"/><use href="#a134"/><use href="#a135"/><use href="#a141"/><use href="#a142"/><use href="#a143"/><use href="#a144"/><use href="#a145"/><use href="#a146"/><use href="#a148"/><use href="#a149"/><use href="#a150"/><use href="#a151"/><use href="#a152"/><use href="#a153"/><use href="#a154"/><use href="#a155"/><use href="#a157"/><use href="#a160"/><use href="#a164"/><use href="#a165"/><use href="#a167"/><use href="#a169"/><use href="#a171"/><use href="#a174"/><use href="#a187"/><use href="#a189"/><use href="#a190"/><use href="#a199"/><use href="#a200"/><use href="#a202"/><use href="#a206"/><use href="#a211"/><use href="#a212"/><use href="#a213"/><use href="#a215"/><use href="#a216"/><use href="#a217"/><use href="#a218"/><use href="#a220"/><use href="#a221"/><use href="#a222"/><use href="#a224"/><use href="#a225"/><use href="#a227"/><use href="#a228"/><use href="#a229"/><use href="#a233"/><use href="#a234"/><use href="#a235"/><use href="#a237"/><use href="#a238"/><use href="#a239"/><use href="#a240"/><use href="#a241"/><use href="#a242"/><use href="#a243"/><use href="#a245"/><use href="#a249"/></g><g stroke="#a3a4ac"><use href="#b6"/><use href="#b7"/><use href="#b8"/><use href="#b9"/><use href="#b10"/><use href="#b14"/><use href="#b18"/><use href="#b21"/><use href="#b29"/><use href="#b31"/><use href="#b32"/><use href="#b34"/><use href="#b39"/><use href="#b40"/><use href="#b42"/><use href="#b43"/><use href="#b45"/><use href="#b50"/><use href="#b52"/><use href="#b53"/><use href="#b55"/><use href="#b61"/><use href="#b67"/><use href="#b69"/><use href="#b71"/><use href="#b72"/><use href="#b74"/><use href="#b75"/><use href="#b77"/><use href="#b79"/><use href="#b80"/><use href="#b83"/><use href="#b86"/><use href="#b90"/><use href="#b91"/><use href="#b92"/><use href="#b94"/><use href="#b97"/><use href="#b99"/><use href="#b100"/><use href="#b101"/><use href="#b104"/><use href="#b106"/><use href="#b107"/><use href="#b108"/><use href="#b111"/><use href="#b114"/><use href="#b119"/><use href="#b121"/><use href="#b122"/><use href="#b125"/><use href="#b128"/><use href="#b135"/><use href="#b141"/><use href="#b144"/><use href="#b148"/><use href="#b149"/><use href="#b154"/><use href="#b157"/><use href="#b159"/><use href="#b160"/><use href="#b164"/><use href="#b167"/><use href="#b181"/><use href="#b182"/><use href="#b192"/><use href="#b194"/><use href="#b203"/><use href="#b211"/><use href="#b212"/><use href="#b213"/><use href="#b215"/><use href="#b216"/><use href="#b217"/><use href="#b218"/><use href="#b220"/><use href="#b221"/><use href="#b222"/><use href="#b224"/><use href="#b225"/><use href="#b227"/><use href="#b228"/><use href="#b229"/><use href="#b233"/><use href="#b234"/><use href="#b235"/><use href="#b243"/><use href="#b245"/><use href="#b246"/><use href="#b247"/><use href="#b248"/><use href="#b249"/><use href="#b250"/></g><g stroke="#f08122"><use href="#b22"/><use href="#b25"/><use href="#b41"/><use href="#b57"/><use href="#b78"/><use href="#b82"/><use href="#b87"/><use href="#b88"/><use href="#b96"/><use href="#b112"/><use href="#b115"/><use href="#b118"/><use href="#b130"/><use href="#b132"/><use href="#b137"/><use href="#b147"/><use href="#b162"/><use href="#b163"/><use href="#b166"/><use href="#b173"/><use href="#b176"/><use href="#b180"/><use href="#b183"/><use href="#b184"/><use href="#b185"/><use href="#b186"/><use href="#b196"/><use href="#b198"/><use href="#b231"/><use href="#b251"/></g><g stroke="#1a10dc"><use href="#b0"/><use href="#b1"/><use href="#b2"/><use href="#b3"/><use href="#b4"/><use href="#b5"/><use href="#b11"/><use href="#b12"/><use href="#b13"/><use href="#b15"/><use href="#b16"/><use href="#b17"/><use href="#b19"/><use href="#b20"/><use href="#b23"/><use href="#b24"/><use href="#b26"/><use href="#b27"/><use href="#b28"/><use href="#b30"/><use href="#b33"/><use href="#b35"/><use href="#b36"/><use href="#b37"/><use href="#b38"/><use href="#b44"/><use href="#b46"/><use href="#b47"/><use href="#b48"/><use href="#b49"/><use href="#b51"/><use href="#b54"/><use href="#b56"/><use href="#b58"/><use href="#b59"/><use href="#b60"/><use href="#b62"/><use href="#b63"/><use href="#b64"/><use href="#b65"/><use href="#b66"/><use href="#b68"/><use href="#b70"/><use href="#b73"/><use href="#b76"/><use href="#b81"/><use href="#b84"/><use href="#b85"/><use href="#b89"/><use href="#b93"/><use href="#b95"/><use href="#b98"/><use href="#b102"/><use href="#b103"/><use href="#b105"/><use href="#b109"/><use href="#b110"/><use href="#b113"/><use href="#b116"/><use href="#b117"/><use href="#b120"/><use href="#b123"/><use href="#b124"/><use href="#b126"/><use href="#b127"/><use href="#b129"/><use href="#b131"/><use href="#b133"/><use href="#b134"/><use href="#b136"/><use href="#b138"/><use href="#b139"/><use href="#b140"/><use href="#b142"/><use href="#b143"/><use href="#b145"/><use href="#b146"/><use href="#b150"/><use href="#b151"/><use href="#b152"/><use href="#b153"/><use href="#b155"/><use href="#b156"/><use href="#b158"/><use href="#b161"/><use href="#b165"/><use href="#b168"/><use href="#b169"/><use href="#b170"/><use href="#b171"/><use href="#b172"/><use href="#b174"/><use href="#b175"/><use href="#b177"/><use href="#b179"/><use href="#b187"/><use href="#b193"/><use href="#b195"/><use href="#b197"/><use href="#b200"/><use href="#b204"/><use href="#b205"/><use href="#b208"/><use href="#b209"/><use href="#b210"/><use href="#b214"/><use href="#b219"/><use href="#b223"/><use href="#b226"/><use href="#b230"/><use href="#b232"/><use href="#b237"/><use href="#b238"/><use href="#b239"/><use href="#b240"/><use href="#b241"/><use href="#b242"/></g><g stroke="#a3a4ac"><use href="#c2"/><use href="#c4"/><use href="#c15"/><use href="#c23"/><use href="#c24"/><use href="#c26"/><use href="#c28"/><use href="#c33"/><use href="#c35"/><use href="#c38"/><use href="#c49"/><use href="#c56"/><use href="#c64"/><use href="#c73"/><use href="#c76"/><use href="#c81"/><use href="#c85"/><use href="#c93"/><use href="#c95"/><use href="#c102"/><use href="#c105"/><use href="#c109"/><use href="#c113"/><use href="#c116"/><use href="#c120"/><use href="#c123"/><use href="#c124"/><use href="#c127"/><use href="#c136"/><use href="#c139"/><use href="#c156"/><use href="#c159"/><use href="#c161"/><use href="#c168"/><use href="#c170"/><use href="#c175"/><use href="#c177"/><use href="#c179"/><use href="#c180"/><use href="#c183"/><use href="#c184"/><use href="#c185"/><use href="#c186"/><use href="#c191"/><use href="#c193"/><use href="#c195"/><use href="#c214"/><use href="#c223"/><use href="#c230"/><use href="#c232"/><use href="#c250"/></g><g stroke="#f08122"><use href="#c0"/><use href="#c1"/><use href="#c3"/><use href="#c5"/><use href="#c6"/><use href="#c7"/><use href="#c8"/><use href="#c9"/><use href="#c10"/><use href="#c11"/><use href="#c12"/><use href="#c13"/><use href="#c14"/><use href="#c16"/><use href="#c17"/><use href="#c18"/><use href="#c19"/><use href="#c20"/><use href="#c21"/><use href="#c27"/><use href="#c29"/><use href="#c30"/><use href="#c31"/><use href="#c32"/><use href="#c34"/><use href="#c36"/><use href="#c37"/><use href="#c39"/><use href="#c40"/><use href="#c42"/><use href="#c43"/><use href="#c44"/><use href="#c45"/><use href="#c46"/><use href="#c47"/><use href="#c48"/><use href="#c50"/><use href="#c51"/><use href="#c52"/><use href="#c53"/><use href="#c54"/><use href="#c55"/><use href="#c58"/><use href="#c59"/><use href="#c60"/><use href="#c61"/><use href="#c62"/><use href="#c63"/><use href="#c65"/><use href="#c66"/><use href="#c67"/><use href="#c68"/><use href="#c69"/><use href="#c70"/><use href="#c71"/><use href="#c72"/><use href="#c74"/><use href="#c75"/><use href="#c77"/><use href="#c79"/><use href="#c80"/><use href="#c83"/><use href="#c84"/><use href="#c86"/><use href="#c89"/><use href="#c90"/><use href="#c91"/><use href="#c92"/><use href="#c94"/><use href="#c97"/><use href="#c98"/><use href="#c99"/><use href="#c100"/><use href="#c101"/><use href="#c103"/><use href="#c104"/><use href="#c106"/><use href="#c107"/><use href="#c108"/><use href="#c110"/><use href="#c111"/><use href="#c114"/><use href="#c117"/><use href="#c119"/><use href="#c121"/><use href="#c122"/><use href="#c125"/><use href="#c126"/><use href="#c128"/><use href="#c129"/><use href="#c131"/><use href="#c133"/><use href="#c134"/><use href="#c135"/><use href="#c138"/><use href="#c140"/><use href="#c141"/><use href="#c142"/><use href="#c143"/><use href="#c144"/><use href="#c145"/><use href="#c146"/><use href="#c148"/><use href="#c149"/><use href="#c150"/><use href="#c151"/><use href="#c152"/><use href="#c153"/><use href="#c154"/><use href="#c155"/><use href="#c157"/><use href="#c158"/><use href="#c160"/><use href="#c164"/><use href="#c165"/><use href="#c167"/><use href="#c169"/><use href="#c171"/><use href="#c172"/><use href="#c174"/><use href="#c181"/><use href="#c182"/><use href="#c188"/><use href="#c192"/><use href="#c194"/><use href="#c196"/><use href="#c197"/><use href="#c198"/><use href="#c204"/><use href="#c205"/><use href="#c208"/><use href="#c209"/><use href="#c210"/><use href="#c211"/><use href="#c212"/><use href="#c213"/><use href="#c215"/><use href="#c216"/><use href="#c217"/><use href="#c218"/><use href="#c219"/><use href="#c220"/><use href="#c221"/><use href="#c222"/><use href="#c224"/><use href="#c225"/><use href="#c226"/><use href="#c227"/><use href="#c228"/><use href="#c229"/><use href="#c233"/><use href="#c234"/><use href="#c235"/><use href="#c237"/><use href="#c238"/><use href="#c239"/><use href="#c240"/><use href="#c241"/><use href="#c242"/></g><g stroke="#1a10dc"><use href="#c22"/><use href="#c25"/><use href="#c41"/><use href="#c57"/><use href="#c78"/><use href="#c82"/><use href="#c87"/><use href="#c88"/><use href="#c96"/><use href="#c112"/><use href="#c115"/><use href="#c118"/><use href="#c130"/><use href="#c132"/><use href="#c137"/><use href="#c147"/><use href="#c162"/><use href="#c163"/><use href="#c166"/><use href="#c173"/><use href="#c176"/><use href="#c187"/><use href="#c200"/><use href="#c231"/></g><g stroke="#a3a4ac"><use href="#e0"/><use href="#e1"/><use href="#e3"/><use href="#e5"/><use href="#e6"/><use href="#e7"/><use href="#e8"/><use href="#e9"/><use href="#e10"/><use href="#e11"/><use href="#e12"/><use href="#e13"/><use href="#e14"/><use href="#e16"/><use href="#e17"/><use href="#e18"/><use href="#e19"/><use href="#e20"/><use href="#e21"/><use href="#e27"/><use href="#e29"/><use href="#e30"/><use href="#e31"/><use href="#e32"/><use href="#e34"/><use href="#e36"/><use href="#e37"/><use href="#e39"/><use href="#e40"/><use href="#e42"/><use href="#e43"/><use href="#e44"/><use href="#e45"/><use href="#e46"/><use href="#e47"/><use href="#e48"/><use href="#e50"/><use href="#e51"/><use href="#e52"/><use href="#e53"/><use href="#e54"/><use href="#e55"/><use href="#e58"/><use href="#e59"/><use href="#e60"/><use href="#e61"/><use href="#e62"/><use href="#e63"/><use href="#e65"/><use href="#e66"/><use href="#e67"/><use href="#e68"/><use href="#e69"/><use href="#e70"/><use href="#e71"/><use href="#e72"/><use href="#e74"/><use href="#e75"/><use href="#e77"/><use href="#e79"/><use href="#e80"/><use href="#e83"/><use href="#e84"/><use href="#e86"/><use href="#e89"/><use href="#e90"/><use href="#e91"/><use href="#e92"/><use href="#e94"/><use href="#e97"/><use href="#e98"/><use href="#e99"/><use href="#e100"/><use href="#e101"/><use href="#e103"/><use href="#e104"/><use href="#e106"/><use href="#e107"/><use href="#e108"/><use href="#e110"/><use href="#e111"/><use href="#e114"/><use href="#e117"/><use href="#e119"/><use href="#e121"/><use href="#e122"/><use href="#e125"/><use href="#e126"/><use href="#e128"/><use href="#e129"/><use href="#e131"/><use href="#e133"/><use href="#e134"/><use href="#e135"/><use href="#e138"/><use href="#e140"/><use href="#e141"/><use href="#e142"/><use href="#e143"/><use href="#e144"/><use href="#e145"/><use href="#e146"/><use href="#e148"/><use href="#e149"/><use href="#e150"/><use href="#e151"/><use href="#e152"/><use href="#e153"/><use href="#e154"/><use href="#e155"/><use href="#e157"/><use href="#e158"/><use href="#e160"/><use href="#e164"/><use href="#e165"/><use href="#e167"/><use href="#e169"/><use href="#e171"/><use href="#e172"/><use href="#e174"/><use href="#e181"/><use href="#e182"/><use href="#e190"/><use href="#e192"/><use href="#e194"/><use href="#e197"/><use href="#e201"/><use href="#e205"/><use href="#e206"/><use href="#e208"/><use href="#e209"/><use href="#e210"/><use href="#e211"/><use href="#e212"/><use href="#e213"/><use href="#e215"/><use href="#e216"/><use href="#e217"/><use href="#e218"/><use href="#e219"/><use href="#e220"/><use href="#e221"/><use href="#e222"/><use href="#e224"/><use href="#e225"/><use href="#e226"/><use href="#e227"/><use href="#e228"/><use href="#e229"/><use href="#e233"/><use href="#e234"/><use href="#e235"/><use href="#e237"/><use href="#e238"/><use href="#e239"/><use href="#e240"/><use href="#e241"/><use href="#e242"/><use href="#e243"/></g><g stroke="#f08122"><use href="#e2"/><use href="#e15"/><use href="#e22"/><use href="#e25"/><use href="#e26"/><use href="#e28"/><use href="#e38"/><use href="#e41"/><use href="#e57"/><use href="#e76"/><use href="#e78"/><use href="#e82"/><use href="#e85"/><use href="#e87"/><use href="#e88"/><use href="#e95"/><use href="#e96"/><use href="#e112"/><use href="#e115"/><use href="#e116"/><use href="#e118"/><use href="#e123"/><use href="#e124"/><use href="#e127"/><use href="#e130"/><use href="#e132"/><use href="#e137"/><use href="#e147"/><use href="#e156"/><use href="#e159"/><use href="#e162"/><use href="#e163"/><use href="#e166"/><use href="#e168"/><use href="#e173"/><use href="#e175"/><use href="#e176"/><use href="#e179"/><use href="#e180"/><use href="#e183"/><use href="#e184"/><use href="#e185"/><use href="#e186"/><use href="#e193"/><use href="#e195"/><use href="#e196"/><use href="#e198"/><use href="#e231"/><use href="#e232"/><use href="#e250"/></g><g stroke="#1a10dc"><use href="#e4"/><use href="#e23"/><use href="#e24"/><use href="#e33"/><use href="#e35"/><use href="#e49"/><use href="#e56"/><use href="#e64"/><use href="#e73"/><use href="#e81"/><use href="#e93"/><use href="#e102"/><use href="#e105"/><use href="#e109"/><use href="#e113"/><use href="#e120"/><use href="#e136"/><use href="#e139"/><use href="#e161"/><use href="#e170"/><use href="#e177"/><use href="#e187"/><use href="#e191"/><use href="#e200"/><use href="#e214"/><use href="#e223"/><use href="#e230"/></g><g stroke="#a3a4ac"><use href="#f159"/><use href="#f181"/><use href="#f182"/><use href="#f192"/><use href="#f194"/><use href="#f250"/></g><g stroke="#f08122"><use href="#f4"/><use href="#f23"/><use href="#f24"/><use href="#f33"/><use href="#f35"/><use href="#f49"/><use href="#f56"/><use href="#f64"/><use href="#f73"/><use href="#f81"/><use href="#f93"/><use href="#f102"/><use href="#f105"/><use href="#f109"/><use href="#f113"/><use href="#f120"/><use href="#f136"/><use href="#f139"/><use href="#f161"/><use href="#f170"/><use href="#f177"/><use href="#f180"/><use href="#f183"/><use href="#f184"/><use href="#f185"/><use href="#f186"/><use href="#f196"/><use href="#f198"/><use href="#f214"/><use href="#f223"/><use href="#f230"/></g><g stroke="#1a10dc"><use href="#f0"/><use href="#f1"/><use href="#f2"/><use href="#f3"/><use href="#f5"/><use href="#f6"/><use href="#f7"/><use href="#f8"/><use href="#f9"/><use href="#f10"/><use href="#f11"/><use href="#f12"/><use href="#f13"/><use href="#f14"/><use href="#f15"/><use href="#f16"/><use href="#f17"/><use href="#f18"/><use href="#f19"/><use href="#f20"/><use href="#f21"/><use href="#f22"/><use href="#f25"/><use href="#f26"/><use href="#f27"/><use href="#f28"/><use href="#f29"/><use href="#f30"/><use href="#f31"/><use href="#f32"/><use href="#f34"/><use href="#f36"/><use href="#f37"/><use href="#f38"/><use href="#f39"/><use href="#f40"/><use href="#f41"/><use href="#f42"/><use href="#f43"/><use href="#f44"/><use href="#f45"/><use href="#f46"/><use href="#f47"/><use href="#f48"/><use href="#f50"/><use href="#f51"/><use href="#f52"/><use href="#f53"/><use href="#f54"/><use href="#f55"/><use href="#f57"/><use href="#f58"/><use href="#f59"/><use href="#f60"/><use href="#f61"/><use href="#f62"/><use href="#f63"/><use href="#f65"/><use href="#f66"/><use href="#f67"/><use href="#f68"/><use href="#f69"/><use href="#f70"/><use href="#f71"/><use href="#f72"/><use href="#f74"/><use href="#f75"/><use href="#f76"/><use href="#f77"/><use href="#f78"/><use href="#f79"/><use href="#f80"/><use href="#f82"/><use href="#f83"/><use href="#f84"/><use href="#f85"/><use href="#f86"/><use href="#f87"/><use href="#f88"/><use href="#f89"/><use href="#f90"/><use href="#f91"/><use href="#f92"/><use href="#f94"/><use href="#f95"/><use href="#f96"/><use href="#f97"/><use href="#f98"/><use href="#f99"/><use href="#f100"/><use href="#f101"/><use href="#f103"/><use href="#f104"/><use href="#f106"/><use href="#f107"/><use href="#f108"/><use href="#f110"/><use href="#f111"/><use href="#f112"/><use href="#f114"/><use href="#f115"/><use href="#f116"/><use href="#f117"/><use href="#f118"/><use href="#f119"/><use href="#f121"/><use href="#f122"/><use href="#f123"/><use href="#f124"/><use href="#f125"/><use href="#f126"/><use href="#f127"/><use href="#f128"/><use href="#f129"/><use href="#f130"/><use href="#f131"/><use href="#f132"/><use href="#f133"/><use href="#f134"/><use href="#f135"/><use href="#f137"/><use href="#f138"/><use href="#f140"/><use href="#f141"/><use href="#f142"/><use href="#f143"/><use href="#f144"/><use href="#f145"/><use href="#f146"/><use href="#f147"/><use href="#f148"/><use href="#f149"/><use href="#f150"/><use href="#f151"/><use href="#f152"/><use href="#f153"/><use href="#f154"/><use href="#f155"/><use href="#f156"/><use href="#f157"/><use href="#f158"/><use href="#f160"/><use href="#f162"/><use href="#f163"/><use href="#f164"/><use href="#f165"/><use href="#f166"/><use href="#f167"/><use href="#f168"/><use href="#f169"/><use href="#f171"/><use href="#f172"/><use href="#f173"/><use href="#f174"/><use href="#f175"/><use href="#f176"/><use href="#f179"/><use href="#f187"/><use href="#f193"/><use href="#f195"/><use href="#f197"/><use href="#f200"/><use href="#f204"/><use href="#f205"/><use href="#f206"/><use href="#f207"/><use href="#f208"/><use href="#f209"/><use href="#f210"/><use href="#f211"/><use href="#f212"/><use href="#f213"/><use href="#f215"/><use href="#f216"/><use href="#f217"/><use href="#f218"/><use href="#f219"/><use href="#f220"/><use href="#f221"/><use href="#f222"/><use href="#f224"/><use href="#f225"/><use href="#f226"/><use href="#f227"/><use href="#f228"/><use href="#f229"/><use href="#f231"/><use href="#f232"/><use href="#f233"/><use href="#f234"/><use href="#f235"/><use href="#f236"/><use href="#f237"/><use href="#f238"/><use href="#f239"/><use href="#f240"/><use href="#f241"/><use href="#f242"/></g><g stroke="#a3a4ac"><use href="#d0"/><use href="#d1"/><use href="#d3"/><use href="#d11"/><use href="#d12"/><use href="#d13"/><use href="#d16"/><use href="#d17"/><use href="#d19"/><use href="#d20"/><use href="#d27"/><use href="#d30"/><use href="#d36"/><use href="#d37"/><use href="#d46"/><use href="#d47"/><use href="#d48"/><use href="#d51"/><use href="#d54"/><use href="#d58"/><use href="#d59"/><use href="#d60"/><use href="#d62"/><use href="#d66"/><use href="#d70"/><use href="#d84"/><use href="#d89"/><use href="#d98"/><use href="#d103"/><use href="#d110"/><use href="#d117"/><use href="#d126"/><use href="#d129"/><use href="#d131"/><use href="#d134"/><use href="#d138"/><use href="#d142"/><use href="#d143"/><use href="#d145"/><use href="#d146"/><use href="#d150"/><use href="#d151"/><use href="#d152"/><use href="#d153"/><use href="#d155"/><use href="#d158"/><use href="#d165"/><use href="#d169"/><use href="#d171"/><use href="#d172"/><use href="#d174"/><use href="#d181"/><use href="#d182"/><use href="#d192"/><use href="#d194"/><use href="#d197"/><use href="#d204"/><use href="#d237"/><use href="#d238"/><use href="#d239"/><use href="#d240"/><use href="#d241"/><use href="#d242"/></g><g stroke="#f08122"><use href="#d4"/><use href="#d22"/><use href="#d23"/><use href="#d24"/><use href="#d25"/><use href="#d33"/><use href="#d35"/><use href="#d41"/><use href="#d49"/><use href="#d56"/><use href="#d57"/><use href="#d64"/><use href="#d73"/><use href="#d78"/><use href="#d81"/><use href="#d82"/><use href="#d87"/><use href="#d88"/><use href="#d93"/><use href="#d102"/><use href="#d105"/><use href="#d109"/><use href="#d112"/><use href="#d113"/><use href="#d115"/><use href="#d118"/><use href="#d120"/><use href="#d130"/><use href="#d132"/><use href="#d136"/><use href="#d137"/><use href="#d139"/><use href="#d147"/><use href="#d159"/><use href="#d161"/><use href="#d162"/><use href="#d163"/><use href="#d166"/><use href="#d170"/><use href="#d173"/><use href="#d176"/><use href="#d177"/><use href="#d180"/><use href="#d183"/><use href="#d184"/><use href="#d185"/><use href="#d186"/><use href="#d196"/><use href="#d198"/><use href="#d214"/><use href="#d223"/><use href="#d230"/><use href="#d231"/><use href="#d250"/></g><g stroke="#1a10dc"><use href="#d2"/><use href="#d5"/><use href="#d6"/><use href="#d7"/><use href="#d8"/><use href="#d9"/><use href="#d10"/><use href="#d14"/><use href="#d15"/><use href="#d18"/><use href="#d21"/><use href="#d26"/><use href="#d28"/><use href="#d29"/><use href="#d31"/><use href="#d32"/><use href="#d34"/><use href="#d38"/><use href="#d39"/><use href="#d40"/><use href="#d42"/><use href="#d43"/><use href="#d44"/><use href="#d45"/><use href="#d50"/><use href="#d52"/><use href="#d53"/><use href="#d55"/><use href="#d61"/><use href="#d63"/><use href="#d65"/><use href="#d67"/><use href="#d68"/><use href="#d69"/><use href="#d71"/><use href="#d72"/><use href="#d74"/><use href="#d75"/><use href="#d76"/><use href="#d77"/><use href="#d79"/><use href="#d80"/><use href="#d83"/><use href="#d85"/><use href="#d86"/><use href="#d90"/><use href="#d91"/><use href="#d92"/><use href="#d94"/><use href="#d95"/><use href="#d97"/><use href="#d99"/><use href="#d100"/><use href="#d101"/><use href="#d104"/><use href="#d106"/><use href="#d107"/><use href="#d108"/><use href="#d111"/><use href="#d114"/><use href="#d116"/><use href="#d119"/><use href="#d121"/><use href="#d122"/><use href="#d123"/><use href="#d124"/><use href="#d125"/><use href="#d127"/><use href="#d128"/><use href="#d133"/><use href="#d135"/><use href="#d140"/><use href="#d141"/><use href="#d144"/><use href="#d148"/><use href="#d149"/><use href="#d154"/><use href="#d156"/><use href="#d157"/><use href="#d160"/><use href="#d164"/><use href="#d167"/><use href="#d168"/><use href="#d175"/><use href="#d178"/><use href="#d179"/><use href="#d187"/><use href="#d193"/><use href="#d195"/><use href="#d200"/><use href="#d205"/><use href="#d206"/><use href="#d208"/><use href="#d209"/><use href="#d210"/><use href="#d211"/><use href="#d212"/><use href="#d213"/><use href="#d215"/><use href="#d216"/><use href="#d217"/><use href="#d218"/><use href="#d219"/><use href="#d220"/><use href="#d221"/><use href="#d222"/><use href="#d224"/><use href="#d225"/><use href="#d226"/><use href="#d227"/><use href="#d228"/><use href="#d229"/><use href="#d232"/><use href="#d233"/><use href="#d234"/><use href="#d235"/><use href="#d244"/><use href="#d249"/></g></g>
<g transform="translate(673.5,55.3) scale(.5)" stroke-width="2.5"><use href="#all" stroke="#000004"/><g stroke="#07051b"><use href="#e185"/></g><g stroke="#0e092b"><use href="#d178"/><use href="#d179"/><use href="#d187"/><use href="#d250"/></g><g stroke="#160b39"><use href="#d88"/><use href="#b179"/><use href="#f179"/><use href="#b187"/><use href="#f187"/><use href="#d211"/><use href="#d226"/><use href="#d229"/><use href="#d232"/><use href="#b250"/></g><g stroke="#210c4a"><use href="#d49"/><use href="#a179"/><use href="#d180"/><use href="#d181"/><use href="#d182"/><use href="#d183"/><use href="#d184"/><use href="#d186"/><use href="#a187"/><use href="#c187"/><use href="#d218"/><use href="#d219"/><use href="#d222"/><use href="#d223"/><use href="#a250"/><use href="#f250"/><use href="#b251"/></g><g stroke="#2b0b57"><use href="#c179"/><use href="#e179"/><use href="#d185"/><use href="#e187"/><use href="#d208"/><use href="#d210"/><use href="#c250"/><use href="#a251"/></g><g stroke="#360961"><use href="#b96"/><use href="#d196"/><use href="#d197"/><use href="#d198"/><use href="#d209"/><use href="#d221"/><use href="#d234"/><use href="#e250"/></g><g stroke="#420a68"><use href="#b88"/><use href="#f96"/><use href="#d100"/><use href="#d205"/><use href="#b211"/><use href="#d213"/><use href="#b218"/><use href="#b222"/><use href="#b223"/><use href="#b226"/><use href="#b229"/><use href="#b232"/></g><g stroke="#4c0c6b"><use href="#b49"/><use href="#d94"/><use href="#d170"/><use href="#b219"/></g><g stroke="#57106e"><use href="#f88"/><use href="#a96"/><use href="#d194"/><use href="#b208"/><use href="#b209"/><use href="#b210"/><use href="#f211"/><use href="#f218"/><use href="#f222"/><use href="#f223"/><use href="#d224"/><use href="#f226"/><use href="#f229"/><use href="#f232"/><use href="#d235"/></g><g stroke="#61136e"><use href="#d1"/><use href="#d7"/><use href="#d48"/><use href="#f49"/><use href="#d70"/><use href="#d84"/><use href="#b100"/><use href="#d102"/><use href="#d103"/><use href="#d126"/><use href="#d136"/><use href="#d143"/><use href="#d150"/><use href="#d151"/><use href="#d169"/><use href="#d174"/><use href="#d193"/><use href="#b196"/><use href="#b197"/><use href="#b198"/><use href="#a211"/><use href="#d217"/><use href="#f219"/><use href="#b221"/><use href="#d225"/><use href="#a226"/><use href="#a232"/><use href="#b234"/><use href="#d237"/><use href="#d238"/><use href="#d239"/><use href="#d240"/><use href="#d241"/><use href="#d242"/></g><g stroke="#6a176e"><use href="#d0"/><use href="#d17"/><use href="#d24"/><use href="#d35"/><use href="#d46"/><use href="#d47"/><use href="#a49"/><use href="#d55"/><use href="#d56"/><use href="#d59"/><use href="#d66"/><use href="#d77"/><use href="#d83"/><use href="#a88"/><use href="#d95"/><use href="#d105"/><use href="#d110"/><use href="#d125"/><use href="#d131"/><use href="#d145"/><use href="#d146"/><use href="#d155"/><use href="#d165"/><use href="#d166"/><use href="#d167"/><use href="#d175"/><use href="#b205"/><use href="#f208"/><use href="#f209"/><use href="#f210"/><use href="#d212"/><use href="#b213"/><use href="#d214"/><use href="#d215"/><use href="#a218"/><use href="#a222"/><use href="#a223"/><use href="#d227"/><use href="#d228"/><use href="#a229"/><use href="#d230"/><use href="#d233"/><use href="#f234"/></g><g stroke="#751b6e"><use href="#d4"/><use href="#d8"/><use href="#d11"/><use href="#d16"/><use href="#d29"/><use href="#d31"/><use href="#d34"/><use href="#d42"/><use href="#d43"/><use href="#d62"/><use href="#d67"/><use href="#d71"/><use href="#d73"/><use href="#d75"/><use href="#d81"/><use href="#d91"/><use href="#b94"/><use href="#c96"/><use href="#f100"/><use href="#d104"/><use href="#d107"/><use href="#d108"/><use href="#d111"/><use href="#d116"/><use href="#d121"/><use href="#d123"/><use href="#d128"/><use href="#d141"/><use href="#d147"/><use href="#d148"/><use href="#d149"/><use href="#d154"/><use href="#b170"/><use href="#d171"/><use href="#d177"/><use href="#f196"/><use href="#f197"/><use href="#f198"/><use href="#d206"/><use href="#f213"/><use href="#a219"/><use href="#f221"/><use href="#b235"/><use href="#d244"/></g><g stroke="#7f1e6c"><use href="#d6"/><use href="#d13"/><use href="#d14"/><use href="#d15"/><use href="#d28"/><use href="#d32"/><use href="#d33"/><use href="#d38"/><use href="#d40"/><use href="#d44"/><use href="#d45"/><use href="#d50"/><use href="#d53"/><use href="#d64"/><use href="#d69"/><use href="#d79"/><use href="#b84"/><use href="#d85"/><use href="#d86"/><use href="#c88"/><use href="#d93"/><use href="#d97"/><use href="#d98"/><use href="#d99"/><use href="#d114"/><use href="#d119"/><use href="#d120"/><use href="#d122"/><use href="#d124"/><use href="#d135"/><use href="#d138"/><use href="#d140"/><use href="#d144"/><use href="#d156"/><use href="#d157"/><use href="#d158"/><use href="#d168"/><use href="#b169"/><use href="#f170"/><use href="#d172"/><use href="#d176"/><use href="#a191"/><use href="#b193"/><use href="#b194"/><use href="#d204"/><use href="#f205"/><use href="#a208"/><use href="#a209"/><use href="#a210"/><use href="#c211"/><use href="#b217"/><use href="#b224"/><use href="#c226"/><use href="#c232"/><use href="#a234"/></g><g stroke="#8a226a"><use href="#b0"/><use href="#b1"/><use href="#b7"/><use href="#d9"/><use href="#d10"/><use href="#b17"/><use href="#d23"/><use href="#d25"/><use href="#d39"/><use href="#d41"/><use href="#b47"/><use href="#b48"/><use href="#c49"/><use href="#d52"/><use href="#d57"/><use href="#b59"/><use href="#d63"/><use href="#b70"/><use href="#d72"/><use href="#d74"/><use href="#d78"/><use href="#d87"/><use href="#f94"/><use href="#a100"/><use href="#b102"/><use href="#b103"/><use href="#b105"/><use href="#d106"/><use href="#b110"/><use href="#d112"/><use href="#d115"/><use href="#b125"/><use href="#b126"/><use href="#b131"/><use href="#b136"/><use href="#d137"/><use href="#d139"/><use href="#b143"/><use href="#b150"/><use href="#b151"/><use href="#b155"/><use href="#d162"/><use href="#d164"/><use href="#b167"/><use href="#d173"/><use href="#b174"/><use href="#a196"/><use href="#a197"/><use href="#a198"/><use href="#d200"/><use href="#a213"/><use href="#d216"/><use href="#c218"/><use href="#c219"/><use href="#d220"/><use href="#a221"/><use href="#c222"/><use href="#c223"/><use href="#b225"/><use href="#c229"/><use href="#f235"/><use href="#b237"/><use href="#b238"/><use href="#b239"/><use href="#b240"/><use href="#b241"/><use href="#b242"/><use href="#d249"/></g><g stroke="#932667"><use href="#f1"/><use href="#d2"/><use href="#b4"/><use href="#d21"/><use href="#b24"/><use href="#b35"/><use href="#b46"/><use href="#d51"/><use href="#b55"/><use href="#b56"/><use href="#d65"/><use href="#b66"/><use href="#d68"/><use href="#f70"/><use href="#b73"/><use href="#b77"/><use href="#d80"/><use href="#b83"/><use href="#f84"/><use href="#d92"/><use href="#b95"/><use href="#e96"/><use href="#f136"/><use href="#f143"/><use href="#b145"/><use href="#b146"/><use href="#f151"/><use href="#d159"/><use href="#d161"/><use href="#b165"/><use href="#b166"/><use href="#f169"/><use href="#a170"/><use href="#f174"/><use href="#b175"/><use href="#f193"/><use href="#f194"/><use href="#a205"/><use href="#b212"/><use href="#b214"/><use href="#b215"/><use href="#f217"/><use href="#f224"/><use href="#f225"/><use href="#b227"/><use href="#b228"/><use href="#b230"/><use href="#d231"/><use href="#b233"/><use href="#b247"/></g><g stroke="#9d2964"><use href="#f0"/><use href="#d5"/><use href="#f7"/><use href="#b8"/><use href="#b11"/><use href="#b16"/><use href="#f17"/><use href="#f24"/><use href="#b29"/><use href="#b31"/><use href="#b34"/><use href="#b42"/><use href="#b43"/><use href="#f47"/><use href="#f48"/><use href="#f59"/><use href="#d61"/><use href="#b62"/><use href="#b67"/><use href="#b71"/><use href="#b75"/><use href="#f77"/><use href="#b81"/><use href="#e88"/><use href="#d90"/><use href="#b91"/><use href="#a94"/><use href="#f102"/><use href="#f103"/><use href="#b104"/><use href="#f105"/><use href="#b107"/><use href="#b108"/><use href="#f110"/><use href="#b111"/><use href="#b116"/><use href="#b120"/><use href="#b121"/><use href="#b123"/><use href="#f125"/><use href="#f126"/><use href="#b128"/><use href="#f131"/><use href="#b141"/><use href="#b147"/><use href="#b148"/><use href="#b149"/><use href="#f150"/><use href="#b154"/><use href="#f155"/><use href="#f167"/><use href="#b171"/><use href="#b176"/><use href="#b177"/><use href="#c191"/><use href="#c197"/><use href="#c198"/><use href="#b203"/><use href="#f207"/><use href="#c208"/><use href="#c209"/><use href="#c210"/><use href="#e211"/><use href="#e218"/><use href="#c221"/><use href="#e223"/><use href="#a224"/><use href="#e226"/><use href="#e229"/><use href="#e232"/><use href="#c234"/><use href="#a235"/><use href="#f237"/><use href="#f238"/><use href="#f239"/><use href="#f240"/><use href="#f241"/><use href="#f242"/><use href="#b243"/><use href="#b245"/></g><g stroke="#a82e5f"><use href="#a1"/><use href="#f4"/><use href="#b6"/><use href="#a7"/><use href="#f11"/><use href="#b13"/><use href="#b14"/><use href="#b15"/><use href="#b28"/><use href="#b32"/><use href="#b33"/><use href="#f35"/><use href="#b38"/><use href="#b40"/><use href="#b44"/><use href="#b45"/><use href="#f46"/><use href="#e49"/><use href="#b50"/><use href="#b53"/><use href="#d54"/><use href="#f55"/><use href="#f56"/><use href="#b64"/><use href="#f66"/><use href="#b69"/><use href="#a70"/><use href="#f73"/><use href="#f75"/><use href="#b79"/><use href="#f83"/><use href="#a84"/><use href="#b85"/><use href="#b86"/><use href="#b87"/><use href="#b93"/><use href="#f95"/><use href="#b97"/><use href="#b98"/><use href="#b99"/><use href="#c100"/><use href="#d101"/><use href="#a102"/><use href="#f108"/><use href="#b114"/><use href="#b119"/><use href="#b122"/><use href="#b124"/><use href="#a126"/><use href="#d133"/><use href="#b135"/><use href="#a136"/><use href="#b138"/><use href="#b140"/><use href="#a143"/><use href="#b144"/><use href="#f145"/><use href="#f146"/><use href="#a151"/><use href="#b156"/><use href="#b157"/><use href="#b158"/><use href="#f165"/><use href="#f166"/><use href="#b168"/><use href="#a169"/><use href="#b172"/><use href="#a174"/><use href="#f175"/><use href="#a193"/><use href="#a194"/><use href="#d195"/><use href="#c196"/><use href="#b204"/><use href="#f212"/><use href="#c213"/><use href="#f214"/><use href="#f215"/><use href="#a217"/><use href="#e219"/><use href="#b220"/><use href="#e222"/><use href="#a225"/><use href="#f227"/><use href="#f228"/><use href="#f230"/><use href="#f233"/></g><g stroke="#b1325a"><use href="#a0"/><use href="#f8"/><use href="#b9"/><use href="#b10"/><use href="#f14"/><use href="#f16"/><use href="#a17"/><use href="#d18"/><use href="#b23"/><use href="#a24"/><use href="#b25"/><use href="#d26"/><use href="#f29"/><use href="#f31"/><use href="#f33"/><use href="#f34"/><use href="#a35"/><use href="#d36"/><use href="#b39"/><use href="#b41"/><use href="#f42"/><use href="#f43"/><use href="#a47"/><use href="#a48"/><use href="#b52"/><use href="#b57"/><use href="#a59"/><use href="#f62"/><use href="#b63"/><use href="#f67"/><use href="#f71"/><use href="#b72"/><use href="#b74"/><use href="#a77"/><use href="#b78"/><use href="#f81"/><use href="#f86"/><use href="#f91"/><use href="#b92"/><use href="#c94"/><use href="#a95"/><use href="#a103"/><use href="#f104"/><use href="#a105"/><use href="#b106"/><use href="#f107"/><use href="#a110"/><use href="#f111"/><use href="#b112"/><use href="#b115"/><use href="#f116"/><use href="#d117"/><use href="#f120"/><use href="#f121"/><use href="#f123"/><use href="#a125"/><use href="#f128"/><use href="#d130"/><use href="#a131"/><use href="#b137"/><use href="#b139"/><use href="#f141"/><use href="#f147"/><use href="#f148"/><use href="#f149"/><use href="#a150"/><use href="#f154"/><use href="#a155"/><use href="#d160"/><use href="#b161"/><use href="#b162"/><use href="#b164"/><use href="#a167"/><use href="#c170"/><use href="#f171"/><use href="#b173"/><use href="#a175"/><use href="#f176"/><use href="#f177"/><use href="#e191"/><use href="#d192"/><use href="#b200"/><use href="#c205"/><use href="#f206"/><use href="#e208"/><use href="#e210"/><use href="#a212"/><use href="#a214"/><use href="#a215"/><use href="#b216"/><use href="#a227"/><use href="#a228"/><use href="#a230"/><use href="#f236"/><use href="#a237"/><use href="#a238"/><use href="#a239"/><use href="#a240"/><use href="#a241"/><use href="#a242"/><use href="#b246"/><use href="#b248"/><use href="#b249"/></g><g stroke="#bc3754"><use href="#b2"/><use href="#a4"/><use href="#f6"/><use href="#a8"/><use href="#a11"/><use href="#f13"/><use href="#f15"/><use href="#a16"/><use href="#b21"/><use href="#d22"/><use href="#f28"/><use href="#a29"/><use href="#d30"/><use href="#f32"/><use href="#f38"/><use href="#f40"/><use href="#a42"/><use href="#f44"/><use href="#f45"/><use href="#a46"/><use href="#f50"/><use href="#b51"/><use href="#f53"/><use href="#a55"/><use href="#a56"/><use href="#a62"/><use href="#f64"/><use href="#b65"/><use href="#a66"/><use href="#b68"/><use href="#f69"/><use href="#a73"/><use href="#a75"/><use href="#f79"/><use href="#b80"/><use href="#a81"/><use href="#a83"/><use href="#f85"/><use href="#f87"/><use href="#f93"/><use href="#f97"/><use href="#f98"/><use href="#f99"/><use href="#a108"/><use href="#d109"/><use href="#f114"/><use href="#f119"/><use href="#f122"/><use href="#f124"/><use href="#f135"/><use href="#f138"/><use href="#f140"/><use href="#f144"/><use href="#a145"/><use href="#a146"/><use href="#d153"/><use href="#f156"/><use href="#f157"/><use href="#f158"/><use href="#b159"/><use href="#a165"/><use href="#a166"/><use href="#f168"/><use href="#a171"/><use href="#f172"/><use href="#a177"/><use href="#e196"/><use href="#e197"/><use href="#e198"/><use href="#f204"/><use href="#e209"/><use href="#f220"/><use href="#e221"/><use href="#c224"/><use href="#b231"/><use href="#a233"/><use href="#e234"/><use href="#c235"/></g><g stroke="#c43c4e"><use href="#c1"/><use href="#b5"/><use href="#a6"/><use href="#c7"/><use href="#f9"/><use href="#f10"/><use href="#a13"/><use href="#a14"/><use href="#a15"/><use href="#f23"/><use href="#f25"/><use href="#a28"/><use href="#a31"/><use href="#a32"/><use href="#a33"/><use href="#a34"/><use href="#a38"/><use href="#f39"/><use href="#a40"/><use href="#f41"/><use href="#a43"/><use href="#a44"/><use href="#a45"/><use href="#c48"/><use href="#f52"/><use href="#b54"/><use href="#f57"/><use href="#d60"/><use href="#b61"/><use href="#f63"/><use href="#a64"/><use href="#a67"/><use href="#f68"/><use href="#a69"/><use href="#c70"/><use href="#a71"/><use href="#f72"/><use href="#f74"/><use href="#f78"/><use href="#a79"/><use href="#c84"/><use href="#a85"/><use href="#a86"/><use href="#b90"/><use href="#a91"/><use href="#f92"/><use href="#a93"/><use href="#a98"/><use href="#a99"/><use href="#e100"/><use href="#b101"/><use href="#c102"/><use href="#c103"/><use href="#a104"/><use href="#f106"/><use href="#a107"/><use href="#a111"/><use href="#f112"/><use href="#a114"/><use href="#f115"/><use href="#a116"/><use href="#d118"/><use href="#a119"/><use href="#a120"/><use href="#a121"/><use href="#a123"/><use href="#a124"/><use href="#c126"/><use href="#a128"/><use href="#b133"/><use href="#a135"/><use href="#c136"/><use href="#f137"/><use href="#a138"/><use href="#f139"/><use href="#a140"/><use href="#a141"/><use href="#c143"/><use href="#a147"/><use href="#a148"/><use href="#a149"/><use href="#c150"/><use href="#c151"/><use href="#a154"/><use href="#a156"/><use href="#a158"/><use href="#f161"/><use href="#f162"/><use href="#f164"/><use href="#a168"/><use href="#c169"/><use href="#a172"/><use href="#f173"/><use href="#c174"/><use href="#a176"/><use href="#c193"/><use href="#c194"/><use href="#a199"/><use href="#f200"/><use href="#a202"/><use href="#e205"/><use href="#a206"/><use href="#e213"/><use href="#f216"/><use href="#c217"/><use href="#c225"/><use href="#c237"/><use href="#c238"/><use href="#c239"/><use href="#c240"/><use href="#c241"/><use href="#a243"/><use href="#a245"/></g><g stroke="#cc4248"><use href="#c0"/><use href="#f2"/><use href="#a10"/><use href="#d12"/><use href="#c17"/><use href="#d20"/><use href="#f21"/><use href="#c24"/><use href="#a25"/><use href="#c35"/><use href="#c47"/><use href="#a50"/><use href="#f51"/><use href="#a53"/><use href="#c55"/><use href="#c56"/><use href="#c59"/><use href="#f65"/><use href="#c66"/><use href="#c77"/><use href="#f80"/><use href="#c83"/><use href="#a87"/><use href="#e94"/><use href="#c95"/><use href="#a97"/><use href="#c105"/><use href="#a106"/><use href="#c110"/><use href="#b117"/><use href="#a122"/><use href="#c125"/><use href="#c131"/><use href="#d132"/><use href="#a137"/><use href="#a144"/><use href="#c145"/><use href="#c146"/><use href="#c155"/><use href="#a157"/><use href="#f159"/><use href="#b160"/><use href="#c166"/><use href="#c167"/><use href="#e170"/><use href="#c175"/><use href="#b195"/><use href="#c212"/><use href="#c214"/><use href="#c215"/><use href="#a220"/><use href="#c227"/><use href="#c228"/><use href="#c230"/><use href="#f231"/><use href="#c233"/><use href="#c242"/></g><g stroke="#d54a41"><use href="#d3"/><use href="#c4"/><use href="#f5"/><use href="#c8"/><use href="#a9"/><use href="#c11"/><use href="#c16"/><use href="#b18"/><use href="#d19"/><use href="#a21"/><use href="#a23"/><use href="#b26"/><use href="#d27"/><use href="#c29"/><use href="#c31"/><use href="#c34"/><use href="#b36"/><use href="#d37"/><use href="#a39"/><use href="#a41"/><use href="#c42"/><use href="#c43"/><use href="#c46"/><use href="#a52"/><use href="#f54"/><use href="#a57"/><use href="#d58"/><use href="#f61"/><use href="#c62"/><use href="#a63"/><use href="#c67"/><use href="#a68"/><use href="#c71"/><use href="#a72"/><use href="#c73"/><use href="#a74"/><use href="#c75"/><use href="#d76"/><use href="#a78"/><use href="#c81"/><use href="#d82"/><use href="#e84"/><use href="#d89"/><use href="#f90"/><use href="#a92"/><use href="#f101"/><use href="#c104"/><use href="#c107"/><use href="#c108"/><use href="#a112"/><use href="#d113"/><use href="#a115"/><use href="#c116"/><use href="#c121"/><use href="#c123"/><use href="#d127"/><use href="#c128"/><use href="#d129"/><use href="#b130"/><use href="#f133"/><use href="#d134"/><use href="#a139"/><use href="#c141"/><use href="#d142"/><use href="#c147"/><use href="#c148"/><use href="#c149"/><use href="#d152"/><use href="#b153"/><use href="#a161"/><use href="#a162"/><use href="#d163"/><use href="#a164"/><use href="#c165"/><use href="#c171"/><use href="#a173"/><use href="#c177"/><use href="#b192"/><use href="#e194"/><use href="#a200"/><use href="#a216"/><use href="#e224"/><use href="#e235"/><use href="#a249"/></g><g stroke="#dd513a"><use href="#e1"/><use href="#a2"/><use href="#a5"/><use href="#c6"/><use href="#e7"/><use href="#c13"/><use href="#c14"/><use href="#c15"/><use href="#e17"/><use href="#b22"/><use href="#c28"/><use href="#b30"/><use href="#c32"/><use href="#c33"/><use href="#c38"/><use href="#c40"/><use href="#c44"/><use href="#c45"/><use href="#e47"/><use href="#e48"/><use href="#c50"/><use href="#a51"/><use href="#c53"/><use href="#e59"/><use href="#c64"/><use href="#a65"/><use href="#c69"/><use href="#e70"/><use href="#c79"/><use href="#a80"/><use href="#c85"/><use href="#c86"/><use href="#c91"/><use href="#c93"/><use href="#c97"/><use href="#c98"/><use href="#c99"/><use href="#e102"/><use href="#e103"/><use href="#b109"/><use href="#e110"/><use href="#c111"/><use href="#c114"/><use href="#f117"/><use href="#c119"/><use href="#c120"/><use href="#c124"/><use href="#e125"/><use href="#e126"/><use href="#f130"/><use href="#c135"/><use href="#e136"/><use href="#c138"/><use href="#c140"/><use href="#e143"/><use href="#c144"/><use href="#e150"/><use href="#e151"/><use href="#c154"/><use href="#e155"/><use href="#c156"/><use href="#c157"/><use href="#c158"/><use href="#a159"/><use href="#f160"/><use href="#e167"/><use href="#c168"/><use href="#e169"/><use href="#c172"/><use href="#e174"/><use href="#c176"/><use href="#e193"/><use href="#f195"/><use href="#c204"/><use href="#e217"/><use href="#e225"/><use href="#a231"/><use href="#e237"/><use href="#e238"/><use href="#e239"/><use href="#e240"/><use href="#e241"/><use href="#e242"/></g><g stroke="#e45a31"><use href="#e0"/><use href="#c9"/><use href="#c10"/><use href="#b12"/><use href="#f18"/><use href="#b20"/><use href="#f22"/><use href="#c23"/><use href="#e24"/><use href="#c25"/><use href="#f26"/><use href="#e35"/><use href="#f36"/><use href="#c39"/><use href="#c41"/><use href="#e46"/><use href="#c52"/><use href="#a54"/><use href="#e55"/><use href="#e56"/><use href="#c57"/><use href="#b60"/><use href="#a61"/><use href="#c63"/><use href="#e66"/><use href="#c72"/><use href="#c74"/><use href="#e77"/><use href="#c78"/><use href="#e83"/><use href="#c87"/><use href="#a90"/><use href="#e95"/><use href="#a101"/><use href="#e105"/><use href="#c106"/><use href="#c112"/><use href="#c115"/><use href="#b118"/><use href="#c122"/><use href="#e131"/><use href="#a133"/><use href="#c137"/><use href="#c139"/><use href="#e145"/><use href="#e146"/><use href="#f153"/><use href="#c162"/><use href="#c164"/><use href="#e165"/><use href="#e166"/><use href="#c173"/><use href="#e175"/><use href="#f192"/><use href="#a195"/><use href="#c200"/><use href="#e201"/><use href="#e212"/><use href="#e214"/><use href="#e215"/><use href="#c216"/><use href="#c220"/><use href="#e227"/><use href="#e228"/><use href="#e230"/><use href="#e233"/></g><g stroke="#ea632a"><use href="#c2"/><use href="#e4"/><use href="#e8"/><use href="#e11"/><use href="#e16"/><use href="#c21"/><use href="#b27"/><use href="#e29"/><use href="#f30"/><use href="#e31"/><use href="#e34"/><use href="#e42"/><use href="#e43"/><use href="#c51"/><use href="#e62"/><use href="#e67"/><use href="#c68"/><use href="#e71"/><use href="#e73"/><use href="#e75"/><use href="#c80"/><use href="#e81"/><use href="#b89"/><use href="#e91"/><use href="#c92"/><use href="#e104"/><use href="#e107"/><use href="#e108"/><use href="#f109"/><use href="#e111"/><use href="#e116"/><use href="#a117"/><use href="#e120"/><use href="#e121"/><use href="#e123"/><use href="#b127"/><use href="#e128"/><use href="#b129"/><use href="#a130"/><use href="#b132"/><use href="#e141"/><use href="#e147"/><use href="#e148"/><use href="#e149"/><use href="#e154"/><use href="#c159"/><use href="#a160"/><use href="#c161"/><use href="#e171"/><use href="#e176"/><use href="#e177"/><use href="#a190"/><use href="#e206"/><use href="#e243"/></g><g stroke="#ef6c23"><use href="#b3"/><use href="#c5"/><use href="#e6"/><use href="#f12"/><use href="#e13"/><use href="#e14"/><use href="#e15"/><use href="#a18"/><use href="#b19"/><use href="#f20"/><use href="#a22"/><use href="#a26"/><use href="#e28"/><use href="#e32"/><use href="#e33"/><use href="#a36"/><use href="#b37"/><use href="#e38"/><use href="#e40"/><use href="#e44"/><use href="#e45"/><use href="#e50"/><use href="#e53"/><use href="#b58"/><use href="#f60"/><use href="#c61"/><use href="#e64"/><use href="#c65"/><use href="#e69"/><use href="#b76"/><use href="#e79"/><use href="#b82"/><use href="#e85"/><use href="#e86"/><use href="#e93"/><use href="#e97"/><use href="#e98"/><use href="#e99"/><use href="#b113"/><use href="#e114"/><use href="#f118"/><use href="#e119"/><use href="#e122"/><use href="#e124"/><use href="#b134"/><use href="#e135"/><use href="#e138"/><use href="#e140"/><use href="#b142"/><use href="#e144"/><use href="#b152"/><use href="#a153"/><use href="#e156"/><use href="#e157"/><use href="#e158"/><use href="#b163"/><use href="#e168"/><use href="#e172"/><use href="#a192"/><use href="#c231"/></g><g stroke="#f37819"><use href="#f3"/><use href="#e9"/><use href="#e10"/><use href="#f19"/><use href="#e23"/><use href="#e25"/><use href="#f27"/><use href="#a30"/><use href="#f37"/><use href="#e39"/><use href="#e41"/><use href="#e52"/><use href="#c54"/><use href="#e57"/><use href="#f58"/><use href="#a60"/><use href="#e63"/><use href="#e72"/><use href="#e74"/><use href="#f76"/><use href="#e78"/><use href="#f82"/><use href="#e87"/><use href="#f89"/><use href="#c90"/><use href="#e92"/><use href="#c101"/><use href="#e106"/><use href="#a109"/><use href="#e112"/><use href="#f113"/><use href="#e115"/><use href="#a118"/><use href="#f127"/><use href="#f129"/><use href="#f132"/><use href="#c133"/><use href="#f134"/><use href="#e137"/><use href="#e139"/><use href="#f142"/><use href="#f152"/><use href="#e162"/><use href="#f163"/><use href="#e164"/><use href="#e173"/><use href="#c195"/><use href="#e200"/><use href="#e216"/><use href="#e220"/></g><g stroke="#f78212"><use href="#e2"/><use href="#a12"/><use href="#c18"/><use href="#a20"/><use href="#e21"/><use href="#c26"/><use href="#c36"/><use href="#e51"/><use href="#e65"/><use href="#e68"/><use href="#e80"/><use href="#c117"/><use href="#c130"/><use href="#e159"/><use href="#c160"/><use href="#e161"/><use href="#c192"/><use href="#e231"/></g><g stroke="#f98e09"><use href="#a3"/><use href="#e5"/><use href="#a19"/><use href="#c22"/><use href="#a27"/><use href="#c30"/><use href="#a37"/><use href="#a58"/><use href="#e61"/><use href="#a76"/><use href="#a82"/><use href="#a89"/><use href="#e90"/><use href="#c109"/><use href="#a113"/><use href="#a127"/><use href="#a129"/><use href="#a132"/><use href="#a134"/><use href="#a142"/><use href="#a152"/><use href="#c153"/><use href="#a163"/><use href="#a189"/></g><g stroke="#fb9906"><use href="#e54"/><use href="#c60"/><use href="#e101"/><use href="#c118"/><use href="#e133"/><use href="#e160"/><use href="#e190"/><use href="#e195"/></g><g stroke="#fca50a"><use href="#c12"/><use href="#e18"/><use href="#c20"/><use href="#e26"/><use href="#e36"/><use href="#e117"/><use href="#e130"/><use href="#c132"/><use href="#e192"/></g><g stroke="#fcb216"><use href="#c3"/><use href="#c19"/><use href="#e22"/><use href="#c27"/><use href="#e30"/><use href="#c37"/><use href="#c58"/><use href="#c76"/><use href="#c82"/><use href="#c89"/><use href="#e109"/><use href="#c113"/><use href="#c127"/><use href="#c129"/><use href="#c134"/><use href="#c142"/><use href="#c152"/><use href="#e153"/><use href="#c163"/><use href="#c188"/></g><g stroke="#fbbe23"><use href="#e20"/><use href="#e60"/><use href="#e118"/></g><g stroke="#f9cb35"><use href="#e12"/><use href="#e89"/><use href="#e132"/></g><g stroke="#f6d746"><use href="#e3"/><use href="#e19"/><use href="#e27"/><use href="#e37"/><use href="#e58"/><use href="#e76"/><use href="#e82"/><use href="#e113"/><use href="#e127"/><use href="#e129"/><use href="#e134"/><use href="#e142"/><use href="#e152"/><use href="#e163"/></g></g>
<g transform="translate(1239.6,55.3) scale(.5)" stroke-width="2.5"><use href="#all" stroke="#000004"/><g stroke="#07051b"><use href="#e2"/><use href="#d3"/><use href="#a7"/><use href="#b7"/><use href="#c7"/><use href="#f7"/><use href="#e12"/><use href="#d18"/><use href="#d19"/><use href="#e20"/><use href="#e21"/><use href="#e22"/><use href="#e27"/><use href="#d29"/><use href="#e30"/><use href="#e36"/><use href="#d37"/><use href="#d58"/><use href="#e60"/><use href="#e61"/><use href="#a71"/><use href="#c71"/><use href="#e71"/><use href="#d76"/><use href="#e80"/><use href="#d82"/><use href="#e87"/><use href="#e89"/><use href="#e90"/><use href="#a96"/><use href="#b96"/><use href="#f96"/><use href="#e97"/><use href="#e101"/><use href="#e105"/><use href="#e109"/><use href="#c111"/><use href="#e111"/><use href="#d113"/><use href="#e117"/><use href="#e118"/><use href="#e122"/><use href="#e130"/><use href="#e132"/><use href="#d134"/><use href="#e137"/><use href="#d142"/><use href="#e147"/><use href="#d152"/><use href="#e153"/><use href="#e166"/><use href="#a167"/><use href="#c167"/><use href="#e167"/><use href="#f167"/><use href="#e176"/><use href="#e190"/><use href="#d192"/><use href="#d193"/><use href="#d194"/><use href="#d195"/><use href="#d196"/><use href="#d197"/><use href="#d198"/><use href="#d204"/><use href="#d205"/><use href="#d206"/><use href="#d208"/><use href="#d209"/><use href="#d210"/><use href="#d211"/><use href="#d212"/><use href="#d214"/><use href="#d215"/><use href="#d216"/><use href="#d217"/><use href="#d218"/><use href="#d220"/><use href="#d221"/><use href="#d223"/><use href="#d224"/><use href="#d225"/><use href="#d226"/><use href="#d227"/><use href="#d228"/><use href="#d229"/><use href="#d230"/><use href="#d231"/><use href="#d232"/><use href="#d233"/><use href="#d234"/><use href="#d235"/><use href="#d250"/></g><g stroke="#0e092b"><use href="#e7"/><use href="#b18"/><use href="#a29"/><use href="#b29"/><use href="#f29"/><use href="#c96"/><use href="#e96"/><use href="#d160"/><use href="#d163"/><use href="#b204"/><use href="#f204"/><use href="#d213"/><use href="#d219"/></g><g stroke="#160b39"><use href="#a18"/><use href="#f18"/><use href="#c29"/><use href="#e29"/><use href="#d55"/><use href="#d129"/><use href="#b160"/><use href="#d178"/><use href="#d179"/><use href="#d180"/><use href="#d181"/><use href="#d182"/><use href="#d183"/><use href="#d184"/><use href="#d185"/><use href="#d186"/><use href="#d187"/><use href="#a191"/><use href="#d200"/><use href="#c204"/><use href="#d222"/></g><g stroke="#210c4a"><use href="#d2"/><use href="#d12"/><use href="#d13"/><use href="#c18"/><use href="#e18"/><use href="#d20"/><use href="#d21"/><use href="#d22"/><use href="#d27"/><use href="#d30"/><use href="#d36"/><use href="#d40"/><use href="#d50"/><use href="#d60"/><use href="#d61"/><use href="#d69"/><use href="#d79"/><use href="#d80"/><use href="#d87"/><use href="#d89"/><use href="#d90"/><use href="#d91"/><use href="#d97"/><use href="#d101"/><use href="#d105"/><use href="#d108"/><use href="#d109"/><use href="#d117"/><use href="#d118"/><use href="#d122"/><use href="#d127"/><use href="#d130"/><use href="#d132"/><use href="#d137"/><use href="#d147"/><use href="#d153"/><use href="#d157"/><use href="#a160"/><use href="#f160"/><use href="#d166"/><use href="#d176"/><use href="#c191"/><use href="#d237"/><use href="#d238"/><use href="#d239"/><use href="#d240"/><use href="#d241"/><use href="#d242"/></g><g stroke="#2b0b57"><use href="#d4"/><use href="#d6"/><use href="#d8"/><use href="#d10"/><use href="#d11"/><use href="#d14"/><use href="#d15"/><use href="#d17"/><use href="#d25"/><use href="#d26"/><use href="#d28"/><use href="#d31"/><use href="#d32"/><use href="#d33"/><use href="#d34"/><use href="#d38"/><use href="#d39"/><use href="#d41"/><use href="#d42"/><use href="#d43"/><use href="#d44"/><use href="#d45"/><use href="#d51"/><use href="#d52"/><use href="#d53"/><use href="#b55"/><use href="#f55"/><use href="#d64"/><use href="#d66"/><use href="#d67"/><use href="#d70"/><use href="#d75"/><use href="#d77"/><use href="#d78"/><use href="#d83"/><use href="#d85"/><use href="#d86"/><use href="#d88"/><use href="#d93"/><use href="#d94"/><use href="#d95"/><use href="#d98"/><use href="#d99"/><use href="#d100"/><use href="#d103"/><use href="#d104"/><use href="#d106"/><use href="#d107"/><use href="#d111"/><use href="#d112"/><use href="#d114"/><use href="#d116"/><use href="#d119"/><use href="#d120"/><use href="#d121"/><use href="#d123"/><use href="#d124"/><use href="#d125"/><use href="#d128"/><use href="#d131"/><use href="#d135"/><use href="#d136"/><use href="#d138"/><use href="#d140"/><use href="#d141"/><use href="#d144"/><use href="#d148"/><use href="#d149"/><use href="#d154"/><use href="#d156"/><use href="#d158"/><use href="#c160"/><use href="#d165"/><use href="#d168"/><use href="#d169"/><use href="#d171"/><use href="#d172"/><use href="#d174"/><use href="#d175"/><use href="#e191"/><use href="#b200"/><use href="#f200"/><use href="#d244"/></g><g stroke="#360961"><use href="#d0"/><use href="#b4"/><use href="#d5"/><use href="#b6"/><use href="#b8"/><use href="#d9"/><use href="#b10"/><use href="#b13"/><use href="#b15"/><use href="#d16"/><use href="#d23"/><use href="#b25"/><use href="#b28"/><use href="#b31"/><use href="#b32"/><use href="#b33"/><use href="#b34"/><use href="#b38"/><use href="#b39"/><use href="#b40"/><use href="#b41"/><use href="#b43"/><use href="#b44"/><use href="#b45"/><use href="#d48"/><use href="#d49"/><use href="#b50"/><use href="#b52"/><use href="#d54"/><use href="#a55"/><use href="#d57"/><use href="#d62"/><use href="#d63"/><use href="#b64"/><use href="#d65"/><use href="#d68"/><use href="#b69"/><use href="#d71"/><use href="#d72"/><use href="#d74"/><use href="#b77"/><use href="#b78"/><use href="#b79"/><use href="#b83"/><use href="#b85"/><use href="#b86"/><use href="#b91"/><use href="#d92"/><use href="#b93"/><use href="#b94"/><use href="#b95"/><use href="#b98"/><use href="#b99"/><use href="#b100"/><use href="#d102"/><use href="#b104"/><use href="#b106"/><use href="#b107"/><use href="#b108"/><use href="#f108"/><use href="#d110"/><use href="#b112"/><use href="#b114"/><use href="#d115"/><use href="#b119"/><use href="#b121"/><use href="#b123"/><use href="#b124"/><use href="#b125"/><use href="#d126"/><use href="#b128"/><use href="#d133"/><use href="#b135"/><use href="#b136"/><use href="#b138"/><use href="#d139"/><use href="#b140"/><use href="#b141"/><use href="#d143"/><use href="#b144"/><use href="#d146"/><use href="#b148"/><use href="#b149"/><use href="#b154"/><use href="#b156"/><use href="#b157"/><use href="#b158"/><use href="#d159"/><use href="#e160"/><use href="#d161"/><use href="#d162"/><use href="#d164"/><use href="#b168"/><use href="#b172"/><use href="#d173"/><use href="#b175"/><use href="#d177"/><use href="#a200"/><use href="#b203"/><use href="#b237"/><use href="#b238"/><use href="#b239"/><use href="#b240"/><use href="#b241"/><use href="#b242"/><use href="#b245"/><use href="#d249"/></g><g stroke="#420a68"><use href="#d1"/><use href="#f4"/><use href="#f6"/><use href="#f8"/><use href="#f10"/><use href="#f13"/><use href="#b14"/><use href="#f15"/><use href="#d24"/><use href="#f25"/><use href="#f28"/><use href="#f31"/><use href="#f32"/><use href="#f33"/><use href="#f34"/><use href="#d35"/><use href="#f38"/><use href="#f39"/><use href="#f40"/><use href="#f41"/><use href="#b42"/><use href="#f43"/><use href="#f44"/><use href="#f45"/><use href="#d46"/><use href="#d47"/><use href="#f50"/><use href="#f52"/><use href="#b53"/><use href="#c55"/><use href="#d56"/><use href="#d59"/><use href="#f64"/><use href="#b67"/><use href="#f69"/><use href="#d73"/><use href="#b75"/><use href="#f77"/><use href="#f78"/><use href="#a79"/><use href="#f79"/><use href="#d81"/><use href="#f83"/><use href="#d84"/><use href="#f85"/><use href="#f86"/><use href="#b88"/><use href="#f91"/><use href="#f93"/><use href="#f94"/><use href="#f95"/><use href="#f98"/><use href="#f99"/><use href="#f100"/><use href="#f104"/><use href="#f106"/><use href="#f107"/><use href="#a108"/><use href="#f112"/><use href="#f114"/><use href="#f119"/><use href="#b120"/><use href="#f121"/><use href="#f123"/><use href="#f124"/><use href="#f125"/><use href="#f128"/><use href="#f135"/><use href="#f136"/><use href="#f138"/><use href="#f140"/><use href="#f141"/><use href="#f144"/><use href="#d145"/><use href="#f148"/><use href="#f149"/><use href="#d150"/><use href="#d151"/><use href="#f154"/><use href="#d155"/><use href="#f156"/><use href="#f157"/><use href="#f158"/><use href="#d167"/><use href="#f168"/><use href="#d170"/><use href="#f172"/><use href="#f175"/><use href="#c200"/><use href="#f236"/><use href="#a237"/><use href="#f237"/><use href="#a238"/><use href="#f238"/><use href="#a239"/><use href="#f239"/><use href="#a240"/><use href="#f240"/><use href="#a241"/><use href="#f241"/><use href="#a242"/><use href="#f242"/></g><g stroke="#4c0c6b"><use href="#b0"/><use href="#a4"/><use href="#b5"/><use href="#a6"/><use href="#d7"/><use href="#a8"/><use href="#b9"/><use href="#a10"/><use href="#b11"/><use href="#a13"/><use href="#f14"/><use href="#a15"/><use href="#b17"/><use href="#b23"/><use href="#a25"/><use href="#b26"/><use href="#a28"/><use href="#a31"/><use href="#a32"/><use href="#a33"/><use href="#a34"/><use href="#a38"/><use href="#a39"/><use href="#a40"/><use href="#a41"/><use href="#f42"/><use href="#a43"/><use href="#a44"/><use href="#a45"/><use href="#b48"/><use href="#b49"/><use href="#a50"/><use href="#b51"/><use href="#a52"/><use href="#f53"/><use href="#b54"/><use href="#e55"/><use href="#b57"/><use href="#b62"/><use href="#b63"/><use href="#a64"/><use href="#b65"/><use href="#b66"/><use href="#f67"/><use href="#b68"/><use href="#a69"/><use href="#b70"/><use href="#b72"/><use href="#b74"/><use href="#f75"/><use href="#a77"/><use href="#a78"/><use href="#a83"/><use href="#a85"/><use href="#a86"/><use href="#f88"/><use href="#a91"/><use href="#b92"/><use href="#a93"/><use href="#a94"/><use href="#a95"/><use href="#a98"/><use href="#a99"/><use href="#a100"/><use href="#b102"/><use href="#b103"/><use href="#a104"/><use href="#a106"/><use href="#a107"/><use href="#c108"/><use href="#a112"/><use href="#a114"/><use href="#b115"/><use href="#b116"/><use href="#a119"/><use href="#f120"/><use href="#a121"/><use href="#a123"/><use href="#a124"/><use href="#a125"/><use href="#b126"/><use href="#a128"/><use href="#b131"/><use href="#b133"/><use href="#a135"/><use href="#a136"/><use href="#a138"/><use href="#b139"/><use href="#a140"/><use href="#a141"/><use href="#a144"/><use href="#b146"/><use href="#a148"/><use href="#a149"/><use href="#a154"/><use href="#a156"/><use href="#a157"/><use href="#a158"/><use href="#b159"/><use href="#b161"/><use href="#b162"/><use href="#b164"/><use href="#b165"/><use href="#a168"/><use href="#b169"/><use href="#b171"/><use href="#a172"/><use href="#b173"/><use href="#b174"/><use href="#a175"/><use href="#a199"/><use href="#e200"/><use href="#a202"/><use href="#a245"/><use href="#b246"/><use href="#b248"/><use href="#b249"/></g><g stroke="#57106e"><use href="#f0"/><use href="#f5"/><use href="#f9"/><use href="#f11"/><use href="#c13"/><use href="#a14"/><use href="#b16"/><use href="#f17"/><use href="#f23"/><use href="#f26"/><use href="#c40"/><use href="#a42"/><use href="#f48"/><use href="#f49"/><use href="#c50"/><use href="#f51"/><use href="#a53"/><use href="#f54"/><use href="#f57"/><use href="#f62"/><use href="#f63"/><use href="#f65"/><use href="#f66"/><use href="#a67"/><use href="#f68"/><use href="#c69"/><use href="#f70"/><use href="#f72"/><use href="#f74"/><use href="#a75"/><use href="#c79"/><use href="#b81"/><use href="#b84"/><use href="#a88"/><use href="#c91"/><use href="#f92"/><use href="#f102"/><use href="#f103"/><use href="#b110"/><use href="#f115"/><use href="#f116"/><use href="#a120"/><use href="#f126"/><use href="#f131"/><use href="#f133"/><use href="#f139"/><use href="#b143"/><use href="#f146"/><use href="#b150"/><use href="#c157"/><use href="#f159"/><use href="#f161"/><use href="#f162"/><use href="#f164"/><use href="#f165"/><use href="#f169"/><use href="#f171"/><use href="#f173"/><use href="#f174"/><use href="#b177"/><use href="#c237"/><use href="#c238"/><use href="#c239"/><use href="#c240"/><use href="#c241"/><use href="#c242"/></g><g stroke="#61136e"><use href="#a0"/><use href="#b1"/><use href="#c4"/><use href="#c6"/><use href="#c8"/><use href="#c10"/><use href="#a11"/><use href="#c15"/><use href="#f16"/><use href="#a17"/><use href="#b24"/><use href="#c25"/><use href="#a26"/><use href="#c28"/><use href="#c31"/><use href="#c32"/><use href="#c33"/><use href="#c34"/><use href="#b35"/><use href="#c38"/><use href="#c39"/><use href="#c41"/><use href="#c42"/><use href="#c43"/><use href="#c44"/><use href="#c45"/><use href="#b46"/><use href="#b47"/><use href="#a48"/><use href="#a49"/><use href="#a51"/><use href="#c52"/><use href="#b56"/><use href="#b59"/><use href="#a62"/><use href="#a63"/><use href="#c64"/><use href="#a66"/><use href="#c67"/><use href="#a70"/><use href="#b73"/><use href="#c75"/><use href="#c77"/><use href="#c78"/><use href="#e79"/><use href="#c83"/><use href="#f84"/><use href="#c85"/><use href="#c86"/><use href="#e91"/><use href="#c93"/><use href="#c94"/><use href="#c95"/><use href="#c98"/><use href="#c99"/><use href="#c100"/><use href="#a102"/><use href="#a103"/><use href="#c104"/><use href="#c106"/><use href="#c107"/><use href="#e108"/><use href="#f110"/><use href="#c112"/><use href="#c114"/><use href="#a116"/><use href="#c119"/><use href="#c120"/><use href="#c121"/><use href="#c123"/><use href="#c124"/><use href="#c125"/><use href="#a126"/><use href="#c128"/><use href="#a131"/><use href="#c135"/><use href="#c136"/><use href="#c138"/><use href="#c140"/><use href="#c141"/><use href="#f143"/><use href="#c144"/><use href="#b145"/><use href="#a146"/><use href="#c148"/><use href="#c149"/><use href="#b151"/><use href="#c154"/><use href="#b155"/><use href="#c156"/><use href="#e157"/><use href="#c158"/><use href="#a165"/><use href="#c168"/><use href="#a169"/><use href="#b170"/><use href="#a171"/><use href="#c172"/><use href="#a174"/><use href="#c175"/><use href="#f177"/><use href="#e237"/><use href="#e238"/><use href="#e239"/><use href="#e240"/><use href="#e241"/><use href="#e242"/></g><g stroke="#6a176e"><use href="#f1"/><use href="#e4"/><use href="#a5"/><use href="#e6"/><use href="#e8"/><use href="#a9"/><use href="#e10"/><use href="#c11"/><use href="#e13"/><use href="#c14"/><use href="#e15"/><use href="#a16"/><use href="#c17"/><use href="#a23"/><use href="#f24"/><use href="#e25"/><use href="#c26"/><use href="#e28"/><use href="#e31"/><use href="#e32"/><use href="#e33"/><use href="#e34"/><use href="#f35"/><use href="#e38"/><use href="#e39"/><use href="#e40"/><use href="#e41"/><use href="#e43"/><use href="#e44"/><use href="#e45"/><use href="#f46"/><use href="#f47"/><use href="#e50"/><use href="#c51"/><use href="#e52"/><use href="#c53"/><use href="#a54"/><use href="#f56"/><use href="#a57"/><use href="#f59"/><use href="#e64"/><use href="#a65"/><use href="#c66"/><use href="#a68"/><use href="#e69"/><use href="#c70"/><use href="#a72"/><use href="#f73"/><use href="#a74"/><use href="#e77"/><use href="#e78"/><use href="#f81"/><use href="#e83"/><use href="#e85"/><use href="#e86"/><use href="#c88"/><use href="#a92"/><use href="#e93"/><use href="#e94"/><use href="#e95"/><use href="#e98"/><use href="#e99"/><use href="#e100"/><use href="#c103"/><use href="#e104"/><use href="#e106"/><use href="#e107"/><use href="#a110"/><use href="#e112"/><use href="#e114"/><use href="#a115"/><use href="#c116"/><use href="#e119"/><use href="#e121"/><use href="#e123"/><use href="#e124"/><use href="#e125"/><use href="#e128"/><use href="#c131"/><use href="#a133"/><use href="#e135"/><use href="#e136"/><use href="#e138"/><use href="#a139"/><use href="#e140"/><use href="#e141"/><use href="#a143"/><use href="#e144"/><use href="#f145"/><use href="#e148"/><use href="#e149"/><use href="#f150"/><use href="#f151"/><use href="#e154"/><use href="#f155"/><use href="#e156"/><use href="#e158"/><use href="#a159"/><use href="#a161"/><use href="#a162"/><use href="#a164"/><use href="#c165"/><use href="#e168"/><use href="#c169"/><use href="#f170"/><use href="#c171"/><use href="#e172"/><use href="#a173"/><use href="#c174"/><use href="#e175"/><use href="#a177"/><use href="#f207"/><use href="#a249"/></g><g stroke="#751b6e"><use href="#c0"/><use href="#a1"/><use href="#c5"/><use href="#c9"/><use href="#e14"/><use href="#c23"/><use href="#a24"/><use href="#a35"/><use href="#e42"/><use href="#a46"/><use href="#a47"/><use href="#c48"/><use href="#c49"/><use href="#c54"/><use href="#a56"/><use href="#c57"/><use href="#a59"/><use href="#c62"/><use href="#c63"/><use href="#c65"/><use href="#e67"/><use href="#c68"/><use href="#c72"/><use href="#a73"/><use href="#c74"/><use href="#e75"/><use href="#a81"/><use href="#a84"/><use href="#c92"/><use href="#c102"/><use href="#c115"/><use href="#e120"/><use href="#c126"/><use href="#c133"/><use href="#c139"/><use href="#a145"/><use href="#c146"/><use href="#a150"/><use href="#a151"/><use href="#a155"/><use href="#c159"/><use href="#c161"/><use href="#c162"/><use href="#c164"/><use href="#a170"/><use href="#c173"/></g><g stroke="#7f1e6c"><use href="#e11"/><use href="#c16"/><use href="#e17"/><use href="#e26"/><use href="#e48"/><use href="#e51"/><use href="#e53"/><use href="#e62"/><use href="#e66"/><use href="#e70"/><use href="#e88"/><use href="#e102"/><use href="#e103"/><use href="#c110"/><use href="#e116"/><use href="#e126"/><use href="#e131"/><use href="#c143"/><use href="#e146"/><use href="#e165"/><use href="#e169"/><use href="#e171"/><use href="#e174"/><use href="#c177"/><use href="#e201"/></g><g stroke="#8a226a"><use href="#e0"/><use href="#c1"/><use href="#e5"/><use href="#e9"/><use href="#e23"/><use href="#c24"/><use href="#c35"/><use href="#c46"/><use href="#c47"/><use href="#e49"/><use href="#e54"/><use href="#c56"/><use href="#e57"/><use href="#c59"/><use href="#e63"/><use href="#e65"/><use href="#e68"/><use href="#e72"/><use href="#c73"/><use href="#e74"/><use href="#c81"/><use href="#c84"/><use href="#e92"/><use href="#e115"/><use href="#e133"/><use href="#e139"/><use href="#c145"/><use href="#c150"/><use href="#c151"/><use href="#c155"/><use href="#e159"/><use href="#e161"/><use href="#e162"/><use href="#e164"/><use href="#c170"/><use href="#e173"/></g><g stroke="#932667"><use href="#e16"/><use href="#e110"/><use href="#e143"/><use href="#e177"/></g><g stroke="#9d2964"><use href="#e1"/><use href="#e24"/><use href="#e35"/><use href="#e46"/><use href="#e47"/><use href="#e56"/><use href="#e59"/><use href="#e73"/><use href="#e81"/><use href="#e84"/><use href="#e145"/><use href="#e150"/><use href="#e151"/><use href="#e155"/><use href="#e170"/></g></g>
<g transform="translate(673.5,468.9) scale(.5)" stroke-width="2.5"><use href="#all" stroke="#000004"/><g stroke="#07051b"><use href="#a0"/><use href="#b0"/><use href="#f0"/><use href="#d1"/><use href="#d6"/><use href="#d7"/><use href="#b8"/><use href="#d8"/><use href="#d10"/><use href="#d11"/><use href="#b13"/><use href="#d13"/><use href="#d15"/><use href="#d16"/><use href="#d17"/><use href="#d24"/><use href="#b25"/><use href="#f25"/><use href="#a26"/><use href="#b26"/><use href="#c26"/><use href="#f26"/><use href="#d28"/><use href="#d29"/><use href="#d32"/><use href="#d33"/><use href="#d34"/><use href="#d35"/><use href="#d40"/><use href="#b41"/><use href="#d41"/><use href="#c43"/><use href="#e43"/><use href="#d44"/><use href="#d45"/><use href="#d46"/><use href="#d47"/><use href="#d48"/><use href="#d49"/><use href="#d50"/><use href="#a51"/><use href="#b51"/><use href="#f51"/><use href="#b52"/><use href="#d52"/><use href="#d55"/><use href="#d56"/><use href="#d59"/><use href="#c62"/><use href="#e62"/><use href="#d64"/><use href="#d66"/><use href="#d67"/><use href="#d69"/><use href="#a70"/><use href="#b70"/><use href="#f70"/><use href="#d73"/><use href="#d79"/><use href="#d81"/><use href="#d84"/><use href="#d85"/><use href="#d86"/><use href="#d88"/><use href="#d91"/><use href="#d93"/><use href="#d98"/><use href="#d99"/><use href="#d102"/><use href="#d103"/><use href="#c104"/><use href="#e104"/><use href="#d106"/><use href="#a107"/><use href="#c107"/><use href="#e107"/><use href="#d108"/><use href="#d110"/><use href="#d112"/><use href="#d114"/><use href="#d116"/><use href="#d119"/><use href="#d120"/><use href="#d126"/><use href="#a128"/><use href="#b128"/><use href="#f128"/><use href="#d131"/><use href="#d135"/><use href="#d138"/><use href="#d143"/><use href="#b144"/><use href="#d144"/><use href="#d145"/><use href="#a146"/><use href="#b146"/><use href="#f146"/><use href="#d150"/><use href="#d151"/><use href="#d154"/><use href="#d155"/><use href="#d156"/><use href="#d157"/><use href="#d158"/><use href="#a165"/><use href="#b165"/><use href="#f165"/><use href="#d168"/><use href="#d169"/><use href="#d170"/><use href="#d172"/><use href="#d174"/><use href="#d177"/><use href="#d178"/><use href="#d179"/><use href="#d180"/><use href="#d181"/><use href="#d182"/><use href="#d183"/><use href="#d184"/><use href="#d185"/><use href="#d186"/><use href="#d187"/><use href="#d192"/><use href="#d193"/><use href="#d194"/><use href="#d195"/><use href="#d196"/><use href="#d197"/><use href="#d198"/><use href="#d204"/><use href="#d205"/><use href="#d206"/><use href="#d208"/><use href="#d209"/><use href="#d210"/><use href="#d213"/><use href="#d237"/><use href="#d238"/><use href="#d239"/><use href="#d240"/><use href="#d241"/><use href="#d242"/></g><g stroke="#0e092b"><use href="#c0"/><use href="#e0"/><use href="#a8"/><use href="#c8"/><use href="#f8"/><use href="#a10"/><use href="#b10"/><use href="#f10"/><use href="#a13"/><use href="#c13"/><use href="#f13"/><use href="#a25"/><use href="#c25"/><use href="#e26"/><use href="#d31"/><use href="#a41"/><use href="#c41"/><use href="#f41"/><use href="#c51"/><use href="#e51"/><use href="#a52"/><use href="#f52"/><use href="#b67"/><use href="#c70"/><use href="#e70"/><use href="#d78"/><use href="#a106"/><use href="#b106"/><use href="#f106"/><use href="#d121"/><use href="#d124"/><use href="#c128"/><use href="#e128"/><use href="#d141"/><use href="#a144"/><use href="#c144"/><use href="#f144"/><use href="#c146"/><use href="#e146"/><use href="#c165"/><use href="#e165"/><use href="#d171"/><use href="#b204"/><use href="#f204"/><use href="#a237"/><use href="#b237"/><use href="#f237"/><use href="#a238"/><use href="#b238"/><use href="#f238"/><use href="#a239"/><use href="#b239"/><use href="#f239"/><use href="#a240"/><use href="#b240"/><use href="#f240"/><use href="#a241"/><use href="#b241"/><use href="#f241"/><use href="#a242"/><use href="#b242"/><use href="#f242"/><use href="#d250"/></g><g stroke="#160b39"><use href="#d4"/><use href="#e8"/><use href="#c10"/><use href="#e10"/><use href="#e13"/><use href="#d14"/><use href="#e25"/><use href="#b31"/><use href="#d38"/><use href="#d39"/><use href="#e41"/><use href="#c52"/><use href="#e52"/><use href="#d53"/><use href="#a67"/><use href="#f67"/><use href="#c106"/><use href="#e106"/><use href="#b121"/><use href="#d123"/><use href="#b124"/><use href="#d140"/><use href="#a141"/><use href="#b141"/><use href="#f141"/><use href="#e144"/><use href="#d148"/><use href="#d149"/><use href="#c204"/><use href="#f236"/><use href="#c237"/><use href="#e237"/><use href="#c238"/><use href="#e238"/><use href="#c239"/><use href="#e239"/><use href="#c240"/><use href="#e240"/><use href="#c241"/><use href="#e241"/><use href="#c242"/><use href="#e242"/></g><g stroke="#210c4a"><use href="#d9"/><use href="#b14"/><use href="#a31"/><use href="#f31"/><use href="#d42"/><use href="#c67"/><use href="#e67"/><use href="#d72"/><use href="#d77"/><use href="#d83"/><use href="#d94"/><use href="#d100"/><use href="#a121"/><use href="#f121"/><use href="#b123"/><use href="#a124"/><use href="#f124"/><use href="#b140"/><use href="#f140"/><use href="#c141"/><use href="#b149"/><use href="#d164"/><use href="#d200"/><use href="#b245"/></g><g stroke="#2b0b57"><use href="#b4"/><use href="#d5"/><use href="#b9"/><use href="#f14"/><use href="#d18"/><use href="#d23"/><use href="#c31"/><use href="#d43"/><use href="#b53"/><use href="#f53"/><use href="#d54"/><use href="#d57"/><use href="#d62"/><use href="#d63"/><use href="#d65"/><use href="#d68"/><use href="#d74"/><use href="#d92"/><use href="#d95"/><use href="#d104"/><use href="#d115"/><use href="#c121"/><use href="#a123"/><use href="#f123"/><use href="#c124"/><use href="#d125"/><use href="#d133"/><use href="#d136"/><use href="#d139"/><use href="#a140"/><use href="#e141"/><use href="#a149"/><use href="#f149"/><use href="#d159"/><use href="#d160"/><use href="#d161"/><use href="#d162"/><use href="#d173"/><use href="#d175"/><use href="#d249"/></g><g stroke="#360961"><use href="#a4"/><use href="#f4"/><use href="#f9"/><use href="#a14"/><use href="#e31"/><use href="#b42"/><use href="#a53"/><use href="#b72"/><use href="#b74"/><use href="#b77"/><use href="#b83"/><use href="#b94"/><use href="#b95"/><use href="#b100"/><use href="#d107"/><use href="#e121"/><use href="#c123"/><use href="#e124"/><use href="#b125"/><use href="#b136"/><use href="#c140"/><use href="#c149"/><use href="#b164"/><use href="#f164"/><use href="#b175"/><use href="#b200"/><use href="#f200"/><use href="#a245"/></g><g stroke="#420a68"><use href="#b5"/><use href="#a9"/><use href="#c14"/><use href="#b18"/><use href="#b23"/><use href="#f42"/><use href="#c53"/><use href="#b54"/><use href="#b57"/><use href="#b63"/><use href="#b65"/><use href="#b68"/><use href="#a72"/><use href="#f72"/><use href="#f74"/><use href="#d75"/><use href="#f77"/><use href="#f83"/><use href="#b92"/><use href="#f94"/><use href="#f95"/><use href="#f100"/><use href="#b115"/><use href="#f115"/><use href="#e123"/><use href="#f125"/><use href="#b133"/><use href="#f136"/><use href="#b139"/><use href="#e140"/><use href="#e149"/><use href="#b159"/><use href="#b160"/><use href="#b161"/><use href="#b162"/><use href="#a164"/><use href="#b173"/><use href="#f175"/><use href="#a200"/><use href="#b246"/><use href="#b248"/><use href="#b249"/><use href="#b251"/></g><g stroke="#4c0c6b"><use href="#d0"/><use href="#c4"/><use href="#f5"/><use href="#c9"/><use href="#e14"/><use href="#f18"/><use href="#f23"/><use href="#d25"/><use href="#d26"/><use href="#a42"/><use href="#d51"/><use href="#e53"/><use href="#f54"/><use href="#f57"/><use href="#f63"/><use href="#f65"/><use href="#f68"/><use href="#d70"/><use href="#a74"/><use href="#a77"/><use href="#a83"/><use href="#f92"/><use href="#a94"/><use href="#a95"/><use href="#a100"/><use href="#a115"/><use href="#a125"/><use href="#d128"/><use href="#f133"/><use href="#a136"/><use href="#f139"/><use href="#d146"/><use href="#f159"/><use href="#f160"/><use href="#f161"/><use href="#a162"/><use href="#f162"/><use href="#c164"/><use href="#d165"/><use href="#f173"/><use href="#a175"/><use href="#d244"/></g><g stroke="#57106e"><use href="#e4"/><use href="#a5"/><use href="#e9"/><use href="#a18"/><use href="#a23"/><use href="#c42"/><use href="#a54"/><use href="#a57"/><use href="#a63"/><use href="#a65"/><use href="#a68"/><use href="#c72"/><use href="#b75"/><use href="#c77"/><use href="#c83"/><use href="#a92"/><use href="#c94"/><use href="#c100"/><use href="#a133"/><use href="#a139"/><use href="#a159"/><use href="#a160"/><use href="#a161"/><use href="#a173"/><use href="#c200"/><use href="#a249"/><use href="#a251"/></g><g stroke="#61136e"><use href="#c5"/><use href="#c18"/><use href="#c23"/><use href="#c54"/><use href="#c57"/><use href="#c63"/><use href="#c65"/><use href="#c68"/><use href="#e72"/><use href="#c74"/><use href="#f75"/><use href="#e83"/><use href="#c92"/><use href="#e94"/><use href="#c95"/><use href="#c115"/><use href="#c125"/><use href="#c133"/><use href="#c136"/><use href="#c139"/><use href="#c159"/><use href="#c160"/><use href="#c161"/><use href="#c162"/><use href="#e164"/><use href="#c173"/><use href="#c175"/><use href="#e200"/></g><g stroke="#6a176e"><use href="#e5"/><use href="#e18"/><use href="#e23"/><use href="#e42"/><use href="#e54"/><use href="#e57"/><use href="#e63"/><use href="#e65"/><use href="#e68"/><use href="#e74"/><use href="#e77"/><use href="#e92"/><use href="#e95"/><use href="#e100"/><use href="#e115"/><use href="#e125"/><use href="#e133"/><use href="#e136"/><use href="#e139"/><use href="#e159"/><use href="#e160"/><use href="#e161"/><use href="#e162"/><use href="#e173"/><use href="#e175"/></g><g stroke="#751b6e"><use href="#a75"/></g><g stroke="#7f1e6c"><use href="#c75"/></g><g stroke="#932667"><use href="#e75"/></g></g>
<g transform="translate(1239.6,468.9) scale(.5)" stroke-width="2.5"><use href="#all" stroke="#000004"/><g stroke="#07051b"><use href="#d4"/><use href="#d6"/><use href="#d28"/><use href="#d32"/><use href="#d33"/><use href="#b40"/><use href="#f40"/><use href="#c42"/><use href="#e42"/><use href="#b50"/><use href="#f50"/><use href="#a55"/><use href="#b55"/><use href="#f55"/><use href="#b69"/><use href="#f69"/><use href="#a77"/><use href="#c77"/><use href="#e77"/><use href="#b79"/><use href="#f79"/><use href="#a83"/><use href="#b83"/><use href="#c83"/><use href="#f83"/><use href="#a88"/><use href="#b88"/><use href="#c88"/><use href="#f88"/><use href="#c91"/><use href="#e91"/><use href="#a94"/><use href="#c94"/><use href="#e94"/><use href="#a95"/><use href="#c95"/><use href="#e95"/><use href="#e96"/><use href="#b99"/><use href="#d99"/><use href="#a100"/><use href="#c100"/><use href="#e100"/><use href="#a104"/><use href="#b104"/><use href="#c104"/><use href="#f104"/><use href="#e107"/><use href="#b114"/><use href="#d114"/><use href="#b119"/><use href="#d119"/><use href="#a125"/><use href="#c125"/><use href="#e125"/><use href="#d128"/><use href="#d135"/><use href="#a136"/><use href="#c136"/><use href="#e136"/><use href="#c148"/><use href="#e148"/><use href="#a149"/><use href="#c149"/><use href="#e149"/><use href="#f149"/><use href="#a154"/><use href="#c154"/><use href="#e154"/><use href="#d156"/><use href="#b157"/><use href="#f157"/><use href="#a175"/><use href="#c175"/><use href="#e175"/><use href="#c179"/><use href="#e179"/><use href="#c180"/><use href="#e180"/><use href="#c181"/><use href="#e181"/><use href="#c182"/><use href="#e182"/><use href="#c183"/><use href="#e183"/><use href="#c184"/><use href="#e184"/><use href="#c185"/><use href="#e185"/><use href="#c186"/><use href="#e186"/><use href="#c187"/><use href="#e187"/><use href="#d204"/><use href="#b205"/><use href="#f205"/><use href="#d240"/><use href="#d242"/></g><g stroke="#0e092b"><use href="#d2"/><use href="#d3"/><use href="#b4"/><use href="#b6"/><use href="#d7"/><use href="#d12"/><use href="#d15"/><use href="#d19"/><use href="#d20"/><use href="#d21"/><use href="#d22"/><use href="#d27"/><use href="#b28"/><use href="#d29"/><use href="#d30"/><use href="#a32"/><use href="#b32"/><use href="#f32"/><use href="#b33"/><use href="#d36"/><use href="#d37"/><use href="#a40"/><use href="#c40"/><use href="#d45"/><use href="#a50"/><use href="#c50"/><use href="#c55"/><use href="#e55"/><use href="#d58"/><use href="#d60"/><use href="#d61"/><use href="#d67"/><use href="#a69"/><use href="#c69"/><use href="#d71"/><use href="#d76"/><use href="#a79"/><use href="#c79"/><use href="#e79"/><use href="#d80"/><use href="#d82"/><use href="#e83"/><use href="#d85"/><use href="#d87"/><use href="#e88"/><use href="#d89"/><use href="#d90"/><use href="#d97"/><use href="#a99"/><use href="#c99"/><use href="#f99"/><use href="#d101"/><use href="#e104"/><use href="#d105"/><use href="#d109"/><use href="#d111"/><use href="#d113"/><use href="#a114"/><use href="#c114"/><use href="#f114"/><use href="#d117"/><use href="#d118"/><use href="#a119"/><use href="#c119"/><use href="#f119"/><use href="#d120"/><use href="#d122"/><use href="#d127"/><use href="#a128"/><use href="#b128"/><use href="#f128"/><use href="#d129"/><use href="#d130"/><use href="#d132"/><use href="#d134"/><use href="#a135"/><use href="#b135"/><use href="#f135"/><use href="#d137"/><use href="#d142"/><use href="#d147"/><use href="#d152"/><use href="#d153"/><use href="#b156"/><use href="#f156"/><use href="#a157"/><use href="#c157"/><use href="#e157"/><use href="#d163"/><use href="#d166"/><use href="#d167"/><use href="#d168"/><use href="#d172"/><use href="#d176"/><use href="#a199"/><use href="#b204"/><use href="#a205"/><use href="#c205"/><use href="#d237"/><use href="#d238"/><use href="#a240"/><use href="#b240"/><use href="#f240"/><use href="#a242"/><use href="#b242"/><use href="#f242"/></g><g stroke="#160b39"><use href="#a4"/><use href="#f4"/><use href="#d5"/><use href="#a6"/><use href="#f6"/><use href="#d9"/><use href="#d14"/><use href="#b15"/><use href="#d23"/><use href="#a28"/><use href="#f28"/><use href="#c32"/><use href="#e32"/><use href="#a33"/><use href="#f33"/><use href="#e40"/><use href="#d43"/><use href="#d44"/><use href="#b45"/><use href="#f45"/><use href="#e50"/><use href="#d53"/><use href="#d54"/><use href="#d57"/><use href="#d64"/><use href="#d65"/><use href="#b67"/><use href="#d68"/><use href="#e69"/><use href="#d72"/><use href="#d74"/><use href="#d75"/><use href="#b85"/><use href="#d86"/><use href="#d92"/><use href="#d93"/><use href="#d98"/><use href="#e99"/><use href="#d108"/><use href="#e114"/><use href="#d115"/><use href="#e119"/><use href="#b120"/><use href="#d123"/><use href="#c128"/><use href="#e128"/><use href="#d133"/><use href="#c135"/><use href="#e135"/><use href="#d139"/><use href="#d144"/><use href="#a156"/><use href="#c156"/><use href="#d159"/><use href="#d161"/><use href="#d162"/><use href="#d164"/><use href="#b168"/><use href="#f168"/><use href="#b172"/><use href="#f172"/><use href="#d173"/><use href="#d192"/><use href="#d193"/><use href="#d194"/><use href="#d195"/><use href="#d196"/><use href="#d197"/><use href="#d198"/><use href="#d200"/><use href="#f204"/><use href="#e205"/><use href="#d206"/><use href="#d208"/><use href="#d209"/><use href="#d210"/><use href="#d211"/><use href="#d212"/><use href="#d213"/><use href="#d214"/><use href="#d215"/><use href="#d216"/><use href="#d217"/><use href="#d218"/><use href="#d219"/><use href="#d220"/><use href="#d221"/><use href="#d222"/><use href="#d223"/><use href="#d224"/><use href="#d225"/><use href="#d226"/><use href="#d227"/><use href="#d228"/><use href="#d229"/><use href="#d230"/><use href="#d231"/><use href="#d232"/><use href="#d233"/><use href="#d234"/><use href="#d235"/><use href="#b237"/><use href="#f237"/><use href="#b238"/><use href="#c240"/><use href="#e240"/><use href="#c242"/><use href="#e242"/><use href="#d249"/><use href="#d250"/></g><g stroke="#210c4a"><use href="#c4"/><use href="#e4"/><use href="#c6"/><use href="#e6"/><use href="#d8"/><use href="#d13"/><use href="#a15"/><use href="#f15"/><use href="#c28"/><use href="#e28"/><use href="#c33"/><use href="#e33"/><use href="#d34"/><use href="#d38"/><use href="#b44"/><use href="#f44"/><use href="#a45"/><use href="#c45"/><use href="#d63"/><use href="#a67"/><use href="#f67"/><use href="#b75"/><use href="#f75"/><use href="#a85"/><use href="#f85"/><use href="#b86"/><use href="#b93"/><use href="#b98"/><use href="#a120"/><use href="#f120"/><use href="#d121"/><use href="#d124"/><use href="#d138"/><use href="#d140"/><use href="#d141"/><use href="#e156"/><use href="#d158"/><use href="#d165"/><use href="#a168"/><use href="#c168"/><use href="#a172"/><use href="#c172"/><use href="#c204"/><use href="#f236"/><use href="#a237"/><use href="#a238"/><use href="#f238"/><use href="#d241"/></g><g stroke="#2b0b57"><use href="#d0"/><use href="#d1"/><use href="#d10"/><use href="#d11"/><use href="#c15"/><use href="#d17"/><use href="#d25"/><use href="#d26"/><use href="#d31"/><use href="#b34"/><use href="#b38"/><use href="#d39"/><use href="#d41"/><use href="#d42"/><use href="#a44"/><use href="#e45"/><use href="#d48"/><use href="#d49"/><use href="#d51"/><use href="#d52"/><use href="#d62"/><use href="#b64"/><use href="#d66"/><use href="#c67"/><use href="#d70"/><use href="#a75"/><use href="#d78"/><use href="#d84"/><use href="#c85"/><use href="#a86"/><use href="#f86"/><use href="#f93"/><use href="#a98"/><use href="#f98"/><use href="#d102"/><use href="#d103"/><use href="#d106"/><use href="#d107"/><use href="#d110"/><use href="#d112"/><use href="#d116"/><use href="#c120"/><use href="#b124"/><use href="#d126"/><use href="#d131"/><use href="#b138"/><use href="#b141"/><use href="#d143"/><use href="#b144"/><use href="#f144"/><use href="#d146"/><use href="#d150"/><use href="#b158"/><use href="#d160"/><use href="#e168"/><use href="#d169"/><use href="#d171"/><use href="#e172"/><use href="#d174"/><use href="#d178"/><use href="#d179"/><use href="#d180"/><use href="#d181"/><use href="#d182"/><use href="#d183"/><use href="#d184"/><use href="#d185"/><use href="#d186"/><use href="#d187"/><use href="#b200"/><use href="#f200"/><use href="#c237"/><use href="#e237"/><use href="#c238"/><use href="#d239"/></g><g stroke="#360961"><use href="#b13"/><use href="#e15"/><use href="#d16"/><use href="#d24"/><use href="#b31"/><use href="#f34"/><use href="#d35"/><use href="#f38"/><use href="#c44"/><use href="#d46"/><use href="#d47"/><use href="#d56"/><use href="#d59"/><use href="#a64"/><use href="#f64"/><use href="#e67"/><use href="#d73"/><use href="#c75"/><use href="#d77"/><use href="#d81"/><use href="#e85"/><use href="#c86"/><use href="#d91"/><use href="#a93"/><use href="#d94"/><use href="#d95"/><use href="#c98"/><use href="#d100"/><use href="#e120"/><use href="#b121"/><use href="#f124"/><use href="#d125"/><use href="#d136"/><use href="#f138"/><use href="#b140"/><use href="#f141"/><use href="#a144"/><use href="#d145"/><use href="#d148"/><use href="#d151"/><use href="#d154"/><use href="#d155"/><use href="#f158"/><use href="#b165"/><use href="#d170"/><use href="#d175"/><use href="#d177"/><use href="#a200"/><use href="#e238"/><use href="#b239"/><use href="#b241"/></g><g stroke="#420a68"><use href="#b0"/><use href="#b1"/><use href="#b10"/><use href="#f10"/><use href="#b11"/><use href="#a13"/><use href="#f13"/><use href="#b17"/><use href="#d18"/><use href="#b25"/><use href="#b26"/><use href="#f31"/><use href="#a34"/><use href="#a38"/><use href="#b39"/><use href="#b41"/><use href="#e44"/><use href="#b48"/><use href="#b49"/><use href="#b51"/><use href="#b52"/><use href="#b66"/><use href="#b70"/><use href="#e75"/><use href="#b78"/><use href="#b84"/><use href="#e86"/><use href="#c93"/><use href="#e98"/><use href="#b102"/><use href="#b103"/><use href="#b106"/><use href="#b110"/><use href="#b112"/><use href="#b116"/><use href="#f121"/><use href="#a124"/><use href="#b126"/><use href="#b131"/><use href="#a138"/><use href="#a140"/><use href="#f140"/><use href="#a141"/><use href="#b143"/><use href="#c144"/><use href="#b146"/><use href="#d149"/><use href="#a158"/><use href="#f165"/><use href="#b169"/><use href="#b171"/><use href="#b174"/><use href="#c200"/><use href="#f239"/><use href="#f241"/></g><g stroke="#4c0c6b"><use href="#f0"/><use href="#a10"/><use href="#f11"/><use href="#f17"/><use href="#b24"/><use href="#f25"/><use href="#f26"/><use href="#a31"/><use href="#c34"/><use href="#c38"/><use href="#f39"/><use href="#d40"/><use href="#f41"/><use href="#b47"/><use href="#f48"/><use href="#f49"/><use href="#d50"/><use href="#f51"/><use href="#f52"/><use href="#d55"/><use href="#b62"/><use href="#c64"/><use href="#f66"/><use href="#d69"/><use href="#f70"/><use href="#f78"/><use href="#d79"/><use href="#d83"/><use href="#f84"/><use href="#d88"/><use href="#e93"/><use href="#f102"/><use href="#f103"/><use href="#d104"/><use href="#f106"/><use href="#f110"/><use href="#f112"/><use href="#f116"/><use href="#a121"/><use href="#c124"/><use href="#f126"/><use href="#f131"/><use href="#c138"/><use href="#c141"/><use href="#f143"/><use href="#e144"/><use href="#f146"/><use href="#b150"/><use href="#b151"/><use href="#d157"/><use href="#c158"/><use href="#b160"/><use href="#a165"/><use href="#f169"/><use href="#f171"/><use href="#f174"/><use href="#b177"/><use href="#e200"/><use href="#d205"/><use href="#a239"/><use href="#a241"/><use href="#d244"/></g><g stroke="#57106e"><use href="#a0"/><use href="#f1"/><use href="#a11"/><use href="#c13"/><use href="#b16"/><use href="#a17"/><use href="#b18"/><use href="#f24"/><use href="#a25"/><use href="#a26"/><use href="#e34"/><use href="#b35"/><use href="#e38"/><use href="#a39"/><use href="#a41"/><use href="#b46"/><use href="#a48"/><use href="#a49"/><use href="#a51"/><use href="#a52"/><use href="#b56"/><use href="#b59"/><use href="#f62"/><use href="#e64"/><use href="#a66"/><use href="#a70"/><use href="#b73"/><use href="#a78"/><use href="#b81"/><use href="#a84"/><use href="#a102"/><use href="#a103"/><use href="#a106"/><use href="#a110"/><use href="#a112"/><use href="#a116"/><use href="#c121"/><use href="#e124"/><use href="#a126"/><use href="#a131"/><use href="#e138"/><use href="#c140"/><use href="#e141"/><use href="#a143"/><use href="#b145"/><use href="#a146"/><use href="#f150"/><use href="#f151"/><use href="#b155"/><use href="#e158"/><use href="#f160"/><use href="#c165"/><use href="#a169"/><use href="#b170"/><use href="#a171"/><use href="#a174"/><use href="#c241"/></g><g stroke="#61136e"><use href="#a1"/><use href="#c10"/><use href="#e13"/><use href="#f16"/><use href="#a24"/><use href="#c25"/><use href="#c31"/><use href="#f35"/><use href="#f46"/><use href="#f47"/><use href="#c49"/><use href="#c52"/><use href="#f56"/><use href="#f59"/><use href="#a62"/><use href="#c70"/><use href="#f73"/><use href="#c78"/><use href="#f81"/><use href="#c102"/><use href="#c106"/><use href="#c112"/><use href="#e140"/><use href="#f145"/><use href="#a150"/><use href="#a151"/><use href="#f155"/><use href="#a160"/><use href="#e165"/><use href="#f170"/><use href="#f177"/><use href="#f207"/><use href="#c239"/><use href="#e241"/></g><g stroke="#6a176e"><use href="#c0"/><use href="#c1"/><use href="#e10"/><use href="#c11"/><use href="#a16"/><use href="#c17"/><use href="#f18"/><use href="#e25"/><use href="#c26"/><use href="#e31"/><use href="#a35"/><use href="#c39"/><use href="#c41"/><use href="#a46"/><use href="#a47"/><use href="#c48"/><use href="#c51"/><use href="#a56"/><use href="#a59"/><use href="#c62"/><use href="#c66"/><use href="#a73"/><use href="#a81"/><use href="#c84"/><use href="#c103"/><use href="#c110"/><use href="#c116"/><use href="#e121"/><use href="#c126"/><use href="#c131"/><use href="#c143"/><use href="#a145"/><use href="#c146"/><use href="#c150"/><use href="#a155"/><use href="#c160"/><use href="#c169"/><use href="#a170"/><use href="#c171"/><use href="#c174"/><use href="#a177"/><use href="#e239"/></g><g stroke="#751b6e"><use href="#e0"/><use href="#a18"/><use href="#c24"/><use href="#e39"/><use href="#e41"/><use href="#e49"/><use href="#e51"/><use href="#e52"/><use href="#e66"/><use href="#e70"/><use href="#e78"/><use href="#e102"/><use href="#e103"/><use href="#e106"/><use href="#e112"/><use href="#e131"/><use href="#c151"/></g><g stroke="#7f1e6c"><use href="#e1"/><use href="#e11"/><use href="#c16"/><use href="#e17"/><use href="#e24"/><use href="#e26"/><use href="#c35"/><use href="#c46"/><use href="#c47"/><use href="#e48"/><use href="#c56"/><use href="#c59"/><use href="#e62"/><use href="#c73"/><use href="#c81"/><use href="#e84"/><use href="#e110"/><use href="#e116"/><use href="#e126"/><use href="#e143"/><use href="#c145"/><use href="#e146"/><use href="#e150"/><use href="#e151"/><use href="#c155"/><use href="#e160"/><use href="#e169"/><use href="#c170"/><use href="#e171"/><use href="#e174"/><use href="#c177"/><use href="#e201"/></g><g stroke="#8a226a"><use href="#c18"/><use href="#e47"/><use href="#e177"/></g><g stroke="#932667"><use href="#e16"/><use href="#e35"/><use href="#e46"/><use href="#e56"/><use href="#e59"/><use href="#e73"/><use href="#e81"/><use href="#e145"/><use href="#e155"/><use href="#e170"/></g><g stroke="#9d2964"><use href="#e18"/></g></g>
<g transform="translate(673.5,882.4) scale(.5)" stroke-width="2.5"><use href="#all" stroke="#000004"/><g stroke="#07051b"><use href="#a6"/><use href="#c6"/><use href="#e6"/><use href="#f6"/><use href="#c15"/><use href="#e15"/><use href="#a28"/><use href="#c28"/><use href="#e28"/><use href="#f28"/><use href="#a32"/><use href="#c32"/><use href="#e32"/><use href="#f32"/><use href="#e33"/><use href="#a40"/><use href="#c40"/><use href="#e40"/><use href="#f40"/><use href="#d44"/><use href="#a45"/><use href="#c45"/><use href="#e45"/><use href="#f45"/><use href="#a50"/><use href="#b50"/><use href="#c50"/><use href="#f50"/><use href="#b55"/><use href="#f55"/><use href="#a69"/><use href="#b69"/><use href="#c69"/><use href="#e69"/><use href="#f69"/><use href="#a79"/><use href="#b79"/><use href="#f79"/><use href="#e85"/><use href="#d88"/><use href="#e91"/><use href="#a99"/><use href="#c99"/><use href="#e99"/><use href="#f99"/><use href="#e108"/><use href="#a114"/><use href="#c114"/><use href="#e114"/><use href="#f114"/><use href="#a119"/><use href="#c119"/><use href="#e119"/><use href="#f119"/><use href="#a135"/><use href="#c135"/><use href="#e135"/><use href="#f135"/><use href="#a156"/><use href="#c156"/><use href="#e156"/><use href="#f156"/><use href="#a157"/><use href="#b157"/><use href="#c157"/><use href="#f157"/><use href="#a168"/><use href="#c168"/><use href="#e168"/><use href="#a172"/><use href="#c172"/><use href="#e172"/><use href="#a199"/></g><g stroke="#0e092b"><use href="#e50"/><use href="#a55"/><use href="#c55"/><use href="#e55"/><use href="#c79"/><use href="#e79"/><use href="#e157"/><use href="#d204"/></g><g stroke="#160b39"><use href="#d7"/><use href="#d29"/><use href="#d34"/></g><g stroke="#210c4a"><use href="#b29"/><use href="#b34"/><use href="#d71"/><use href="#d87"/><use href="#d91"/><use href="#d97"/><use href="#d105"/><use href="#d108"/><use href="#d111"/><use href="#d122"/><use href="#d137"/><use href="#d147"/><use href="#d166"/><use href="#d167"/><use href="#d176"/></g><g stroke="#2b0b57"><use href="#d2"/><use href="#b7"/><use href="#d12"/><use href="#d15"/><use href="#d20"/><use href="#d21"/><use href="#d22"/><use href="#d27"/><use href="#f29"/><use href="#d30"/><use href="#d33"/><use href="#f34"/><use href="#d36"/><use href="#d60"/><use href="#d61"/><use href="#d80"/><use href="#d85"/><use href="#d89"/><use href="#d90"/><use href="#d101"/><use href="#d109"/><use href="#d117"/><use href="#d118"/><use href="#d127"/><use href="#d129"/><use href="#d130"/><use href="#d132"/><use href="#d153"/><use href="#d163"/><use href="#b167"/><use href="#a191"/></g><g stroke="#360961"><use href="#b2"/><use href="#d3"/><use href="#a7"/><use href="#f7"/><use href="#d19"/><use href="#b21"/><use href="#a29"/><use href="#a34"/><use href="#d37"/><use href="#d58"/><use href="#b71"/><use href="#d76"/><use href="#b80"/><use href="#d82"/><use href="#b87"/><use href="#b96"/><use href="#b97"/><use href="#b105"/><use href="#b111"/><use href="#d113"/><use href="#b122"/><use href="#d134"/><use href="#b137"/><use href="#d142"/><use href="#b147"/><use href="#d152"/><use href="#b166"/><use href="#f167"/><use href="#d168"/><use href="#d172"/><use href="#b176"/><use href="#c191"/></g><g stroke="#420a68"><use href="#f2"/><use href="#d6"/><use href="#b12"/><use href="#b20"/><use href="#f21"/><use href="#b22"/><use href="#b27"/><use href="#d28"/><use href="#c29"/><use href="#e29"/><use href="#b30"/><use href="#d32"/><use href="#c34"/><use href="#b36"/><use href="#d40"/><use href="#d45"/><use href="#b60"/><use href="#b61"/><use href="#a71"/><use href="#f71"/><use href="#f80"/><use href="#f87"/><use href="#b90"/><use href="#a96"/><use href="#f96"/><use href="#f97"/><use href="#d99"/><use href="#b101"/><use href="#a105"/><use href="#f105"/><use href="#b109"/><use href="#f111"/><use href="#d114"/><use href="#b117"/><use href="#b118"/><use href="#d119"/><use href="#f122"/><use href="#b130"/><use href="#b132"/><use href="#d135"/><use href="#f137"/><use href="#f147"/><use href="#b153"/><use href="#d156"/><use href="#f166"/><use href="#a167"/><use href="#f176"/><use href="#e191"/></g><g stroke="#4c0c6b"><use href="#a2"/><use href="#b3"/><use href="#c7"/><use href="#f12"/><use href="#b19"/><use href="#f20"/><use href="#a21"/><use href="#f22"/><use href="#f30"/><use href="#e34"/><use href="#f36"/><use href="#b37"/><use href="#d50"/><use href="#d55"/><use href="#b58"/><use href="#f60"/><use href="#f61"/><use href="#d69"/><use href="#b76"/><use href="#d79"/><use href="#a80"/><use href="#b82"/><use href="#a87"/><use href="#b89"/><use href="#f90"/><use href="#a97"/><use href="#f101"/><use href="#f109"/><use href="#a111"/><use href="#b113"/><use href="#f117"/><use href="#f118"/><use href="#a122"/><use href="#b127"/><use href="#b129"/><use href="#f130"/><use href="#f132"/><use href="#b134"/><use href="#a137"/><use href="#b142"/><use href="#a147"/><use href="#b152"/><use href="#f153"/><use href="#d157"/><use href="#b163"/><use href="#a166"/><use href="#c167"/><use href="#a176"/></g><g stroke="#57106e"><use href="#f3"/><use href="#e7"/><use href="#a12"/><use href="#f19"/><use href="#a20"/><use href="#a22"/><use href="#f27"/><use href="#a30"/><use href="#a36"/><use href="#f37"/><use href="#f58"/><use href="#a60"/><use href="#a61"/><use href="#c71"/><use href="#f76"/><use href="#f82"/><use href="#c87"/><use href="#f89"/><use href="#a90"/><use href="#c96"/><use href="#c97"/><use href="#a101"/><use href="#c105"/><use href="#a109"/><use href="#f113"/><use href="#a117"/><use href="#a118"/><use href="#f127"/><use href="#f129"/><use href="#a130"/><use href="#f134"/><use href="#c137"/><use href="#f142"/><use href="#c147"/><use href="#f152"/><use href="#a153"/><use href="#f163"/><use href="#c166"/><use href="#e167"/><use href="#c176"/><use href="#a190"/></g><g stroke="#61136e"><use href="#c2"/><use href="#a3"/><use href="#a19"/><use href="#c21"/><use href="#a27"/><use href="#c36"/><use href="#a37"/><use href="#a58"/><use href="#c61"/><use href="#e71"/><use href="#a76"/><use href="#c80"/><use href="#a82"/><use href="#a89"/><use href="#c90"/><use href="#e96"/><use href="#c101"/><use href="#e105"/><use href="#c111"/><use href="#a113"/><use href="#c117"/><use href="#c122"/><use href="#a127"/><use href="#a129"/><use href="#c130"/><use href="#a132"/><use href="#a134"/><use href="#a142"/><use href="#e147"/><use href="#a152"/><use href="#a163"/><use href="#e166"/><use href="#e176"/><use href="#a189"/></g><g stroke="#6a176e"><use href="#e2"/><use href="#c12"/><use href="#c20"/><use href="#e21"/><use href="#c22"/><use href="#c27"/><use href="#c30"/><use href="#c60"/><use href="#e61"/><use href="#e80"/><use href="#e87"/><use href="#c89"/><use href="#e90"/><use href="#e97"/><use href="#c109"/><use href="#e111"/><use href="#c118"/><use href="#e122"/><use href="#c127"/><use href="#c129"/><use href="#c132"/><use href="#e137"/><use href="#c153"/><use href="#c163"/></g><g stroke="#751b6e"><use href="#c3"/><use href="#c19"/><use href="#e22"/><use href="#e30"/><use href="#e36"/><use href="#c37"/><use href="#c58"/><use href="#e60"/><use href="#c76"/><use href="#c82"/><use href="#e101"/><use href="#e109"/><use href="#c113"/><use href="#e117"/><use href="#e118"/><use href="#e130"/><use href="#c134"/><use href="#c142"/><use href="#c152"/><use href="#e153"/><use href="#c188"/><use href="#e190"/></g><g stroke="#7f1e6c"><use href="#e3"/><use href="#e12"/><use href="#e20"/><use href="#e27"/><use href="#e58"/><use href="#e82"/><use href="#e89"/><use href="#e113"/><use href="#e127"/><use href="#e129"/><use href="#e132"/><use href="#e134"/><use href="#e152"/><use href="#e163"/></g><g stroke="#8a226a"><use href="#e19"/><use href="#e37"/><use href="#e76"/><use href="#e142"/></g></g>
<g transform="translate(1239.6,882.4) scale(.5)" stroke-width="2.5"><use href="#all" stroke="#000004"/><g stroke="#07051b"><use href="#d0"/><use href="#d1"/><use href="#d2"/><use href="#d3"/><use href="#d4"/><use href="#d5"/><use href="#d6"/><use href="#d7"/><use href="#d8"/><use href="#d9"/><use href="#d10"/><use href="#d11"/><use href="#d12"/><use href="#d13"/><use href="#d14"/><use href="#d15"/><use href="#d16"/><use href="#d17"/><use href="#d18"/><use href="#d19"/><use href="#d20"/><use href="#d21"/><use href="#d22"/><use href="#d23"/><use href="#d24"/><use href="#d25"/><use href="#d26"/><use href="#d27"/><use href="#d28"/><use href="#d29"/><use href="#d30"/><use href="#d31"/><use href="#d32"/><use href="#d33"/><use href="#d34"/><use href="#d35"/><use href="#d36"/><use href="#d37"/><use href="#d38"/><use href="#d39"/><use href="#d40"/><use href="#d41"/><use href="#d42"/><use href="#d43"/><use href="#d44"/><use href="#d45"/><use href="#d46"/><use href="#d47"/><use href="#d48"/><use href="#d49"/><use href="#d50"/><use href="#d51"/><use href="#d52"/><use href="#d53"/><use href="#d54"/><use href="#d55"/><use href="#d56"/><use href="#d57"/><use href="#d58"/><use href="#d59"/><use href="#d60"/><use href="#d61"/><use href="#d62"/><use href="#d63"/><use href="#d64"/><use href="#d65"/><use href="#d66"/><use href="#d67"/><use href="#d68"/><use href="#d69"/><use href="#d70"/><use href="#d71"/><use href="#d72"/><use href="#d73"/><use href="#d74"/><use href="#d75"/><use href="#d76"/><use href="#d77"/><use href="#d78"/><use href="#d79"/><use href="#d80"/><use href="#d81"/><use href="#d82"/><use href="#d83"/><use href="#d84"/><use href="#d85"/><use href="#d86"/><use href="#d87"/><use href="#d88"/><use href="#d89"/><use href="#d90"/><use href="#d91"/><use href="#d92"/><use href="#d93"/><use href="#d94"/><use href="#d95"/><use href="#d97"/><use href="#d98"/><use href="#d99"/><use href="#d100"/><use href="#d101"/><use href="#d102"/><use href="#d103"/><use href="#d104"/><use href="#d105"/><use href="#d106"/><use href="#d107"/><use href="#d108"/><use href="#d109"/><use href="#d110"/><use href="#d111"/><use href="#d112"/><use href="#d113"/><use href="#d114"/><use href="#d115"/><use href="#d116"/><use href="#d117"/><use href="#d118"/><use href="#d119"/><use href="#d120"/><use href="#d121"/><use href="#d122"/><use href="#d123"/><use href="#d124"/><use href="#d125"/><use href="#d126"/><use href="#d127"/><use href="#d128"/><use href="#d129"/><use href="#d130"/><use href="#d131"/><use href="#d132"/><use href="#d133"/><use href="#d134"/><use href="#d135"/><use href="#d136"/><use href="#d137"/><use href="#d138"/><use href="#d139"/><use href="#d140"/><use href="#d141"/><use href="#d142"/><use href="#d143"/><use href="#d144"/><use href="#d145"/><use href="#d146"/><use href="#d147"/><use href="#d148"/><use href="#d149"/><use href="#d150"/><use href="#d151"/><use href="#d152"/><use href="#d153"/><use href="#d154"/><use href="#d155"/><use href="#d156"/><use href="#d157"/><use href="#d158"/><use href="#d159"/><use href="#d160"/><use href="#d161"/><use href="#d162"/><use href="#d163"/><use href="#d164"/><use href="#d165"/><use href="#d166"/><use href="#d167"/><use href="#d168"/><use href="#d169"/><use href="#d170"/><use href="#d171"/><use href="#d172"/><use href="#d173"/><use href="#d174"/><use href="#d175"/><use href="#d176"/><use href="#d177"/><use href="#d178"/><use href="#d179"/><use href="#d180"/><use href="#d181"/><use href="#d182"/><use href="#d183"/><use href="#d184"/><use href="#d185"/><use href="#d186"/><use href="#d187"/><use href="#d196"/><use href="#d197"/><use href="#d198"/><use href="#b204"/><use href="#f204"/><use href="#d205"/><use href="#d206"/><use href="#d214"/><use href="#d215"/><use href="#d244"/><use href="#d249"/></g><g stroke="#0e092b"><use href="#d192"/><use href="#d193"/><use href="#d195"/><use href="#d200"/><use href="#c204"/><use href="#a214"/><use href="#b214"/><use href="#f214"/><use href="#b215"/><use href="#b230"/><use href="#d230"/><use href="#d233"/></g><g stroke="#160b39"><use href="#b192"/><use href="#f192"/><use href="#b193"/><use href="#b195"/><use href="#f195"/><use href="#b200"/><use href="#d208"/><use href="#d209"/><use href="#d210"/><use href="#c214"/><use href="#e214"/><use href="#a215"/><use href="#f215"/><use href="#d216"/><use href="#d220"/><use href="#d227"/><use href="#a230"/><use href="#f230"/><use href="#d231"/><use href="#b233"/><use href="#b243"/></g><g stroke="#210c4a"><use href="#a192"/><use href="#c192"/><use href="#a193"/><use href="#f193"/><use href="#a195"/><use href="#f200"/><use href="#d212"/><use href="#d213"/><use href="#c215"/><use href="#e215"/><use href="#b216"/><use href="#b220"/><use href="#d224"/><use href="#d225"/><use href="#b227"/><use href="#d228"/><use href="#c230"/><use href="#e230"/><use href="#b231"/><use href="#f231"/><use href="#f233"/><use href="#d237"/><use href="#d238"/><use href="#d239"/><use href="#d240"/><use href="#d241"/><use href="#d242"/><use href="#a243"/></g><g stroke="#2b0b57"><use href="#e192"/><use href="#c193"/><use href="#c195"/><use href="#e195"/><use href="#a200"/><use href="#c200"/><use href="#b208"/><use href="#f208"/><use href="#b209"/><use href="#f209"/><use href="#b210"/><use href="#f210"/><use href="#b212"/><use href="#f216"/><use href="#d217"/><use href="#d219"/><use href="#f220"/><use href="#d221"/><use href="#d222"/><use href="#b225"/><use href="#a227"/><use href="#f227"/><use href="#b228"/><use href="#a231"/><use href="#a233"/><use href="#c233"/><use href="#d234"/><use href="#d235"/><use href="#b237"/><use href="#b238"/><use href="#b239"/><use href="#b240"/><use href="#b241"/><use href="#b242"/></g><g stroke="#360961"><use href="#e193"/><use href="#e200"/><use href="#a208"/><use href="#a209"/><use href="#a210"/><use href="#d211"/><use href="#f212"/><use href="#b213"/><use href="#a216"/><use href="#d218"/><use href="#a220"/><use href="#d223"/><use href="#b224"/><use href="#f225"/><use href="#d226"/><use href="#c227"/><use href="#f228"/><use href="#d229"/><use href="#c231"/><use href="#d232"/><use href="#e233"/><use href="#b235"/><use href="#f237"/><use href="#f238"/><use href="#f239"/><use href="#f240"/><use href="#f241"/><use href="#f242"/><use href="#e243"/><use href="#b247"/></g><g stroke="#420a68"><use href="#d194"/><use href="#c208"/><use href="#c209"/><use href="#c210"/><use href="#a212"/><use href="#f213"/><use href="#c216"/><use href="#b217"/><use href="#c220"/><use href="#b221"/><use href="#f224"/><use href="#a225"/><use href="#e227"/><use href="#a228"/><use href="#e231"/><use href="#b234"/><use href="#f235"/><use href="#a237"/><use href="#a238"/><use href="#a239"/><use href="#a240"/><use href="#a241"/><use href="#a242"/></g><g stroke="#4c0c6b"><use href="#d204"/><use href="#e208"/><use href="#e209"/><use href="#e210"/><use href="#b211"/><use href="#c212"/><use href="#a213"/><use href="#e216"/><use href="#f217"/><use href="#b218"/><use href="#b219"/><use href="#e220"/><use href="#f221"/><use href="#b222"/><use href="#b223"/><use href="#a224"/><use href="#c225"/><use href="#b226"/><use href="#c228"/><use href="#b229"/><use href="#b232"/><use href="#f234"/><use href="#a235"/><use href="#c237"/><use href="#c238"/><use href="#c239"/><use href="#c240"/><use href="#c241"/><use href="#c242"/><use href="#d250"/></g><g stroke="#57106e"><use href="#b194"/><use href="#e212"/><use href="#c213"/><use href="#a217"/><use href="#f218"/><use href="#f219"/><use href="#a221"/><use href="#f222"/><use href="#f223"/><use href="#c224"/><use href="#e228"/><use href="#f229"/><use href="#a234"/><use href="#e237"/><use href="#e238"/><use href="#e239"/><use href="#e240"/><use href="#e241"/><use href="#e242"/></g><g stroke="#61136e"><use href="#f194"/><use href="#f211"/><use href="#c217"/><use href="#a218"/><use href="#a219"/><use href="#a222"/><use href="#a223"/><use href="#e225"/><use href="#f226"/><use href="#a229"/><use href="#f232"/><use href="#c235"/></g><g stroke="#6a176e"><use href="#a211"/><use href="#e213"/><use href="#c219"/><use href="#c221"/><use href="#c222"/><use href="#e224"/><use href="#a226"/><use href="#a232"/><use href="#c234"/><use href="#e235"/></g><g stroke="#751b6e"><use href="#a194"/><use href="#e217"/><use href="#c218"/><use href="#e221"/><use href="#c223"/><use href="#c229"/><use href="#e234"/><use href="#b250"/></g><g stroke="#7f1e6c"><use href="#c194"/><use href="#c211"/><use href="#e219"/><use href="#e222"/><use href="#c226"/><use href="#c232"/><use href="#f250"/></g><g stroke="#8a226a"><use href="#e211"/><use href="#e218"/><use href="#e223"/><use href="#e226"/><use href="#e229"/><use href="#e232"/></g><g stroke="#932667"><use href="#e194"/><use href="#a250"/></g><g stroke="#a82e5f"><use href="#c250"/></g><g stroke="#bc3754"><use href="#e250"/></g></g>
<g transform="translate(673.5,1295.9) scale(.5)" stroke-width="2.5"><use href="#all" stroke="#000004"/><g stroke="#07051b"><use href="#d204"/></g><g stroke="#0e092b"><use href="#b204"/><use href="#f204"/><use href="#d227"/></g><g stroke="#160b39"><use href="#c204"/><use href="#d214"/><use href="#d215"/><use href="#d230"/><use href="#d233"/></g><g stroke="#210c4a"><use href="#d200"/><use href="#b243"/></g><g stroke="#2b0b57"><use href="#a243"/></g><g stroke="#360961"><use href="#d193"/><use href="#d194"/><use href="#d195"/><use href="#b200"/></g><g stroke="#420a68"><use href="#f200"/><use href="#e243"/></g><g stroke="#4c0c6b"><use href="#b193"/><use href="#b194"/><use href="#a200"/></g><g stroke="#57106e"><use href="#f193"/><use href="#f194"/><use href="#b195"/><use href="#c200"/></g><g stroke="#61136e"><use href="#a193"/><use href="#a194"/><use href="#f195"/></g><g stroke="#6a176e"><use href="#d192"/><use href="#a195"/><use href="#e200"/></g><g stroke="#751b6e"><use href="#c193"/><use href="#c194"/></g><g stroke="#7f1e6c"><use href="#c195"/></g><g stroke="#8a226a"><use href="#e193"/><use href="#e194"/></g><g stroke="#932667"><use href="#b192"/><use href="#e195"/></g><g stroke="#a82e5f"><use href="#f192"/></g><g stroke="#bc3754"><use href="#a192"/></g><g stroke="#d54a41"><use href="#c192"/></g><g stroke="#ea632a"><use href="#e192"/></g></g>
<g transform="translate(1239.6,1295.9) scale(.5)" stroke-width="2.5"><use href="#all" stroke="#000004"/><g stroke="#07051b"><use href="#a192"/><use href="#b192"/><use href="#f192"/><use href="#a193"/><use href="#b193"/><use href="#f193"/><use href="#a194"/><use href="#b194"/><use href="#f194"/><use href="#a195"/><use href="#b195"/><use href="#f195"/><use href="#b246"/></g><g stroke="#0e092b"><use href="#c192"/><use href="#e192"/><use href="#c193"/><use href="#e193"/><use href="#c194"/><use href="#e194"/><use href="#c195"/><use href="#e195"/></g><g stroke="#160b39"><use href="#d0"/><use href="#d1"/><use href="#d2"/><use href="#d3"/><use href="#d4"/><use href="#d5"/><use href="#d6"/><use href="#d7"/><use href="#d9"/><use href="#d10"/><use href="#d11"/><use href="#d12"/><use href="#d13"/><use href="#d14"/><use href="#d15"/><use href="#d16"/><use href="#d17"/><use href="#d18"/><use href="#d19"/><use href="#d20"/><use href="#d21"/><use href="#d22"/><use href="#d23"/><use href="#d24"/><use href="#d25"/><use href="#d26"/><use href="#d27"/><use href="#d28"/><use href="#d29"/><use href="#d30"/><use href="#d31"/><use href="#d32"/><use href="#d33"/><use href="#d34"/><use href="#d35"/><use href="#d36"/><use href="#d37"/><use href="#d38"/><use href="#d39"/><use href="#d40"/><use href="#d41"/><use href="#d43"/><use href="#d44"/><use href="#d45"/><use href="#d46"/><use href="#d47"/><use href="#d48"/><use href="#d49"/><use href="#d50"/><use href="#d51"/><use href="#d52"/><use href="#d53"/><use href="#d54"/><use href="#d55"/><use href="#d56"/><use href="#d57"/><use href="#d59"/><use href="#d60"/><use href="#d61"/><use href="#d62"/><use href="#d64"/><use href="#d65"/><use href="#d66"/><use href="#d67"/><use href="#d68"/><use href="#d69"/><use href="#d70"/><use href="#d71"/><use href="#d72"/><use href="#d73"/><use href="#d75"/><use href="#d76"/><use href="#d77"/><use href="#d78"/><use href="#d79"/><use href="#d80"/><use href="#d81"/><use href="#d82"/><use href="#d83"/><use href="#d84"/><use href="#d85"/><use href="#d86"/><use href="#d87"/><use href="#d88"/><use href="#d89"/><use href="#d90"/><use href="#d91"/><use href="#d92"/><use href="#d93"/><use href="#d94"/><use href="#d95"/><use href="#d97"/><use href="#d98"/><use href="#d99"/><use href="#d100"/><use href="#d101"/><use href="#d102"/><use href="#d103"/><use href="#d104"/><use href="#d105"/><use href="#d106"/><use href="#d107"/><use href="#d108"/><use href="#d109"/><use href="#d110"/><use href="#d111"/><use href="#d112"/><use href="#d113"/><use href="#d114"/><use href="#d115"/><use href="#d116"/><use href="#d117"/><use href="#d118"/><use href="#d119"/><use href="#d120"/><use href="#d121"/><use href="#d122"/><use href="#d123"/><use href="#d124"/><use href="#d125"/><use href="#d126"/><use href="#d127"/><use href="#d128"/><use href="#d129"/><use href="#d130"/><use href="#d131"/><use href="#d132"/><use href="#d133"/><use href="#d134"/><use href="#d135"/><use href="#d136"/><use href="#d137"/><use href="#d138"/><use href="#d140"/><use href="#d141"/><use href="#d143"/><use href="#d144"/><use href="#d145"/><use href="#d146"/><use href="#d147"/><use href="#d148"/><use href="#d149"/><use href="#d150"/><use href="#d151"/><use href="#d152"/><use href="#d153"/><use href="#d154"/><use href="#d155"/><use href="#d156"/><use href="#d157"/><use href="#d158"/><use href="#d159"/><use href="#d160"/><use href="#d161"/><use href="#d162"/><use href="#d163"/><use href="#d164"/><use href="#d165"/><use href="#d166"/><use href="#d167"/><use href="#d168"/><use href="#d169"/><use href="#d170"/><use href="#d171"/><use href="#d172"/><use href="#d173"/><use href="#d174"/><use href="#d175"/><use href="#d176"/><use href="#d177"/><use href="#d178"/><use href="#d179"/><use href="#d180"/><use href="#d181"/><use href="#d182"/><use href="#d183"/><use href="#d184"/><use href="#d185"/><use href="#d186"/><use href="#d187"/><use href="#d200"/><use href="#d204"/><use href="#d205"/><use href="#d206"/><use href="#d208"/><use href="#d209"/><use href="#d210"/><use href="#d211"/><use href="#d212"/><use href="#d213"/><use href="#d214"/><use href="#d215"/><use href="#d216"/><use href="#d217"/><use href="#d218"/><use href="#d219"/><use href="#d220"/><use href="#d221"/><use href="#d222"/><use href="#d223"/><use href="#d224"/><use href="#d225"/><use href="#d226"/><use href="#d227"/><use href="#d228"/><use href="#d229"/><use href="#d230"/><use href="#d231"/><use href="#d232"/><use href="#d233"/><use href="#d234"/><use href="#d235"/><use href="#d237"/><use href="#d238"/><use href="#d239"/><use href="#d240"/><use href="#d241"/><use href="#d242"/><use href="#d244"/><use href="#d250"/></g><g stroke="#210c4a"><use href="#d8"/><use href="#d42"/><use href="#d58"/><use href="#d63"/><use href="#d74"/><use href="#d139"/><use href="#d142"/><use href="#d249"/></g><g stroke="#2b0b57"><use href="#b249"/></g><g stroke="#360961"><use href="#b248"/></g><g stroke="#420a68"><use href="#a249"/></g><g stroke="#4c0c6b"><use href="#d192"/><use href="#d193"/><use href="#d194"/><use href="#d195"/><use href="#d197"/></g><g stroke="#61136e"><use href="#d196"/><use href="#b197"/><use href="#d198"/></g><g stroke="#751b6e"><use href="#f197"/></g><g stroke="#7f1e6c"><use href="#a197"/></g><g stroke="#8a226a"><use href="#b196"/><use href="#b198"/></g><g stroke="#932667"><use href="#f198"/></g><g stroke="#9d2964"><use href="#f196"/><use href="#c197"/></g><g stroke="#a82e5f"><use href="#a198"/></g><g stroke="#b1325a"><use href="#a196"/><use href="#e197"/></g><g stroke="#c43c4e"><use href="#c198"/></g><g stroke="#cc4248"><use href="#c196"/></g><g stroke="#dd513a"><use href="#e196"/><use href="#e198"/></g></g>
</g>
<text x="-0.5" y="23.8" font-size="33" font-weight="bold" fill="#1a1a1a">a</text><text x="620.5" y="23.3" font-size="33" font-weight="bold" fill="#1a1a1a">b</text><text x="-0.5" y="634.5" font-size="33" font-weight="bold" fill="#1a1a1a">c</text><text x="-0.5" y="1028.5" font-size="33" font-weight="bold" fill="#1a1a1a">d</text><text x="-0.5" y="1389.5" font-size="33" font-weight="bold" fill="#1a1a1a">e</text><text x="-0.5" y="1742.5" font-size="33" font-weight="bold" fill="#1a1a1a">f</text>
<rect x="58.6" y="37" width="508.3" height="443.8" fill="none" stroke="#000" stroke-width="2.6"/><text x="312.3" y="509.6" font-size="20.3" text-anchor="middle">tSNE1</text><text transform="translate(47.6,261) rotate(-90)" font-size="20.3" text-anchor="middle">tSNE2</text><circle cx="86.2" cy="537.6" r="7.7" fill="#a6a6ad"/><text x="112.7" y="544.6" font-size="20.6">PBS</text><circle cx="253.3" cy="536.3" r="7.7" fill="#f0832a"/><text x="278" y="544.6" font-size="20.6">PD1</text><circle cx="416.2" cy="535.3" r="7.7" fill="#2415e8"/><text x="442.6" y="544.6" font-size="20.6">PD1_TL1A</text>
<g font-family="DejaVu Sans,Liberation Sans,sans-serif" fill="#111"><rect x="673.5" y="55.3" width="443.5" height="357.5" fill="none" stroke="#2a2a2a" stroke-width="1.05"/><text x="894.65" y="47.1" font-size="19.7" text-anchor="middle">PTPRC</text><text x="894.45" y="428.9" font-size="16.35" text-anchor="middle">t-SNE1</text><text transform="translate(664,235.55) rotate(-90)" font-size="16.5" text-anchor="middle">t-SNE2</text><path d="M1144.6 412.8L1144.6 72.1L1153.55 55L1162.5 72.1L1162.5 412.8Z" fill="url(#inf2)" stroke="#000" stroke-width="1"/><path d="M1162.5 412.8h4.6" stroke="#000" stroke-width="1"/><text x="1171.5" y="417.7" font-size="13.33">0</text><path d="M1162.5 344.66h4.6" stroke="#000" stroke-width="1"/><text x="1171.5" y="349.56" font-size="13.33">2</text><path d="M1162.5 276.52h4.6" stroke="#000" stroke-width="1"/><text x="1171.5" y="281.42" font-size="13.33">4</text><path d="M1162.5 208.38h4.6" stroke="#000" stroke-width="1"/><text x="1171.5" y="213.28" font-size="13.33">6</text><path d="M1162.5 140.24h4.6" stroke="#000" stroke-width="1"/><text x="1171.5" y="145.14" font-size="13.33">8</text><path d="M1162.5 72.1h4.6" stroke="#000" stroke-width="1"/><text x="1171.5" y="77" font-size="13.33">10</text><rect x="1239.6" y="55.3" width="443.5" height="357.5" fill="none" stroke="#2a2a2a" stroke-width="1.05"/><text x="1460.75" y="47.1" font-size="19.7" text-anchor="middle">CD3G</text><text x="1460.55" y="428.9" font-size="16.35" text-anchor="middle">t-SNE1</text><text transform="translate(1230.1,235.55) rotate(-90)" font-size="16.5" text-anchor="middle">t-SNE2</text><rect x="1710.7" y="55.3" width="17.9" height="357.5" fill="url(#inf)" stroke="#000" stroke-width="1"/><path d="M1728.6 412.8h4.6" stroke="#000" stroke-width="1"/><text x="1737.6" y="417.7" font-size="13.33">0</text><path d="M1728.6 341.3h4.6" stroke="#000" stroke-width="1"/><text x="1737.6" y="346.2" font-size="13.33">2</text><path d="M1728.6 269.8h4.6" stroke="#000" stroke-width="1"/><text x="1737.6" y="274.7" font-size="13.33">4</text><path d="M1728.6 198.3h4.6" stroke="#000" stroke-width="1"/><text x="1737.6" y="203.2" font-size="13.33">6</text><path d="M1728.6 126.8h4.6" stroke="#000" stroke-width="1"/><text x="1737.6" y="131.7" font-size="13.33">8</text><path d="M1728.6 55.3h4.6" stroke="#000" stroke-width="1"/><text x="1737.6" y="60.2" font-size="13.33">10</text><rect x="673.5" y="468.9" width="443.5" height="357.5" fill="none" stroke="#2a2a2a" stroke-width="1.05"/><text x="894.65" y="460.7" font-size="19.7" text-anchor="middle">CD4</text><text x="894.45" y="842.5" font-size="16.35" text-anchor="middle">t-SNE1</text><text transform="translate(664,649.15) rotate(-90)" font-size="16.5" text-anchor="middle">t-SNE2</text><rect x="1144.6" y="468.9" width="17.9" height="357.5" fill="url(#inf)" stroke="#000" stroke-width="1"/><path d="M1162.5 826.4h4.6" stroke="#000" stroke-width="1"/><text x="1171.5" y="831.3" font-size="13.33">0</text><path d="M1162.5 754.9h4.6" stroke="#000" stroke-width="1"/><text x="1171.5" y="759.8" font-size="13.33">2</text><path d="M1162.5 683.4h4.6" stroke="#000" stroke-width="1"/><text x="1171.5" y="688.3" font-size="13.33">4</text><path d="M1162.5 611.9h4.6" stroke="#000" stroke-width="1"/><text x="1171.5" y="616.8" font-size="13.33">6</text><path d="M1162.5 540.4h4.6" stroke="#000" stroke-width="1"/><text x="1171.5" y="545.3" font-size="13.33">8</text><path d="M1162.5 468.9h4.6" stroke="#000" stroke-width="1"/><text x="1171.5" y="473.8" font-size="13.33">10</text><rect x="1239.6" y="468.9" width="443.5" height="357.5" fill="none" stroke="#2a2a2a" stroke-width="1.05"/><text x="1460.75" y="460.7" font-size="19.7" text-anchor="middle">CD8A</text><text x="1460.55" y="842.5" font-size="16.35" text-anchor="middle">t-SNE1</text><text transform="translate(1230.1,649.15) rotate(-90)" font-size="16.5" text-anchor="middle">t-SNE2</text><rect x="1710.7" y="468.9" width="17.9" height="357.5" fill="url(#inf)" stroke="#000" stroke-width="1"/><path d="M1728.6 826.4h4.6" stroke="#000" stroke-width="1"/><text x="1737.6" y="831.3" font-size="13.33">0</text><path d="M1728.6 754.9h4.6" stroke="#000" stroke-width="1"/><text x="1737.6" y="759.8" font-size="13.33">2</text><path d="M1728.6 683.4h4.6" stroke="#000" stroke-width="1"/><text x="1737.6" y="688.3" font-size="13.33">4</text><path d="M1728.6 611.9h4.6" stroke="#000" stroke-width="1"/><text x="1737.6" y="616.8" font-size="13.33">6</text><path d="M1728.6 540.4h4.6" stroke="#000" stroke-width="1"/><text x="1737.6" y="545.3" font-size="13.33">8</text><path d="M1728.6 468.9h4.6" stroke="#000" stroke-width="1"/><text x="1737.6" y="473.8" font-size="13.33">10</text><rect x="673.5" y="882.4" width="443.5" height="357.5" fill="none" stroke="#2a2a2a" stroke-width="1.05"/><text x="894.65" y="874.2" font-size="19.7" text-anchor="middle">NCR1</text><text x="894.45" y="1256" font-size="16.35" text-anchor="middle">t-SNE1</text><text transform="translate(664,1062.65) rotate(-90)" font-size="16.5" text-anchor="middle">t-SNE2</text><rect x="1144.6" y="882.4" width="17.9" height="357.5" fill="url(#inf)" stroke="#000" stroke-width="1"/><path d="M1162.5 1239.9h4.6" stroke="#000" stroke-width="1"/><text x="1171.5" y="1244.8" font-size="13.33">0</text><path d="M1162.5 1168.4h4.6" stroke="#000" stroke-width="1"/><text x="1171.5" y="1173.3" font-size="13.33">2</text><path d="M1162.5 1096.9h4.6" stroke="#000" stroke-width="1"/><text x="1171.5" y="1101.8" font-size="13.33">4</text><path d="M1162.5 1025.4h4.6" stroke="#000" stroke-width="1"/><text x="1171.5" y="1030.3" font-size="13.33">6</text><path d="M1162.5 953.9h4.6" stroke="#000" stroke-width="1"/><text x="1171.5" y="958.8" font-size="13.33">8</text><path d="M1162.5 882.4h4.6" stroke="#000" stroke-width="1"/><text x="1171.5" y="887.3" font-size="13.33">10</text><rect x="1239.6" y="882.4" width="443.5" height="357.5" fill="none" stroke="#2a2a2a" stroke-width="1.05"/><text x="1460.75" y="874.2" font-size="19.7" text-anchor="middle">CD68</text><text x="1460.55" y="1256" font-size="16.35" text-anchor="middle">t-SNE1</text><text transform="translate(1230.1,1062.65) rotate(-90)" font-size="16.5" text-anchor="middle">t-SNE2</text><rect x="1710.7" y="882.4" width="17.9" height="357.5" fill="url(#inf)" stroke="#000" stroke-width="1"/><path d="M1728.6 1239.9h4.6" stroke="#000" stroke-width="1"/><text x="1737.6" y="1244.8" font-size="13.33">0</text><path d="M1728.6 1168.4h4.6" stroke="#000" stroke-width="1"/><text x="1737.6" y="1173.3" font-size="13.33">2</text><path d="M1728.6 1096.9h4.6" stroke="#000" stroke-width="1"/><text x="1737.6" y="1101.8" font-size="13.33">4</text><path d="M1728.6 1025.4h4.6" stroke="#000" stroke-width="1"/><text x="1737.6" y="1030.3" font-size="13.33">6</text><path d="M1728.6 953.9h4.6" stroke="#000" stroke-width="1"/><text x="1737.6" y="958.8" font-size="13.33">8</text><path d="M1728.6 882.4h4.6" stroke="#000" stroke-width="1"/><text x="1737.6" y="887.3" font-size="13.33">10</text><rect x="673.5" y="1295.9" width="443.5" height="357.5" fill="none" stroke="#2a2a2a" stroke-width="1.05"/><text x="894.65" y="1287.7" font-size="19.7" text-anchor="middle">LCN2</text><text x="894.45" y="1669.5" font-size="16.35" text-anchor="middle">t-SNE1</text><text transform="translate(664,1476.15) rotate(-90)" font-size="16.5" text-anchor="middle">t-SNE2</text><rect x="1144.6" y="1295.9" width="17.9" height="357.5" fill="url(#inf)" stroke="#000" stroke-width="1"/><path d="M1162.5 1653.4h4.6" stroke="#000" stroke-width="1"/><text x="1171.5" y="1658.3" font-size="13.33">0</text><path d="M1162.5 1581.9h4.6" stroke="#000" stroke-width="1"/><text x="1171.5" y="1586.8" font-size="13.33">2</text><path d="M1162.5 1510.4h4.6" stroke="#000" stroke-width="1"/><text x="1171.5" y="1515.3" font-size="13.33">4</text><path d="M1162.5 1438.9h4.6" stroke="#000" stroke-width="1"/><text x="1171.5" y="1443.8" font-size="13.33">6</text><path d="M1162.5 1367.4h4.6" stroke="#000" stroke-width="1"/><text x="1171.5" y="1372.3" font-size="13.33">8</text><path d="M1162.5 1295.9h4.6" stroke="#000" stroke-width="1"/><text x="1171.5" y="1300.8" font-size="13.33">10</text><rect x="1239.6" y="1295.9" width="443.5" height="357.5" fill="none" stroke="#2a2a2a" stroke-width="1.05"/><text x="1460.75" y="1287.7" font-size="19.7" text-anchor="middle">MS4A1</text><text x="1460.55" y="1669.5" font-size="16.35" text-anchor="middle">t-SNE1</text><text transform="translate(1230.1,1476.15) rotate(-90)" font-size="16.5" text-anchor="middle">t-SNE2</text><rect x="1710.7" y="1295.9" width="17.9" height="357.5" fill="url(#inf)" stroke="#000" stroke-width="1"/><path d="M1728.6 1653.4h4.6" stroke="#000" stroke-width="1"/><text x="1737.6" y="1658.3" font-size="13.33">0</text><path d="M1728.6 1581.9h4.6" stroke="#000" stroke-width="1"/><text x="1737.6" y="1586.8" font-size="13.33">2</text><path d="M1728.6 1510.4h4.6" stroke="#000" stroke-width="1"/><text x="1737.6" y="1515.3" font-size="13.33">4</text><path d="M1728.6 1438.9h4.6" stroke="#000" stroke-width="1"/><text x="1737.6" y="1443.8" font-size="13.33">6</text><path d="M1728.6 1367.4h4.6" stroke="#000" stroke-width="1"/><text x="1737.6" y="1372.3" font-size="13.33">8</text><path d="M1728.6 1295.9h4.6" stroke="#000" stroke-width="1"/><text x="1737.6" y="1300.8" font-size="13.33">10</text></g>
<text x="347" y="662.3" font-size="20.3" text-anchor="middle">CD4+ T cells</text><rect x="125" y="737.96" width="28.9" height="161.64" fill="#b1b0b5"/><rect x="169.7" y="712.69" width="28.9" height="186.91" fill="#f0922b"/><rect x="214.5" y="727.70" width="28.9" height="171.90" fill="#2a14fb"/><rect x="289.3" y="807.46" width="28.9" height="92.14" fill="#b1b0b5"/><rect x="334" y="833.26" width="28.9" height="66.34" fill="#f0922b"/><rect x="378.8" y="820.10" width="28.9" height="79.50" fill="#2a14fb"/><rect x="453.6" y="893.81" width="28.9" height="5.79" fill="#b1b0b5"/><rect x="498.4" y="893.02" width="28.9" height="6.58" fill="#f0922b"/><rect x="543.2" y="890.91" width="28.9" height="8.69" fill="#2a14fb"/><path d="M109.4 688.1V899.6H587.6" fill="none" stroke="#000" stroke-width="1.85"/><path d="M109.4 899.60h-9.8" stroke="#000" stroke-width="1.8"/><text x="94" y="905" font-size="20.4" text-anchor="end">0.0</text><path d="M109.4 846.95h-9.8" stroke="#000" stroke-width="1.8"/><text x="94" y="852.35" font-size="20.4" text-anchor="end">0.2</text><path d="M109.4 794.30h-9.8" stroke="#000" stroke-width="1.8"/><text x="94" y="799.7" font-size="20.4" text-anchor="end">0.4</text><path d="M109.4 741.65h-9.8" stroke="#000" stroke-width="1.8"/><text x="94" y="747.05" font-size="20.4" text-anchor="end">0.6</text><path d="M109.4 689.00h-9.8" stroke="#000" stroke-width="1.8"/><text x="94" y="694.4" font-size="20.4" text-anchor="end">0.8</text><path d="M183.8 899.6v10.3" stroke="#000" stroke-width="1.8"/><text x="184.7" y="926.1" font-size="20.4" text-anchor="middle">Treg</text><path d="M348.1 899.6v10.3" stroke="#000" stroke-width="1.8"/><text x="349" y="926.1" font-size="20.4" text-anchor="middle">CD4_2</text><path d="M512.5 899.6v10.3" stroke="#000" stroke-width="1.8"/><text x="513.4" y="926.1" font-size="20.4" text-anchor="middle">CD4_3</text><text transform="translate(53.5,792) rotate(-90)" font-size="20.2" text-anchor="middle">Ratio</text><text x="327.6" y="1048.3" font-size="20.3" text-anchor="middle">NK cells</text><rect x="106.5" y="1130.77" width="28.9" height="154.93" fill="#b1b0b5"/><rect x="151.3" y="1109.72" width="28.9" height="175.98" fill="#f0922b"/><rect x="196.1" y="1122.35" width="28.9" height="163.35" fill="#2a14fb"/><rect x="270.9" y="1126.56" width="28.9" height="159.14" fill="#b1b0b5"/><rect x="315.6" y="1151.82" width="28.9" height="133.88" fill="#f0922b"/><rect x="360.4" y="1147.61" width="28.9" height="138.09" fill="#2a14fb"/><rect x="435.2" y="1185.50" width="28.9" height="100.20" fill="#b1b0b5"/><rect x="480" y="1181.29" width="28.9" height="104.41" fill="#f0922b"/><rect x="524.7" y="1177.08" width="28.9" height="108.62" fill="#2a14fb"/><path d="M91 1074.3V1285.7H568.8" fill="none" stroke="#000" stroke-width="1.85"/><path d="M91 1285.70h-9.8" stroke="#000" stroke-width="1.8"/><text x="75.6" y="1291.1" font-size="20.4" text-anchor="end">0.0</text><path d="M91 1243.60h-9.8" stroke="#000" stroke-width="1.8"/><text x="75.6" y="1249" font-size="20.4" text-anchor="end">0.1</text><path d="M91 1201.50h-9.8" stroke="#000" stroke-width="1.8"/><text x="75.6" y="1206.9" font-size="20.4" text-anchor="end">0.2</text><path d="M91 1159.40h-9.8" stroke="#000" stroke-width="1.8"/><text x="75.6" y="1164.8" font-size="20.4" text-anchor="end">0.3</text><path d="M91 1117.30h-9.8" stroke="#000" stroke-width="1.8"/><text x="75.6" y="1122.7" font-size="20.4" text-anchor="end">0.4</text><path d="M91 1075.20h-9.8" stroke="#000" stroke-width="1.8"/><text x="75.6" y="1080.6" font-size="20.4" text-anchor="end">0.5</text><path d="M165.8 1285.7v10.3" stroke="#000" stroke-width="1.8"/><text x="166.7" y="1313.1" font-size="20.4" text-anchor="middle">0</text><path d="M330 1285.7v10.3" stroke="#000" stroke-width="1.8"/><text x="330.9" y="1313.1" font-size="20.4" text-anchor="middle">1</text><path d="M494.4 1285.7v10.3" stroke="#000" stroke-width="1.8"/><text x="495.3" y="1313.1" font-size="20.4" text-anchor="middle">2</text><text transform="translate(35.5,1178) rotate(-90)" font-size="20.2" text-anchor="middle">Ratio</text><text x="328.6" y="1416.8" font-size="20.3" text-anchor="middle">CD68+ Myeloid</text><rect x="102.9" y="1476.88" width="21" height="176.82" fill="#b1b0b5"/><rect x="136.1" y="1474.78" width="21" height="178.92" fill="#f0922b"/><rect x="169.7" y="1478.99" width="21" height="174.72" fill="#2a14fb"/><rect x="225" y="1486.98" width="21" height="166.72" fill="#b1b0b5"/><rect x="258.6" y="1499.19" width="21" height="154.51" fill="#f0922b"/><rect x="291.8" y="1500.46" width="21" height="153.24" fill="#2a14fb"/><rect x="347.4" y="1624.65" width="21" height="29.05" fill="#b1b0b5"/><rect x="380.6" y="1612.86" width="21" height="40.84" fill="#f0922b"/><rect x="414.2" y="1607.39" width="21" height="46.31" fill="#2a14fb"/><rect x="469.5" y="1610.76" width="21" height="42.94" fill="#b1b0b5"/><rect x="503" y="1611.60" width="21" height="42.10" fill="#f0922b"/><rect x="536.3" y="1612.02" width="21" height="41.68" fill="#2a14fb"/><path d="M91 1442.3V1653.7H568.8" fill="none" stroke="#000" stroke-width="1.85"/><path d="M91 1653.70h-9.8" stroke="#000" stroke-width="1.8"/><text x="75.6" y="1659.1" font-size="20.4" text-anchor="end">0.0</text><path d="M91 1611.60h-9.8" stroke="#000" stroke-width="1.8"/><text x="75.6" y="1617" font-size="20.4" text-anchor="end">0.1</text><path d="M91 1569.50h-9.8" stroke="#000" stroke-width="1.8"/><text x="75.6" y="1574.9" font-size="20.4" text-anchor="end">0.2</text><path d="M91 1527.40h-9.8" stroke="#000" stroke-width="1.8"/><text x="75.6" y="1532.8" font-size="20.4" text-anchor="end">0.3</text><path d="M91 1485.30h-9.8" stroke="#000" stroke-width="1.8"/><text x="75.6" y="1490.7" font-size="20.4" text-anchor="end">0.4</text><path d="M91 1443.20h-9.8" stroke="#000" stroke-width="1.8"/><text x="75.6" y="1448.6" font-size="20.4" text-anchor="end">0.5</text><path d="M146.6 1653.7v10.3" stroke="#000" stroke-width="1.8"/><text x="147.5" y="1680.6" font-size="20.4" text-anchor="middle">0</text><path d="M269 1653.7v10.3" stroke="#000" stroke-width="1.8"/><text x="269.9" y="1680.6" font-size="20.4" text-anchor="middle">1</text><path d="M391.5 1653.7v10.3" stroke="#000" stroke-width="1.8"/><text x="392.4" y="1680.6" font-size="20.4" text-anchor="middle">2</text><path d="M513.9 1653.7v10.3" stroke="#000" stroke-width="1.8"/><text x="514.8" y="1680.6" font-size="20.4" text-anchor="middle">3</text><text transform="translate(35.5,1546) rotate(-90)" font-size="20.2" text-anchor="middle">Ratio</text>
<g font-family="Liberation Sans,Arial,sans-serif"><path d="M121.5 2083l10-19.5l26.5-45.5l18.5-33l15.5-30l8-18.5l6.5-18.5l5.5-18.5l5.5-24l5.5-31.5l2-9.5l1.5-4l3.5-5l2-2l2-1.5l2.5-1l2.5-0.5l2.5 0.5l2 1l3.5 2.5l1.5 2l1.5 2.5l1.5 5l1.5 9l7 70.5l1.5 19.5l0.5 15.5l-0.5 11l-2 18l-1.5 12l-2.5 11.5l-5.5 17l-4 11l-7 15.5l-10.5 20l-8.5 13l-9.5 12l-10.5 10l-10 8.5l-10.5 6.5l-22 10.5l-11 4.5l-8 2l-8 1.5l-2.5-0.5l-2-1l-2-2l-1.5-2l-2.5-6.5l-1-4.5l-1-9.5l0-4.5l0.5-8.5l2-7.5zM236 1899l1 0l1.5 0l2 3l2 5.5l2 8.5l1.5 16l-0.5 23l-4 34.5l-4 19.5l-3 11l-5 15l-6 13l-9 17l-9 13l-8.5 10l-13.5 12.5l-12.5 9l-12 7.5l-13 7.5l-7 2.5l-9.5 2l-4.5 0.5l-3-1l-2.5-2.5l-1-4l0-8l1-8l2-7.5l3-10l8.5-18.5l15.5-29.5l56-96.5l9.5-15.5l11.5-17.5l6.5-8.5zM235 1908.5l1 0l1 1l2 4.5l1 7.5l1.5 12l-0.5 20.5l-3 35l-3.5 20l-3 11l-6 17l-9 19.5l-8.5 13.5l-10.5 14.5l-9 9l-10 8l-9 6.5l-12 7.5l-12.5 6.5l-6.5 2.5l-7.5 1.5l-4.5 0.5l-2.5-0.5l-2-2l-1-4.5l0.5-10.5l1.5-8l3.5-11l3-8l10-21l11-20l51-85l22.5-34l7-10l2.5-2.5zM229.5 1931.5l1 0l0.5 0l1 2.5l1 13l0 22l-1 18.5l-1 10l-3 18l-5 17.5l-5 12.5l-6.5 13.5l-6.5 11l-10 13.5l-8.5 8.5l-9.5 8l-9 6l-10 5.5l-12 6.5l-10 3l-6 1l-3 0l-1-1l-1-2l0-8l1-9l2.5-9.5l3.5-10l4-9.5l10-20.5l6.5-11l10.5-16.5l31-45.5l28-40l4.5-5.5zM221.5 1958l1 0l0.5 1l1 3l1 20l-0.5 14l-2 17l-3.5 17l-2 7l-6.5 17l-6 11.5l-5.5 9.5l-7 8.5l-9 9l-8.5 6.5l-9 5.5l-17 9l-11 3.5l-4 0.5l-2.5-0.5l-1-1l-1-1.5l0-6l1-8l2-10.5l6-17.5l10-20.5l7-11l10.5-15l16.5-21.5l33-40l4-4.5zM213 1982.5l1.5-0.5l1 2l1 3l0 6l0 18l-2.5 17.5l-2.5 11l-4.5 13l-4 9.5l-5 9l-6 9l-5.5 6l-7 6.5l-7 5l-8.5 5l-15 6.5l-9.5 3l-2.5 0.5l-2-0.5l-1.5-2.5l0-5.5l1-11l2-8.5l4.5-14l3.5-8.5l5.5-10l6-10l13-15l19-20.5l19.5-19.5zM206 2002.5l1 0.5l1 1l1 6.5l-1 16.5l-1.5 10l-2.5 12.5l-3 8l-4 9l-4.5 8.5l-4 5.5l-6 6.5l-5.5 5l-6.5 4l-8 4l-11.5 4.5l-8 2l-2 0l-1.5-0.5l-1-1l-0.5-2l0-7l1-9l1.5-8l1.5-6l3.5-9l3.5-8l3.5-5l5.5-8.5l13-13l23-19l9.5-7zM197 2019l2 0l1 0.5l1.5 4l0 9.5l-1.5 12l-1.5 7.5l-2 7.5l-4 8.5l-4 7.5l-4.5 5.5l-4.5 4.5l-4.5 4.5l-5.5 3l-7.5 3.5l-7.5 2.5l-7 1.5l-3.5-0.5l-1-2.5l-0.5-5l0-8l1-8l4-13l3-7l3-5l6-8l9.5-8l12.5-8.5zM191 2031.5l1.5 0l1 0.5l1 3l0.5 7l-1 9l-1 6l-2 7l-3 6.5l-3 5.5l-4 5l-3.5 4l-4 3l-4.5 3l-5.5 2.5l-5.5 1.5l-6.5 1l-3-1l-1.5-2l-1-5l-0.5-6l0.5-6.5l3-11.5l2.5-6l3-4.5l6-7.5l8-5.5l11-5.5zM182 2041l4 0l2 0.5l1 2.5l0.5 4l-0.5 6.5l-1 5.5l-2.5 8l-2.5 6l-3.5 4.5l-3 3.5l-3.5 3.5l-4 2l-4.5 2.5l-5 1l-4.5 0.5l-3-1l-1.5-1.5l-1-4l-0.5-5l-0.5-5l2-10l4-9l5-6l5.5-4.5l8-3zM171 2047l4-0.5l4.5 1l2.5 1l1.5 1.5l1 3l0 5l-1 5l-1.5 5.5l-2 4.5l-3 4l-3 3.5l-3 3l-4 2l-4 1.5l-4 0.5l-3-0.5l-1.5-1l-1-2l-2-6.5l0-7l2-7.5l3-6.5l4.5-5l4-3zM168 2050.5l3 0l3 0.5l3 1.5l2 2l0.5 2l0.5 2.5l-1 7l-3 7.5l-2.5 3.5l-2.5 3l-3 2l-3 1l-3 1l-2.5-0.5l-1.5-0.5l-1.5-1.5l-2-4.5l-1-5l1-6l2-6l3.5-5l3.5-3zM166.5 2053.5l2.5 0l2 0.5l3 3l1.5 4l0 5l-2 5.5l-3.5 5l-4 3l-2 1l-2 0l-3-1.5l-2-3l-1-4l0.5-5l1-4.5l2.5-4.5l3-3zM165.5 2056.5l2.5 0l2.5 2.5l1.5 3l0 4l-1.5 4.5l-2.5 3.5l-2.5 2.5l-2.5 0.5l-2-1l-2-2.5l-0.5-2.5l0-3.5l1-4l1.5-3.5l2-2z" fill="none" stroke="#333" stroke-width="0.85"/><path d="M116.3 2135.5l2.5 -27l8 0l4 27z" fill="#0a0a0a"/><path d="M170 1808.2H388M178 1809.35H375M186 1810.5H360M196 1811.65H348M206 1812.8H330M216 1813.95H300" stroke="#444" stroke-width="0.7" fill="none"/><path d="M284.5 1873h0M318 1872h0M149 1959h0M287.5 1991h0M268 1815h0M126.5 1918.5h0M174.5 1983h0M265.5 1822.5h0M294.5 1861.5h0M269.5 1996h0M286.5 1911h0M168.5 1851h0M194.5 1910.5h0M177 1853.5h0M364.5 1846h0M208 1853h0M378.5 1902h0M131 1962.5h0M278.5 1872.5h0M143.5 1979h0M262 1875h0M329.5 1874.5h0M303.5 1835h0M296.5 1829.5h0M213.5 1834h0M129 1947h0M312.5 1892h0M188 1909h0M192.5 1906.5h0M210 1875h0M164.5 1875h0M205 1817.5h0M179 1872h0M122.5 2067h0M134 1900.5h0M283.5 1860.5h0M136.5 1993h0M300.5 1827.5h0M165.5 1924.5h0M322.5 1834.5h0M200.5 1837.5h0M287 1818.5h0M264.5 1867.5h0M149.5 1992h0M188.5 1857h0M264.5 1948h0M143.5 2029.5h0M196.5 1836.5h0M195 1848h0M267.5 1914h0M159.5 2012h0M181.5 1893h0M208.5 1907h0M156 2008.5h0M186.5 1910h0M267.5 1879h0M259.5 2000.5h0M207 1867.5h0M296.5 1853.5h0M186 1962h0M273 1896.5h0M130.5 1953.5h0M176.5 1970.5h0M195 1864.5h0M268.5 1947h0M166.5 1945h0M179.5 1929.5h0M138 2038.5h0M194 1948h0M175 1912.5h0M286.5 1818h0M256.5 1828.5h0M134 2039h0M320 1856h0M261 1907.5h0M169.5 1963h0M422 1838h0M279 1894.5h0M296 1834h0M289 1988h0M301 1820.5h0M211.5 1858.5h0M320 1880h0M176 1926.5h0M219 1830.5h0M131.5 2001h0M141.5 1988h0M132 1981h0M288.5 1829.5h0M161.5 1990.5h0M215.5 1836h0M175 1909h0M300 1969.5h0M194 1847h0M124 1830h0M149 1956.5h0M204 1892h0M255 2056h0M190 1878h0M143 2003.5h0M175 1831h0M164 1963h0M295.5 1873h0M260.5 1848.5h0M144 1827h0M156.5 1879.5h0M161 1972h0M319.5 1879h0M232.5 1815h0M257.5 1828.5h0M275.5 1910.5h0M188.5 1917h0M117 2065.5h0M137 2040h0M182.5 1867h0M176 1835.5h0M337 1869.5h0M192 1835.5h0M192 1938.5h0M225 1822.5h0M279.5 1942.5h0M293.5 1817.5h0M151 1935.5h0M266.5 1918h0M258 2022h0M205 1844.5h0M278.5 1904.5h0M270.5 1816h0M327.5 1845.5h0M306.5 1875h0M135 2013.5h0M200.5 1906.5h0M224.5 1818.5h0M274.5 1877h0M219 1826h0M262.5 1840h0M201.5 1891.5h0M316.5 1841.5h0M256 1849.5h0M198.5 1916h0M152.5 1827h0M268.5 1881h0M284.5 1958h0M142 1831h0M131.5 2056h0M280.5 1902h0M257.5 1867.5h0M192.5 1841.5h0M215.5 1863h0M267 1833h0M199.5 1859h0M188 1941h0M295.5 1846.5h0M140.5 2024h0M261.5 1976.5h0M140 1893h0M142.5 1954.5h0M231 1816.5h0M266 1861.5h0M158 1958h0M320 1818h0M211.5 1895.5h0M375.5 1853.5h0M250.5 1827.5h0M372 1866h0M298.5 1832h0M206.5 1847h0M332 1861h0M143.5 1885.5h0M262 1854.5h0M284 1875h0M143.5 1867.5h0M187 1901h0M177 1901.5h0M300 1864h0M206.5 1836h0M269 1998.5h0M335.5 1870h0M306 1895.5h0M270 1911h0M145 1985h0M275 1977h0M148.5 2004h0M320 1868.5h0M196 1885h0M149.5 1944.5h0M214 1874h0M154 1907.5h0M316.5 1820.5h0M260.5 1844h0M269.5 1815.5h0M187.5 1885.5h0M197.5 1921h0M292.5 1949.5h0M341 1860h0M294.5 1871.5h0M266.5 1938h0M126.5 2069.5h0M174 1864.5h0M299 1873.5h0M286.5 1897h0M191 1887.5h0M154 1992.5h0M272 1945.5h0M358.5 1831.5h0M196.5 1918h0M145 2012h0" fill="none" stroke="#000" stroke-width="1.4" stroke-linecap="square"/><rect x="114.7" y="1806.6" width="331.5" height="330.2" fill="none" stroke="#505050" stroke-width="1.15"/><text x="115.8" y="2168.4" font-size="20.7" text-anchor="middle">0</text><text x="199.6" y="2168.4" font-size="20.7" text-anchor="middle">1.0M</text><text x="277.8" y="2168.4" font-size="20.7" text-anchor="middle">2.0M</text><text x="356" y="2168.4" font-size="20.7" text-anchor="middle">3.0M</text><text x="434.2" y="2168.4" font-size="20.7" text-anchor="middle">4.0M</text><text x="99.3" y="2144" font-size="20.7" text-anchor="end">0</text><text x="99.3" y="2065.4" font-size="20.7" text-anchor="end">1.0M</text><text x="99.3" y="1986.8" font-size="20.7" text-anchor="end">2.0M</text><text x="99.3" y="1908.2" font-size="20.7" text-anchor="end">3.0M</text><text x="99.3" y="1829.6" font-size="20.7" text-anchor="end">4.0M</text><path d="M115.8 2136.8v9.5M194 2136.8v9.5M272.2 2136.8v9.5M350.4 2136.8v9.5M428.6 2136.8v9.5M114.7 2136h-8.5M114.7 2057.4h-8.5M114.7 1978.8h-8.5M114.7 1900.2h-8.5M114.7 1821.6h-8.5" stroke="#000" stroke-width="2.2" fill="none"/><path d="M135.35 2136.8v3.6M154.9 2136.8v3.6M174.45 2136.8v3.6M213.55 2136.8v3.6M233.1 2136.8v3.6M252.65 2136.8v3.6M291.75 2136.8v3.6M311.3 2136.8v3.6M330.85 2136.8v3.6M369.95 2136.8v3.6M389.5 2136.8v3.6M409.05 2136.8v3.6M114.7 2116.35h-3.6M114.7 2096.7h-3.6M114.7 2077.05h-3.6M114.7 2037.75h-3.6M114.7 2018.1h-3.6M114.7 1998.45h-3.6M114.7 1959.15h-3.6M114.7 1939.5h-3.6M114.7 1919.85h-3.6M114.7 1880.55h-3.6M114.7 1860.9h-3.6M114.7 1841.25h-3.6" stroke="#222" stroke-width="1.1" fill="none"/><text x="278.7" y="2197.5" font-size="20.7" text-anchor="middle">FSC-H</text><text transform="translate(35.8,1975.7) rotate(-90)" font-size="20.7" text-anchor="middle">SSC-H</text><path d="M147 2135.3L144.3 2122.2L146.5 2078.4L152.2 2030.5L167 1996.3L195.7 1941.5L240.4 1881.8L296.2 1870.1L353.4 1906.5L328.5 2051.6L217.6 2134Z" fill="none" stroke="#000" stroke-width="2" stroke-linejoin="round"/><rect x="318" y="1984" width="120" height="42" fill="#fff" opacity=".82"/><text x="377.2" y="2003" font-size="20.7" text-anchor="middle">Lymphocytes</text><text x="364.1" y="2022.3" font-size="20.7" text-anchor="middle">45.8</text><path d="M369.6 1878.8H621.4" stroke="#000" stroke-width="1.7" fill="none"/><path d="M629.4 1878.8l-17.5 -9.6l4.8 9.6l-4.8 9.6z" fill="#000"/><path d="M679.5 1900.5l1.5 0.5l1 3l1.5 4.5l1 7l0.5 11l0 7.5l-1.5 9l-1 7l-4 14l-3.5 9.5l-7.5 17l-10.5 19.5l-13.5 23l-8 13l-12.5 18l-13.5 16l-18 18l-10.5 7.5l-4 1.5l-3-0.5l-1.5-1.5l-1-2l-0.5-3l0.5-3l1.5-8l5-12l18.5-31l13.5-20.5l13-20.5l21.5-36.5l10.5-19.5l19.5-41l3.5-6zM677.5 1915l0.5 0l1 0.5l0.5 4.5l0.5 12.5l-1.5 15l-2.5 11l-4 12.5l-5.5 14l-12 24l-13 23.5l-7 12l-11.5 17.5l-9.5 11.5l-6 7l-17.5 17.5l-9 6.5l-4 1l-3-0.5l-1-1l-1-2l0.5-8l2-7l5-10.5l18-30l14-20.5l13-19.5l23-36.5l11.5-19.5l16.5-32.5zM667 1953l1 0l0.5 1l-1 6.5l-2.5 8.5l-5.5 17l-8.5 20.5l-11.5 24l-11.5 21l-6 9.5l-9 11l-5.5 7l-12.5 12.5l-5.5 5.5l-7.5 5.5l-4.5 2l-2.5-0.5l-1.5-1.5l-0.5-2.5l0.5-6l1-4.5l5-11l9-16l11-17.5l30-40zM649 1990l1 0l0.5 1l-1.5 5l-2.5 8.5l-9.5 24.5l-6 14l-9.5 16.5l-14.5 18.5l-17 17.5l-9 6.5l-4 1.5l-2-0.5l-0.5-1l-0.5-2l0.5-6l1-4.5l2.5-6.5l5.5-10l15-25l9.5-12l36-41zM635.5 2013l1 0l0.5 0l0 3l-6 20l-5.5 13l-5.5 11l-14 17.5l-16 17.5l-4.5 3.5l-4 2.5l-3.5 1l-2 0l-0.5-1l-0.5-1l0-6l0.5-4l2.5-6l6.5-12l14.5-23.5l5-6l5-5.5l20.5-19zM628 2026l1 0l0.5 1.5l-2.5 12l-3.5 10.5l-5 10l-13.5 17l-15.5 17l-3.5 3.5l-4 2l-3 1.5l-2 0l-1-2l-0.5-5.5l1-3.5l2-6l7-12.5l14-22.5l4.5-5l5-4.5zM622 2034l1.5 0l0.5 1.5l-1 7.5l-2.5 10l-3.5 6.5l-13 17l-15 17.5l-3.5 3l-3.5 2l-3 1l-1.5-0.5l-1-2.5l0-4l0.5-3l2-5.5l7.5-13l13.5-21.5l4-5l4.5-3.5l6-3.5zM618.5 2039.5l1.5 0l0.5 1.5l-0.5 6l-1.5 7l-3 5.5l-12.5 16.5l-14.5 17l-5.5 4.5l-3 1l-1.5 0l-1.5-2l0-3.5l0.5-3l2-5l7.5-13.5l13-20.5l3.5-4l4-3l5.5-3zM613.5 2043.5l3.5 0l0.5 0.5l0.5 2l-0.5 6.5l-3 6l-12 16.5l-14.5 17.5l-5 4.5l-2.5 0.5l-1.5 0l-1-1.5l-0.5-2.5l1-4.5l4.5-9l9.5-16l8-12l3.5-4l4-3zM610 2046l4 0l1 1l0.5 1l0 4.5l-2 5.5l-12.5 17l-13.5 17l-4.5 4l-2 0.5l-1.5 0l-1.5-2.5l0.5-4l4.5-8.5l5-9l14.5-21.5l3.5-3zM607.5 2048l3.5 0l1.5 0.5l1 1l0.5 3.5l-1.5 4l-7 10l-17.5 23.5l-4.5 4.5l-2 0.5l-1.5 0l-1-2l0-2.5l5-10l9.5-16l8-11.5l3.5-3.5zM607.5 2049.5l2.5 0l2 1.5l0 3l-1 3l-23.5 32.5l-4 4.5l-1.5 0.5l-1.5 0l-1-1.5l0-2l5-10l9.5-15.5l8-11l3-3.5zM607.5 2051l1.5 0l1.5 1.5l0 2l-1.5 2.5l-22 32l-4 4l-1 0.5l-1 0l-1-2l1-3l9-15l13-19l2.5-2.5zM607 2052.5l1 0l0.5 1l0 1.5l-1 2l-21 30.5l-3 4l-2 0.5l0-1l1-3l8.5-14.5l10.5-15l3.5-4.5z" fill="none" stroke="#333" stroke-width="0.85"/><path d="M687.5 1866h0M610 1935.5h0M652 1921h0M658 1878h0M668 1904h0M668.5 1896.5h0M711 1819h0M585.5 2042.5h0M618 1909.5h0M614.5 1959h0M667 1893.5h0M681.5 1843.5h0M616.5 1990.5h0M694 1822h0M708.5 1821h0M695.5 1814.5h0M645.5 1951.5h0M652 1891.5h0M650.5 1941h0M595.5 1980.5h0M663.5 1826h0M603 2015.5h0M666 1882.5h0M628.5 1951h0M662.5 1911h0M648 1909.5h0M579 2021h0M590.5 2057h0M622.5 1910.5h0M687 1907h0M655 1916h0M599.5 2023.5h0M587 2039.5h0M658 1824h0M706 1829.5h0M739 1821h0M707.5 1830h0M619.5 1951.5h0M655 1889h0M631 1899h0M639.5 1954h0M698.5 1847.5h0M686.5 1860h0M579.5 2054h0M619.5 1943.5h0M681 1871h0M663 1888.5h0M610 1991.5h0M638 1890.5h0M642 1952h0M602 2015h0M730 1884.5h0M644.5 1953.5h0M621 1938h0M626.5 1968.5h0M701.5 1917h0M675 1846.5h0M622.5 1984.5h0M647 1896.5h0M653.5 1932h0M581.5 2033.5h0M695.5 1834.5h0M641.5 1891.5h0M635.5 1931h0M629 1915.5h0M623 1910.5h0M620.5 1947.5h0M634 1920h0M688 1843h0M632.5 1965h0M658.5 1850h0M584 2063h0M621.5 1979.5h0M663.5 1857.5h0M670.5 1891h0M578.5 2031.5h0M644.5 1949.5h0M694 1849.5h0M586 2031h0M592.5 2020h0M614 1981h0M679.5 1980h0M659 1868h0M634 1960h0M659.5 1864h0M604.5 2000.5h0M624.5 1966h0M654.5 1842.5h0M645 1952.5h0M655 1932.5h0M623.5 1944.5h0M590.5 2038.5h0M634 1922h0M582 2050.5h0M601 2022.5h0M662 1860h0M648 1849.5h0M775 1839.5h0M659.5 1853.5h0M621.5 1952h0M600 2006h0M606.5 2008.5h0M616.5 1998h0M708.5 1823.5h0M644.5 1924h0M592.5 2032.5h0M647.5 1896h0M611.5 2079.5h0M673 1898.5h0M585 1989.5h0M670.5 1899.5h0M711 1966h0M582.5 2026.5h0M619 1993h0M624 1993.5h0M708.5 1817.5h0M653.5 1929h0M650.5 1929.5h0M647.5 1940.5h0M633 1973h0M665.5 1884h0M643 1940h0M617 1895h0M679.5 1876.5h0M666 1892h0M602 2017h0M701 1821h0M606 2021h0M657.5 1915h0M709.5 1823h0M734.5 1813.5h0M621 1966h0M635.5 1906.5h0M666.5 1891.5h0M617 2005.5h0M624.5 1948h0M648 1897h0M612.5 2011.5h0M686.5 1865h0M573 2060h0M619.5 1920h0M670.5 1845h0M640.5 1929.5h0M638.5 1938h0M609 1989h0M586.5 2055.5h0M659 1923.5h0M658 1883h0M635 1958h0M704 1826.5h0M731.5 1822h0M609 1998h0M619.5 1974.5h0M670 1883h0M703 1871h0M638.5 1920.5h0M593 1935h0M751 1834.5h0M576.5 2046h0M699 1950h0M619 1984.5h0M704.5 1883h0M616.5 1973.5h0M601.5 2032.5h0M587.5 2014.5h0M619 1977h0M635.5 1956.5h0M668 1834h0M773.5 1829h0M684 1864.5h0M689 1863.5h0M644.5 1940h0M614 1982h0M769.5 1836h0M723.5 1888.5h0M603 2007.5h0M662 1865h0M676.5 1890h0M649 1906.5h0M649.5 1918.5h0M617 1991h0M701 1819.5h0M623.5 1915.5h0M710.5 1824h0M685.5 1848h0M665.5 1857.5h0M600.5 2020h0M589.5 2022.5h0M627 1965.5h0M585.5 2024h0M586.5 2048h0M602.5 2009.5h0M618 1999h0M580 2023.5h0M683.5 1862.5h0M646 1903h0M688 1843h0M623 1973h0M628 1934.5h0M675.5 1893h0M651.5 1836h0M621.5 1960.5h0M714.5 1857.5h0M589.5 2055.5h0M653.5 1923h0M628.5 1913.5h0M593.5 2042h0M653 1910.5h0M791 1844h0M679.5 1883.5h0M620.5 1978h0M666.5 1906h0M758.5 1895h0M682.5 1864.5h0M656.5 1852.5h0M696 1854h0M683.5 1866.5h0M650.5 1936.5h0M614 1964h0M620 1936h0M677 1869h0M624 1921h0M667 1891h0M705 1939h0M671.5 1893h0M628.5 1945h0M584 2053h0M615.5 1937h0M677 1870h0M596.5 2033.5h0M587 2055h0M692.5 1856.5h0M671 1862.5h0M601.5 2018.5h0M605 1990h0M651.5 1902h0M598 2029h0M580.5 2053.5h0M585 1970.5h0M603 2030.5h0M639.5 1869.5h0M699.5 1828h0M666.5 1892.5h0M644 1940.5h0M704 1881h0M717.5 1841.5h0M612.5 1952.5h0M655.5 1916.5h0M650 1921.5h0M579 2060.5h0M736 1853.5h0M680 1832h0M693 1829h0M603 2019.5h0M609.5 2000.5h0M649 1933.5h0M598.5 2021h0M584.5 2065h0M607.5 2022h0M642 1927.5h0M683 1817h0M591.5 2052h0M584.5 2052h0M580.5 2062h0M600 2009h0M661.5 1855.5h0M652 1901.5h0M618.5 1944.5h0M735 1823.5h0M599.5 2038h0M649.5 1904h0M686.5 1837h0M671.5 1810.5h0M650.5 1909h0M578.5 1983h0M602.5 1955h0M591 2031.5h0M583.5 2037h0M616.5 1965.5h0M619 1927h0M663 1877.5h0M691.5 1818h0M655 1823h0M638.5 1886.5h0M755 1835.5h0M604.5 1987.5h0M694.5 1847.5h0M584.5 2039.5h0M632 1844.5h0M707.5 1876.5h0M697 1888.5h0M647.5 1879.5h0M596 2009.5h0M649 1933h0M621.5 1984h0M632 1933h0M672.5 1856h0M683.5 1849.5h0M628.5 1937.5h0M589.5 2040h0M605.5 2015h0M631 1878h0M669.5 1889.5h0M689.5 1855.5h0M617 1955.5h0M664 1907.5h0M619.5 1987.5h0M655 1851.5h0M599 2033.5h0M603 1939.5h0M689.5 1823h0M666 1880h0M631 1918.5h0M621 1921.5h0M579.5 2026.5h0M575.5 2045h0M689.5 1824.5h0M608 2004.5h0M660.5 1907h0M593.5 1999h0M616.5 1894.5h0M609 1987.5h0M657.5 1894.5h0M632 1975.5h0M608.5 2012h0M591.5 2027h0M609.5 1973h0M649.5 1942h0M640 1956h0M642.5 1946.5h0M581.5 2039h0M695.5 1830h0M648.5 1885h0M620.5 1963.5h0M686.5 1981.5h0M702.5 1837.5h0M649 1898h0M581.5 2017.5h0M710 1945h0M661.5 1875.5h0M639.5 1956.5h0M618 1961h0M611 2003.5h0M624.5 1920h0M669 1829h0M590 2056.5h0M647 1914h0M627.5 1900h0M594.5 2018.5h0M591.5 2055h0M638.5 1910h0M622.5 1942h0M688 1869.5h0M634 1897h0M627.5 1959.5h0M671 1902.5h0M616 2002.5h0M662.5 1811h0M698 1944.5h0M604.5 1982h0M692 1826h0M630.5 1964.5h0M608.5 2023h0M612.5 2009.5h0M618.5 1989.5h0M680 1868h0M609.5 1988h0M749.5 1841.5h0M597 2032.5h0M628.5 1949.5h0M680 1877.5h0M688 1842.5h0M623 1965.5h0M576.5 2055h0M590 2010.5h0M600 2037.5h0M643.5 1874.5h0M581.5 2048h0M750 1895.5h0M622 2071h0M688 1923h0M586 2053.5h0M610 1978.5h0M664.5 1907.5h0M658 1841h0M659.5 1917.5h0M631.5 1972.5h0M595.5 2019.5h0M703.5 1823h0M630.5 1963h0M664.5 1870.5h0M577 2040h0M591.5 2023h0M583 2052h0M668 1900.5h0M751.5 1838h0M626 1907h0M586.5 2054h0M695 1852h0M588 2017.5h0M628 1966h0M597.5 1925h0M637.5 1965.5h0M710 1893h0M634.5 1890h0M580 2034.5h0M620 1992h0M617 1957h0M629.5 1919.5h0M641 1940h0M664 1873.5h0M634.5 1939.5h0M640.5 1955.5h0M600 2038.5h0M644.5 1898.5h0M597 2041.5h0M588.5 1979h0M655 1899h0M654.5 1898.5h0M586.5 2063h0M705.5 1821.5h0M598 1974h0M705 1829h0M686 1834.5h0M735 1834.5h0M597.5 2012.5h0M667.5 1906.5h0M585.5 1996h0M672 1879.5h0M681.5 1841h0M625.5 1945.5h0M610.5 1990.5h0M573 2056.5h0M573.5 2051.5h0M666 1883.5h0M681.5 1830h0M615.5 1966.5h0M596.5 2011.5h0M614 1963h0M658 1876.5h0M619 1982h0M633.5 1934h0M697 1963.5h0M575.5 2002.5h0M582.5 2035h0M661 1870.5h0M566.5 2042h0M604.5 1961h0M601 2015.5h0" fill="none" stroke="#000" stroke-width="1.4" stroke-linecap="square"/><path d="M634 1807.3H742" stroke="#333" stroke-width="1" stroke-dasharray="1.5 2.5"/><rect x="544" y="1806.6" width="331.3" height="330.4" fill="none" stroke="#505050" stroke-width="1.15"/><text x="545.4" y="2168.6" font-size="20.7" text-anchor="middle">0</text><text x="629.15" y="2168.6" font-size="20.7" text-anchor="middle">1.0M</text><text x="707.3" y="2168.6" font-size="20.7" text-anchor="middle">2.0M</text><text x="785.45" y="2168.6" font-size="20.7" text-anchor="middle">3.0M</text><text x="863.6" y="2168.6" font-size="20.7" text-anchor="middle">4.0M</text><text x="529.3" y="2139" font-size="20.7" text-anchor="end">0</text><text x="529.3" y="2065.4" font-size="20.7" text-anchor="end">1.0M</text><text x="529.3" y="1986.8" font-size="20.7" text-anchor="end">2.0M</text><text x="529.3" y="1908.2" font-size="20.7" text-anchor="end">3.0M</text><text x="529.3" y="1829.6" font-size="20.7" text-anchor="end">4.0M</text><path d="M545.4 2137v9.5M623.55 2137v9.5M701.7 2137v9.5M779.85 2137v9.5M858 2137v9.5M544 2136h-8.5M544 2057.4h-8.5M544 1978.8h-8.5M544 1900.2h-8.5M544 1821.6h-8.5" stroke="#000" stroke-width="2.2" fill="none"/><path d="M564.938 2137v3.6M584.475 2137v3.6M604.012 2137v3.6M643.087 2137v3.6M662.625 2137v3.6M682.162 2137v3.6M721.238 2137v3.6M740.775 2137v3.6M760.312 2137v3.6M799.388 2137v3.6M818.925 2137v3.6M838.462 2137v3.6M544 2116.35h-3.6M544 2096.7h-3.6M544 2077.05h-3.6M544 2037.75h-3.6M544 2018.1h-3.6M544 1998.45h-3.6M544 1959.15h-3.6M544 1939.5h-3.6M544 1919.85h-3.6M544 1880.55h-3.6M544 1860.9h-3.6M544 1841.25h-3.6" stroke="#222" stroke-width="1.1" fill="none"/><text x="706" y="2197.5" font-size="20.7" text-anchor="middle">FSC-H</text><text transform="translate(469.5,1959.3) rotate(-90)" font-size="20.7" text-anchor="middle">FSC-A</text><path d="M709.6 1856.1L754 1880.2L573.3 2134.5L559.6 2118.6L554.4 2088.5Z" fill="none" stroke="#000" stroke-width="2" stroke-linejoin="round"/><text x="814.2" y="1984" font-size="20.7" text-anchor="middle">Single Cells</text><text x="801.3" y="2003" font-size="20.7" text-anchor="middle">92.8</text><path d="M690.5 1954.4H990.3" stroke="#000" stroke-width="1.7" fill="none"/><path d="M998.3 1954.4l-17.5 -9.6l4.8 9.6l-4.8 9.6z" fill="#000"/><path d="M1069.5 1867.5l4-0.5l4 1l4 2l3 3l2.5 3.5l2 5l1 5l0 5l-1 6l-1 5l-2.5 5l-2.5 4l-3.5 4l-4 2.5l-4 1.5l-4 0.5l-4-0.5l-3-1.5l-3-2.5l-2.5-3l-3.5-7l-0.5-5l-0.5-5l2-10l4-8l3-3.5l3-3l3-2zM1070 1871.5l3.5 0l3 0.5l3 1.5l3 2.5l2 3.5l1.5 4l1 4l0 5l-2 9l-2 4l-2.5 4l-3 3l-3 2l-3 1l-4 0.5l-3-0.5l-3-1.5l-4.5-4.5l-2.5-6l-0.5-4l-0.5-5l2-8l3.5-7l5.5-5.5zM1070 1874.5l3.5 0l3 0.5l4 3.5l3.5 6l0.5 8l-1.5 8l-3.5 6.5l-5 4l-3 1.5l-3 0.5l-5-1.5l-4.5-4l-2.5-6l-0.5-7l1.5-7l3-6l4-4l3-2zM1068 1877.5l2.5-0.5l3 0l3 1l2 1.5l1.5 2l1.5 3l1.5 6l-1 7l-2.5 6l-2.5 3l-2.5 2l-5 2l-4-0.5l-4-3l-2.5-4.5l-1-6l0.5-6l2-6l4-4.5zM1068.5 1879.5l3-0.5l2 0l4 2l2.5 4.5l1 6l-0.5 6l-2.5 5l-3.5 4l-2 1l-3 0.5l-4-0.5l-3-2.5l-2.5-4.5l-0.5-5l0.5-5l2-5l3.5-4zM1068.5 1881.5l4-0.5l2 0.5l2 1.5l2 3.5l1 5l-0.5 5l-2.5 5l-3 3.5l-4 1l-3-0.5l-3-2.5l-2-3.5l-0.5-4l0.5-5l2-4l2-3zM1069 1883.5l3.5-0.5l3 1.5l2 3l0.5 4l-0.5 5l-2 4l-3 3l-3 0.5l-3-0.5l-2-2l-1.5-3l-0.5-3l0.5-4l1.5-3.5l2-2.5zM1069 1885.5l3.5 0l2 1l1.5 3l0.5 3l-0.5 4l-1.5 3l-2 1.5l-3 1l-2-0.5l-2-2l-1-2l-0.5-3l1.5-5l2-2.5zM1070 1887.5l1.5 0l2 1l1 2l0.5 3l-1.5 4l-2 2l-2 0l-2-1l-1-1l-0.5-4l1.5-4zM1069 1890.5l2.5-0.5l1 1l0.5 1.5l-0.5 3l-2 1.5l-2-0.5l-1-2l0.5-2zM1164.5 1880.5l7 0.5l8 2l9 3.5l7 4l4 4l4 6l3 7l2 8l1 12l-0.5 21l0.5 22l0 12l-1.5 19l-4.5 24l-0.5 7l1.5 6l6.5 12l3 7l6.5 23l1.5 10l-1 8l-3 7l-4.5 5.5l-4 2l-3 1l-7 0l-7-3l-5-3.5l-8-8l-4-2.5l-19-4.5l-6-2.5l-7-4l-7.5-5.5l-6-7l-4.5-8l-2-7l-0.5-6l1-5l1.5-5l2.5-4l5.5-5.5l13-7l2-2l1-2.5l0.5-5l1-24l3.5-26l-0.5-5l-1.5-4l-12.5-12l-3.5-5l-3-5l-2-6l-1-6l0-6l0.5-7l2-6l2.5-6l3.5-5l4-4l4.5-3l6-3.5l6-2zM1164.5 1884.5l7 0.5l6 1.5l9 3.5l7 4l4.5 4.5l3.5 5l2.5 6l2 7l0.5 11l-1.5 24l0.5 23l-0.5 14l-2 17l-4.5 21l-0.5 6l1.5 6l7.5 13l4 9l6 18l1.5 6l0.5 5l-1 8l-3 6l-3.5 4.5l-3 1.5l-3 1l-6 0l-6-2.5l-4.5-3.5l-8-8l-4-3l-2.5-1l-10-1.5l-7-2l-7-3l-5-3l-7-5.5l-5.5-6l-4-7l-2-7l-0.5-5l0.5-4l1.5-5l2.5-4l3-3l3.5-2l13-6l2-2l1.5-3l0.5-5l0.5-26l4-29l0-4l-2-4l-13.5-12l-4-5l-2-4l-2-5l-1-6l-0.5-6l0.5-6l2-6l2.5-5l2.5-4l4-4l4-3l5-2.5l5-1.5zM1160 1888.5l7.5-0.5l7 1l8 3l8 4l4 3.5l4 4.5l2.5 4.5l2 7l1 6l0 6l-0.5 7l-2.5 19l1 23l-0.5 13l-2 15l-5 22.5l-0.5 5.5l1.5 6l9 15l8.5 20l2.5 9l1 7l-0.5 6l-2.5 6l-4 4l-4 1.5l-6 0.5l-6-2.5l-5-4.5l-7-7.5l-3.5-2.5l-18.5-4l-6-2l-6-3.5l-6-4.5l-5.5-6l-4-7l-2-6l-0.5-5l0.5-4l1-4l3-4l2.5-2l4-3l14-5.5l2.5-2.5l1-4l0-20l0.5-10l1.5-12l3.5-18l-0.5-6l-1-3l-2-2l-11.5-8.5l-6-6.5l-2.5-5l-1.5-4l-1-5l-0.5-5l0.5-5l1-5l2.5-5l2.5-4l3-3.5l4-3l5-3zM1159.5 1891.5l6-1l7 1l7 2l9 5l4 3l4 4l2.5 5l2 6l1 7l0 7l-5 24l1.5 23l-0.5 16l-2.5 14l-5.5 19l-0.5 5l0.5 3l1.5 4l7.5 11l3.5 7l9 20l2.5 7l0 8l-1.5 6l-3 4.5l-2 1.5l-3 1l-3 0.5l-3-0.5l-5-2.5l-4-3.5l-7-8l-3-2l-4-1.5l-9-1l-6-1.5l-6-2.5l-5-2.5l-6-5l-5.5-6l-4-6l-2-6l0-4l0.5-4l1.5-4l2.5-3l3-2.5l3-1.5l12-4l4-2l2.5-3l1-3l0.5-4l-1-16l0.5-12l1.5-14l4-18l0-6l-1-2.5l-2-2l-12-7.5l-6.5-6l-2.5-4l-2-4l-1.5-5l-0.5-5l1.5-9l2-5l2.5-4l6-6l4-2.5zM1162.5 1893.5l6 0l6 1l6 2.5l8 4.5l4 3.5l3 3.5l2.5 5l1.5 5l0.5 7l-1 8l-1.5 6l-4 11l-1 4l0.5 4l2 20l-0.5 17l-3 14l-6.5 18l-0.5 4l1 3l1.5 3l8 11l3.5 6l10.5 21l2 6l1 7l-1 6l-1.5 3l-1.5 2l-1.5 1.5l-3 1l-5 0l-5-2.5l-3-3l-7-8.5l-3-2l-4-1.5l-9-1l-6-1l-6-2.5l-5-3l-6-4.5l-4.5-5l-3.5-5l-2-6l-0.5-4l0.5-4l2-4l3-3l6-3l11.5-3l5-2l3.5-3l1.5-3l0-4l-2-17l0-14l2.5-15l5.5-19l0-5l-1-2l-2-2l-13.5-6.5l-7-5.5l-3-4l-2.5-5l-1.5-4l-0.5-5l0.5-5l1-4l1.5-4l2.5-4l3-3l4-3l4-2zM1160.5 1896.5l5-0.5l4 0l4 1l5 2l11 6.5l3.5 4l2.5 4l1.5 5l1 5l-0.5 5l-0.5 5l-2 5l-2.5 5l-4 4.5l-3 2l-3 0l-7-3.5l-12-3.5l-5-2l-4-2.5l-3-2.5l-4.5-6.5l-2-5l-0.5-5l0.5-5l1.5-5l2.5-5l3.5-3.5l4-2.5zM1182.5 1958.5l2 0.5l2 2l2 4l1.5 5.5l1.5 10l0 12l-2.5 12l-3.5 10l-2 4l-3 3.5l-2 1.5l-2 0.5l-2-1.5l-2-2.5l-2.5-7.5l-1.5-10l0-11l2-11l3.5-10l4.5-8l2-2.5zM1171.5 2033.5l3-0.5l3 1l5 4l8 8.5l5.5 8l5.5 11.5l5.5 10.5l2.5 7l0.5 7l-2 5l-1.5 2l-2 1.5l-2 0.5l-3 0l-4.5-2l-3.5-3l-7-9l-3-2l-4-1l-13-1.5l-5-1.5l-5-2.5l-5-3l-4-3.5l-4-4.5l-3-4.5l-2-5l0-5l1-4l3-4l6-3l15-3.5zM1162.5 1898.5l7 0l7 2l11 7l3 3l2 3l3 7l0 4l0 4.5l-1 4l-2 3.5l-2 3l-2 1.5l-3 1.5l-3 0l-13-1l-6-1l-4-1.5l-4-2.5l-3-3l-2.5-3l-2.5-5l-1-5l0.5-5l1.5-5l2-4l3.5-4l4.5-2.5zM1180 1973.5l1.5-0.5l2 0.5l2 3l1.5 6l0 7l-0.5 7.5l-2 7l-3 5l-3 2l-2-1l-2-3.5l-1.5-5l0-7l0.5-7l2-6.5l2-4.5zM1167.5 2038.5l7 0l5 2l7 5l5.5 7l2.5 5l4 9l7 11l2 5l0.5 4l-0.5 4l-1 3l-2 2.5l-4 1l-3-0.5l-2-1.5l-4-3.5l-5.5-8l-3.5-2.5l-3-0.5l-14-1.5l-9-3l-8-5.5l-4-4l-3-4l-2.5-5l-0.5-5l1-4l3-3.5l3-2l4-1.5zM1166 1900.5l5.5 1l6 2.5l8 5.5l5 5.5l2 5.5l0.5 6l-1.5 6l-3 3.5l-5 1.5l-12 1l-6 0l-4-1.5l-4-2l-3-2.5l-2.5-3l-2-4l-1-5l0-5l2-5l2.5-4l4-3.5l4-1.5zM1165 2041.5l7.5 0l5 1l6 4l5 5l3.5 6l4.5 12l6 8l2 4l1 6l-1 3l-1.5 2l-2.5 1.5l-4-1.5l-3.5-3l-5.5-8.5l-3-2l-4-1l-13-0.5l-9-3l-8-5l-6-6.5l-3-4.5l-1-4l0.5-4l2.5-3.5l3-2l4-1.5zM1162.5 1903.5l5-0.5l6 1.5l6 4l6 5.5l3 4l1.5 4.5l-0.5 5l-2 3l-2 1.5l-3 1l-9 2.5l-5 0.5l-4-0.5l-3-1l-5.5-4l-2.5-3l-1.5-4l-1-5l1-4l1.5-4l2-3l3-2zM1156.5 2044.5l11-0.5l6 0.5l6 2l5 4l3 4l2 4l4 15l6 5.5l2 3l0.5 3.5l-1 3l-1.5 1l-1 0l-2.5-2l-2-3l-3-7l-1.5-1.5l-4-0.5l-13 0.5l-7-1l-8-3l-8.5-6.5l-2.5-3.5l-2.5-3.5l-1-4l0.5-3l1.5-3l3-2l3.5-1zM1161.5 1906.5l4-1l4 0.5l4 1.5l4 3l4.5 5l2 4l0.5 4l-1.5 3l-6 4l-7.5 2.5l-6-0.5l-5-3l-2.5-3l-1.5-3l-0.5-3l0-4l0.5-3l2-3l2-2zM1159.5 2046.5l8 0l5 0l5 2l4 2.5l4 4.5l2 5l0.5 5l-1.5 4l-3 2l-4 1.5l-5 0.5l-5 0l-8-2l-8-5l-4-4l-2-3l-1.5-4l0-3l1.5-2l3-2.5l4-1zM1162 1909.5l3.5-1l4 0.5l4 2l3 3.5l2 4l0 3l-1 3l-3 3l-4 2l-5 0.5l-4-2l-3-3l-2-4.5l0-4l2-4zM1156 2049.5l7.5-0.5l6 0l4 0.5l4 2l4 3l2 4l1 4l-1 4l-2 2l-2 1.5l-7 1.5l-7-1l-6-2.5l-6.5-5.5l-2.5-3l-1-3l0-2l1-2l2-2zM1164 1912.5l2.5-0.5l3 0.5l2.5 2l1.5 2l0.5 3l0 2l-1.5 2l-2 2l-3 1l-3-0.5l-2.5-1.5l-1.5-2l-1-3l0.5-3l1.5-2zM1162 2051.5l8.5 0l4 1l3 2l2.5 3l1 3l-0.5 3l-1 2l-2 2l-2 1l-5 0.5l-6-1.5l-5.5-3l-4.5-5l-1-2l0-2l1-1l2-1.5zM1164.5 1917.5l2-0.5l2 0.5l0.5 2l-0.5 1.5l-1 0.5l-2 0l-1.5-2zM1161.5 2054.5l7-0.5l3 0.5l3 1l2 2l1 2l0 2l-0.5 2l-2 2l-3.5 1l-4-0.5l-4-1.5l-3.5-3l-1.5-3l0-2zM1166 2056.5l3.5 0l3 1l1 1l0.5 2l-0.5 2l-1.5 1l-2.5 0.5l-4-1.5l-2-2l-0.5-2l0.5-1z" fill="none" stroke="#333" stroke-width="0.85"/><path d="M1138.5 1959h0M1218.5 2041.5h0M1224.5 1975h0M1217 2002h0M1090.5 1881.5h0M1160 1839h0M1127 1964h0M1205 2036h0M1155 2119.5h0M1143 1997.5h0M1104 2091h0M1135.5 1982.5h0M1148 2010h0M1157.5 2132h0M1205.5 2005h0M1152.5 2089h0M1217.5 2008.5h0M1207.5 1987h0M1145 1875h0M1146 1988.5h0M1216 1965h0M1154 1969h0M1234.5 1941.5h0M1208 1981h0M1148 2020.5h0M1235.5 1917.5h0M1192 1883.5h0M1229 2047.5h0M1108.5 1965h0M1187 2133.5h0M1124.5 2112h0M1142 1996h0M1221.5 1916h0M1134 2074.5h0M1138 1956h0M1187 2114h0M1123 1930h0M1116 2120.5h0M1122 2084h0M1120.5 1907.5h0M1143.5 2112h0M1211 1919.5h0M1230 2005.5h0M1154 1994h0M1232 1842h0M1142 1983h0M1204 2026h0M1168 1869h0M1124 2104h0M1129 2111h0M1144 2010h0M1229 2003.5h0M1137.5 2086h0M1223.5 1895h0M1099.5 2046h0M1151.5 1976h0M1149 1994h0M1214.5 2064.5h0M1209 1913.5h0M1126 1970.5h0M1149.5 2106.5h0M1142 2014.5h0M1152 2001h0M1103 1937h0M1219 2078.5h0M1130 1925h0M1138 2000h0M1149.5 2100.5h0M1228 1926.5h0M1192.5 2130h0M1204 2026h0M1211 1900.5h0M1209.5 1963h0M1162 2101.5h0M1216.5 1915h0M1212 2016h0M1177 1843h0M1150.5 1985h0M1139.5 2117h0M1102.5 1951h0M1139 1954.5h0M1138.5 1939.5h0M1151 2008h0M1149.5 2023.5h0M1212.5 2012.5h0M1226.5 2030h0M1132 1899.5h0M1210 1964.5h0M1140.5 2003h0M1219 2049.5h0M1233 2001h0M1205 2044.5h0M1237 1933.5h0M1140 1942.5h0M1227.5 1991h0M1166 2111h0M1124.5 1928h0M1157.5 1964.5h0M1165 2095.5h0M1124.5 2064.5h0M1177 1876h0M1220.5 2062.5h0M1203.5 1905h0M1161 1878h0M1143 2112h0M1131.5 2000h0M1134.5 2032.5h0M1159 2099h0M1159 2101h0M1141 1994.5h0M1223.5 2075.5h0M1205.5 1903.5h0M1185 1887h0M1155 1825.5h0M1207 1990h0M1151 1958.5h0M1103.5 1966.5h0M1125.5 1956.5h0M1131.5 2027h0M1209 1974h0M1226.5 2012.5h0M1161 1832h0M1151.5 2005.5h0M1146.5 1988.5h0M1154.5 1976.5h0M1146.5 1982h0M1135 1973h0M1223 1886h0M1134.5 1980h0M1135 2123.5h0M1081.5 1994h0M1151 1974.5h0M1211 2000.5h0M1225 2073h0M1218.5 2069.5h0M1142 1982.5h0M1119 1969.5h0M1207.5 1919.5h0M1132.5 1964.5h0M1126.5 2014.5h0M1149.5 1872.5h0M1214 1913.5h0M1225 2086.5h0M1221 2101.5h0M1142.5 2007h0M1153 1989h0M1128.5 1929.5h0M1140.5 1956h0M1210.5 1949.5h0M1183 1816.5h0M1135.5 1995.5h0M1137 1992.5h0M1205.5 2002.5h0M1130.5 2123.5h0M1140 1956h0M1219.5 1996h0M1145 2113.5h0M1150 2002.5h0M1191 2113h0M1129 1982.5h0M1156.5 1961h0M1177 2095h0M1034 1903.5h0M1032.5 1897.5h0M1095 1852h0M1082 1955h0M1085 1914.5h0M1032 1939.5h0M1093.5 1870h0M1027.5 1940h0M1016.5 1905h0M1037.5 1894.5h0M1055 1875h0M1024.5 1904h0M1083.5 1922h0M1039.5 1918h0M1091.5 1877h0M1059 1858.5h0M976.5 1893.5h0M1054.5 1884h0M1035.5 1919.5h0M1036.5 1878.5h0M1055.5 1914.5h0M1090 1891.5h0M1083.5 1926h0M1099 1902h0M1060 1857.5h0M1007.5 1849h0M1044 1907.5h0M1034.5 1878h0M1040.5 1922h0M1134.5 1899.5h0M1082.5 1940h0M1033 1899.5h0M1093.5 1883.5h0M1051.5 1856h0M1022 1911h0M1092.5 1895.5h0M1046.5 1893h0M1063.5 1959.5h0M1124.5 1917.5h0M1031.5 1879.5h0M1089 1915h0M1051 1866h0M1028.5 1885.5h0M1053 1919h0M1065 1871h0M1017 1901.5h0M1036 1878.5h0M1068.5 1868.5h0M1044.5 1914h0M1040 1918h0M1033.5 1924.5h0M1020 1907h0M1007.5 1922.5h0M1040.5 1921.5h0M998.5 1927h0M1049.5 1906h0M1044.5 1906.5h0M1106 1908h0M1027 1927h0M1092 1889h0M1070 1933h0M1042 1943.5h0M1036.5 1915h0M1050.5 1960.5h0M1075.5 1916h0M1045 1866h0M1103.5 1894.5h0M1106.5 1905h0M990.5 1910h0M1032 1899.5h0M984.5 1921.5h0M1011 1867.5h0M1079 1916h0M1074 1927.5h0M1053.5 1886h0M1088.5 1892.5h0M1091.5 1940h0M1056 1872h0M1041.5 1863h0M1017 1874h0M1103 1873h0M1043.5 1906.5h0M1030.5 1921.5h0M1000 1900.5h0M1021.5 1914.5h0M1100 1906h0M1040 1926h0M1005.5 1876h0M1042 1960.5h0M1113 1918h0M1041.5 1897h0M1076 1942h0M1069 1922.5h0M1027 1885.5h0M1089 1871.5h0M1014 1862.5h0M1056.5 1854h0M1095.5 1895.5h0M1068 2070.5h0M1063.5 2056h0M1088.5 2058.5h0M1077 2046h0M1060 2045.5h0M1079 2045h0M1113 2083h0M1116 2038.5h0M1079 2072.5h0M1072 2015h0M1102 2022.5h0M1086 2044.5h0M1087.5 2013h0M1074 2080h0M1047 2051h0M1043.5 2055.5h0M1074 2036h0M1051.5 2057h0M1093.5 2032h0M1096 2076h0M1108 2075h0M1078 2032h0M1118.5 2028h0M1104 2014h0M1084.5 2015h0M1092.5 2075h0M1063.5 2064.5h0M1006.5 2082h0M1099 2059h0M1087 2067.5h0M1113 2063h0M1087 2037.5h0M1072 2052.5h0M1065.5 2069h0M1062.5 2051.5h0M1079.5 2027h0M1036 2026.5h0M1051 2113.5h0M1094.5 2029.5h0M1031 2034h0M1041.5 2050h0M1062.5 2046.5h0M1066.5 2071h0M1077 2039.5h0M1094.5 2063h0M1082 2050.5h0M1088.5 2050.5h0M1062.5 2044.5h0M1076 2029.5h0M1060 2037.5h0M1073 2023h0M1088.5 2039h0M1086.5 2051h0M1034 2053.5h0M1050.5 2023.5h0M1119.5 2032h0M1030.5 2041h0M1077 2077.5h0M1049.5 2053h0M1071 2056.5h0M1062.5 2075.5h0M1077 2059h0M1051 2037h0M1098.5 2085h0M1123.5 2045.5h0M1021.5 2074.5h0M1057 2057h0M1042 2062.5h0M1078 2077h0M1106.5 2038.5h0M1106 2017h0M1104.5 2055h0M1080.5 2047h0M1063 2042.5h0M1100.5 2048h0M1062 2013.5h0M1058 2047.5h0M1077 2041.5h0M1048 2054h0M1071.5 2045.5h0M1054.5 2039.5h0M1077.5 2061.5h0M1097 2071h0M1063 2045h0M1086 2028h0M1096.5 2032h0M1058.5 2073h0M1074 2010h0M1067.5 2047h0M1115.5 2052h0" fill="none" stroke="#000" stroke-width="1.4" stroke-linecap="square"/><rect x="973.3" y="1806.6" width="331" height="330.4" fill="none" stroke="#505050" stroke-width="1.15"/><text x="960" y="1825.1" font-size="20.7" text-anchor="end">10<tspan dy="-9.3" font-size="12.8" dx="1.6">7</tspan></text><text x="960" y="1868.8" font-size="20.7" text-anchor="end">10<tspan dy="-9.3" font-size="12.8" dx="1.6">6</tspan></text><text x="960" y="1925.7" font-size="20.7" text-anchor="end">10<tspan dy="-9.3" font-size="12.8" dx="1.6">5</tspan></text><text x="960" y="1994.7" font-size="20.7" text-anchor="end">10<tspan dy="-9.3" font-size="12.8" dx="1.6">4</tspan></text><text x="950" y="2056.6" font-size="20.7" text-anchor="end">0</text><text x="960" y="2127.8" font-size="20.7" text-anchor="end">-10<tspan dy="-9.3" font-size="12.8" dx="1.6">4</tspan></text><text x="995" y="2175" font-size="20.7" text-anchor="middle">-10<tspan dy="-9.3" font-size="12.8" dx="1.6">4</tspan></text><text x="1058.7" y="2174.5" font-size="20.7" text-anchor="middle">0</text><text x="1140.4" y="2175" font-size="20.7" text-anchor="middle">10<tspan dy="-9.3" font-size="12.8" dx="1.6">4</tspan></text><text x="1216.2" y="2175" font-size="20.7" text-anchor="middle">10<tspan dy="-9.3" font-size="12.8" dx="1.6">5</tspan></text><text x="1278.4" y="2175" font-size="20.7" text-anchor="middle">10<tspan dy="-9.3" font-size="12.8" dx="1.6">6</tspan></text><path d="M973.3 1807.4h-9M973.3 1861.3h-9M973.3 1918.2h-9M973.3 1987.2h-9M973.3 2120.3h-9M990 2137v9M1135.4 2137v9M1211.2 2137v9M1273.4 2137v9" stroke="#000" stroke-width="2.4" fill="none"/><path d="M973.3 1845.1h-4.5M973.3 1835.6h-4.5M973.3 1828.8h-4.5M973.3 1823.6h-4.5M973.3 1819.4h-4.5M973.3 1815.7h-4.5M973.3 1812.6h-4.5M973.3 1809.9h-4.5M973.3 1901.1h-4.5M973.3 1891.1h-4.5M973.3 1883.9h-4.5M973.3 1878.4h-4.5M973.3 1873.9h-4.5M973.3 1870.1h-4.5M973.3 1866.8h-4.5M973.3 1863.9h-4.5M973.3 1966.4h-4.5M973.3 1954.3h-4.5M973.3 1945.7h-4.5M973.3 1939.0h-4.5M973.3 1933.5h-4.5M973.3 1928.9h-4.5M973.3 1924.9h-4.5M973.3 1921.4h-4.5M973.3 2000.0h-4.5M973.3 2010.0h-4.5M973.3 2019.0h-4.5M973.3 2027.0h-4.5M973.3 2072.0h-4.5M973.3 2081.0h-4.5M973.3 2090.0h-4.5M973.3 2099.0h-4.5M973.3 2107.0h-4.5M973.3 2114.0h-4.5M1158.2 2137v4.5M1171.6 2137v4.5M1181.0 2137v4.5M1188.4 2137v4.5M1194.4 2137v4.5M1199.5 2137v4.5M1203.9 2137v4.5M1207.7 2137v4.5M1229.9 2137v4.5M1240.9 2137v4.5M1248.6 2137v4.5M1254.7 2137v4.5M1259.6 2137v4.5M1263.8 2137v4.5M1267.4 2137v4.5M1270.6 2137v4.5M1288.9 2137v4.5M1298.0 2137v4.5M996.0 2137v4.5M1003.0 2137v4.5M1011.0 2137v4.5M1020.0 2137v4.5M1030.0 2137v4.5M1083.0 2137v4.5M1093.0 2137v4.5M1102.0 2137v4.5M1111.0 2137v4.5M1119.0 2137v4.5M1126.0 2137v4.5" stroke="#111" stroke-width="1.2" fill="none"/><path d="M973.3 2039.1h-8.5M973.3 2042.6h-5M973.3 2046.1h-8.5M973.3 2049.6h-5.5M973.3 2053.1h-8.5M973.3 2056.6h-5M973.3 2060.1h-8.5M971.1 2037.8v23.6M1052.4 2137v8.5M1055.9 2137v5M1059.4 2137v8.5M1062.9 2137v5.5M1066.4 2137v8.5M1069.9 2137v5M1073.4 2137v8.5M1051.1 2139.2h23.6" stroke="#000" stroke-width="2.6" fill="none"/><text x="1138.1" y="2197.5" font-size="20.7" text-anchor="middle">Comp-LIVE DEAD Blue-A :: DEAD</text><text transform="translate(914.5,1967.5) rotate(-90)" font-size="20.7" text-anchor="middle">Comp-BUV496-A :: CD45</text><path d="M980.5 1854.5L1133.2 1853.4L1077.1 1944.8L980.5 1946.2Z" fill="none" stroke="#000" stroke-width="2" stroke-linejoin="round"/><path d="M1022.5 1854.2H1064" stroke="#ccc" stroke-width="2.2"/><text x="1055.2" y="1830.6" font-size="20.7" text-anchor="middle">CD45+</text><text x="1049.7" y="1850.4" font-size="20.7" text-anchor="middle">7.66</text><rect x="1004" y="2022" width="79.4" height="89.2" fill="none" stroke="#000" stroke-width="2"/><text x="1044.2" y="2068.8" font-size="20.7" text-anchor="middle">CD45-</text><text x="1041" y="2088" font-size="20.7" text-anchor="middle">0.73</text><path d="M1099.8 1883.6H1399.6" stroke="#000" stroke-width="1.7" fill="none"/><path d="M1407.6 1883.6l-17.5 -9.6l4.8 9.6l-4.8 9.6z" fill="#000"/><clipPath id="clipf4"><rect x="1405.5" y="1806.4" width="330.2" height="330.6"/></clipPath><path d="M1365.5 1925l13-2.5l15-1l16 0l27 1.5l9-1l4-1.5l4.5-3l19.5-18.5l8-6l4-2.5l5-1.5l8-1l5 1l6 3l5.5 4.5l5 6l4 7l3 8l5.5 24l2 3l2 2l4 1.5l6 0.5l42 0.5l8-1.5l6-3l4.5-4l24.5-25l14-12.5l8-6l9-6l15-8l9-3.5l8-1.5l7-1l6 1l5 1.5l3 3l2.5 4l1 5l-0.5 5l-2 6l-2.5 6l-4 7l-6 9l-8 10l-17.5 20l-10 8.5l-13 8l-15 7l-13 3.5l-7 1.5l-6 0l-6-1l-4-1l-6-3.5l-8-9l-3-1.5l-4-1l-11-1l-33.5 0.5l-6.5 1.5l-4.5 2.5l-3 3l-10.5 12.5l-5 4.5l-5 3l-7 3.5l-6 1.5l-6 1l-6 0l-5-0.5l-6-2l-5-2.5l-5-3l-4-3.5l-4-4.5l-8.5-13l-2.5-2.5l-3-1.5l-4-1l-5-0.5l-25 1l-13-0.5l-12-1l-12-2M1365.5 1929.5l13-3l16-1.5l18-0.5l26 1.5l9-1l4.5-1.5l4.5-3l19-18l7-5.5l8-3.5l4-1l4 0l6 1.5l5 3l5 4.5l3.5 5l3 6l3 8l5 24l1.5 3l3 3l4 1.5l6 1.5l44 0.5l9-2l8-4.5l5-4.5l20-21.5l14-13l15-12l15-8.5l8-3.5l7-2l7-1l7 0l5 2l3 2l2.5 4l1 5l-1 5l-1 5l-3 6l-4 7l-13 17l-16.5 18l-10 8.5l-11 7l-13 6l-13 3.5l-10 1l-5-1l-4-1l-5.5-3l-9.5-9.5l-4-2l-4-1.5l-7-0.5l-40 0.5l-8 2l-6 4l-4 3.5l-9.5 11.5l-4.5 4l-5 3l-5 2.5l-6 2l-6 1l-5 0l-5-1l-5-1.5l-4-1.5l-5-3.5l-7.5-7l-8.5-13l-3-3l-4-1.5l-9-1.5l-26 1l-14-0.5l-12-1.5l-12-2.5M1688.5 1885.5l5-1l5 0.5l4 0.5l3 2l2 2l2 3l0.5 4l-0.5 4l-3 9l-5.5 10l-10.5 13l-12 13l-10 9.5l-9 7l-11 6l-10 4l-10 2l-9 0.5l-4-0.5l-4-1.5l-5.5-4l-6.5-8l-0.5-2l0.5-2l11-10l14-16l10-11l14-13l13-9.5l14-7.5l7-2.5zM1365.5 1934l5-2l7-2l16-2.5l18-0.5l29 1.5l9-1l5-2l4.5-3l18.5-17.5l6-5l7-3l4-1l4 0l6 1.5l5 3.5l4.5 4.5l3.5 6l4.5 11l2 9l2 14l3.5 9l0.5 2l-2 3l-7.5 7l-10 12l-5 4l-5 3.5l-6 2.5l-6 1.5l-6 0.5l-5-0.5l-5-1.5l-5-2l-4-3l-6.5-6l-9.5-14l-3-2.5l-4-2l-4-0.5l-6-0.5l-27 0.5l-14-0.5l-13-2l-11-4M1685.5 1888.5l9-1l4 0.5l3 1l3 2.5l1 2l1 3l0 4l-0.5 4l-2 5l-5 9l-8 11l-11.5 12.5l-11 10l-9 7l-10 6l-9 3.5l-9 2.5l-9 0.5l-7-1.5l-3-1.5l-3-2.5l-2-2.5l-1.5-3l-0.5-3l1-2l18-22l11.5-13l12.5-11.5l12-9l13-7.5zM1492 1899.5l6.5-0.5l6 2l6 4.5l4.5 6l3 6l2 8l4.5 29l-0.5 3l-1 2l-13.5 16l-7 6l-8 4l-6 1.5l-7 0l-6-1l-6-2l-5-3.5l-4-3.5l-11-15.5l-4-3l-4-2l-9-1l-30 0l-16-1l-8-2l-6-2l-4.5-3l-2.5-3l0-2l1-2l4-4l7-3l9-2l10-1.5l12-0.5l34 1.5l5-0.5l5-1l4-2l5-3.5l21-20l5-3zM1687.5 1890.5l4-0.5l4 0.5l3 1l2 1.5l2 2.5l0.5 2l0.5 3l-0.5 4l-3 8l-4.5 8l-8 10l-10 10.5l-10 9l-9 7l-8 5l-9 3.5l-9 2.5l-8 0.5l-6-1.5l-5-3.5l-1.5-2l-1-3l0-2l1.5-3l14-19l15-17l12-10.5l12-8l12-6zM1491.5 1902.5l6-0.5l6 1.5l5.5 4l4.5 6l3 7l2 8l1 8l1.5 16l-0.5 4l-1.5 3l-8.5 11l-8 7.5l-8 4l-6 2l-6 0l-6-0.5l-6-2.5l-4-2.5l-4-4l-9-12.5l-3-3.5l-3-2.5l-4-2l-9-1.5l-28 0.5l-14-1l-7-1.5l-5-2l-3.5-2l-2-2l0-3l1.5-2l2-1.5l6-2.5l8.5-2l9.5-1l10-0.5l30 2l5-0.5l5-1.5l5.5-2.5l5.5-4l20-19l4-2.5zM1683.5 1893.5l7-0.5l3 0.5l3 1l2 2l1 1.5l1 2.5l0 3l-1.5 6l-4 8l-5.5 8l-8 9l-9 8.5l-9 8l-9 6l-8 4.5l-8 2.5l-8 1.5l-7-1l-5-2.5l-1.5-1.5l-1-3l0.5-3l1-3l10-15l12.5-15l11.5-11l11-8l11-6zM1491.5 1905.5l5-1l5 1l5 3.5l4 4.5l3 6l2.5 8l1.5 8l0.5 11l-0.5 9l-1 3l-2.5 4l-5.5 6.5l-5 4.5l-5 3.5l-5 2.5l-5 1.5l-6 0.5l-6-1.5l-5-2l-4-2.5l-4-4l-11-15.5l-4-3l-4-2l-4-1l-5-0.5l-23 0l-12-0.5l-10-2.5l-2-1l-2-2l0-2l3-2.5l4-1.5l8-1.5l15-0.5l25 1.5l6-0.5l5-1.5l5-2.5l5-3l6-5l14-14l5-3.5zM1686.5 1895.5l5 0.5l4 2.5l1.5 4l0 5l-2 6l-4.5 7l-5 7l-8 8.5l-8 7.5l-8 6.5l-8 5l-7 3.5l-7 2.5l-7 1l-6-0.5l-4-2l-1.5-2l0-3l1-4l2.5-5l8.5-13l11.5-13l11-10l11-7.5l11-5zM1491.5 1908.5l5-1l5 1.5l5 3.5l3.5 5l3 7l1.5 8l1 10l-0.5 10l-1.5 5l-2 4l-5 6l-6 5l-5 3l-5 2l-5 1l-5-0.5l-7-2l-6-4.5l-4-4.5l-8-12l-9.5-9.5l-1-2l2.5-2l9-5l6-4l7-6l14-13.5l4-3zM1409.5 1941.5l4-0.5l5-0.5l5 1l2.5 1l-1 1l-1.5 0l-8 0.5l-5.5-0.5l-1.5-1zM1681 1898.5l5.5-0.5l4.5 1.5l2.5 3l1 4l-1.5 5l-2.5 6l-4 6l-6 7l-8 7.5l-8 7l-8 5.5l-7 4l-7 3l-6 1l-5 0l-4-1.5l-1-1.5l-0.5-3l0.5-3l1.5-5l7-11l9-11l9-9l9.5-7l10-5.5zM1491.5 1911.5l5-1l4 1l4 3l4 5l2.5 6l1.5 8l0.5 9l-0.5 9l-1.5 5l-2 4l-4.5 5.5l-5 4l-4 2.5l-5 2l-5 1l-5-0.5l-4-1l-4-2l-6-5.5l-10.5-16l-1.5-3l0-3l2.5-4l13-11l12.5-12.5l5-3.5zM1677.5 1901.5l5-1l4.5 1l3 2l1 3l0 4l-2 5l-3.5 6l-4.5 6l-7 7l-7.5 6.5l-7 5l-7 4.5l-6 2.5l-6 2l-5 0l-3.5-1.5l-1-2l-0.5-2l2-7l4.5-8l7.5-10l8-8l8-6.5l9-5.5zM1491.5 1914.5l5-1l4 1.5l4 3l2.5 4.5l2.5 6l1 7l0.5 8l-1 7l-1 5l-2.5 4l-3 4l-4 3.5l-4 2.5l-5 2.5l-5 0.5l-4 0l-4-1.5l-3-1.5l-6-5l-3.5-5l-4-7l-1.5-4l-0.5-3l2-4l3.5-4l20-18.5l4-3zM1678 1903.5l4.5-0.5l3 1l2 2.5l1 3l-1 4l-1.5 4l-3.5 5l-4 5l-11 10.5l-7 5l-6 4l-6 2.5l-5 1.5l-4 0l-3-1l-1-1.5l-0.5-2l1-6l4.5-8l7-9l7-7l8-6l8-4.5zM1491.5 1917.5l4-1l4 1l3.5 3l2.5 4l2 5l1 6l0.5 7l-1 7l-1 4l-2 4l-3 4l-3.5 3.5l-4 2.5l-4 1.5l-5 1l-4-0.5l-4-1l-3-2l-5.5-5l-5-9l-1-4l0-3l1.5-4l4.5-5l15.5-14.5l4-3zM1675 1906.5l3.5-0.5l3.5 0.5l2.5 2l0.5 2l0 3l-1.5 4l-6.5 9l-10.5 10l-11 7.5l-5 2l-4 1l-4 0l-2-1l-1-1.5l0-2l1-5l3-6l5.5-7l5.5-6l7-5.5l7-4.5zM1492.5 1920.5l4-0.5l3 1.5l3 3l1.5 3l1.5 5l1 5l0 6l-1 6l-1 4l-2 3.5l-2.5 3.5l-3.5 3l-7 3l-4 0.5l-4-0.5l-6-2.5l-5-5.5l-3.5-7l-1-3l0.5-3l1.5-4l5.5-6l12-11l4-3zM1672 1909.5l3.5-1l3 0.5l2 0.5l1 2l0.5 3l-1 3l-4.5 7l-8 8l-10 7l-8 3.5l-3 0.5l-2.5-1l-1.5-2l0.5-4l2.5-5l4-6l4.5-5l6-5l5.5-3.5zM1490.5 1924.5l3-1l3 0l3 2l2 2.5l1.5 4.5l1 5l0.5 5l-0.5 5l-2.5 7l-2 3l-3 3l-3.5 2l-3.5 1.5l-4 0.5l-3-0.5l-5-2l-4.5-4.5l-3.5-6l0-5l1.5-4l4-5l9.5-9zM1670 1912.5l5.5-1l2 1l0.5 1l0.5 2l-0.5 3l-4 6l-6.5 6.5l-8 5.5l-7 2.5l-2 0l-1.5-0.5l-1-2l0.5-3l1.5-4l3-4l3.5-4l4.5-4l4.5-3zM1491.5 1927.5l3-0.5l2 0.5l2 2l2 3l1 4l0.5 4l-1 8l-2.5 6l-4 4l-3 2l-3 1l-3 0l-3-0.5l-4-1.5l-4-4.5l-2-4.5l0-5l2-4l4.5-5l7.5-6.5zM1668 1915.5l4.5-1l2 1l0.5 1l-0.5 3l-3 5l-5 5l-6 4l-5 2l-2-0.5l-1-0.5l-0.5-2l0.5-2l4-6l5-5zM1489.5 1931.5l3-1l2 0.5l3 2.5l2 6l0 7l-2.5 6l-3.5 4l-5 2.5l-5-0.5l-3-1l-3.5-3l-1.5-4l-0.5-4l1.5-3.5l3-4l5-4.5z" fill="none" stroke="#333" stroke-width="0.85" clip-path="url(#clipf4)"/><path d="M1597.5 1950h0M1576.5 1945h0M1681.5 1957h0M1524 2013h0M1428.5 2017h0M1536.5 1927h0M1600 1976.5h0M1549 2012.5h0M1458 1872h0M1575.5 2054h0M1576 1930.5h0M1547 1940.5h0M1633 1908h0M1433.5 1965h0M1594 2008.5h0M1566 2002h0M1636.5 1982.5h0M1629.5 2003.5h0M1541.5 2022h0M1554.5 2001.5h0M1557 1901.5h0M1591 2025h0M1523.5 1984.5h0M1560.5 1964h0M1560 1876h0M1538.5 1985h0M1492.5 1875h0M1535 1910h0M1548 1973h0M1552 2035.5h0M1582 1919h0M1527 1899.5h0M1613 1999h0M1548.5 2003.5h0M1589.5 1923.5h0M1656 1886.5h0M1570.5 2000.5h0M1580 2055.5h0M1582 1898h0M1703.5 1962.5h0M1555 1938h0M1543.5 2020.5h0M1473 2003h0M1688.5 1986.5h0M1650.5 1891.5h0M1574.5 1927.5h0M1663.5 1968.5h0M1566 2028.5h0M1595 1970.5h0M1554.5 2009.5h0M1600 1927h0M1609 2001.5h0M1553.5 1976.5h0M1597.5 1903.5h0M1533.5 1909h0M1498 2030.5h0M1642.5 1985h0M1418 1973.5h0M1545.5 1913.5h0M1549.5 1935.5h0M1627 1897h0M1546.5 1994h0M1546 1944h0M1426.5 2010.5h0M1559.5 1944h0M1501.5 2000h0M1459 1899.5h0M1511 1990h0M1591.5 1969h0M1592.5 1933h0M1553.5 2030h0M1493 2024.5h0M1629.5 2013.5h0M1461 1900.5h0M1648 1991h0M1419 1992h0M1543.5 1946h0M1559 1933.5h0M1645.5 1984h0M1657.5 1998h0M1548 1967.5h0M1504 1996h0M1564.5 2003h0M1451 1898h0M1656 1972h0M1597 2003h0M1453 1988h0M1535.5 1998.5h0M1622.5 2018.5h0M1573 1968h0M1596 1988.5h0M1539 1906h0M1719 1958.5h0M1595 1910h0M1614.5 1992.5h0M1679 1980h0M1603 1892.5h0M1578 1969.5h0M1537 1940.5h0M1414 1964h0M1611 1918h0M1572 1981.5h0M1556 1932.5h0M1614.5 1987.5h0M1566 1904.5h0M1562 1926.5h0M1583 1987.5h0M1531.5 1938.5h0M1564 1988.5h0M1575 1938.5h0M1586 1949.5h0M1610.5 1880h0M1533.5 1940h0M1677.5 1979.5h0M1582.5 1921h0M1576.5 1977h0M1589 1940.5h0M1627.5 1911.5h0M1429.5 1989.5h0M1557 1910.5h0M1680 2057.5h0M1573 1972h0M1638 1881.5h0M1592 2004h0M1574.5 2025.5h0M1495 1996.5h0M1641 1897.5h0M1621 2019h0M1495.5 2006.5h0M1586.5 1922.5h0M1619.5 1907.5h0M1568.5 1944h0M1705 1938.5h0M1561.5 1984h0M1599.5 1934.5h0M1584.5 1998.5h0M1416 1996h0M1574.5 2002h0M1669 1977h0M1610.5 1933h0M1549 1994h0M1595 1906h0M1535 1934.5h0M1659.5 2003.5h0M1608 1891.5h0M1586 1926.5h0M1721.5 1909h0M1544 1967.5h0M1518.5 2035h0M1608.5 2039.5h0M1602 1928.5h0M1569.5 1994.5h0M1596 2012h0M1514.5 1982.5h0M1577.5 1965.5h0M1564.5 1922.5h0M1595.5 1940.5h0M1589.5 1895.5h0M1580.5 1936h0M1641.5 1842h0M1561 2010h0M1615 1984h0M1509.5 1997.5h0M1567 1964h0M1577 1941.5h0M1548.5 1974h0M1643.5 1992.5h0M1561.5 1986h0M1511 2006h0M1591 1946.5h0M1600.5 2016h0M1640 2004.5h0M1583 1919.5h0M1672 2014.5h0M1529 1990.5h0M1581 1997.5h0M1548 1971.5h0M1679 2033h0M1477 2017h0M1541.5 1994h0M1521.5 1885.5h0M1555 1994.5h0M1715.5 2010h0M1640.5 1896h0M1559.5 1936h0M1703 2000.5h0M1573 1910h0M1704 2028.5h0M1489 2022.5h0M1488.5 2000h0M1532 1975h0M1618.5 1930h0M1673.5 2002.5h0M1646 1980h0M1587 1932.5h0M1560 1941.5h0M1600.5 1946.5h0M1715 1934h0M1596 1976h0M1598 2005.5h0M1541 1911h0M1528 2004.5h0M1588 1993.5h0M1544.5 1964h0M1698 1936h0M1585.5 1939.5h0M1519 1903h0M1627 1915.5h0M1578 1994.5h0M1564 1890h0M1521 1993h0M1425 1985h0M1519 2036.5h0M1440.5 1896.5h0M1622.5 1992h0M1589 1937h0M1689 1961h0M1445 1920h0M1437.5 1995h0M1540.5 1981h0M1570.5 1916h0M1620.5 1904.5h0M1597.5 1998h0M1519.5 1988h0M1599 1974.5h0M1557.5 1941.5h0M1595.5 2012.5h0M1560.5 2011.5h0M1548.5 1985.5h0M1520.5 1982h0M1586.5 1986.5h0M1599 1977h0M1603.5 1903.5h0M1597.5 1937.5h0M1543 1972h0M1579 1894.5h0M1533.5 1930h0M1609.5 1931.5h0M1529.5 1983.5h0M1609.5 1984.5h0M1589.5 1929.5h0M1596.5 2002h0M1593 1980h0M1591 1930h0M1531 1938h0M1538.5 1895h0M1618 1997h0M1568 1891.5h0M1592 1918.5h0M1574.5 1971h0M1558.5 2000.5h0M1553.5 2015h0M1670 1882.5h0M1592.5 2004.5h0M1582.5 1983h0M1718 1987h0M1607 1894.5h0M1705.5 1924h0M1604.5 1990h0M1485 2017.5h0M1584.5 1984.5h0M1723.5 1980.5h0M1535.5 1932.5h0M1690 1992h0M1670.5 2017.5h0M1549.5 2034.5h0M1581.5 1971.5h0M1535 2019h0M1482.5 2006.5h0M1420.5 1966.5h0M1635 1984h0M1662.5 1975.5h0M1568 1942h0M1548.5 1943h0M1615 1984h0M1563 1947h0M1633.5 1980.5h0M1610 2002h0M1653 1982.5h0M1609 1912.5h0M1541 2000.5h0M1627 1998.5h0M1542.5 2095.5h0M1576.5 1915.5h0M1460.5 2075h0M1598.5 1934h0M1515 1997.5h0M1588.5 2012.5h0M1518 2017h0M1546.5 1974h0M1445 1995.5h0M1574 2000.5h0M1625.5 1905.5h0M1668 2018.5h0M1535.5 1998.5h0M1556.5 2000.5h0M1562 1976h0M1531 1995.5h0M1423.5 2019.5h0M1588.5 1919.5h0M1548 1977.5h0M1541 1966h0M1527 1921.5h0M1654.5 2014h0M1575.5 1971.5h0M1481 2029h0M1506 1994.5h0M1558.5 1966h0M1614.5 1922.5h0M1630.5 1903.5h0M1577 1900h0M1576.5 1880h0M1649 1980.5h0M1631.5 1912h0M1540 1923.5h0M1530.5 1933h0M1568 1942.5h0M1549.5 1920h0M1612 1918h0M1570.5 1950h0M1660 1983h0M1572.5 1911.5h0M1588.5 1990h0M1577.5 1915h0M1688.5 2010.5h0M1521 1995h0M1591.5 1934.5h0M1590.5 2009.5h0M1552.5 1996h0M1476 2006.5h0M1589.5 1929.5h0M1552 2008h0M1576.5 1929.5h0M1627 1991h0M1464.5 2050.5h0M1542 1963.5h0M1691 2029.5h0M1603.5 1995h0M1604 1933h0M1550 1897.5h0M1600 1996.5h0M1524.5 1993.5h0M1652 2002.5h0M1516 2041.5h0M1572 2026h0M1555.5 1879h0M1467.5 2003h0M1703.5 1979.5h0M1445 1918h0M1539 1977h0M1534.5 1970.5h0M1459 1912.5h0M1719 1970h0M1478 2007h0M1670 1963h0M1589 1932h0M1621.5 2038.5h0M1647 1989h0M1486.5 1867.5h0M1625.5 1984h0M1594 2002.5h0M1594 1938h0M1638.5 1897.5h0M1590.5 1983.5h0M1583.5 1979.5h0M1560.5 1972h0M1513.5 2027.5h0M1541.5 1947h0M1587 1947.5h0M1600.5 2029h0M1695.5 1943h0M1566.5 1980.5h0M1542 1943.5h0M1432 1965.5h0M1489.5 1999h0M1481 1895.5h0M1512 1986h0M1566.5 1987h0M1541.5 1923.5h0M1649 2001.5h0M1656 1981h0M1494.5 1996.5h0M1570 1904h0M1581.5 1952h0M1603 1984h0M1620.5 1991.5h0M1626.5 1999h0M1701 1994.5h0M1634 2021.5h0M1548.5 1892h0M1453.5 1985h0M1555.5 1984h0M1510.5 1991h0M1553.5 1932h0M1522.5 1990h0M1672 1964.5h0M1510 2001.5h0M1574 1995.5h0M1639 1881h0M1586 2049.5h0M1454 2053.5h0M1593.5 1937.5h0M1580 1972h0M1561 1983.5h0M1578 1907h0M1562.5 1995h0M1604 1988h0M1552 1979.5h0M1567.5 1980.5h0M1619.5 1992.5h0M1527.5 1986.5h0M1559 1992.5h0M1548.5 1987.5h0M1634 1987h0M1539 1985.5h0M1526 2010h0M1599.5 1989.5h0M1677.5 1994.5h0M1598 2005h0M1612.5 2013.5h0M1583 1990h0M1554.5 1981.5h0M1634 1997.5h0M1582.5 1997.5h0M1543 1981h0M1563 1983.5h0M1529.5 2007.5h0M1561 1965h0M1546 2002.5h0M1545.5 1995.5h0M1621.5 1997h0M1517 1985h0M1509.5 2022h0M1588 1996h0M1553.5 1988h0M1556 2010.5h0M1633.5 1996h0M1532 1983h0M1509 1992h0M1526.5 2000.5h0M1535 1996h0M1572 1998.5h0M1582.5 1999h0M1607.5 2005h0M1544 1994h0M1580.5 2021h0M1522 2003.5h0M1541.5 2012.5h0M1566.5 1995.5h0M1514.5 1986h0M1629.5 1994.5h0M1543.5 1998h0M1524 1987.5h0M1569.5 1987.5h0M1628.5 2011h0M1506 2017h0M1566 2016h0M1524.5 1990h0M1593.5 1990h0M1538.5 2019h0M1471 2005.5h0M1547.5 1979.5h0M1546.5 1982.5h0M1620.5 1986.5h0M1518 1984h0M1591.5 1986h0M1554.5 2004h0M1642.5 1990.5h0M1548.5 1970.5h0M1534 2000h0M1572 2008h0M1631.5 2019.5h0M1544.5 2008.5h0M1621.5 2007.5h0M1563 2019.5h0M1570 1978h0M1612.5 2020.5h0M1605 2021.5h0M1584.5 1985h0M1636.5 2011.5h0M1542 1976h0M1462 2036.5h0M1589.5 2007.5h0M1569.5 1995.5h0M1552 1982.5h0M1609 1997h0M1472 2006h0M1548 1996h0M1612.5 2011.5h0M1572.5 2000.5h0M1611 1988h0M1571 2010.5h0M1511 2039.5h0M1567 1996.5h0M1507 2010h0M1624 1987h0M1524 1980.5h0M1548.5 1997.5h0M1580 1980.5h0M1555.5 1970h0M1551 1975.5h0M1540 1998h0M1564.5 2008.5h0M1590.5 1996.5h0M1518.5 1978.5h0M1579 1985h0M1566.5 2006.5h0M1516.5 1993.5h0M1592.5 1992h0M1500 1999h0M1509.5 2002.5h0M1545 1984.5h0M1556.5 1974.5h0M1545.5 1993.5h0M1586.5 1988.5h0M1557.5 2000h0M1545.5 1976h0M1625 2014.5h0M1596.5 1993.5h0M1568 2013h0M1573 2002.5h0M1645 1992.5h0M1598 2019h0M1575.5 1983.5h0M1542.5 1995.5h0M1661.5 1984h0M1548 1986h0M1619 1997.5h0M1532 2024.5h0M1571 1979h0M1572.5 1996h0M1568 2010.5h0M1605.5 1995h0M1571 1988.5h0M1507 2035.5h0M1567 2000h0M1598.5 1982h0M1595 1987h0M1550 2008.5h0M1579.5 1995.5h0M1533.5 2019h0M1564.5 2011h0M1565.5 2008h0M1542 1995.5h0M1570.5 1988h0M1534.5 1980h0M1613.5 1992h0M1555.5 1996.5h0M1607 1999.5h0M1594 1997.5h0M1508.5 2010h0M1472.5 2016h0M1544.5 1994.5h0M1571 2004.5h0M1572.5 2013h0M1539 1991.5h0M1648 1985h0M1554.5 1966h0M1620 1991.5h0M1579 1981h0M1553.5 2001h0M1602.5 2006.5h0M1661 1976.5h0M1532.5 1965.5h0M1536 1975.5h0M1555 1999.5h0M1547.5 2024.5h0M1559 1993.5h0M1561.5 1966.5h0M1536.5 1978.5h0M1560.5 2011.5h0M1550.5 2001h0M1614 2004h0M1535.5 1993h0M1593 1994h0M1584 1966h0M1566.5 2008h0M1605 2018h0M1576.5 1984h0M1530 1993.5h0M1544 1977h0M1572.5 1978.5h0M1478 1998h0M1571 2011.5h0M1518.5 1986.5h0M1525 1974h0M1620.5 2001h0M1607.5 2011h0M1586.5 1985h0M1575.5 1979h0M1522.5 1987h0M1634.5 1991h0M1604.5 2016h0M1588.5 1980h0M1618 2000h0M1568.5 2001.5h0M1562.5 1989h0M1592 2020h0M1593 2004h0M1627.5 1986.5h0M1544.5 1991h0M1634 1995.5h0M1564.5 2018.5h0M1603.5 1990.5h0M1575 2005.5h0M1487.5 2001h0M1554.5 1980.5h0M1554 2000h0M1545 1980h0M1663 1989h0M1545 1993h0M1584 2003.5h0M1588.5 1993.5h0M1543 1989h0M1522.5 1988.5h0M1623.5 1997.5h0M1530 1976h0M1574 1985h0M1572.5 1994.5h0M1593.5 2004h0M1581 2007h0M1521 1994h0M1542 1993.5h0M1603.5 1988.5h0M1530.5 1997h0M1631.5 2005.5h0M1516 1985.5h0M1535 2010h0M1534 2032.5h0M1477.5 1998.5h0M1612.5 2002h0M1600 1999h0M1603.5 1993.5h0M1569.5 2004.5h0M1691 2009.5h0M1563.5 2014h0M1547 1991.5h0M1463.5 2016h0M1526 1992.5h0" fill="none" stroke="#000" stroke-width="1.4" stroke-linecap="square"/><path d="M1660 2097.5h0M1693 2101h0M1689.5 2115h0M1625 2124h0" fill="none" stroke="#000" stroke-width="1.4" stroke-linecap="square"/><rect x="1405.5" y="1806.4" width="330.2" height="330.6" fill="none" stroke="#505050" stroke-width="1.15"/><text x="1392" y="1854.1" font-size="20.7" text-anchor="end">10<tspan dy="-9.3" font-size="12.8" dx="1.6">5</tspan></text><text x="1392" y="1945.6" font-size="20.7" text-anchor="end">10<tspan dy="-9.3" font-size="12.8" dx="1.6">4</tspan></text><text x="1382" y="2031.5" font-size="20.7" text-anchor="end">0</text><text x="1392" y="2121.5" font-size="20.7" text-anchor="end">-10<tspan dy="-9.3" font-size="12.8" dx="1.6">4</tspan></text><text x="1429.3" y="2175" font-size="20.7" text-anchor="middle">-10<tspan dy="-9.3" font-size="12.8" dx="1.6">4</tspan></text><text x="1503.6" y="2174.5" font-size="20.7" text-anchor="middle">0</text><text x="1589.7" y="2175" font-size="20.7" text-anchor="middle">10<tspan dy="-9.3" font-size="12.8" dx="1.6">4</tspan></text><text x="1673.7" y="2175" font-size="20.7" text-anchor="middle">10<tspan dy="-9.3" font-size="12.8" dx="1.6">5</tspan></text><text x="1724.5" y="2175" font-size="20.7" text-anchor="middle">10<tspan dy="-9.3" font-size="12.8" dx="1.6">6</tspan></text><path d="M1405.5 1846.6h-9M1405.5 1938.1h-9M1405.5 2114h-9M1424.3 2137v9M1583.7 2137v9M1665.7 2137v9M1735 2137v9" stroke="#000" stroke-width="2.4" fill="none"/><path d="M1405.5 1910.6h-4.5M1405.5 1894.4h-4.5M1405.5 1883.0h-4.5M1405.5 1874.1h-4.5M1405.5 1866.9h-4.5M1405.5 1860.8h-4.5M1405.5 1855.5h-4.5M1405.5 1850.8h-4.5M1405.5 1809.4h-4.5M1405.5 1821.1h-4.5M1405.5 1943.0h-4.5M1405.5 1948.0h-4.5M1405.5 1953.5h-4.5M1405.5 1960.0h-4.5M1405.5 1966.0h-4.5M1405.5 1978.5h-4.5M1405.5 1988.5h-4.5M1405.5 2000.5h-4.5M1405.5 2051.0h-4.5M1405.5 2062.0h-4.5M1405.5 2074.0h-4.5M1405.5 2085.0h-4.5M1405.5 2092.0h-4.5M1405.5 2098.0h-4.5M1405.5 2103.0h-4.5M1405.5 2107.0h-4.5M1608.4 2137v4.5M1622.8 2137v4.5M1633.1 2137v4.5M1641.0 2137v4.5M1647.5 2137v4.5M1653.0 2137v4.5M1657.8 2137v4.5M1661.9 2137v4.5M1686.6 2137v4.5M1698.8 2137v4.5M1707.4 2137v4.5M1714.1 2137v4.5M1719.6 2137v4.5M1724.3 2137v4.5M1728.3 2137v4.5M1731.8 2137v4.5M1430.0 2137v4.5M1437.0 2137v4.5M1445.0 2137v4.5M1454.0 2137v4.5M1464.0 2137v4.5M1529.0 2137v4.5M1540.0 2137v4.5M1550.0 2137v4.5M1559.0 2137v4.5M1567.0 2137v4.5M1574.0 2137v4.5" stroke="#111" stroke-width="1.2" fill="none"/><path d="M1405.5 2014h-8.5M1405.5 2017.5h-5M1405.5 2021h-8.5M1405.5 2024.5h-5.5M1405.5 2028h-8.5M1405.5 2031.5h-5M1405.5 2035h-8.5M1403.3 2012.7v23.6M1493.1 2137v8.5M1496.6 2137v5M1500.1 2137v8.5M1503.6 2137v5.5M1507.1 2137v8.5M1510.6 2137v5M1514.1 2137v8.5M1491.8 2139.2h23.6" stroke="#000" stroke-width="2.6" fill="none"/><text x="1571.8" y="2198" font-size="20.7" text-anchor="middle">Comp-Alexa Fluor 700-A :: CD8a</text><text transform="translate(1343,1976.3) rotate(-90)" font-size="20.7" text-anchor="middle">Comp-BUV615-A :: CD3</text><rect x="1609.4" y="1865.4" width="108.9" height="102.3" fill="none" stroke="#000" stroke-width="2"/><text x="1687.4" y="1992.9" font-size="20.7" text-anchor="middle">CD8a+</text><text x="1680.7" y="2012.2" font-size="20.7" text-anchor="middle">48.9</text></g>
</svg></body></html>
